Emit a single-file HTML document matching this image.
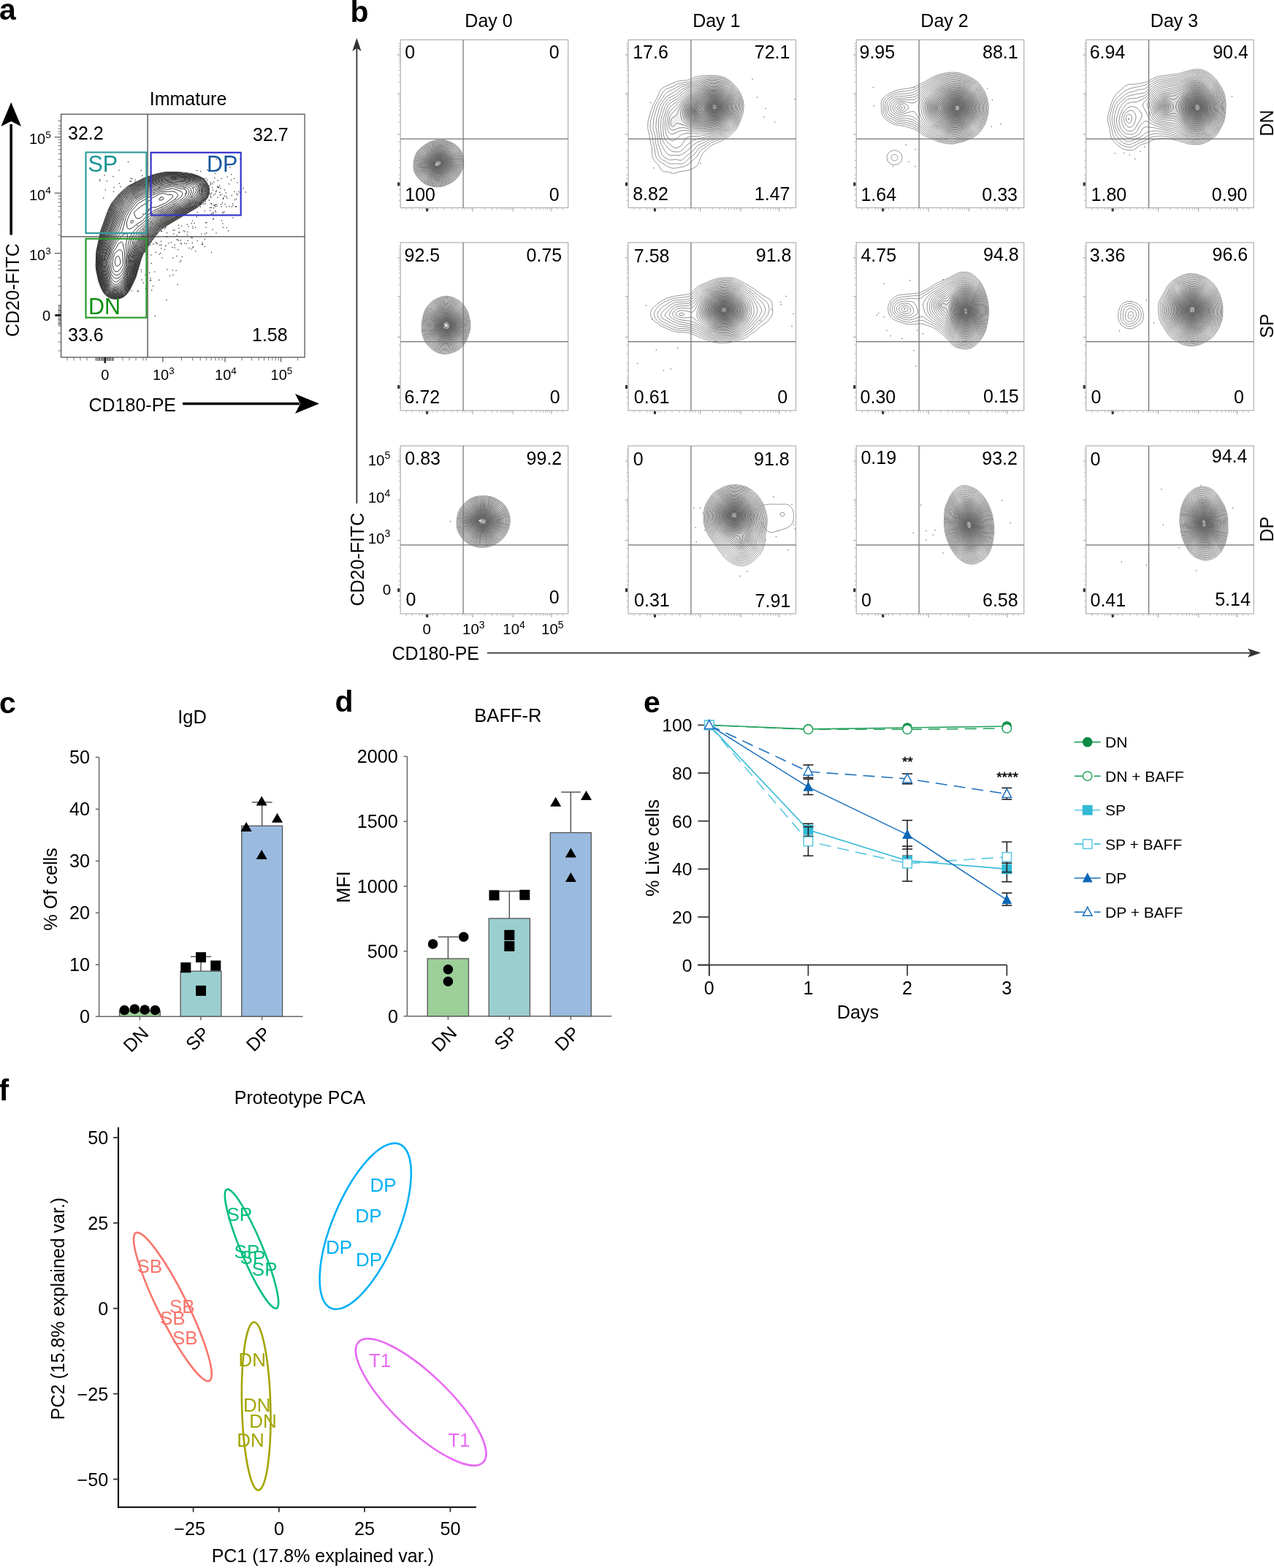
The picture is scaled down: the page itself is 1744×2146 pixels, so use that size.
<!DOCTYPE html>
<html><head><meta charset="utf-8"><title>Figure</title>
<style>html,body{margin:0;padding:0;background:#fff;}svg{display:block;}</style></head>
<body><svg width="1744" height="2146" viewBox="0 0 1744 2146" font-family="'Liberation Sans', Arial, Helvetica, sans-serif">
<rect width="1744" height="2146" fill="#fff"/>
<text x="-1" y="26.5" font-size="41" font-weight="bold">a</text>
<text x="257.5" y="143.5" font-size="25" text-anchor="middle">Immature</text>
<line x1="15.2" y1="170" x2="15.2" y2="321.5" stroke="#000" stroke-width="3.6"/>
<path d="M15.2,140 L29,173 L15.2,166 L1.4,173 Z" fill="#000"/>
<line x1="250" y1="552.5" x2="410" y2="552.5" stroke="#000" stroke-width="3.6"/>
<path d="M437,552.5 L404,539 L411,552.5 L404,566 Z" fill="#000"/>
<text x="121.5" y="562.6" font-size="25">CD180-PE</text>
<text x="25.5" y="461" font-size="25" transform="rotate(-90 25.5 461)">CD20-FITC</text>
<clipPath id="ca"><rect x="83.6" y="156.3" width="333.5" height="332.7"/></clipPath>
<g clip-path="url(#ca)" fill="none" stroke-linejoin="round">
<path d="M159.6,409.3 154.6,409.1 149.6,407.4 145.1,404.3 141.3,399.8 138.3,393.8 134.9,384.8 131.9,370.8 131.1,363.8 131.8,344.3 137.9,315.8 147.3,289.3 150.8,281.8 153.7,276.8 163.1,265.3 171.6,257.5 175.6,254.5 197.6,243.4 213.6,238.1 226.6,235.4 244.1,235.5 256.6,236.7 263.6,238.0 272.6,241.1 278.1,244.1 281.0,246.8 283.5,250.3 285.2,253.8 286.2,257.8 286.6,261.8 286.2,265.3 284.9,268.8 283.1,271.8 277.3,278.3 270.6,283.6 227.3,309.3 221.1,313.7 216.6,318.1 205.6,332.8 196.1,347.4 193.6,353.5 185.8,379.8 181.8,388.8 176.7,398.3 172.8,403.3 169.1,406.4 164.6,408.4 159.6,409.3" fill="none" stroke="#191919" stroke-width="0.85"/>
<path d="M162.1,408.3 156.6,408.7 151.6,407.6 146.1,404.4 142.3,400.3 139.8,395.8 135.9,385.8 132.8,372.3 131.7,364.8 132.4,344.8 138.8,315.8 148.3,289.3 151.4,282.3 154.4,277.3 163.9,265.8 175.6,255.5 198.1,244.1 213.1,239.0 226.1,236.2 242.1,236.1 262.6,238.5 271.1,241.2 277.1,244.2 280.1,246.8 282.4,249.8 284.3,253.3 285.3,256.8 285.8,261.3 285.5,264.8 284.4,268.3 282.6,271.3 276.7,277.8 270.6,282.7 226.6,308.8 220.3,313.3 215.8,317.8 205.1,331.9 195.1,347.8 192.6,354.3 185.3,379.3 176.9,396.8 173.8,401.3 170.1,405.0 166.6,407.0 162.1,408.3" fill="none" stroke="#191919" stroke-width="0.85"/>
<path d="M161.1,407.9 155.6,408.0 151.1,406.7 146.4,403.8 142.7,399.8 139.8,394.3 136.4,385.3 133.3,371.8 132.3,364.8 133.0,344.8 139.3,317.3 148.8,290.3 151.8,283.3 154.7,278.3 164.6,266.3 176.6,255.9 198.1,245.0 213.1,239.9 226.1,237.0 241.6,236.8 263.1,239.4 271.6,242.1 277.1,245.1 281.9,250.3 283.6,253.8 284.6,257.3 284.9,264.3 283.8,267.8 282.0,270.8 276.2,277.3 270.1,282.1 225.2,308.8 219.6,312.8 215.1,317.3 205.1,330.3 194.6,347.1 192.0,353.8 184.8,378.8 176.3,396.8 173.1,401.3 169.6,404.6 166.1,406.6 161.1,407.9" fill="none" stroke="#191919" stroke-width="0.85"/>
<path d="M160.1,407.3 155.1,407.2 150.6,405.8 146.1,402.7 142.8,398.8 140.3,393.8 136.9,384.8 133.7,370.8 132.9,364.3 133.8,344.8 140.0,317.8 149.8,290.3 152.8,283.3 155.6,278.6 165.4,266.8 177.1,256.7 198.6,245.7 213.6,240.7 226.6,237.7 241.1,237.5 263.1,240.1 271.1,242.7 276.6,245.7 281.3,250.8 283.8,257.3 284.0,264.3 283.1,267.3 281.4,270.3 275.6,276.8 269.6,281.5 224.4,308.3 219.1,312.1 214.9,316.3 204.6,329.4 194.6,345.4 191.1,354.1 184.4,378.3 175.9,396.3 172.7,400.8 169.1,404.2 165.1,406.3 160.1,407.3" fill="none" stroke="#181818" stroke-width="0.85"/>
<path d="M162.1,406.4 156.6,406.7 152.1,405.7 147.6,403.1 143.9,399.3 141.2,394.3 137.7,385.3 134.4,370.8 133.6,364.8 134.3,346.3 138.4,327.3 141.8,314.8 149.3,294.3 153.3,284.3 156.1,279.5 165.7,267.8 177.1,257.9 198.6,246.7 212.1,242.0 226.1,238.6 240.1,238.3 263.1,240.9 270.1,243.1 275.6,246.0 280.3,250.8 282.9,256.8 283.2,263.8 282.4,266.8 280.8,269.8 275.1,276.2 269.6,280.6 222.9,308.3 218.1,311.8 213.6,316.5 204.1,328.4 194.1,344.6 190.5,353.3 183.8,377.8 175.5,395.8 172.7,399.8 169.6,403.0 166.1,405.1 162.1,406.4" fill="none" stroke="#181818" stroke-width="0.85"/>
<path d="M160.6,405.9 155.6,405.9 151.1,404.5 147.1,401.9 144.1,398.3 141.3,392.8 138.3,384.8 134.9,370.3 134.2,364.3 135.1,346.3 138.9,328.3 142.5,315.8 149.4,296.8 153.9,285.3 156.7,280.3 166.6,268.3 177.6,258.8 199.1,247.4 211.6,243.1 226.1,239.4 239.6,239.0 262.6,241.6 269.6,243.7 275.1,246.7 279.7,251.3 282.1,257.3 282.2,264.3 279.7,269.8 274.6,275.6 269.1,279.9 256.1,288.0 222.0,307.8 217.4,311.3 212.6,316.3 203.1,328.1 193.6,343.6 189.6,353.6 183.0,378.3 174.8,395.8 171.9,399.8 168.6,402.9 165.1,404.8 160.6,405.9" fill="none" stroke="#181818" stroke-width="0.85"/>
<path d="M162.1,404.9 157.1,405.3 152.6,404.3 148.1,401.8 144.9,398.3 142.3,393.3 138.9,384.3 135.5,369.8 134.8,364.3 135.8,346.8 139.7,328.8 143.3,316.3 149.9,298.3 155.0,285.3 157.6,280.8 167.1,269.2 177.6,260.0 198.1,248.9 208.1,245.0 225.6,240.4 239.1,239.8 263.1,242.5 269.6,244.6 274.4,247.3 278.9,251.8 281.0,256.8 281.3,263.8 280.4,266.8 278.9,269.3 273.1,275.8 265.1,281.6 219.7,308.3 215.5,311.8 209.7,318.3 202.1,327.8 192.6,343.7 188.7,353.8 182.4,377.8 174.9,394.3 172.3,398.3 169.1,401.6 166.1,403.6 162.1,404.9" fill="none" stroke="#181818" stroke-width="0.85"/>
<path d="M160.6,404.3 156.1,404.4 151.6,403.1 147.6,400.4 144.8,396.8 139.5,383.8 136.2,369.8 135.5,363.3 136.5,347.3 140.4,329.3 144.2,316.8 150.4,299.8 156.0,285.8 158.5,281.3 168.0,269.8 178.1,260.9 193.1,252.5 202.1,248.0 207.6,246.0 226.1,241.2 238.6,240.6 262.6,243.2 268.6,245.1 273.6,247.9 278.1,252.3 280.1,257.3 280.2,263.8 277.7,269.3 272.6,275.0 263.6,281.5 219.5,307.3 214.8,311.3 208.6,318.1 201.6,326.8 192.1,342.6 188.0,353.3 181.9,377.3 174.1,394.3 171.4,398.3 168.1,401.5 164.6,403.4 160.6,404.3" fill="none" stroke="#181818" stroke-width="0.85"/>
<path d="M161.6,403.3 156.6,403.6 152.6,402.7 148.6,400.3 145.6,396.8 142.9,391.3 140.2,383.8 136.9,369.3 136.2,363.3 137.4,347.3 141.1,329.8 145.2,316.8 151.5,299.8 157.0,286.3 159.2,282.3 168.5,270.8 178.1,262.2 192.1,254.0 203.1,248.5 207.1,247.1 226.1,242.2 238.6,241.5 252.1,242.6 262.6,244.1 268.1,245.8 272.5,248.3 277.1,252.6 279.1,257.3 278.9,264.3 276.5,269.3 271.6,274.6 262.6,281.0 253.1,287.0 238.4,294.8 219.1,306.4 214.1,310.7 207.1,318.3 200.6,326.4 191.6,341.3 187.1,353.1 184.7,364.3 181.3,376.8 173.9,393.3 171.3,397.3 168.3,400.3 165.1,402.3 161.6,403.3" fill="none" stroke="#171717" stroke-width="0.85"/>
<path d="M158.6,402.8 154.6,402.5 151.1,401.1 148.1,398.7 145.3,394.8 142.3,387.8 140.5,381.8 137.4,367.8 136.9,361.8 138.2,347.8 141.9,330.3 146.1,317.3 152.9,299.3 158.2,286.3 160.6,282.3 169.1,271.8 178.6,263.2 191.6,255.4 206.6,248.1 226.1,243.2 238.1,242.4 251.6,243.4 262.6,245.0 267.6,246.6 271.6,248.9 276.1,253.1 277.9,257.3 277.8,263.8 275.2,269.3 269.7,274.8 254.1,285.4 238.3,293.8 219.1,305.1 214.1,309.3 206.6,317.3 200.1,325.3 190.9,340.3 186.1,353.3 183.9,364.3 180.5,376.8 173.1,393.3 170.1,397.5 166.6,400.5 163.1,402.1 158.6,402.8" fill="none" stroke="#171717" stroke-width="0.85"/>
<path d="M159.6,401.8 155.1,401.7 151.6,400.4 148.6,398.0 146.0,394.3 143.3,388.3 141.2,381.8 138.1,367.3 137.7,361.3 138.9,348.8 142.9,330.3 154.8,297.8 159.4,286.8 161.7,282.8 169.6,273.0 179.1,264.2 191.6,256.6 206.6,249.1 226.1,244.3 238.1,243.4 251.6,244.3 262.1,245.8 266.6,247.2 270.3,249.3 274.8,253.3 276.7,257.3 276.5,263.8 274.2,268.8 269.1,273.9 253.1,285.0 237.2,293.3 218.6,304.2 213.1,308.9 205.1,317.5 199.1,324.9 189.9,339.8 185.3,352.8 183.3,363.8 179.9,376.3 172.7,392.3 170.1,396.2 167.1,399.1 163.6,401.0 159.6,401.8" fill="none" stroke="#171717" stroke-width="0.85"/>
<path d="M160.1,400.8 155.6,400.9 152.1,399.7 149.1,397.3 146.3,393.3 143.7,387.3 141.8,380.8 138.8,366.8 138.4,360.8 139.8,348.8 144.0,330.3 157.3,294.8 160.5,287.3 162.9,283.3 170.1,274.2 179.6,265.2 192.1,257.5 206.6,250.1 225.6,245.5 237.6,244.4 251.6,245.3 261.6,246.8 265.6,247.9 269.1,249.8 273.6,253.8 275.4,257.3 275.3,263.3 273.1,268.3 267.6,273.6 252.1,284.5 236.9,292.3 218.6,302.8 212.2,308.3 203.6,317.5 198.1,324.4 189.0,339.3 184.4,352.8 182.3,364.3 179.1,376.3 172.3,391.3 170.1,394.8 167.1,397.9 164.1,399.7 160.1,400.8" fill="none" stroke="#171717" stroke-width="0.85"/>
<path d="M159.6,399.8 155.6,399.9 152.1,398.6 149.1,395.9 146.8,392.3 144.2,386.3 142.3,379.3 139.5,365.8 139.3,359.8 140.4,350.3 144.9,330.8 158.8,294.3 162.0,287.3 164.5,283.3 170.6,275.5 180.1,266.3 192.1,258.8 207.1,251.1 226.1,246.5 237.6,245.5 251.6,246.3 261.1,247.8 265.1,248.9 268.4,250.8 272.7,254.8 274.2,258.8 273.4,264.8 270.1,269.8 261.6,276.8 250.6,284.3 236.4,291.3 217.6,302.1 209.6,309.3 198.2,322.3 189.6,335.5 187.6,339.7 183.4,352.8 181.5,364.3 178.4,375.8 172.9,388.3 170.1,393.2 167.1,396.5 163.6,398.7 159.6,399.8" fill="none" stroke="#161616" stroke-width="0.85"/>
<path d="M159.1,398.8 155.1,398.7 152.1,397.3 149.1,394.4 146.8,390.3 144.5,384.3 142.7,377.3 140.3,365.3 140.2,358.8 141.4,350.3 146.1,330.8 160.4,293.8 166.1,283.3 171.6,276.3 181.1,267.0 192.6,259.9 207.1,252.2 226.6,247.6 237.6,246.6 253.1,247.6 262.6,249.4 267.5,251.8 271.5,255.8 272.7,259.3 271.8,264.8 268.5,269.3 260.6,276.1 249.6,283.7 235.8,290.3 217.3,300.8 209.1,308.0 197.6,321.1 188.7,334.8 186.6,339.1 182.3,353.3 180.7,363.8 177.8,374.8 173.4,385.3 170.1,391.5 167.1,395.1 163.6,397.5 159.1,398.8" fill="none" stroke="#161616" stroke-width="0.85"/>
<path d="M157.6,397.8 154.1,397.2 151.3,395.3 148.9,392.3 146.5,387.3 144.3,380.3 141.5,366.3 141.0,361.8 141.2,356.8 146.4,334.3 150.7,322.3 162.6,292.3 165.9,286.3 170.5,279.8 182.1,267.8 192.6,261.3 207.6,253.4 226.6,248.9 237.6,247.8 253.1,248.8 262.1,250.8 266.6,253.2 270.3,257.3 270.9,261.3 269.2,265.8 263.8,271.8 258.6,276.1 248.6,283.0 235.6,289.0 217.2,299.3 208.9,306.3 196.6,320.3 187.8,333.8 185.6,338.4 181.1,353.8 179.4,365.8 176.3,376.8 173.4,383.3 169.6,390.3 166.6,394.0 162.6,396.6 157.6,397.8" fill="none" stroke="#161616" stroke-width="0.85"/>
<path d="M159.6,396.3 156.1,396.5 153.1,395.2 150.2,392.3 148.0,388.3 145.7,381.8 142.7,367.3 142.0,362.3 142.1,357.3 143.3,350.8 148.5,331.8 163.8,293.3 167.0,287.3 171.3,281.3 179.6,271.8 182.9,268.8 204.6,256.1 207.6,254.8 226.6,250.2 236.6,249.1 252.6,250.1 260.6,252.1 264.6,254.2 267.9,257.8 268.6,259.8 268.4,261.8 266.2,266.3 261.1,272.3 247.6,282.1 235.1,287.8 217.6,297.3 208.6,304.6 194.8,320.3 186.6,333.2 184.1,339.0 180.0,353.8 178.7,364.8 173.9,380.3 170.1,387.5 167.0,391.8 163.6,394.7 159.6,396.3" fill="none" stroke="#161616" stroke-width="0.85"/>
<path d="M160.1,394.8 156.6,395.1 153.6,394.0 151.1,391.5 148.7,387.3 146.7,381.3 143.9,368.3 143.0,362.3 143.0,357.8 143.9,352.3 149.2,333.8 165.3,293.8 169.4,286.8 175.4,278.8 183.1,270.3 207.1,256.6 226.6,251.7 236.1,250.4 245.6,251.6 252.6,251.7 258.5,253.3 261.6,254.9 264.6,258.3 265.2,261.8 262.9,267.3 259.3,271.8 247.1,280.8 234.9,286.3 226.6,291.2 220.1,293.9 211.7,299.8 206.6,304.5 191.4,322.3 185.1,332.9 182.0,341.3 178.7,354.8 177.9,364.3 173.5,378.8 170.1,385.3 166.7,390.3 163.6,393.2 160.1,394.8" fill="none" stroke="#161616" stroke-width="0.85"/>
<path d="M160.1,393.3 157.1,393.6 154.1,392.5 151.6,389.9 149.6,386.3 147.8,381.3 145.3,369.8 144.2,362.3 144.1,357.3 144.9,352.8 150.0,335.3 160.0,312.3 167.1,293.8 170.0,288.8 181.1,274.3 184.0,271.3 207.1,258.3 214.1,256.9 223.1,254.2 235.6,251.8 239.1,252.0 245.6,253.4 252.6,253.6 256.6,254.7 259.1,256.1 261.5,259.3 261.9,262.8 260.3,267.3 257.2,271.3 246.1,279.4 234.6,284.8 226.6,289.5 219.1,292.6 210.1,298.9 193.9,316.3 187.3,324.3 183.3,332.8 180.4,341.8 177.6,354.5 176.9,364.3 173.0,377.3 170.1,383.1 166.1,388.8 163.1,391.8 160.1,393.3" fill="none" stroke="#151515" stroke-width="0.85"/>
<path d="M158.6,391.9 156.1,391.5 154.1,390.3 152.0,387.8 150.0,383.8 146.4,369.3 145.3,361.3 145.3,356.8 151.1,336.3 161.8,313.3 168.5,294.8 171.1,290.2 182.8,274.8 185.1,272.4 207.1,260.3 214.1,258.8 222.1,256.2 235.6,253.4 239.1,253.6 245.6,255.5 252.6,255.8 256.6,257.5 258.6,260.3 258.8,263.8 257.1,267.8 254.1,271.3 245.1,277.7 226.1,288.0 218.1,291.3 209.1,297.5 206.1,300.2 199.1,308.5 192.6,314.8 184.6,323.8 182.7,327.3 179.2,339.8 176.4,354.3 176.0,363.8 172.1,376.5 169.1,382.3 164.6,388.2 161.6,390.8 158.6,391.9" fill="none" stroke="#151515" stroke-width="0.85"/>
<path d="M159.6,389.4 157.1,389.5 155.1,388.4 152.9,385.8 151.1,382.3 147.6,369.3 146.5,360.3 146.6,356.3 152.1,337.7 160.1,321.5 164.3,314.3 170.4,295.3 172.9,290.8 186.1,273.9 207.6,262.2 221.1,258.4 235.6,255.3 238.6,255.6 244.6,257.7 251.1,258.5 253.6,259.5 255.2,261.8 255.0,264.8 253.2,268.3 250.4,271.3 243.3,276.3 225.6,286.3 216.3,290.3 207.4,296.3 198.1,306.6 191.1,312.6 182.0,322.8 180.1,326.6 177.9,335.3 175.2,354.3 175.0,363.3 171.7,373.8 169.9,378.3 167.1,382.5 162.6,387.6 159.6,389.4" fill="none" stroke="#151515" stroke-width="0.85"/>
<path d="M159.6,386.0 157.6,386.0 155.6,384.9 153.6,382.6 152.1,379.5 149.0,369.3 147.9,359.8 148.0,356.3 152.1,342.3 155.1,335.2 162.6,322.3 167.6,315.8 172.6,296.4 176.2,289.8 187.6,275.6 208.6,264.2 220.6,260.5 229.1,259.6 235.6,258.0 238.6,258.4 248.5,262.3 249.8,263.8 249.7,266.3 248.3,268.8 245.4,271.8 231.6,280.7 223.3,285.3 214.6,288.9 205.7,294.8 202.9,297.3 197.1,304.2 188.8,310.3 180.6,319.5 177.9,324.8 175.2,335.3 174.9,346.3 173.8,354.8 173.9,361.8 173.1,365.8 170.0,374.3 167.6,378.8 163.6,383.2 159.6,386.0" fill="none" stroke="#151515" stroke-width="0.85"/>
<path d="M177.6,313.3 175.6,313.2 174.0,310.8 173.3,305.8 174.1,301.4 179.5,289.3 189.6,278.1 208.1,267.3 220.1,262.6 229.6,262.4 236.1,261.7 240.1,263.0 243.0,265.3 243.5,266.8 242.9,268.8 241.1,271.3 238.8,273.3 228.1,280.2 209.6,288.9 201.5,294.8 194.8,302.3 188.1,306.1 181.6,311.7 177.6,313.3M160.6,380.9 158.1,381.0 156.1,380.1 154.1,378.0 152.1,374.3 150.4,368.3 149.6,359.3 149.8,356.3 153.5,343.3 159.3,331.8 166.1,323.2 170.1,320.5 173.1,319.4 174.2,320.3 174.6,322.8 172.2,336.3 173.0,345.8 172.3,363.3 169.6,370.8 167.1,375.8 164.1,379.1 160.6,380.9" fill="none" stroke="#151515" stroke-width="0.85"/>
<path d="M191.1,298.8 188.1,299.1 186.1,298.1 183.6,292.3 184.2,289.8 192.6,282.7 201.1,277.4 208.6,270.8 217.6,265.9 221.1,264.8 224.6,264.9 230.6,266.5 234.6,266.5 236.6,267.7 236.7,269.3 235.6,270.8 227.1,277.6 214.6,283.3 206.1,284.3 202.6,289.3 197.4,293.3 193.6,297.4 191.1,298.8M180.1,305.4 178.8,304.8 178.8,303.3 180.1,301.9 182.1,301.6 182.7,302.3 182.5,303.3 181.4,304.8 180.1,305.4M161.1,376.4 158.6,376.5 156.6,375.7 153.6,372.2 152.2,367.3 151.7,357.3 155.6,344.1 159.1,339.3 162.1,333.6 164.6,331.6 166.6,331.1 168.0,332.8 170.5,344.8 170.8,361.8 169.6,365.6 166.1,372.5 163.6,375.2 161.1,376.4" fill="none" stroke="#141414" stroke-width="0.85"/>
<path d="M221.1,273.9 218.2,273.8 217.7,272.3 219.6,270.1 222.1,269.6 223.4,270.3 223.9,271.8 223.1,273.0 221.1,273.9M160.1,371.9 157.4,371.3 155.4,368.8 154.2,362.8 154.1,357.3 156.1,349.7 157.6,346.4 161.6,342.6 164.6,341.6 166.6,343.2 167.6,345.8 168.5,360.8 167.5,363.8 164.1,368.8 162.1,371.0 160.1,371.9" fill="none" stroke="#141414" stroke-width="0.85"/>
<path d="M161.6,363.9 160.1,364.2 158.6,363.4 157.6,361.3 157.3,358.8 157.6,355.8 158.6,353.0 160.1,351.0 161.6,350.3 162.6,350.9 163.6,352.9 165.1,358.8 164.2,361.8 161.6,363.9" fill="none" stroke="#141414" stroke-width="0.85"/>
</g>
<path d="M328.7,216.9h0M299.5,256.6h0M283.9,263.7h0M255.6,263.4h0M276.4,334.5h0M296.1,260.9h0M286.9,254.6h0M273.0,260.2h0M300.7,263.2h0M309.2,264.0h0M292.4,298.9h0M301.8,257.9h0M288.7,278.8h0M326.8,262.6h0M287.6,288.0h0M276.0,262.2h0M307.9,279.6h0M293.6,281.4h0M241.1,288.4h0M274.7,234.6h0M297.0,282.0h0M284.0,246.5h0M292.5,266.9h0M317.3,282.9h0M295.5,290.2h0M288.3,249.5h0M302.5,279.7h0M288.1,252.3h0M296.1,218.1h0M304.4,277.8h0M262.5,269.2h0M274.6,283.1h0M255.4,249.7h0M304.8,291.1h0M253.2,258.0h0M297.9,255.8h0M320.6,244.2h0M298.4,247.0h0M317.3,267.6h0M285.3,233.6h0M322.3,283.1h0M305.6,290.8h0M298.3,255.2h0M277.6,252.0h0M316.7,238.8h0M281.3,261.6h0M296.0,279.5h0M269.5,233.4h0M291.9,292.3h0M305.6,272.3h0M286.3,273.9h0M287.6,284.3h0M277.7,270.7h0M290.0,278.9h0M296.0,319.0h0M319.0,297.9h0M255.3,261.2h0M281.0,278.7h0M251.0,291.5h0M311.2,242.0h0M274.4,252.0h0M292.8,280.8h0M328.9,264.1h0M305.8,271.1h0M323.7,282.8h0M316.6,246.4h0M288.5,251.7h0M319.1,281.2h0M286.5,259.0h0M300.7,254.0h0M275.2,277.6h0M336.3,263.1h0M282.0,244.6h0M268.0,278.5h0M307.3,268.2h0M298.0,270.3h0M294.5,237.5h0M283.8,270.2h0M277.9,258.5h0M277.3,261.3h0M307.4,259.9h0M289.2,284.3h0M303.6,301.9h0M254.4,285.1h0M283.3,270.7h0M307.1,289.7h0M310.7,271.1h0M321.0,262.3h0M289.5,284.0h0M282.1,311.2h0M310.3,311.5h0M291.5,260.3h0M295.0,282.7h0M281.4,275.6h0M291.7,300.3h0M280.1,288.9h0M280.4,248.8h0M279.2,244.2h0M294.6,288.6h0M295.0,280.5h0M321.4,273.4h0M295.5,262.5h0M263.1,283.2h0M260.4,281.1h0M291.7,290.5h0M290.8,251.5h0M298.4,256.8h0M288.7,268.8h0M289.6,264.2h0M277.0,264.2h0M253.5,264.9h0M270.4,290.4h0M314.9,229.0h0M294.6,265.5h0M273.2,278.6h0M283.7,232.6h0M287.2,265.0h0M293.9,243.4h0M303.1,282.7h0M271.4,254.8h0M290.6,256.7h0M323.4,272.2h0M273.8,252.2h0M291.0,313.9h0M288.8,270.5h0M301.3,267.2h0M333.1,257.4h0M305.4,271.2h0M303.2,244.5h0M323.8,265.6h0M292.6,249.3h0M278.9,279.3h0M309.8,283.1h0M313.8,282.3h0M292.5,284.7h0M302.7,266.0h0M305.1,293.7h0M296.2,260.9h0M304.9,306.0h0M288.2,266.2h0M289.5,292.5h0M258.9,275.3h0M313.5,251.7h0M318.8,278.7h0M282.1,272.1h0M264.4,256.7h0M324.9,250.1h0M325.2,266.4h0M309.9,268.9h0M251.7,256.5h0M245.3,295.0h0M202.3,325.3h0M221.8,284.1h0M220.8,335.2h0M226.7,336.7h0M282.8,318.7h0M208.4,292.0h0M239.3,335.6h0M247.5,328.9h0M227.6,324.0h0M226.8,311.5h0M203.8,286.6h0M226.5,295.8h0M213.2,331.4h0M237.0,376.3h0M265.9,305.3h0M261.8,325.1h0M220.8,340.1h0M218.3,256.8h0M262.2,305.7h0M281.6,305.0h0M206.9,349.0h0M209.9,322.1h0M280.6,320.3h0M237.7,320.0h0M263.5,301.9h0M257.1,329.5h0M305.3,311.3h0M214.4,332.7h0M228.9,323.8h0M243.7,341.4h0M221.6,316.2h0M168.5,300.2h0M283.0,304.4h0M220.4,293.6h0M256.2,321.6h0M206.8,331.3h0M247.3,333.1h0M222.0,352.8h0M251.5,315.7h0M225.5,313.1h0M264.0,312.6h0M270.2,329.6h0M277.7,334.3h0M238.2,279.8h0M248.4,333.8h0M244.6,329.1h0M226.8,310.4h0M213.6,345.2h0M244.4,308.2h0M202.7,314.9h0M280.4,327.2h0M219.7,346.6h0M280.0,337.6h0M262.1,341.1h0M255.2,333.5h0M218.2,348.0h0M246.5,358.5h0M182.8,332.1h0M267.5,311.1h0M252.7,333.0h0M256.2,307.2h0M236.0,338.4h0M275.8,320.0h0M242.2,322.0h0M269.1,296.9h0M202.8,320.5h0M209.0,306.3h0M242.4,327.7h0M210.0,334.0h0M190.3,328.9h0M195.8,292.5h0M258.0,309.9h0M217.7,309.1h0M253.0,316.9h0M239.2,339.1h0M219.9,308.6h0M225.4,341.4h0M267.8,343.7h0M239.1,314.9h0M263.9,310.1h0M263.3,332.5h0M220.4,316.3h0M236.7,352.7h0M312.5,316.0h0M240.4,272.4h0M245.9,317.9h0M210.0,333.7h0M196.2,313.7h0M243.9,293.0h0M264.0,339.1h0M201.2,289.8h0M256.9,317.4h0M206.1,312.1h0M237.0,315.1h0M263.2,325.7h0M289.5,345.5h0M259.0,339.5h0M277.1,332.1h0M205.7,335.2h0M242.0,350.4h0M242.6,328.5h0M249.2,351.6h0M245.0,312.6h0M248.7,309.2h0M244.5,317.9h0M247.6,356.5h0M228.6,318.7h0M234.4,331.5h0M206.9,304.1h0M199.0,376.4h0M198.8,345.0h0M178.3,375.4h0M236.1,369.7h0M204.7,373.3h0M176.4,350.6h0M193.3,368.9h0M199.2,323.5h0M228.1,410.8h0M193.4,372.0h0M206.7,383.5h0M163.0,408.4h0M188.3,397.9h0M202.0,348.3h0M196.5,386.9h0M178.4,348.7h0M187.9,308.5h0M232.5,377.4h0M199.5,394.9h0M176.1,357.8h0M243.1,389.4h0M144.4,260.0h0M174.1,391.8h0M188.2,353.5h0M215.2,333.4h0M205.3,383.8h0M211.7,371.9h0M184.9,375.4h0M189.3,399.1h0M264.3,337.8h0M145.6,347.2h0M209.4,391.5h0M227.0,336.5h0M180.2,398.0h0M172.7,392.7h0M194.3,383.0h0M217.7,383.3h0M220.5,330.3h0M207.4,360.4h0M207.7,397.0h0M193.2,338.6h0M181.8,350.7h0M218.8,335.6h0M229.0,368.7h0M194.3,320.1h0M206.1,380.7h0M155.9,395.8h0M241.2,370.2h0M212.3,432.4h0M230.8,333.1h0M179.5,248.1h0M175.5,221.6h0M202.7,242.4h0M184.9,248.4h0M206.1,246.5h0M156.1,256.4h0M222.1,246.2h0M221.1,253.1h0M164.0,268.3h0M155.4,262.2h0M165.1,255.4h0M143.0,239.9h0M212.0,252.3h0M181.1,244.7h0M193.4,233.2h0M146.4,248.1h0M155.0,241.6h0M177.9,248.3h0M173.3,270.0h0M210.3,264.8h0M179.2,243.9h0M136.4,245.8h0M117.4,243.0h0M202.9,269.5h0M209.0,239.7h0M194.8,240.5h0M204.7,248.7h0M205.7,280.9h0M207.7,278.0h0M185.3,246.0h0M220.0,270.7h0M163.3,250.9h0M137.0,247.6h0M206.6,249.0h0M162.9,233.1h0M191.0,259.6h0M197.9,253.1h0M141.8,271.1h0M178.3,248.3h0M202.0,224.0h0" stroke="#333" stroke-width="1.5" stroke-linecap="round" fill="none"/>
<rect x="83.6" y="156.3" width="333.5" height="332.7" fill="none" stroke="#555" stroke-width="1.3"/>
<line x1="202.1" y1="156.3" x2="202.1" y2="489" stroke="#444" stroke-width="1.3"/>
<line x1="83.6" y1="323.9" x2="417.1" y2="323.9" stroke="#444" stroke-width="1.3"/>
<rect x="117.5" y="208.5" width="83" height="110.6" fill="none" stroke="#339c9c" stroke-width="2.2"/>
<rect x="206.6" y="208.8" width="123.1" height="85.7" fill="none" stroke="#3434cc" stroke-width="2.2"/>
<rect x="117.5" y="326.7" width="83" height="108" fill="none" stroke="#2e9a2e" stroke-width="2.2"/>
<text x="120.5" y="235.4" font-size="30.5" fill="#179393">SP</text>
<text x="283" y="235.4" font-size="30.5" fill="#15569a">DP</text>
<text x="121" y="429.6" font-size="30.5" fill="#0f8f0f">DN</text>
<text x="93" y="190.5" font-size="25">32.2</text>
<text x="346" y="193.1" font-size="25">32.7</text>
<text x="93" y="466.5" font-size="25">33.6</text>
<text x="345" y="466.5" font-size="25">1.58</text>
<line x1="74.7" y1="187.7" x2="83.6" y2="187.7" stroke="#555" stroke-width="1.2"/>
<text x="40" y="197.4" font-size="20">10<tspan font-size="13.5" dy="-8.5">5</tspan></text>
<line x1="74.7" y1="264.2" x2="83.6" y2="264.2" stroke="#555" stroke-width="1.2"/>
<text x="40" y="273.9" font-size="20">10<tspan font-size="13.5" dy="-8.5">4</tspan></text>
<line x1="74.7" y1="346.7" x2="83.6" y2="346.7" stroke="#555" stroke-width="1.2"/>
<text x="40" y="356.4" font-size="20">10<tspan font-size="13.5" dy="-8.5">3</tspan></text>
<line x1="74.7" y1="431.5" x2="83.6" y2="431.5" stroke="#555" stroke-width="1.2"/>
<text x="69" y="439" font-size="20" text-anchor="end">0</text>
<line x1="79.5" y1="241.2" x2="83.6" y2="241.2" stroke="#666" stroke-width="0.9"/>
<line x1="79.5" y1="227.7" x2="83.6" y2="227.7" stroke="#666" stroke-width="0.9"/>
<line x1="79.5" y1="218.1" x2="83.6" y2="218.1" stroke="#666" stroke-width="0.9"/>
<line x1="79.5" y1="210.7" x2="83.6" y2="210.7" stroke="#666" stroke-width="0.9"/>
<line x1="79.5" y1="204.7" x2="83.6" y2="204.7" stroke="#666" stroke-width="0.9"/>
<line x1="79.5" y1="199.5" x2="83.6" y2="199.5" stroke="#666" stroke-width="0.9"/>
<line x1="79.5" y1="195.1" x2="83.6" y2="195.1" stroke="#666" stroke-width="0.9"/>
<line x1="79.5" y1="191.2" x2="83.6" y2="191.2" stroke="#666" stroke-width="0.9"/>
<line x1="79.5" y1="321.9" x2="83.6" y2="321.9" stroke="#666" stroke-width="0.9"/>
<line x1="79.5" y1="307.3" x2="83.6" y2="307.3" stroke="#666" stroke-width="0.9"/>
<line x1="79.5" y1="297" x2="83.6" y2="297" stroke="#666" stroke-width="0.9"/>
<line x1="79.5" y1="289" x2="83.6" y2="289" stroke="#666" stroke-width="0.9"/>
<line x1="79.5" y1="282.5" x2="83.6" y2="282.5" stroke="#666" stroke-width="0.9"/>
<line x1="79.5" y1="277" x2="83.6" y2="277" stroke="#666" stroke-width="0.9"/>
<line x1="79.5" y1="272.2" x2="83.6" y2="272.2" stroke="#666" stroke-width="0.9"/>
<line x1="79.5" y1="268" x2="83.6" y2="268" stroke="#666" stroke-width="0.9"/>
<line x1="79.5" y1="165.5" x2="83.6" y2="165.5" stroke="#666" stroke-width="0.9"/>
<line x1="79.5" y1="172" x2="83.6" y2="172" stroke="#666" stroke-width="0.9"/>
<line x1="79.5" y1="176" x2="83.6" y2="176" stroke="#666" stroke-width="0.9"/>
<line x1="79.5" y1="180" x2="83.6" y2="180" stroke="#666" stroke-width="0.9"/>
<line x1="79.5" y1="183" x2="83.6" y2="183" stroke="#666" stroke-width="0.9"/>
<line x1="79.5" y1="357" x2="83.6" y2="357" stroke="#666" stroke-width="0.9"/>
<line x1="79.5" y1="363" x2="83.6" y2="363" stroke="#666" stroke-width="0.9"/>
<line x1="79.5" y1="368" x2="83.6" y2="368" stroke="#666" stroke-width="0.9"/>
<line x1="79.5" y1="380" x2="83.6" y2="380" stroke="#666" stroke-width="0.9"/>
<line x1="79.5" y1="392" x2="83.6" y2="392" stroke="#666" stroke-width="0.9"/>
<line x1="79.5" y1="404" x2="83.6" y2="404" stroke="#666" stroke-width="0.9"/>
<line x1="79.5" y1="418" x2="83.6" y2="418" stroke="#666" stroke-width="0.9"/>
<line x1="79.5" y1="425" x2="83.6" y2="425" stroke="#666" stroke-width="0.9"/>
<line x1="79.5" y1="437" x2="83.6" y2="437" stroke="#666" stroke-width="0.9"/>
<line x1="79.5" y1="443" x2="83.6" y2="443" stroke="#666" stroke-width="0.9"/>
<line x1="79.5" y1="456" x2="83.6" y2="456" stroke="#666" stroke-width="0.9"/>
<line x1="79.5" y1="468" x2="83.6" y2="468" stroke="#666" stroke-width="0.9"/>
<line x1="79.5" y1="480" x2="83.6" y2="480" stroke="#666" stroke-width="0.9"/>
<line x1="222.9" y1="489" x2="222.9" y2="495.5" stroke="#555" stroke-width="1.2"/>
<text x="208.9" y="520.4" font-size="20">10<tspan font-size="13.5" dy="-8.5">3</tspan></text>
<line x1="308.1" y1="489" x2="308.1" y2="495.5" stroke="#555" stroke-width="1.2"/>
<text x="294.1" y="520.4" font-size="20">10<tspan font-size="13.5" dy="-8.5">4</tspan></text>
<line x1="384.6" y1="489" x2="384.6" y2="495.5" stroke="#555" stroke-width="1.2"/>
<text x="370.6" y="520.4" font-size="20">10<tspan font-size="13.5" dy="-8.5">5</tspan></text>
<line x1="143.8" y1="489" x2="143.8" y2="496" stroke="#555" stroke-width="1.2"/>
<text x="143.8" y="520.4" font-size="20" text-anchor="middle">0</text>
<line x1="92" y1="489" x2="92" y2="493.5" stroke="#666" stroke-width="0.9"/>
<line x1="101" y1="489" x2="101" y2="493.5" stroke="#666" stroke-width="0.9"/>
<line x1="110" y1="489" x2="110" y2="493.5" stroke="#666" stroke-width="0.9"/>
<line x1="119" y1="489" x2="119" y2="493.5" stroke="#666" stroke-width="0.9"/>
<line x1="131" y1="489" x2="131" y2="493.5" stroke="#666" stroke-width="0.9"/>
<line x1="136" y1="489" x2="136" y2="493.5" stroke="#666" stroke-width="0.9"/>
<line x1="140" y1="489" x2="140" y2="493.5" stroke="#666" stroke-width="0.9"/>
<line x1="147" y1="489" x2="147" y2="493.5" stroke="#666" stroke-width="0.9"/>
<line x1="150" y1="489" x2="150" y2="493.5" stroke="#666" stroke-width="0.9"/>
<line x1="155" y1="489" x2="155" y2="493.5" stroke="#666" stroke-width="0.9"/>
<line x1="168" y1="489" x2="168" y2="493.5" stroke="#666" stroke-width="0.9"/>
<line x1="177" y1="489" x2="177" y2="493.5" stroke="#666" stroke-width="0.9"/>
<line x1="186" y1="489" x2="186" y2="493.5" stroke="#666" stroke-width="0.9"/>
<line x1="196" y1="489" x2="196" y2="493.5" stroke="#666" stroke-width="0.9"/>
<line x1="200" y1="489" x2="200" y2="493.5" stroke="#666" stroke-width="0.9"/>
<line x1="248.5" y1="489" x2="248.5" y2="493.5" stroke="#666" stroke-width="0.9"/>
<line x1="263.6" y1="489" x2="263.6" y2="493.5" stroke="#666" stroke-width="0.9"/>
<line x1="274.2" y1="489" x2="274.2" y2="493.5" stroke="#666" stroke-width="0.9"/>
<line x1="282.5" y1="489" x2="282.5" y2="493.5" stroke="#666" stroke-width="0.9"/>
<line x1="289.2" y1="489" x2="289.2" y2="493.5" stroke="#666" stroke-width="0.9"/>
<line x1="294.9" y1="489" x2="294.9" y2="493.5" stroke="#666" stroke-width="0.9"/>
<line x1="299.8" y1="489" x2="299.8" y2="493.5" stroke="#666" stroke-width="0.9"/>
<line x1="304.2" y1="489" x2="304.2" y2="493.5" stroke="#666" stroke-width="0.9"/>
<line x1="331.1" y1="489" x2="331.1" y2="493.5" stroke="#666" stroke-width="0.9"/>
<line x1="344.6" y1="489" x2="344.6" y2="493.5" stroke="#666" stroke-width="0.9"/>
<line x1="354.2" y1="489" x2="354.2" y2="493.5" stroke="#666" stroke-width="0.9"/>
<line x1="361.6" y1="489" x2="361.6" y2="493.5" stroke="#666" stroke-width="0.9"/>
<line x1="367.6" y1="489" x2="367.6" y2="493.5" stroke="#666" stroke-width="0.9"/>
<line x1="372.8" y1="489" x2="372.8" y2="493.5" stroke="#666" stroke-width="0.9"/>
<line x1="377.2" y1="489" x2="377.2" y2="493.5" stroke="#666" stroke-width="0.9"/>
<line x1="381.1" y1="489" x2="381.1" y2="493.5" stroke="#666" stroke-width="0.9"/>
<line x1="407.6" y1="489" x2="407.6" y2="493.5" stroke="#666" stroke-width="0.9"/>
<line x1="132" y1="489" x2="132" y2="494" stroke="#333" stroke-width="0.7"/>
<line x1="133.5" y1="489" x2="133.5" y2="494" stroke="#333" stroke-width="0.7"/>
<line x1="135.1" y1="489" x2="135.1" y2="494" stroke="#333" stroke-width="0.7"/>
<line x1="136.6" y1="489" x2="136.6" y2="494" stroke="#333" stroke-width="0.7"/>
<line x1="138.1" y1="489" x2="138.1" y2="494" stroke="#333" stroke-width="0.7"/>
<line x1="139.7" y1="489" x2="139.7" y2="494" stroke="#333" stroke-width="0.7"/>
<line x1="141.2" y1="489" x2="141.2" y2="494" stroke="#333" stroke-width="0.7"/>
<line x1="142.7" y1="489" x2="142.7" y2="494" stroke="#333" stroke-width="0.7"/>
<line x1="144.3" y1="489" x2="144.3" y2="494" stroke="#333" stroke-width="0.7"/>
<line x1="145.8" y1="489" x2="145.8" y2="494" stroke="#333" stroke-width="0.7"/>
<line x1="147.3" y1="489" x2="147.3" y2="494" stroke="#333" stroke-width="0.7"/>
<line x1="148.9" y1="489" x2="148.9" y2="494" stroke="#333" stroke-width="0.7"/>
<line x1="150.4" y1="489" x2="150.4" y2="494" stroke="#333" stroke-width="0.7"/>
<line x1="151.9" y1="489" x2="151.9" y2="494" stroke="#333" stroke-width="0.7"/>
<line x1="153.5" y1="489" x2="153.5" y2="494" stroke="#333" stroke-width="0.7"/>
<line x1="155" y1="489" x2="155" y2="494" stroke="#333" stroke-width="0.7"/>
<rect x="142.5" y="489.0" width="2.5" height="8" fill="#222"/>
<line x1="79.6" y1="418" x2="83.6" y2="418" stroke="#333" stroke-width="0.7"/>
<line x1="79.6" y1="419.9" x2="83.6" y2="419.9" stroke="#333" stroke-width="0.7"/>
<line x1="79.6" y1="421.7" x2="83.6" y2="421.7" stroke="#333" stroke-width="0.7"/>
<line x1="79.6" y1="423.6" x2="83.6" y2="423.6" stroke="#333" stroke-width="0.7"/>
<line x1="79.6" y1="425.5" x2="83.6" y2="425.5" stroke="#333" stroke-width="0.7"/>
<line x1="79.6" y1="427.3" x2="83.6" y2="427.3" stroke="#333" stroke-width="0.7"/>
<line x1="79.6" y1="429.2" x2="83.6" y2="429.2" stroke="#333" stroke-width="0.7"/>
<line x1="79.6" y1="431.1" x2="83.6" y2="431.1" stroke="#333" stroke-width="0.7"/>
<line x1="79.6" y1="432.9" x2="83.6" y2="432.9" stroke="#333" stroke-width="0.7"/>
<line x1="79.6" y1="434.8" x2="83.6" y2="434.8" stroke="#333" stroke-width="0.7"/>
<line x1="79.6" y1="436.7" x2="83.6" y2="436.7" stroke="#333" stroke-width="0.7"/>
<line x1="79.6" y1="438.5" x2="83.6" y2="438.5" stroke="#333" stroke-width="0.7"/>
<line x1="79.6" y1="440.4" x2="83.6" y2="440.4" stroke="#333" stroke-width="0.7"/>
<line x1="79.6" y1="442.3" x2="83.6" y2="442.3" stroke="#333" stroke-width="0.7"/>
<line x1="79.6" y1="444.1" x2="83.6" y2="444.1" stroke="#333" stroke-width="0.7"/>
<line x1="79.6" y1="446" x2="83.6" y2="446" stroke="#333" stroke-width="0.7"/>
<rect x="75.5" y="430" width="8" height="3" fill="#222"/>
<text x="479.5" y="29.5" font-size="41" font-weight="bold">b</text>
<text x="669" y="36.8" font-size="25" text-anchor="middle">Day 0</text>
<text x="980.8" y="36.8" font-size="25" text-anchor="middle">Day 1</text>
<text x="1293" y="36.8" font-size="25" text-anchor="middle">Day 2</text>
<text x="1607.5" y="36.8" font-size="25" text-anchor="middle">Day 3</text>
<text x="1743" y="168.5" font-size="25" text-anchor="middle" transform="rotate(-90 1743 168.5)">DN</text>
<text x="1743" y="446" font-size="25" text-anchor="middle" transform="rotate(-90 1743 446)">SP</text>
<text x="1743" y="724.2" font-size="25" text-anchor="middle" transform="rotate(-90 1743 724.2)">DP</text>
<line x1="488.4" y1="62" x2="488.4" y2="689" stroke="#333" stroke-width="1.8"/>
<path d="M488.4,52 L494.5,70 L488.4,66 L482.3,70 Z" fill="#333"/>
<line x1="667" y1="893.6" x2="1712" y2="893.6" stroke="#333" stroke-width="1.8"/>
<path d="M1726,893.6 L1708,887.5 L1712,893.6 L1708,899.7 Z" fill="#333"/>
<text x="498" y="829.5" font-size="25" transform="rotate(-90 498 829.5)">CD20-FITC</text>
<text x="536.5" y="902.6" font-size="25">CD180-PE</text>
<clipPath id="cb00"><rect x="548.2" y="54.5" width="229.5" height="229.8"/></clipPath>
<g clip-path="url(#cb00)" fill="none" stroke-linejoin="round">
<path d="M604.2,255.5 597.7,255.9 589.7,254.9 583.7,252.8 578.7,249.9 573.5,245.0 568.7,238.5 566.5,233.0 565.9,227.0 566.5,220.0 568.5,212.5 570.8,208.0 574.7,203.5 582.2,197.7 588.7,194.1 595.2,192.1 603.7,191.2 609.7,191.8 616.7,194.2 622.7,197.5 627.5,201.5 630.6,205.5 632.8,210.0 634.3,216.5 634.9,223.0 634.4,227.5 632.6,232.5 628.9,239.5 625.5,244.0 621.2,247.9 616.7,250.8 609.2,254.1 604.2,255.5" fill="none" stroke="#8c8c8c" stroke-width="0.9"/>
<path d="M604.7,254.5 598.2,254.9 590.7,254.1 584.7,252.3 579.7,249.5 574.2,244.5 569.8,238.5 567.6,233.5 566.9,228.0 567.3,221.0 569.0,214.0 571.3,209.0 574.7,204.8 581.7,199.2 588.7,195.0 594.7,193.1 602.7,192.1 608.7,192.5 614.7,194.4 620.7,197.3 626.1,201.5 629.5,205.5 631.5,209.5 633.0,215.0 633.9,222.0 633.6,226.5 632.0,231.5 628.4,238.5 625.1,243.0 621.2,246.7 616.7,249.7 610.2,252.8 604.7,254.5" fill="none" stroke="#8a8a8a" stroke-width="0.9"/>
<path d="M600.7,254.0 593.7,253.7 587.2,252.3 582.2,250.1 577.7,246.7 572.6,241.0 569.3,235.5 568.0,230.0 568.0,223.5 569.1,217.0 571.3,211.0 573.9,207.0 578.2,202.9 585.7,197.6 591.2,195.0 598.7,193.3 606.2,193.1 611.7,194.2 618.2,196.9 622.9,200.0 627.1,204.0 629.8,208.0 631.4,212.0 632.6,218.5 632.8,224.5 631.7,229.5 629.0,235.5 625.9,240.5 622.3,244.5 617.2,248.4 611.7,251.2 605.7,253.3 600.7,254.0" fill="none" stroke="#898989" stroke-width="0.9"/>
<path d="M601.7,253.0 594.7,252.9 588.7,251.8 583.7,249.9 579.2,246.9 574.1,241.5 570.6,236.0 569.0,231.0 568.8,225.0 569.7,218.5 571.7,212.5 574.4,208.0 578.2,204.1 585.2,199.0 590.7,196.1 597.7,194.4 605.2,193.9 610.7,194.9 616.7,197.2 621.7,200.2 625.8,204.0 628.7,208.0 630.4,212.0 631.6,218.0 631.9,223.5 631.0,228.5 628.9,233.5 625.8,239.0 622.2,243.3 617.7,246.9 612.7,249.7 606.7,252.1 601.7,253.0" fill="none" stroke="#878787" stroke-width="0.9"/>
<path d="M602.2,252.0 596.2,252.1 589.7,251.1 584.7,249.4 580.2,246.5 574.9,241.0 571.6,236.0 570.0,231.0 569.7,225.5 570.6,219.0 572.5,213.0 574.8,209.0 578.5,205.0 585.2,200.1 590.7,197.1 597.2,195.4 604.7,194.8 610.2,195.7 615.7,197.7 620.4,200.5 624.7,204.3 627.5,208.0 629.3,212.0 630.6,217.5 630.9,223.0 630.3,227.5 628.4,232.5 625.0,238.5 621.7,242.5 617.7,245.8 612.7,248.7 606.7,251.2 602.2,252.0" fill="none" stroke="#858585" stroke-width="0.9"/>
<path d="M602.7,251.0 596.7,251.2 590.2,250.3 585.7,248.8 581.7,246.5 576.7,241.7 572.9,236.5 571.2,232.0 570.6,226.5 571.3,220.0 572.9,214.5 575.3,210.0 578.7,206.1 585.2,201.1 590.7,198.1 596.7,196.4 603.7,195.7 609.2,196.4 614.7,198.2 619.2,200.8 623.2,204.2 626.3,208.0 628.3,212.0 629.5,217.0 630.0,222.5 629.4,227.0 627.8,231.5 624.6,237.5 621.4,241.5 617.7,244.7 612.7,247.7 607.2,250.0 602.7,251.0" fill="none" stroke="#848484" stroke-width="0.9"/>
<path d="M603.2,250.0 597.7,250.3 591.2,249.6 586.7,248.3 582.6,246.0 577.8,241.5 574.0,236.5 572.1,232.0 571.5,227.0 572.0,221.5 573.6,215.5 575.8,211.0 579.1,207.0 585.2,202.2 590.7,199.1 596.7,197.3 603.2,196.6 608.2,197.1 613.7,198.8 618.2,201.3 622.1,204.5 625.2,208.2 627.2,212.0 628.5,216.5 629.0,222.0 628.5,226.5 627.0,231.0 624.1,236.5 621.1,240.5 617.7,243.6 613.2,246.4 607.7,248.9 603.2,250.0" fill="none" stroke="#828282" stroke-width="0.9"/>
<path d="M603.7,249.0 598.7,249.4 592.2,248.8 587.7,247.6 583.7,245.6 579.0,241.5 575.0,236.5 573.3,232.5 572.5,227.5 572.9,221.5 574.4,216.0 576.6,211.5 579.5,208.0 584.7,203.6 590.2,200.3 595.7,198.4 602.2,197.5 607.2,197.9 612.2,199.2 616.2,201.1 620.2,204.1 623.7,207.9 625.9,211.5 627.4,216.0 628.0,221.5 627.8,225.5 626.4,230.0 624.0,235.0 620.8,239.5 617.2,242.8 613.2,245.4 608.2,247.7 603.7,249.0" fill="none" stroke="#808080" stroke-width="0.9"/>
<path d="M603.7,248.1 598.2,248.4 592.2,247.8 587.7,246.6 584.2,244.7 579.4,240.5 575.8,236.0 574.1,232.0 573.4,227.5 573.8,222.0 575.0,217.0 577.1,212.5 580.3,208.5 585.2,204.4 590.7,201.1 596.2,199.2 602.2,198.4 607.2,198.8 612.2,200.2 616.2,202.3 619.7,205.0 622.8,208.5 625.0,212.0 626.5,216.5 627.1,221.5 626.8,225.5 625.5,230.0 623.0,235.0 620.2,238.8 617.2,241.7 613.2,244.3 608.2,246.8 603.7,248.1" fill="none" stroke="#7f7f7f" stroke-width="0.9"/>
<path d="M600.2,247.5 594.2,247.2 589.2,246.1 585.2,244.2 581.7,241.5 578.0,237.5 575.6,233.5 574.5,229.0 574.5,224.0 575.4,219.0 577.4,214.0 580.2,210.0 584.2,206.3 589.2,202.8 594.2,200.7 599.7,199.5 605.2,199.5 609.7,200.4 614.2,202.2 617.7,204.6 621.5,208.5 623.8,212.0 625.2,215.5 626.0,220.0 626.0,224.5 625.1,228.5 623.1,233.0 620.5,237.0 617.7,240.1 613.7,243.0 608.7,245.6 604.7,246.9 600.2,247.5" fill="#000" fill-opacity="0.03" stroke="#7d7d7d" stroke-width="0.9"/>
<path d="M601.2,246.5 595.7,246.4 590.7,245.6 586.7,243.9 583.2,241.5 579.2,237.5 576.9,234.0 575.6,230.0 575.3,225.0 576.1,220.0 578.0,215.0 580.2,211.5 583.7,207.9 588.2,204.5 592.7,202.2 598.2,200.6 603.7,200.3 607.7,200.8 612.2,202.3 615.7,204.3 619.3,207.5 622.1,211.0 623.8,214.5 624.9,219.0 625.1,223.5 624.4,227.5 622.9,231.5 620.5,235.5 617.7,238.8 614.2,241.6 609.2,244.3 605.2,245.8 601.2,246.5" fill="#000" fill-opacity="0.03" stroke="#7b7b7b" stroke-width="0.9"/>
<path d="M602.2,245.5 597.2,245.7 592.2,245.0 588.2,243.6 584.7,241.5 580.7,237.8 577.9,234.0 576.6,230.0 576.2,226.0 576.8,221.0 578.3,216.5 580.6,212.5 583.8,209.0 588.2,205.5 592.7,203.1 597.7,201.6 602.7,201.2 607.2,201.7 611.2,202.9 614.7,204.8 617.9,207.5 620.5,210.5 622.5,214.0 623.7,218.0 624.2,222.5 623.9,226.0 622.6,230.0 620.5,234.0 617.7,237.5 614.7,240.1 610.2,242.8 605.7,244.7 602.2,245.5" fill="#000" fill-opacity="0.03" stroke="#7a7a7a" stroke-width="0.9"/>
<path d="M602.7,244.5 598.2,244.8 593.2,244.2 589.2,243.0 585.7,241.0 581.7,237.5 579.0,234.0 577.7,230.5 577.2,226.5 577.5,222.0 578.9,217.5 581.1,213.5 584.1,210.0 588.2,206.6 592.2,204.3 596.7,202.8 601.7,202.1 605.7,202.4 609.7,203.4 613.2,205.1 616.7,207.7 619.6,211.0 621.4,214.0 622.6,217.5 623.2,222.0 622.9,226.0 621.8,229.5 620.0,233.0 617.4,236.5 614.2,239.3 610.2,241.8 602.7,244.5" fill="#000" fill-opacity="0.03" stroke="#787878" stroke-width="0.9"/>
<path d="M602.7,243.6 598.2,243.9 593.7,243.4 589.7,242.2 586.2,240.2 582.7,237.2 580.2,234.0 578.7,230.5 578.1,226.5 578.5,222.0 579.9,217.5 581.9,214.0 584.9,210.5 588.7,207.3 592.2,205.3 596.7,203.7 601.7,203.0 605.7,203.3 609.7,204.4 613.2,206.2 616.1,208.5 618.8,211.5 620.5,214.5 621.7,218.0 622.2,222.0 622.0,225.5 621.0,229.0 617.0,235.5 614.2,238.1 610.2,240.7 602.7,243.6" fill="#000" fill-opacity="0.03" stroke="#767676" stroke-width="0.9"/>
<path d="M599.2,243.0 594.7,242.6 590.7,241.5 587.2,239.7 583.7,236.9 581.3,234.0 579.8,231.0 579.1,227.0 579.2,223.0 580.3,219.0 582.3,215.0 585.1,211.5 588.7,208.3 592.2,206.2 596.2,204.7 600.7,204.0 604.7,204.1 611.7,206.5 614.7,208.5 617.6,211.5 620.6,217.5 621.3,221.5 621.1,225.0 618.8,231.5 614.2,236.9 606.2,241.6 599.2,243.0" fill="#000" fill-opacity="0.03" stroke="#757575" stroke-width="0.9"/>
<path d="M600.7,242.0 596.7,242.0 592.7,241.2 589.2,239.8 585.7,237.4 582.8,234.5 581.1,231.5 580.1,228.0 580.0,224.5 580.8,220.5 582.5,216.5 585.0,213.0 588.0,210.0 591.2,207.7 595.2,206.0 599.2,205.0 603.2,204.9 610.2,206.8 613.2,208.6 616.2,211.4 619.4,217.0 620.3,224.0 618.6,230.0 614.4,235.5 607.2,240.2 600.7,242.0" fill="#000" fill-opacity="0.03" stroke="#737373" stroke-width="0.9"/>
<path d="M601.2,241.1 597.2,241.2 593.2,240.4 589.7,239.0 586.7,237.1 584.1,234.5 582.1,231.5 581.2,228.5 580.9,225.0 581.6,221.0 583.0,217.5 587.7,211.4 590.7,209.0 594.2,207.2 598.2,206.1 602.2,205.7 605.7,206.2 609.2,207.3 614.7,211.1 618.2,216.5 619.4,223.0 618.0,229.0 614.2,234.4 607.7,238.9 601.2,241.1" fill="#000" fill-opacity="0.03" stroke="#717171" stroke-width="0.9"/>
<path d="M601.7,240.1 598.2,240.3 594.2,239.8 590.7,238.5 587.7,236.7 584.9,234.0 583.2,231.5 582.2,228.5 581.9,225.5 582.3,222.0 583.5,218.5 585.6,215.0 588.2,212.1 594.2,208.2 597.7,207.1 601.7,206.7 608.2,207.9 613.7,211.5 617.2,216.5 618.4,222.5 617.4,228.0 614.2,233.0 608.2,237.6 601.7,240.1" fill="#000" fill-opacity="0.03" stroke="#707070" stroke-width="0.9"/>
<path d="M602.2,239.1 595.7,239.2 592.2,238.2 589.2,236.6 586.6,234.5 584.6,232.0 583.3,229.0 582.8,226.0 583.0,223.0 584.1,219.5 586.0,216.0 588.5,213.0 594.2,209.1 601.2,207.6 607.2,208.5 612.7,211.8 616.2,216.5 617.4,222.0 616.6,227.5 613.7,232.2 608.7,236.2 602.2,239.1" fill="#000" fill-opacity="0.03" stroke="#6e6e6e" stroke-width="0.9"/>
<path d="M599.7,238.5 593.2,237.6 587.7,234.3 584.5,229.5 583.8,226.5 583.9,223.5 584.8,220.0 586.4,217.0 590.9,212.0 596.7,209.2 600.2,208.6 603.7,208.6 609.2,210.5 613.7,214.2 616.0,219.0 616.3,224.5 614.8,229.0 611.2,233.3 605.2,237.1 599.7,238.5" fill="#000" fill-opacity="0.03" stroke="#6c6c6c" stroke-width="0.9"/>
<path d="M600.7,237.5 594.7,237.1 589.2,234.4 585.8,230.0 584.8,224.5 586.5,218.5 590.7,213.3 596.2,210.3 602.7,209.5 607.7,210.7 612.3,214.0 614.9,218.5 615.5,223.5 614.2,228.0 611.2,232.0 605.7,235.9 600.7,237.5" fill="#000" fill-opacity="0.03" stroke="#6b6b6b" stroke-width="0.9"/>
<path d="M601.2,236.5 595.2,236.3 590.2,234.0 586.8,230.0 585.7,225.0 587.0,219.5 590.7,214.5 595.7,211.4 601.7,210.3 606.7,211.3 610.9,214.0 613.7,218.0 614.5,222.5 613.6,227.0 610.9,231.0 606.2,234.6 601.2,236.5" fill="#000" fill-opacity="0.03" stroke="#696969" stroke-width="0.9"/>
<path d="M601.2,235.6 596.2,235.6 591.1,233.5 587.9,230.0 586.7,225.0 588.0,219.5 591.4,215.0 596.2,212.2 601.7,211.3 606.2,212.1 610.2,214.7 612.6,218.0 613.5,222.5 612.7,226.5 610.2,230.4 605.7,233.8 601.2,235.6" fill="#000" fill-opacity="0.03" stroke="#676767" stroke-width="0.9"/>
<path d="M601.7,234.5 596.7,234.8 592.2,233.2 589.0,230.0 587.6,225.5 588.6,220.5 591.7,216.0 595.7,213.4 600.7,212.2 605.2,212.8 609.1,215.0 611.5,218.0 612.5,222.0 611.9,226.0 609.7,229.5 606.2,232.5 601.7,234.5" fill="#000" fill-opacity="0.03" stroke="#666666" stroke-width="0.9"/>
<path d="M599.2,234.0 594.2,233.2 590.7,230.8 588.8,227.0 588.9,222.5 591.1,218.0 594.7,214.9 599.2,213.4 604.2,213.5 607.5,215.0 610.0,217.5 611.4,221.0 611.2,224.5 610.0,227.5 607.2,230.6 603.2,233.1 599.2,234.0" fill="#000" fill-opacity="0.03" stroke="#646464" stroke-width="0.9"/>
<path d="M600.2,233.0 595.7,232.8 592.2,231.0 590.1,228.0 589.6,224.0 590.9,220.0 594.0,216.5 598.2,214.5 602.7,214.2 606.2,215.4 608.7,217.5 610.2,220.5 610.4,223.5 609.4,226.5 607.1,229.5 603.7,231.8 600.2,233.0" fill="#000" fill-opacity="0.03" stroke="#626262" stroke-width="0.9"/>
<path d="M600.2,232.1 596.2,232.0 593.0,230.5 590.9,227.5 590.6,224.0 592.0,220.0 594.7,217.2 598.7,215.4 602.7,215.2 605.7,216.3 607.7,218.0 609.1,220.5 609.3,223.5 608.3,226.5 606.2,229.0 603.2,231.0 600.2,232.1" fill="#000" fill-opacity="0.03" stroke="#616161" stroke-width="0.9"/>
<path d="M600.7,231.0 596.7,231.2 593.8,230.0 591.9,227.5 591.5,224.5 592.6,221.0 594.7,218.4 597.7,216.7 601.7,216.1 604.7,216.9 606.7,218.4 607.9,220.5 608.3,223.0 607.6,225.5 605.9,228.0 603.7,229.7 600.7,231.0" fill="#000" fill-opacity="0.03" stroke="#5f5f5f" stroke-width="0.9"/>
<path d="M600.7,230.0 597.2,230.4 594.7,229.6 592.9,227.5 592.4,225.0 593.2,222.0 595.2,219.3 597.7,217.7 601.2,217.1 603.7,217.6 605.7,218.9 606.9,221.0 607.2,223.0 606.5,225.5 605.2,227.3 600.7,230.0" fill="#000" fill-opacity="0.03" stroke="#5d5d5d" stroke-width="0.9"/>
<path d="M600.2,229.1 597.2,229.5 595.2,228.9 593.7,227.0 593.5,224.5 594.7,221.5 596.6,219.5 599.2,218.2 601.7,218.1 603.7,218.7 605.2,220.0 606.0,221.5 606.1,223.5 604.2,227.0 600.2,229.1" fill="#000" fill-opacity="0.03" stroke="#5c5c5c" stroke-width="0.9"/>
<path d="M600.2,228.1 597.7,228.5 595.7,228.1 594.7,227.0 594.6,225.0 595.4,222.5 597.0,220.5 599.2,219.3 601.7,219.1 604.3,220.5 605.1,223.5 603.7,226.1 600.2,228.1" fill="#000" fill-opacity="0.03" stroke="#5a5a5a" stroke-width="0.9"/>
<path d="M599.7,227.0 595.7,227.0 596.3,223.5 597.2,221.8 598.7,220.5 600.7,220.0 602.2,220.2 603.9,222.0 603.9,224.0 602.3,226.0 599.7,227.0" fill="#fff" stroke="#585858" stroke-width="0.9"/>
<path d="M600.7,225.6 598.2,225.1 597.8,223.5 599.1,221.5 601.2,220.9 602.4,221.5 603.1,223.0 602.5,224.5 600.7,225.6" fill="#fff" stroke="#575757" stroke-width="0.9"/>
<path d="M601.2,224.3 600.2,224.3 599.4,223.5 599.7,222.5 600.7,221.9 601.7,222.1 602.1,223.0 601.2,224.3" fill="#fff" stroke="#555555" stroke-width="0.9"/>
</g>
<rect x="548.2" y="54.5" width="229.5" height="229.8" fill="none" stroke="#b0b0b0" stroke-width="1.2"/>
<line x1="634.1" y1="54.5" x2="634.1" y2="284.3" stroke="#707070" stroke-width="1.2"/>
<line x1="548.2" y1="190.1" x2="777.7" y2="190.1" stroke="#707070" stroke-width="1.2"/>
<line x1="544.2" y1="75.2" x2="548.2" y2="75.2" stroke="#999" stroke-width="1"/>
<line x1="544.2" y1="128.3" x2="548.2" y2="128.3" stroke="#999" stroke-width="1"/>
<line x1="544.2" y1="183.9" x2="548.2" y2="183.9" stroke="#999" stroke-width="1"/>
<line x1="544.2" y1="252.1" x2="548.2" y2="252.1" stroke="#999" stroke-width="1"/>
<line x1="545.7" y1="112.3" x2="548.2" y2="112.3" stroke="#aaa" stroke-width="0.8"/>
<line x1="545.7" y1="103" x2="548.2" y2="103" stroke="#aaa" stroke-width="0.8"/>
<line x1="545.7" y1="96.3" x2="548.2" y2="96.3" stroke="#aaa" stroke-width="0.8"/>
<line x1="545.7" y1="91.2" x2="548.2" y2="91.2" stroke="#aaa" stroke-width="0.8"/>
<line x1="545.7" y1="87" x2="548.2" y2="87" stroke="#aaa" stroke-width="0.8"/>
<line x1="545.7" y1="83.4" x2="548.2" y2="83.4" stroke="#aaa" stroke-width="0.8"/>
<line x1="545.7" y1="80.3" x2="548.2" y2="80.3" stroke="#aaa" stroke-width="0.8"/>
<line x1="545.7" y1="77.6" x2="548.2" y2="77.6" stroke="#aaa" stroke-width="0.8"/>
<line x1="545.7" y1="167.2" x2="548.2" y2="167.2" stroke="#aaa" stroke-width="0.8"/>
<line x1="545.7" y1="157.4" x2="548.2" y2="157.4" stroke="#aaa" stroke-width="0.8"/>
<line x1="545.7" y1="150.4" x2="548.2" y2="150.4" stroke="#aaa" stroke-width="0.8"/>
<line x1="545.7" y1="145" x2="548.2" y2="145" stroke="#aaa" stroke-width="0.8"/>
<line x1="545.7" y1="140.6" x2="548.2" y2="140.6" stroke="#aaa" stroke-width="0.8"/>
<line x1="545.7" y1="136.9" x2="548.2" y2="136.9" stroke="#aaa" stroke-width="0.8"/>
<line x1="545.7" y1="133.7" x2="548.2" y2="133.7" stroke="#aaa" stroke-width="0.8"/>
<line x1="545.7" y1="130.8" x2="548.2" y2="130.8" stroke="#aaa" stroke-width="0.8"/>
<line x1="545.7" y1="59.5" x2="548.2" y2="59.5" stroke="#aaa" stroke-width="0.8"/>
<line x1="545.7" y1="63.5" x2="548.2" y2="63.5" stroke="#aaa" stroke-width="0.8"/>
<line x1="545.7" y1="66.5" x2="548.2" y2="66.5" stroke="#aaa" stroke-width="0.8"/>
<line x1="545.7" y1="69.5" x2="548.2" y2="69.5" stroke="#aaa" stroke-width="0.8"/>
<line x1="545.7" y1="72.5" x2="548.2" y2="72.5" stroke="#aaa" stroke-width="0.8"/>
<line x1="545.7" y1="194.5" x2="548.2" y2="194.5" stroke="#aaa" stroke-width="0.8"/>
<line x1="545.7" y1="206.5" x2="548.2" y2="206.5" stroke="#aaa" stroke-width="0.8"/>
<line x1="545.7" y1="219.5" x2="548.2" y2="219.5" stroke="#aaa" stroke-width="0.8"/>
<line x1="545.7" y1="229.5" x2="548.2" y2="229.5" stroke="#aaa" stroke-width="0.8"/>
<line x1="545.7" y1="239.5" x2="548.2" y2="239.5" stroke="#aaa" stroke-width="0.8"/>
<line x1="545.7" y1="244.5" x2="548.2" y2="244.5" stroke="#aaa" stroke-width="0.8"/>
<line x1="545.7" y1="259.5" x2="548.2" y2="259.5" stroke="#aaa" stroke-width="0.8"/>
<line x1="545.7" y1="266.5" x2="548.2" y2="266.5" stroke="#aaa" stroke-width="0.8"/>
<line x1="545.7" y1="274.5" x2="548.2" y2="274.5" stroke="#aaa" stroke-width="0.8"/>
<rect x="544.2" y="249.5" width="3" height="5" fill="#333"/>
<line x1="584.3" y1="284.3" x2="584.3" y2="289.3" stroke="#999" stroke-width="1"/>
<line x1="647" y1="284.3" x2="647" y2="289.3" stroke="#999" stroke-width="1"/>
<line x1="702.3" y1="284.3" x2="702.3" y2="289.3" stroke="#999" stroke-width="1"/>
<line x1="755" y1="284.3" x2="755" y2="289.3" stroke="#999" stroke-width="1"/>
<line x1="663.6" y1="284.3" x2="663.6" y2="287.3" stroke="#aaa" stroke-width="0.8"/>
<line x1="673.4" y1="284.3" x2="673.4" y2="287.3" stroke="#aaa" stroke-width="0.8"/>
<line x1="680.3" y1="284.3" x2="680.3" y2="287.3" stroke="#aaa" stroke-width="0.8"/>
<line x1="685.7" y1="284.3" x2="685.7" y2="287.3" stroke="#aaa" stroke-width="0.8"/>
<line x1="690" y1="284.3" x2="690" y2="287.3" stroke="#aaa" stroke-width="0.8"/>
<line x1="693.7" y1="284.3" x2="693.7" y2="287.3" stroke="#aaa" stroke-width="0.8"/>
<line x1="696.9" y1="284.3" x2="696.9" y2="287.3" stroke="#aaa" stroke-width="0.8"/>
<line x1="699.8" y1="284.3" x2="699.8" y2="287.3" stroke="#aaa" stroke-width="0.8"/>
<line x1="718.2" y1="284.3" x2="718.2" y2="287.3" stroke="#aaa" stroke-width="0.8"/>
<line x1="727.4" y1="284.3" x2="727.4" y2="287.3" stroke="#aaa" stroke-width="0.8"/>
<line x1="734" y1="284.3" x2="734" y2="287.3" stroke="#aaa" stroke-width="0.8"/>
<line x1="739.1" y1="284.3" x2="739.1" y2="287.3" stroke="#aaa" stroke-width="0.8"/>
<line x1="743.3" y1="284.3" x2="743.3" y2="287.3" stroke="#aaa" stroke-width="0.8"/>
<line x1="746.8" y1="284.3" x2="746.8" y2="287.3" stroke="#aaa" stroke-width="0.8"/>
<line x1="749.9" y1="284.3" x2="749.9" y2="287.3" stroke="#aaa" stroke-width="0.8"/>
<line x1="752.6" y1="284.3" x2="752.6" y2="287.3" stroke="#aaa" stroke-width="0.8"/>
<line x1="556.2" y1="284.3" x2="556.2" y2="287.3" stroke="#aaa" stroke-width="0.8"/>
<line x1="564.2" y1="284.3" x2="564.2" y2="287.3" stroke="#aaa" stroke-width="0.8"/>
<line x1="574.2" y1="284.3" x2="574.2" y2="287.3" stroke="#aaa" stroke-width="0.8"/>
<line x1="578.2" y1="284.3" x2="578.2" y2="287.3" stroke="#aaa" stroke-width="0.8"/>
<line x1="582.2" y1="284.3" x2="582.2" y2="287.3" stroke="#aaa" stroke-width="0.8"/>
<line x1="588.2" y1="284.3" x2="588.2" y2="287.3" stroke="#aaa" stroke-width="0.8"/>
<line x1="592.2" y1="284.3" x2="592.2" y2="287.3" stroke="#aaa" stroke-width="0.8"/>
<line x1="598.2" y1="284.3" x2="598.2" y2="287.3" stroke="#aaa" stroke-width="0.8"/>
<line x1="608.2" y1="284.3" x2="608.2" y2="287.3" stroke="#aaa" stroke-width="0.8"/>
<line x1="618.2" y1="284.3" x2="618.2" y2="287.3" stroke="#aaa" stroke-width="0.8"/>
<line x1="626.2" y1="284.3" x2="626.2" y2="287.3" stroke="#aaa" stroke-width="0.8"/>
<line x1="633.2" y1="284.3" x2="633.2" y2="287.3" stroke="#aaa" stroke-width="0.8"/>
<line x1="636.2" y1="284.3" x2="636.2" y2="287.3" stroke="#aaa" stroke-width="0.8"/>
<line x1="640.2" y1="284.3" x2="640.2" y2="287.3" stroke="#aaa" stroke-width="0.8"/>
<line x1="644.2" y1="284.3" x2="644.2" y2="287.3" stroke="#aaa" stroke-width="0.8"/>
<line x1="763.2" y1="284.3" x2="763.2" y2="287.3" stroke="#aaa" stroke-width="0.8"/>
<line x1="770.2" y1="284.3" x2="770.2" y2="287.3" stroke="#aaa" stroke-width="0.8"/>
<rect x="583.2" y="285.3" width="3" height="4" fill="#333"/>
<text x="554.3" y="80.4" font-size="25">0</text>
<text x="751.8" y="80.4" font-size="25">0</text>
<text x="554.3" y="274.5" font-size="25">100</text>
<text x="751.8" y="274.5" font-size="25">0</text>
<clipPath id="cb01"><rect x="860.0" y="54.5" width="229.5" height="229.8"/></clipPath>
<g clip-path="url(#cb01)" fill="none" stroke-linejoin="round">
<path d="M924.0,237.1 920.5,237.2 915.0,235.5 909.0,234.8 906.5,233.6 905.0,232.0 901.4,226.0 894.9,219.0 893.0,214.5 892.5,202.0 890.2,194.0 889.0,185.0 886.8,176.0 886.9,167.5 887.8,163.0 893.1,145.5 899.8,133.0 903.5,124.5 906.0,121.3 910.0,118.5 926.5,111.6 930.5,110.6 941.5,109.7 950.5,105.9 956.5,104.3 966.0,103.3 978.0,103.3 988.0,104.7 994.5,107.4 1001.5,112.3 1010.4,122.0 1014.4,129.0 1017.3,137.5 1018.2,144.5 1017.3,154.0 1014.8,162.0 1010.0,173.5 1005.6,179.5 997.5,186.8 985.5,194.0 975.3,198.0 963.5,208.1 961.6,210.5 959.5,214.5 955.5,225.0 952.7,228.0 947.7,231.0 942.5,233.0 938.5,233.9 931.0,234.5 924.0,237.1" fill="none" stroke="#8c8c8c" stroke-width="0.9"/>
<path d="M925.0,230.1 920.0,230.2 914.5,228.2 903.0,221.0 899.0,217.0 897.1,212.0 896.1,202.5 893.8,193.5 893.2,185.5 890.2,176.0 890.0,171.5 890.8,164.5 895.9,147.0 897.8,142.5 903.0,134.3 906.8,127.0 909.0,124.1 911.5,122.2 921.0,118.5 928.0,114.7 932.0,113.6 942.6,112.0 952.0,107.9 957.5,106.4 969.0,104.9 978.0,104.9 988.0,106.3 995.0,109.2 1001.0,113.7 1009.7,123.5 1013.6,130.5 1016.3,139.0 1016.8,145.5 1015.7,154.0 1011.8,166.0 1008.6,173.0 1004.0,178.7 995.5,185.7 984.5,191.5 973.8,195.0 966.5,201.1 960.9,204.5 958.5,207.0 953.0,215.4 942.0,225.0 935.5,228.2 925.0,230.1" fill="none" stroke="#8a8a8a" stroke-width="0.9"/>
<path d="M932.0,224.5 924.5,224.0 919.0,224.3 916.0,223.7 905.5,217.8 903.1,215.5 901.7,213.0 897.5,195.5 897.0,185.6 894.4,177.5 893.9,173.5 895.0,162.0 899.4,147.0 901.1,143.0 909.3,130.5 912.0,127.3 914.5,125.5 921.5,122.3 931.0,116.8 943.5,113.9 956.5,108.8 969.0,106.6 976.0,106.3 985.0,107.2 989.5,108.2 994.0,110.2 1000.0,114.5 1008.3,124.0 1012.2,130.5 1014.9,138.5 1015.5,144.5 1014.4,153.0 1011.3,163.5 1008.2,171.0 1003.5,176.9 994.5,184.0 983.5,189.4 972.5,192.7 965.0,198.2 958.5,201.7 956.0,204.0 950.0,212.0 943.9,216.0 937.3,222.5 934.5,224.0 932.0,224.5" fill="none" stroke="#898989" stroke-width="0.9"/>
<path d="M933.5,219.0 931.0,219.4 924.5,218.2 918.5,219.0 915.5,218.6 909.0,214.9 906.8,212.5 905.5,209.9 900.9,195.5 900.0,185.5 897.8,174.0 898.7,162.0 903.1,146.5 904.8,142.5 909.5,135.8 913.5,131.3 923.0,125.9 930.1,120.5 934.0,118.6 944.6,115.5 955.0,111.3 966.5,108.6 975.0,107.8 986.5,108.9 994.0,111.7 1000.0,116.3 1007.4,125.0 1011.2,131.5 1013.7,139.0 1014.2,144.5 1013.1,152.5 1010.1,163.0 1007.3,170.0 1002.5,175.8 992.5,183.1 982.5,187.5 971.7,190.5 964.0,195.0 955.9,198.5 952.6,201.5 947.4,208.0 940.1,213.0 935.5,217.7 933.5,219.0" fill="none" stroke="#878787" stroke-width="0.9"/>
<path d="M930.0,212.6 918.0,212.7 914.5,211.5 912.0,209.1 909.0,204.4 905.8,198.5 904.0,194.0 901.3,176.5 901.5,166.0 902.4,161.0 906.8,146.0 908.9,141.5 915.0,134.6 924.5,129.6 933.4,122.0 956.5,112.7 968.0,109.8 976.0,109.2 987.5,110.5 995.0,113.8 1000.0,118.1 1006.8,126.5 1010.6,133.5 1012.7,140.0 1012.9,145.5 1011.2,154.5 1008.3,164.5 1005.7,170.0 1003.3,173.0 999.5,176.3 990.5,182.3 981.5,185.8 970.7,188.5 963.0,191.9 953.5,195.0 947.7,199.5 939.5,207.5 933.5,211.4 930.0,212.6" fill="none" stroke="#858585" stroke-width="0.9"/>
<path d="M928.5,208.0 922.0,207.6 919.0,206.6 917.0,205.2 909.4,196.5 907.3,193.0 906.0,189.5 904.3,175.5 904.9,164.5 905.8,160.0 910.0,146.5 912.3,142.0 917.0,137.3 926.9,132.0 933.6,125.5 937.0,123.0 944.0,119.6 958.5,113.8 969.5,111.0 977.5,110.5 988.0,112.1 995.5,115.7 1000.1,120.0 1005.9,127.5 1009.6,134.5 1011.5,140.5 1011.5,146.0 1009.6,156.0 1007.2,164.0 1004.4,169.5 1001.5,172.7 996.5,176.8 988.5,181.4 980.5,184.2 953.5,190.6 949.0,192.3 941.5,197.5 934.5,205.1 931.5,207.0 928.5,208.0" fill="none" stroke="#848484" stroke-width="0.9"/>
<path d="M927.0,202.5 924.5,202.5 922.0,201.5 915.0,196.2 910.5,191.0 908.6,186.0 907.3,174.5 908.1,162.5 912.7,148.0 915.2,143.5 918.5,140.4 927.5,135.2 936.0,127.0 939.5,124.3 950.5,118.7 961.0,114.6 970.5,112.1 979.5,111.9 988.5,113.6 992.5,115.4 996.0,117.7 1000.3,122.0 1005.1,128.5 1008.7,135.5 1010.3,141.0 1010.2,146.5 1007.8,158.0 1005.7,164.5 1003.0,169.1 999.0,173.0 993.0,177.5 988.5,179.8 983.0,181.7 976.0,183.3 958.5,186.2 944.5,186.8 941.7,187.5 938.5,190.2 932.5,199.3 927.0,202.5" fill="none" stroke="#828282" stroke-width="0.9"/>
<path d="M921.5,192.6 919.5,192.5 917.5,191.6 913.9,188.0 911.5,182.1 910.1,174.5 910.6,165.0 911.8,158.5 915.3,149.5 918.6,145.0 927.0,139.1 937.5,128.8 942.0,125.3 954.5,118.7 966.5,114.4 975.0,113.1 985.0,114.0 992.5,116.9 998.5,121.7 1002.7,127.0 1005.9,132.5 1008.4,138.5 1009.1,143.0 1008.2,151.0 1005.7,161.0 1003.2,166.5 999.7,170.5 994.5,174.8 990.0,177.6 984.5,179.6 977.5,181.4 970.0,182.5 956.5,183.4 941.0,182.3 936.5,182.8 931.7,185.0 925.0,191.0 921.5,192.6" fill="none" stroke="#808080" stroke-width="0.9"/>
<path d="M921.0,183.6 918.5,183.5 916.5,182.2 914.5,179.4 913.2,176.0 912.8,172.0 913.1,166.5 915.0,157.0 917.0,152.8 919.5,149.5 926.0,143.9 937.0,132.0 942.5,127.4 951.5,122.0 959.5,118.3 968.5,115.2 976.0,114.3 984.0,115.1 991.0,117.6 996.5,121.4 1001.3,127.0 1004.8,133.0 1007.3,139.5 1007.9,144.0 1007.2,150.0 1005.3,158.5 1002.8,164.5 999.5,168.8 993.0,174.2 986.0,177.7 974.0,180.4 952.5,180.7 936.0,178.3 930.0,179.5 921.0,183.6" fill="none" stroke="#7f7f7f" stroke-width="0.9"/>
<path d="M972.0,179.0 950.5,178.3 945.5,177.3 938.5,175.1 935.0,174.6 930.0,175.1 922.5,177.9 919.5,178.1 917.1,176.5 915.8,173.5 915.4,169.5 915.9,164.0 917.3,159.0 919.5,155.3 926.0,148.9 935.7,136.0 943.0,129.2 955.0,121.9 966.0,117.3 974.0,115.7 982.5,116.1 988.0,117.7 993.0,120.2 997.0,123.5 1000.6,128.0 1004.2,134.5 1006.1,140.0 1006.6,144.5 1005.9,150.5 1004.4,157.5 1002.2,163.0 999.5,166.8 995.0,171.0 990.5,174.3 986.5,176.1 978.5,178.1 972.0,179.0" fill="#000" fill-opacity="0.03" stroke="#7d7d7d" stroke-width="0.9"/>
<path d="M972.0,177.5 949.5,176.1 945.5,175.0 937.5,171.6 928.0,168.7 926.0,169.1 922.0,172.9 920.0,173.2 918.2,171.0 918.0,166.5 918.6,164.0 920.0,161.7 926.0,157.9 930.2,148.0 934.7,140.0 938.9,135.0 943.0,131.3 956.0,123.1 965.5,118.8 973.5,117.1 982.0,117.3 987.0,118.7 992.5,121.4 996.3,124.5 999.6,128.5 1002.7,134.0 1004.8,140.0 1005.3,144.5 1004.7,151.0 1003.2,157.5 1001.0,162.5 998.4,166.0 993.5,170.6 990.0,173.0 986.0,174.8 978.0,176.8 972.0,177.5" fill="#000" fill-opacity="0.03" stroke="#7b7b7b" stroke-width="0.9"/>
<path d="M973.0,176.0 951.5,174.6 947.0,173.4 942.5,171.3 936.3,167.5 933.5,164.5 931.9,159.0 931.7,152.5 933.4,146.5 936.5,140.5 940.6,135.5 945.5,131.4 958.0,123.7 966.0,120.0 973.5,118.4 981.5,118.5 986.5,119.9 991.5,122.3 995.5,125.4 998.6,129.0 1001.7,134.5 1003.5,140.0 1004.1,144.5 1003.6,150.5 1002.3,156.5 1000.2,161.5 997.5,165.1 993.0,169.3 989.5,171.8 986.0,173.3 978.5,175.2 973.0,176.0" fill="#000" fill-opacity="0.03" stroke="#7a7a7a" stroke-width="0.9"/>
<path d="M974.0,174.5 952.0,172.8 948.0,171.9 944.5,170.2 939.3,166.5 936.4,163.0 934.6,157.5 934.3,151.5 935.7,146.0 938.1,141.0 941.7,136.5 946.0,132.8 959.5,124.5 966.0,121.4 973.0,119.8 981.0,119.7 985.5,120.8 991.0,123.5 995.0,126.5 997.9,130.0 1000.7,135.0 1002.3,140.0 1002.8,145.0 1002.4,150.5 1001.3,156.0 999.6,160.0 997.0,163.8 993.0,167.6 989.5,170.2 986.0,171.8 974.0,174.5" fill="#000" fill-opacity="0.03" stroke="#787878" stroke-width="0.9"/>
<path d="M974.5,173.0 970.0,173.1 961.0,171.7 952.5,171.2 949.0,170.4 945.5,168.8 941.1,165.5 938.2,161.5 936.7,156.5 936.5,151.0 937.6,146.0 939.6,141.5 942.8,137.5 946.5,134.3 961.0,125.3 966.0,122.8 972.5,121.1 980.5,121.0 985.0,122.0 990.0,124.3 994.0,127.2 996.9,130.5 999.2,134.5 1000.9,139.5 1001.6,144.5 1001.4,150.0 1000.4,155.0 998.8,159.0 996.5,162.5 993.0,166.0 989.5,168.6 986.0,170.4 974.5,173.0" fill="#000" fill-opacity="0.03" stroke="#767676" stroke-width="0.9"/>
<path d="M975.5,171.5 970.5,171.6 960.8,170.0 952.5,169.5 946.5,167.5 942.5,164.5 940.0,161.0 938.4,156.0 938.2,151.0 939.1,146.5 940.8,142.5 943.5,138.9 947.0,135.8 966.5,124.0 972.5,122.4 980.0,122.2 984.5,123.2 989.0,125.2 993.0,128.0 995.8,131.0 998.2,135.0 999.7,139.5 1000.3,144.0 1000.2,149.5 999.6,153.5 998.2,157.5 996.1,161.0 993.0,164.3 989.5,167.0 986.0,168.9 975.5,171.5" fill="#000" fill-opacity="0.03" stroke="#757575" stroke-width="0.9"/>
<path d="M976.0,170.0 970.0,170.1 960.5,168.2 951.5,167.7 947.5,166.3 944.0,163.8 941.6,160.5 940.1,156.5 939.8,151.5 940.4,147.5 942.0,143.5 944.5,140.0 947.5,137.3 966.5,125.4 972.0,123.7 979.0,123.3 983.5,124.1 987.5,125.8 991.7,128.5 994.7,131.5 996.9,135.0 998.4,139.0 999.1,144.0 999.1,149.0 998.4,153.5 997.2,157.0 995.4,160.0 992.5,163.2 986.0,167.4 976.0,170.0" fill="#000" fill-opacity="0.03" stroke="#737373" stroke-width="0.9"/>
<path d="M977.0,168.5 970.5,168.7 961.0,166.5 952.5,166.2 948.5,165.1 945.3,163.0 943.0,160.0 941.7,156.5 941.2,152.5 941.7,148.5 942.9,145.0 945.0,141.6 947.7,139.0 956.3,134.0 967.0,126.5 972.0,124.9 977.5,124.4 981.5,124.9 985.5,126.2 990.0,128.8 993.1,131.5 995.3,134.5 996.8,138.0 997.7,142.0 998.0,147.0 996.8,155.0 995.0,158.5 992.5,161.5 986.5,165.8 977.0,168.5" fill="#000" fill-opacity="0.03" stroke="#717171" stroke-width="0.9"/>
<path d="M978.0,167.0 971.5,167.3 961.0,164.6 953.0,164.6 949.5,163.9 947.0,162.5 944.7,160.0 943.2,157.0 942.6,153.5 942.8,150.0 943.8,146.5 945.5,143.3 948.0,140.7 957.5,135.1 967.0,128.0 971.0,126.3 975.5,125.6 979.5,125.7 983.5,126.7 987.5,128.7 991.0,131.2 993.5,133.9 995.2,137.0 996.8,144.5 996.2,153.0 994.9,156.5 992.8,159.5 990.0,162.2 986.5,164.4 978.0,167.0" fill="#000" fill-opacity="0.03" stroke="#707070" stroke-width="0.9"/>
<path d="M976.0,166.0 970.0,165.6 961.0,162.5 953.0,162.9 949.5,162.2 947.0,160.5 945.4,158.5 944.2,155.5 943.9,152.0 945.5,146.0 947.2,143.5 949.4,141.5 958.0,136.8 968.5,128.6 973.0,127.1 978.0,126.7 981.5,127.3 985.0,128.7 989.0,131.2 992.0,134.0 993.9,137.0 995.0,140.0 995.7,148.5 994.3,155.0 992.5,158.0 990.3,160.5 987.5,162.5 984.0,164.2 976.0,166.0" fill="#000" fill-opacity="0.03" stroke="#6e6e6e" stroke-width="0.9"/>
<path d="M978.0,164.5 974.5,164.8 971.0,164.3 961.0,160.2 953.5,161.3 950.5,160.9 948.5,159.9 946.7,158.0 945.6,155.5 945.2,153.0 946.2,147.5 949.5,143.3 959.0,138.2 969.0,129.8 972.5,128.4 976.0,127.9 982.5,128.9 986.0,130.6 989.5,133.2 993.0,138.0 994.5,145.0 993.9,152.5 991.1,158.0 988.5,160.5 985.5,162.3 978.0,164.5" fill="#000" fill-opacity="0.03" stroke="#6c6c6c" stroke-width="0.9"/>
<path d="M979.5,163.1 975.5,163.5 971.5,162.9 963.0,158.4 961.0,157.8 953.5,159.6 950.0,159.0 948.0,157.3 946.7,154.5 946.4,151.5 947.4,148.0 950.5,144.4 960.0,139.8 967.5,132.5 970.5,130.4 976.5,129.0 980.0,129.3 983.0,130.3 988.0,133.5 991.5,137.7 993.2,143.0 993.3,149.5 991.9,154.5 989.0,158.5 985.0,161.3 979.5,163.1" fill="#000" fill-opacity="0.03" stroke="#6b6b6b" stroke-width="0.9"/>
<path d="M978.5,162.1 975.0,162.2 971.5,161.4 963.0,155.9 961.0,155.2 959.0,155.4 954.0,157.8 951.0,157.7 949.0,156.3 947.8,154.0 947.6,151.5 948.3,149.0 949.5,147.2 951.5,145.6 957.5,143.8 960.0,142.4 968.0,133.9 971.2,131.5 976.5,130.1 982.0,131.2 987.0,134.2 990.3,138.0 992.0,143.0 992.2,149.0 990.9,154.0 988.0,157.9 984.0,160.5 978.5,162.1" fill="#000" fill-opacity="0.03" stroke="#696969" stroke-width="0.9"/>
<path d="M977.0,161.0 973.5,160.6 970.5,159.4 960.5,151.4 959.0,151.7 954.5,155.8 951.5,156.2 950.0,155.3 949.2,154.0 948.8,152.0 949.2,150.0 950.5,148.2 952.5,147.0 958.0,147.2 959.5,146.7 968.4,135.5 972.0,132.6 976.5,131.3 981.5,132.2 986.0,135.0 989.4,139.0 991.0,144.0 991.0,149.5 989.5,154.0 986.5,157.6 982.0,160.1 977.0,161.0" fill="#000" fill-opacity="0.03" stroke="#676767" stroke-width="0.9"/>
<path d="M979.5,159.6 975.0,159.6 970.5,157.7 965.8,153.0 963.6,148.5 964.3,144.5 968.6,137.5 972.0,134.1 976.0,132.6 980.5,133.1 985.4,136.0 988.6,140.0 989.9,144.5 989.7,150.0 987.8,154.5 984.0,157.9 979.5,159.6M953.0,154.6 951.0,154.3 950.0,152.0 951.0,149.6 953.0,148.9 954.5,149.5 955.3,151.5 954.6,153.5 953.0,154.6" fill="#000" fill-opacity="0.03" stroke="#666666" stroke-width="0.9"/>
<path d="M978.5,158.5 974.5,158.2 970.5,156.0 967.1,152.0 965.8,148.0 966.7,143.5 970.0,138.0 973.0,135.1 976.5,133.9 981.0,134.6 985.0,137.2 987.8,141.0 988.9,145.5 988.4,150.5 986.5,154.2 983.0,157.1 978.5,158.5M952.5,153.1 951.5,152.9 951.1,152.0 952.0,150.7 953.2,151.5 952.5,153.1" fill="#000" fill-opacity="0.03" stroke="#646464" stroke-width="0.9"/>
<path d="M980.0,157.1 976.0,157.3 972.5,155.9 969.2,152.5 967.6,148.5 968.0,144.5 970.2,140.0 973.0,136.8 976.5,135.3 980.0,135.6 983.5,137.5 986.2,140.5 987.6,144.5 987.6,148.5 986.2,152.5 983.5,155.4 980.0,157.1" fill="#000" fill-opacity="0.03" stroke="#626262" stroke-width="0.9"/>
<path d="M979.0,156.0 975.5,155.9 972.5,154.3 970.1,151.5 969.0,148.0 969.4,144.5 971.3,140.5 974.0,137.7 977.0,136.6 980.5,137.1 983.5,139.1 985.7,142.0 986.6,145.5 986.4,149.0 984.7,152.5 982.0,154.9 979.0,156.0" fill="#000" fill-opacity="0.03" stroke="#616161" stroke-width="0.9"/>
<path d="M980.0,154.5 977.0,154.9 974.0,153.8 971.7,151.5 970.5,148.5 970.6,145.0 972.0,141.7 974.5,139.0 977.0,138.0 980.0,138.3 982.5,139.8 984.4,142.0 985.4,145.0 985.4,148.0 984.3,151.0 982.5,153.1 980.0,154.5" fill="#000" fill-opacity="0.03" stroke="#5f5f5f" stroke-width="0.9"/>
<path d="M978.5,153.6 976.0,153.3 974.0,152.2 972.3,150.0 971.6,147.5 971.9,144.5 973.2,142.0 975.0,140.2 977.5,139.3 980.0,139.6 982.1,141.0 983.8,143.5 984.4,146.0 984.1,148.5 982.9,151.0 981.0,152.7 978.5,153.6" fill="#000" fill-opacity="0.03" stroke="#5d5d5d" stroke-width="0.9"/>
<path d="M979.5,152.0 977.5,152.3 975.5,151.7 973.7,150.0 972.9,148.0 972.9,145.5 973.6,143.5 975.0,141.7 977.0,140.7 979.0,140.6 980.9,141.5 982.3,143.0 983.1,145.0 983.2,147.0 982.5,149.4 981.2,151.0 979.5,152.0" fill="#000" fill-opacity="0.03" stroke="#5c5c5c" stroke-width="0.9"/>
<path d="M979.5,150.6 976.5,150.7 975.0,149.6 974.1,148.0 974.3,144.5 975.5,142.8 977.0,141.9 980.0,142.3 982.0,145.0 981.6,148.5 979.5,150.6" fill="#000" fill-opacity="0.03" stroke="#5a5a5a" stroke-width="0.9"/>
<path d="M978.5,149.6 976.2,149.0 975.1,147.0 975.5,144.5 977.5,143.0 979.7,143.5 981.0,145.5 980.6,148.0 978.5,149.6" fill="#fff" stroke="#585858" stroke-width="0.9"/>
<path d="M978.5,148.2 977.0,148.0 976.1,146.5 976.5,145.0 977.5,144.2 979.0,144.4 979.8,145.5 979.8,147.0 978.5,148.2" fill="#fff" stroke="#575757" stroke-width="0.9"/>
<path d="M978.5,146.7 977.5,146.7 977.5,145.5 978.6,145.5 978.5,146.7" fill="#fff" stroke="#555555" stroke-width="0.9"/>
</g>
<rect x="860" y="54.5" width="229.5" height="229.8" fill="none" stroke="#b0b0b0" stroke-width="1.2"/>
<line x1="945.9" y1="54.5" x2="945.9" y2="284.3" stroke="#707070" stroke-width="1.2"/>
<line x1="860" y1="190.1" x2="1089.5" y2="190.1" stroke="#707070" stroke-width="1.2"/>
<line x1="856" y1="75.2" x2="860" y2="75.2" stroke="#999" stroke-width="1"/>
<line x1="856" y1="128.3" x2="860" y2="128.3" stroke="#999" stroke-width="1"/>
<line x1="856" y1="183.9" x2="860" y2="183.9" stroke="#999" stroke-width="1"/>
<line x1="856" y1="252.1" x2="860" y2="252.1" stroke="#999" stroke-width="1"/>
<line x1="857.5" y1="112.3" x2="860" y2="112.3" stroke="#aaa" stroke-width="0.8"/>
<line x1="857.5" y1="103" x2="860" y2="103" stroke="#aaa" stroke-width="0.8"/>
<line x1="857.5" y1="96.3" x2="860" y2="96.3" stroke="#aaa" stroke-width="0.8"/>
<line x1="857.5" y1="91.2" x2="860" y2="91.2" stroke="#aaa" stroke-width="0.8"/>
<line x1="857.5" y1="87" x2="860" y2="87" stroke="#aaa" stroke-width="0.8"/>
<line x1="857.5" y1="83.4" x2="860" y2="83.4" stroke="#aaa" stroke-width="0.8"/>
<line x1="857.5" y1="80.3" x2="860" y2="80.3" stroke="#aaa" stroke-width="0.8"/>
<line x1="857.5" y1="77.6" x2="860" y2="77.6" stroke="#aaa" stroke-width="0.8"/>
<line x1="857.5" y1="167.2" x2="860" y2="167.2" stroke="#aaa" stroke-width="0.8"/>
<line x1="857.5" y1="157.4" x2="860" y2="157.4" stroke="#aaa" stroke-width="0.8"/>
<line x1="857.5" y1="150.4" x2="860" y2="150.4" stroke="#aaa" stroke-width="0.8"/>
<line x1="857.5" y1="145" x2="860" y2="145" stroke="#aaa" stroke-width="0.8"/>
<line x1="857.5" y1="140.6" x2="860" y2="140.6" stroke="#aaa" stroke-width="0.8"/>
<line x1="857.5" y1="136.9" x2="860" y2="136.9" stroke="#aaa" stroke-width="0.8"/>
<line x1="857.5" y1="133.7" x2="860" y2="133.7" stroke="#aaa" stroke-width="0.8"/>
<line x1="857.5" y1="130.8" x2="860" y2="130.8" stroke="#aaa" stroke-width="0.8"/>
<line x1="857.5" y1="59.5" x2="860" y2="59.5" stroke="#aaa" stroke-width="0.8"/>
<line x1="857.5" y1="63.5" x2="860" y2="63.5" stroke="#aaa" stroke-width="0.8"/>
<line x1="857.5" y1="66.5" x2="860" y2="66.5" stroke="#aaa" stroke-width="0.8"/>
<line x1="857.5" y1="69.5" x2="860" y2="69.5" stroke="#aaa" stroke-width="0.8"/>
<line x1="857.5" y1="72.5" x2="860" y2="72.5" stroke="#aaa" stroke-width="0.8"/>
<line x1="857.5" y1="194.5" x2="860" y2="194.5" stroke="#aaa" stroke-width="0.8"/>
<line x1="857.5" y1="206.5" x2="860" y2="206.5" stroke="#aaa" stroke-width="0.8"/>
<line x1="857.5" y1="219.5" x2="860" y2="219.5" stroke="#aaa" stroke-width="0.8"/>
<line x1="857.5" y1="229.5" x2="860" y2="229.5" stroke="#aaa" stroke-width="0.8"/>
<line x1="857.5" y1="239.5" x2="860" y2="239.5" stroke="#aaa" stroke-width="0.8"/>
<line x1="857.5" y1="244.5" x2="860" y2="244.5" stroke="#aaa" stroke-width="0.8"/>
<line x1="857.5" y1="259.5" x2="860" y2="259.5" stroke="#aaa" stroke-width="0.8"/>
<line x1="857.5" y1="266.5" x2="860" y2="266.5" stroke="#aaa" stroke-width="0.8"/>
<line x1="857.5" y1="274.5" x2="860" y2="274.5" stroke="#aaa" stroke-width="0.8"/>
<rect x="856.0" y="249.5" width="3" height="5" fill="#333"/>
<line x1="896.1" y1="284.3" x2="896.1" y2="289.3" stroke="#999" stroke-width="1"/>
<line x1="958.8" y1="284.3" x2="958.8" y2="289.3" stroke="#999" stroke-width="1"/>
<line x1="1014.1" y1="284.3" x2="1014.1" y2="289.3" stroke="#999" stroke-width="1"/>
<line x1="1066.8" y1="284.3" x2="1066.8" y2="289.3" stroke="#999" stroke-width="1"/>
<line x1="975.4" y1="284.3" x2="975.4" y2="287.3" stroke="#aaa" stroke-width="0.8"/>
<line x1="985.2" y1="284.3" x2="985.2" y2="287.3" stroke="#aaa" stroke-width="0.8"/>
<line x1="992.1" y1="284.3" x2="992.1" y2="287.3" stroke="#aaa" stroke-width="0.8"/>
<line x1="997.5" y1="284.3" x2="997.5" y2="287.3" stroke="#aaa" stroke-width="0.8"/>
<line x1="1001.8" y1="284.3" x2="1001.8" y2="287.3" stroke="#aaa" stroke-width="0.8"/>
<line x1="1005.5" y1="284.3" x2="1005.5" y2="287.3" stroke="#aaa" stroke-width="0.8"/>
<line x1="1008.7" y1="284.3" x2="1008.7" y2="287.3" stroke="#aaa" stroke-width="0.8"/>
<line x1="1011.6" y1="284.3" x2="1011.6" y2="287.3" stroke="#aaa" stroke-width="0.8"/>
<line x1="1030" y1="284.3" x2="1030" y2="287.3" stroke="#aaa" stroke-width="0.8"/>
<line x1="1039.2" y1="284.3" x2="1039.2" y2="287.3" stroke="#aaa" stroke-width="0.8"/>
<line x1="1045.8" y1="284.3" x2="1045.8" y2="287.3" stroke="#aaa" stroke-width="0.8"/>
<line x1="1050.9" y1="284.3" x2="1050.9" y2="287.3" stroke="#aaa" stroke-width="0.8"/>
<line x1="1055.1" y1="284.3" x2="1055.1" y2="287.3" stroke="#aaa" stroke-width="0.8"/>
<line x1="1058.6" y1="284.3" x2="1058.6" y2="287.3" stroke="#aaa" stroke-width="0.8"/>
<line x1="1061.7" y1="284.3" x2="1061.7" y2="287.3" stroke="#aaa" stroke-width="0.8"/>
<line x1="1064.4" y1="284.3" x2="1064.4" y2="287.3" stroke="#aaa" stroke-width="0.8"/>
<line x1="868" y1="284.3" x2="868" y2="287.3" stroke="#aaa" stroke-width="0.8"/>
<line x1="876" y1="284.3" x2="876" y2="287.3" stroke="#aaa" stroke-width="0.8"/>
<line x1="886" y1="284.3" x2="886" y2="287.3" stroke="#aaa" stroke-width="0.8"/>
<line x1="890" y1="284.3" x2="890" y2="287.3" stroke="#aaa" stroke-width="0.8"/>
<line x1="894" y1="284.3" x2="894" y2="287.3" stroke="#aaa" stroke-width="0.8"/>
<line x1="900" y1="284.3" x2="900" y2="287.3" stroke="#aaa" stroke-width="0.8"/>
<line x1="904" y1="284.3" x2="904" y2="287.3" stroke="#aaa" stroke-width="0.8"/>
<line x1="910" y1="284.3" x2="910" y2="287.3" stroke="#aaa" stroke-width="0.8"/>
<line x1="920" y1="284.3" x2="920" y2="287.3" stroke="#aaa" stroke-width="0.8"/>
<line x1="930" y1="284.3" x2="930" y2="287.3" stroke="#aaa" stroke-width="0.8"/>
<line x1="938" y1="284.3" x2="938" y2="287.3" stroke="#aaa" stroke-width="0.8"/>
<line x1="945" y1="284.3" x2="945" y2="287.3" stroke="#aaa" stroke-width="0.8"/>
<line x1="948" y1="284.3" x2="948" y2="287.3" stroke="#aaa" stroke-width="0.8"/>
<line x1="952" y1="284.3" x2="952" y2="287.3" stroke="#aaa" stroke-width="0.8"/>
<line x1="956" y1="284.3" x2="956" y2="287.3" stroke="#aaa" stroke-width="0.8"/>
<line x1="1075" y1="284.3" x2="1075" y2="287.3" stroke="#aaa" stroke-width="0.8"/>
<line x1="1082" y1="284.3" x2="1082" y2="287.3" stroke="#aaa" stroke-width="0.8"/>
<rect x="895.0" y="285.3" width="3" height="4" fill="#333"/>
<text x="866.2" y="79.5" font-size="25">17.6</text>
<text x="1032.8" y="79.5" font-size="25">72.1</text>
<text x="866.2" y="274" font-size="25">8.82</text>
<text x="1032.8" y="274" font-size="25">1.47</text>
<clipPath id="cb02"><rect x="1172.2" y="54.5" width="229.5" height="229.8"/></clipPath>
<g clip-path="url(#cb02)" fill="none" stroke-linejoin="round">
<path d="M1304.7,197.1 1296.2,196.7 1283.7,193.7 1265.7,186.1 1256.7,179.5 1250.2,176.3 1240.2,173.2 1224.7,170.5 1217.7,167.3 1210.5,161.5 1208.3,158.5 1207.0,155.5 1206.2,141.0 1206.8,138.0 1208.2,135.0 1212.7,130.7 1223.2,125.1 1231.2,122.6 1243.2,121.1 1250.2,119.5 1265.7,112.0 1276.7,105.3 1285.2,102.2 1292.7,100.2 1302.7,98.9 1312.2,99.5 1324.2,103.5 1333.2,108.3 1338.7,112.5 1342.7,117.0 1348.0,125.5 1350.5,131.5 1352.9,142.0 1353.3,148.0 1352.5,156.0 1350.1,165.5 1347.8,171.0 1343.5,178.0 1339.7,182.5 1335.2,186.2 1329.7,189.4 1321.2,193.0 1304.7,197.1" fill="none" stroke="#8c8c8c" stroke-width="0.9"/>
<path d="M1304.7,195.5 1295.2,194.9 1284.2,192.2 1266.7,184.4 1257.7,177.5 1249.2,173.0 1240.7,170.4 1226.2,168.3 1222.2,166.8 1217.2,164.0 1211.8,159.5 1209.3,154.5 1209.0,141.5 1210.4,136.5 1214.6,132.5 1222.7,127.9 1229.7,125.8 1240.7,124.7 1250.7,122.7 1266.2,114.1 1277.2,107.0 1285.2,103.8 1293.2,101.8 1302.2,100.5 1312.2,101.1 1323.2,104.6 1332.2,109.3 1337.3,113.0 1341.4,117.5 1346.8,126.0 1349.4,132.0 1351.5,141.5 1352.0,148.0 1351.2,156.0 1348.9,165.0 1346.6,170.5 1342.2,177.5 1338.7,181.6 1334.2,185.3 1328.7,188.4 1320.7,191.8 1304.7,195.5" fill="none" stroke="#8a8a8a" stroke-width="0.9"/>
<path d="M1304.2,194.0 1294.7,193.2 1284.7,190.8 1267.3,182.5 1258.2,175.2 1249.2,170.1 1240.7,167.7 1227.7,166.1 1217.7,161.4 1213.7,158.0 1211.6,153.5 1211.6,142.5 1212.9,138.0 1217.7,133.4 1224.7,129.8 1229.2,128.8 1239.7,128.2 1248.7,126.7 1252.2,125.7 1277.7,108.7 1285.2,105.5 1294.7,103.1 1303.2,102.0 1312.7,102.7 1322.2,105.8 1331.7,110.6 1336.7,114.3 1340.5,118.5 1346.1,127.5 1348.3,133.0 1350.2,142.0 1350.6,148.5 1349.9,156.0 1347.5,165.0 1345.1,170.5 1340.9,177.0 1337.4,181.0 1333.2,184.3 1327.7,187.4 1319.7,190.8 1310.7,193.1 1304.2,194.0" fill="none" stroke="#898989" stroke-width="0.9"/>
<path d="M1308.7,192.0 1304.2,192.5 1299.2,192.2 1291.2,191.0 1285.7,189.5 1268.2,180.7 1258.7,172.9 1249.7,167.3 1241.2,164.9 1229.2,164.0 1220.5,160.0 1216.2,156.9 1214.1,153.0 1214.0,145.0 1215.4,139.5 1219.7,135.0 1225.2,132.3 1228.7,131.7 1238.2,131.5 1249.2,129.9 1253.2,128.7 1255.7,127.2 1262.7,121.1 1275.7,111.8 1282.2,108.4 1288.2,106.4 1300.2,103.7 1309.7,103.9 1319.2,106.1 1330.2,111.3 1335.0,114.5 1338.7,118.3 1344.0,126.5 1346.7,132.0 1348.6,140.0 1349.3,146.5 1349.0,153.5 1347.5,160.5 1345.6,166.5 1342.7,172.0 1338.8,177.5 1334.7,181.5 1329.7,184.8 1321.2,188.9 1308.7,192.0" fill="none" stroke="#878787" stroke-width="0.9"/>
<path d="M1308.7,190.6 1300.2,190.7 1286.7,188.1 1269.2,178.9 1258.2,169.8 1249.7,164.0 1241.7,161.8 1230.7,161.7 1225.2,159.7 1219.5,156.0 1216.9,152.5 1216.4,147.0 1218.1,141.0 1221.5,137.0 1226.2,134.7 1240.2,134.0 1249.7,133.0 1253.7,131.8 1257.2,129.5 1264.2,122.5 1275.2,114.3 1282.2,110.3 1288.2,108.1 1300.7,105.3 1309.7,105.4 1318.7,107.4 1329.2,112.2 1333.7,115.1 1337.6,119.0 1342.8,127.0 1345.5,132.5 1347.2,139.5 1348.0,146.0 1347.8,152.5 1346.5,159.5 1344.5,165.5 1341.8,171.0 1338.2,176.1 1334.2,180.1 1329.2,183.6 1321.2,187.5 1315.7,189.3 1308.7,190.6" fill="none" stroke="#858585" stroke-width="0.9"/>
<path d="M1309.7,189.0 1304.2,189.4 1299.2,189.0 1290.2,187.3 1285.2,185.5 1269.2,176.4 1252.7,161.7 1248.7,159.3 1242.7,158.2 1231.7,159.2 1226.7,157.6 1222.1,154.5 1219.8,151.5 1219.2,147.0 1220.6,142.5 1223.7,138.7 1227.7,136.8 1247.7,136.5 1251.2,136.1 1254.2,135.0 1257.7,132.5 1265.5,124.0 1274.2,117.1 1281.2,112.7 1288.2,109.9 1300.2,107.0 1307.7,106.8 1317.2,108.4 1327.2,112.6 1332.2,115.7 1335.8,119.0 1340.0,125.0 1343.9,132.0 1345.5,137.5 1346.7,145.0 1346.7,151.0 1345.8,157.0 1343.9,163.5 1341.4,169.0 1338.2,174.0 1334.2,178.3 1328.7,182.3 1321.7,185.8 1316.2,187.8 1309.7,189.0" fill="none" stroke="#848484" stroke-width="0.9"/>
<path d="M1310.2,187.5 1301.7,187.7 1289.7,185.3 1285.7,183.7 1272.7,176.3 1267.2,172.3 1260.3,165.0 1257.1,161.0 1253.2,154.4 1251.2,152.7 1247.7,152.7 1234.2,156.5 1230.7,156.4 1227.7,155.3 1224.4,153.0 1222.5,150.0 1222.1,147.0 1223.1,143.5 1226.2,140.1 1230.7,138.7 1238.7,139.2 1248.7,141.1 1252.2,140.6 1257.2,136.8 1265.1,127.0 1271.7,121.3 1280.2,115.3 1289.2,111.4 1300.2,108.7 1307.2,108.4 1316.7,109.7 1325.7,113.3 1330.7,116.2 1334.7,119.7 1338.5,125.0 1342.4,132.0 1344.1,137.0 1345.4,144.5 1345.5,150.0 1344.8,155.5 1343.0,162.0 1340.6,167.5 1337.5,172.5 1333.7,176.8 1328.7,180.7 1321.7,184.4 1316.2,186.4 1310.2,187.5" fill="none" stroke="#828282" stroke-width="0.9"/>
<path d="M1310.7,186.0 1301.7,186.1 1290.7,183.7 1286.2,181.8 1271.2,173.0 1266.4,168.5 1260.7,160.5 1259.1,156.5 1257.1,147.0 1257.4,143.0 1259.3,139.0 1265.5,129.5 1270.6,124.5 1278.2,118.6 1285.2,114.7 1291.2,112.6 1301.7,110.1 1309.7,110.1 1316.7,111.1 1324.7,114.3 1331.2,118.3 1335.6,123.0 1340.5,131.0 1342.6,136.5 1344.1,144.0 1344.3,151.0 1342.9,158.0 1339.8,166.0 1335.7,172.5 1330.7,177.5 1325.2,181.1 1317.7,184.5 1310.7,186.0M1234.2,154.1 1231.2,154.0 1228.7,153.1 1226.6,151.5 1225.3,149.5 1224.9,147.5 1225.4,145.0 1226.7,143.0 1229.2,141.4 1233.2,140.8 1237.7,141.5 1241.2,143.0 1243.3,145.5 1243.4,148.0 1241.7,150.5 1238.2,152.8 1234.2,154.1" fill="none" stroke="#808080" stroke-width="0.9"/>
<path d="M1311.2,184.5 1302.7,184.7 1292.7,182.5 1287.2,180.2 1273.2,172.2 1268.7,168.0 1263.9,160.5 1262.2,156.0 1260.8,148.5 1260.9,143.5 1262.6,138.5 1266.5,131.5 1271.1,126.5 1278.7,120.3 1285.2,116.7 1292.2,114.0 1302.2,111.7 1309.7,111.6 1316.7,112.6 1323.7,115.2 1330.2,119.2 1334.6,124.0 1339.2,131.5 1341.4,137.0 1342.9,144.5 1343.0,151.0 1341.8,157.0 1338.8,165.0 1335.1,171.0 1330.7,175.6 1325.2,179.6 1317.7,183.0 1311.2,184.5M1234.7,151.6 1231.2,151.7 1228.5,150.0 1227.6,147.0 1229.2,144.3 1231.2,143.3 1234.2,143.3 1236.7,144.1 1238.4,145.5 1238.9,147.0 1238.4,149.0 1236.9,150.5 1234.7,151.6" fill="none" stroke="#7f7f7f" stroke-width="0.9"/>
<path d="M1311.7,183.0 1303.2,183.3 1294.7,181.5 1289.2,179.3 1275.4,171.5 1271.0,167.5 1267.2,161.5 1264.9,156.0 1263.5,149.0 1263.5,143.5 1265.0,138.5 1268.2,132.5 1272.7,127.5 1279.7,121.7 1285.7,118.3 1293.2,115.4 1302.2,113.3 1309.7,113.0 1316.7,114.0 1323.2,116.5 1329.0,120.0 1333.3,124.5 1338.0,132.0 1340.2,137.5 1341.7,144.5 1341.9,150.5 1340.7,156.5 1337.5,164.5 1334.0,170.0 1329.7,174.6 1324.7,178.2 1318.2,181.3 1311.7,183.0M1233.2,149.5 1231.5,149.5 1230.3,148.5 1230.3,147.0 1231.2,146.1 1233.2,145.9 1234.8,147.0 1234.7,148.5 1233.2,149.5" fill="#000" fill-opacity="0.03" stroke="#7d7d7d" stroke-width="0.9"/>
<path d="M1311.7,181.6 1303.7,181.9 1295.7,180.3 1290.2,178.0 1277.2,170.6 1272.8,166.5 1269.4,161.0 1267.1,155.5 1265.7,149.0 1265.8,143.0 1267.9,137.0 1271.0,132.0 1276.5,126.5 1281.7,122.3 1287.7,119.2 1294.7,116.6 1303.2,114.8 1310.2,114.6 1316.7,115.5 1322.7,117.7 1328.2,121.1 1332.4,125.5 1336.5,132.0 1339.0,138.0 1340.6,145.0 1340.7,150.5 1339.5,156.0 1336.5,163.5 1333.0,169.0 1328.7,173.6 1324.2,176.9 1317.7,180.0 1311.7,181.6" fill="#000" fill-opacity="0.03" stroke="#7b7b7b" stroke-width="0.9"/>
<path d="M1307.7,180.5 1301.2,180.1 1294.7,178.3 1281.2,171.1 1277.4,168.5 1273.5,164.0 1269.9,157.5 1268.1,151.5 1267.4,145.5 1268.5,140.0 1271.5,134.5 1276.4,129.0 1282.2,124.0 1288.2,120.7 1296.2,117.9 1303.7,116.3 1310.2,116.0 1315.7,116.7 1321.2,118.5 1326.2,121.3 1330.2,124.9 1333.9,130.0 1336.9,136.0 1339.1,143.0 1339.6,149.0 1338.6,154.5 1336.0,161.5 1332.8,167.0 1328.9,171.5 1324.7,175.0 1319.7,177.6 1313.7,179.7 1307.7,180.5" fill="#000" fill-opacity="0.03" stroke="#7a7a7a" stroke-width="0.9"/>
<path d="M1308.7,179.0 1301.7,178.8 1295.7,177.2 1282.7,170.0 1279.2,167.5 1275.3,163.0 1271.8,157.0 1269.8,151.0 1269.2,145.5 1270.0,141.0 1272.7,135.9 1278.5,129.5 1283.7,125.1 1289.7,121.8 1296.7,119.3 1303.7,117.9 1310.2,117.5 1315.7,118.2 1320.2,119.6 1325.2,122.3 1329.2,125.7 1332.8,130.5 1335.8,136.5 1337.8,143.0 1338.4,148.5 1337.5,154.0 1335.0,160.5 1332.2,165.5 1328.5,170.0 1324.7,173.3 1320.2,175.9 1314.2,178.1 1308.7,179.0" fill="#000" fill-opacity="0.03" stroke="#787878" stroke-width="0.9"/>
<path d="M1309.2,177.5 1302.7,177.5 1296.7,176.0 1281.2,166.6 1277.2,162.3 1273.5,156.5 1271.5,151.0 1270.8,146.0 1271.6,141.5 1274.1,137.0 1280.7,130.0 1285.5,126.0 1290.7,123.2 1297.2,120.8 1304.2,119.4 1310.7,119.0 1315.7,119.6 1320.2,121.1 1325.2,123.9 1328.7,127.0 1331.9,131.5 1334.6,137.0 1336.6,143.0 1337.2,148.0 1336.4,153.0 1334.3,159.0 1331.6,164.0 1328.1,168.5 1324.2,172.1 1320.2,174.5 1314.7,176.5 1309.2,177.5" fill="#000" fill-opacity="0.03" stroke="#767676" stroke-width="0.9"/>
<path d="M1309.7,176.1 1303.2,176.0 1297.7,174.7 1293.7,172.7 1283.0,165.5 1279.0,161.5 1275.2,156.0 1273.2,151.0 1272.5,146.0 1273.2,142.0 1275.5,138.0 1283.6,130.0 1287.7,126.8 1292.7,124.1 1298.2,122.1 1304.7,120.8 1310.7,120.4 1315.2,120.9 1319.7,122.4 1324.2,124.8 1327.9,128.0 1330.8,132.0 1333.5,137.5 1335.5,143.5 1335.9,148.0 1335.1,153.0 1333.1,158.5 1330.4,163.5 1327.2,167.6 1323.7,170.8 1319.7,173.3 1314.7,175.1 1309.7,176.1" fill="#000" fill-opacity="0.03" stroke="#757575" stroke-width="0.9"/>
<path d="M1310.7,174.5 1304.2,174.6 1298.7,173.4 1294.7,171.3 1285.0,164.5 1280.7,160.5 1276.9,155.5 1274.9,151.0 1274.1,146.5 1274.8,142.5 1276.7,139.3 1289.7,127.7 1293.7,125.4 1298.7,123.6 1310.2,121.8 1314.7,122.2 1318.7,123.4 1323.2,125.7 1326.7,128.5 1329.4,132.0 1332.0,137.0 1334.0,142.5 1334.7,147.0 1334.2,151.5 1332.4,157.0 1329.9,162.0 1326.9,166.0 1323.3,169.5 1319.7,171.8 1315.7,173.4 1310.7,174.5" fill="#000" fill-opacity="0.03" stroke="#737373" stroke-width="0.9"/>
<path d="M1311.2,173.0 1306.2,173.3 1301.7,172.7 1298.2,171.4 1294.7,169.3 1285.2,162.0 1280.2,157.0 1277.0,152.0 1275.8,147.0 1276.3,143.5 1278.1,140.5 1291.2,128.8 1294.7,126.8 1299.2,125.1 1310.2,123.2 1314.7,123.6 1318.7,124.9 1322.7,126.9 1326.0,129.5 1328.6,133.0 1331.1,138.0 1332.9,143.0 1333.4,147.0 1333.0,151.0 1331.5,156.0 1329.0,161.0 1326.1,165.0 1323.1,168.0 1319.7,170.4 1315.7,172.1 1311.2,173.0" fill="#000" fill-opacity="0.03" stroke="#717171" stroke-width="0.9"/>
<path d="M1311.7,171.6 1307.2,171.8 1303.2,171.4 1299.7,170.3 1296.2,168.3 1286.6,160.5 1281.2,155.3 1278.6,151.5 1277.5,147.5 1277.9,144.5 1279.7,141.5 1292.7,130.0 1300.2,126.4 1310.2,124.6 1314.2,124.9 1318.2,126.1 1322.2,128.1 1325.2,130.5 1327.5,133.5 1329.8,138.0 1331.5,142.5 1332.1,146.5 1331.8,150.5 1330.5,155.0 1328.4,159.5 1325.6,163.5 1322.7,166.6 1319.2,169.2 1315.7,170.7 1311.7,171.6" fill="#000" fill-opacity="0.03" stroke="#707070" stroke-width="0.9"/>
<path d="M1312.7,170.0 1304.7,170.1 1301.2,169.1 1297.7,167.3 1281.7,153.0 1279.9,150.5 1279.2,148.0 1279.4,145.5 1280.9,143.0 1286.7,138.3 1293.7,131.4 1300.2,128.1 1309.2,126.0 1313.2,126.1 1316.7,127.0 1320.7,128.7 1323.7,130.8 1326.0,133.5 1328.3,137.5 1330.0,142.0 1330.8,146.0 1330.6,150.0 1329.5,154.0 1325.1,162.0 1319.7,167.3 1316.7,168.9 1312.7,170.0" fill="#000" fill-opacity="0.03" stroke="#6e6e6e" stroke-width="0.9"/>
<path d="M1312.7,168.6 1305.2,168.6 1301.7,167.6 1298.7,166.1 1294.8,163.0 1286.7,154.5 1282.2,150.8 1280.9,148.0 1281.2,146.0 1282.2,144.5 1287.2,140.5 1295.2,132.4 1301.2,129.3 1309.2,127.5 1312.7,127.5 1316.2,128.2 1319.7,129.6 1322.7,131.7 1325.2,134.5 1327.1,138.0 1328.9,142.5 1329.6,146.0 1329.4,149.5 1328.4,153.5 1324.3,161.0 1318.7,166.3 1312.7,168.6" fill="#000" fill-opacity="0.03" stroke="#6c6c6c" stroke-width="0.9"/>
<path d="M1313.2,167.0 1306.2,167.3 1302.7,166.3 1299.7,164.8 1294.1,160.0 1286.7,150.7 1283.2,149.0 1282.5,148.0 1283.2,146.8 1286.7,144.4 1292.8,137.0 1296.5,133.5 1301.7,130.7 1308.7,128.9 1312.2,128.8 1315.7,129.5 1319.2,130.9 1321.7,132.6 1325.8,138.0 1327.5,142.0 1328.2,145.5 1327.5,152.0 1324.1,159.0 1319.2,164.3 1316.2,166.0 1313.2,167.0" fill="#000" fill-opacity="0.03" stroke="#6b6b6b" stroke-width="0.9"/>
<path d="M1309.2,166.0 1302.7,164.7 1297.2,160.9 1291.5,153.5 1289.9,150.0 1289.3,147.0 1290.0,144.5 1291.9,141.0 1294.7,137.4 1297.9,134.5 1304.7,131.2 1308.7,130.3 1312.2,130.3 1318.2,131.9 1322.7,135.5 1326.2,142.0 1327.0,148.0 1325.0,155.0 1320.7,161.1 1315.7,164.7 1312.7,165.6 1309.2,166.0" fill="#000" fill-opacity="0.03" stroke="#696969" stroke-width="0.9"/>
<path d="M1310.2,164.5 1306.7,164.3 1303.7,163.4 1298.2,159.8 1293.6,153.5 1292.3,150.0 1291.9,147.0 1292.4,144.5 1293.8,141.5 1298.7,135.9 1304.7,132.7 1311.7,131.6 1317.2,132.9 1321.4,136.0 1324.7,141.5 1325.8,147.5 1324.2,153.5 1320.3,159.5 1315.7,163.1 1310.2,164.5" fill="#000" fill-opacity="0.03" stroke="#676767" stroke-width="0.9"/>
<path d="M1310.2,163.0 1304.2,162.0 1299.0,158.5 1295.3,153.0 1294.3,150.0 1294.0,147.0 1295.6,142.0 1299.9,137.0 1305.7,133.9 1311.7,133.0 1316.7,134.2 1320.7,137.2 1323.5,142.0 1324.5,147.5 1323.1,153.0 1319.4,158.5 1315.2,161.7 1310.2,163.0" fill="#000" fill-opacity="0.03" stroke="#666666" stroke-width="0.9"/>
<path d="M1310.7,161.5 1305.2,160.8 1300.2,157.5 1297.1,153.0 1296.0,147.5 1297.1,143.0 1300.7,138.4 1305.7,135.4 1311.2,134.4 1315.7,135.2 1319.6,138.0 1322.3,142.5 1323.2,147.0 1322.1,152.0 1319.0,157.0 1315.2,160.1 1310.7,161.5" fill="#000" fill-opacity="0.03" stroke="#646464" stroke-width="0.9"/>
<path d="M1310.7,160.0 1305.7,159.3 1301.3,156.5 1298.6,152.5 1297.8,147.5 1299.1,143.0 1302.4,139.0 1306.7,136.5 1311.7,135.8 1315.7,136.7 1318.7,139.0 1321.1,143.0 1321.8,147.5 1320.7,152.0 1318.1,156.0 1314.7,158.8 1310.7,160.0" fill="#000" fill-opacity="0.03" stroke="#626262" stroke-width="0.9"/>
<path d="M1311.2,158.5 1307.2,158.3 1303.2,156.1 1300.4,152.5 1299.5,148.5 1300.3,144.5 1303.0,140.5 1306.7,138.1 1311.2,137.1 1314.7,137.8 1317.7,139.9 1319.7,143.0 1320.5,147.0 1319.7,151.0 1317.7,154.5 1314.7,157.2 1311.2,158.5" fill="#000" fill-opacity="0.03" stroke="#616161" stroke-width="0.9"/>
<path d="M1311.2,157.0 1307.7,156.9 1304.2,155.0 1301.9,152.0 1301.1,148.5 1301.8,145.0 1304.1,141.5 1307.2,139.4 1311.2,138.5 1314.2,139.1 1316.9,141.0 1318.7,144.0 1319.2,147.0 1318.5,150.5 1316.8,153.5 1314.2,155.9 1311.2,157.0" fill="#000" fill-opacity="0.03" stroke="#5f5f5f" stroke-width="0.9"/>
<path d="M1311.2,155.6 1308.2,155.5 1305.3,154.0 1303.4,151.5 1302.7,148.5 1303.3,145.5 1305.2,142.5 1307.7,140.7 1310.7,140.0 1313.2,140.3 1315.7,141.9 1317.2,144.2 1317.8,147.0 1317.2,150.0 1315.9,152.5 1313.7,154.6 1311.2,155.6" fill="#000" fill-opacity="0.03" stroke="#5d5d5d" stroke-width="0.9"/>
<path d="M1311.2,154.1 1308.7,154.1 1306.5,153.0 1304.8,151.0 1304.2,148.5 1304.6,146.0 1306.2,143.5 1308.2,142.0 1310.7,141.5 1312.7,141.8 1314.7,143.0 1316.0,145.0 1316.4,147.0 1316.0,149.5 1315.0,151.5 1313.2,153.3 1311.2,154.1" fill="#000" fill-opacity="0.03" stroke="#5c5c5c" stroke-width="0.9"/>
<path d="M1311.2,152.7 1309.2,152.7 1307.5,152.0 1306.2,150.5 1305.6,148.5 1306.7,145.0 1308.2,143.6 1310.2,143.0 1311.7,143.1 1313.4,144.0 1314.9,147.0 1314.1,150.5 1311.2,152.7" fill="#000" fill-opacity="0.03" stroke="#5a5a5a" stroke-width="0.9"/>
<path d="M1311.2,151.2 1308.7,151.1 1307.1,149.0 1307.6,146.0 1309.7,144.5 1312.2,145.0 1313.4,147.0 1313.1,149.5 1311.2,151.2" fill="#fff" stroke="#585858" stroke-width="0.9"/>
<path d="M1311.2,149.6 1309.7,150.0 1308.5,149.0 1308.3,147.5 1309.2,146.2 1310.7,146.0 1311.9,147.0 1312.0,148.5 1311.2,149.6" fill="#fff" stroke="#575757" stroke-width="0.9"/>
<path d="M1310.2,148.6 1309.4,148.0 1309.7,147.5 1310.6,148.0 1310.2,148.6" fill="#fff" stroke="#555555" stroke-width="0.9"/>
</g>
<ellipse cx="1224.5" cy="215.7" rx="10.5" ry="10" fill="none" stroke="#8c8c8c" stroke-width="0.9"/>
<ellipse cx="1224.5" cy="215.7" rx="4.6" ry="4.3" fill="none" stroke="#8c8c8c" stroke-width="0.9"/>
<rect x="1172.2" y="54.5" width="229.5" height="229.8" fill="none" stroke="#b0b0b0" stroke-width="1.2"/>
<line x1="1258.1" y1="54.5" x2="1258.1" y2="284.3" stroke="#707070" stroke-width="1.2"/>
<line x1="1172.2" y1="190.1" x2="1401.7" y2="190.1" stroke="#707070" stroke-width="1.2"/>
<line x1="1168.2" y1="75.2" x2="1172.2" y2="75.2" stroke="#999" stroke-width="1"/>
<line x1="1168.2" y1="128.3" x2="1172.2" y2="128.3" stroke="#999" stroke-width="1"/>
<line x1="1168.2" y1="183.9" x2="1172.2" y2="183.9" stroke="#999" stroke-width="1"/>
<line x1="1168.2" y1="252.1" x2="1172.2" y2="252.1" stroke="#999" stroke-width="1"/>
<line x1="1169.7" y1="112.3" x2="1172.2" y2="112.3" stroke="#aaa" stroke-width="0.8"/>
<line x1="1169.7" y1="103" x2="1172.2" y2="103" stroke="#aaa" stroke-width="0.8"/>
<line x1="1169.7" y1="96.3" x2="1172.2" y2="96.3" stroke="#aaa" stroke-width="0.8"/>
<line x1="1169.7" y1="91.2" x2="1172.2" y2="91.2" stroke="#aaa" stroke-width="0.8"/>
<line x1="1169.7" y1="87" x2="1172.2" y2="87" stroke="#aaa" stroke-width="0.8"/>
<line x1="1169.7" y1="83.4" x2="1172.2" y2="83.4" stroke="#aaa" stroke-width="0.8"/>
<line x1="1169.7" y1="80.3" x2="1172.2" y2="80.3" stroke="#aaa" stroke-width="0.8"/>
<line x1="1169.7" y1="77.6" x2="1172.2" y2="77.6" stroke="#aaa" stroke-width="0.8"/>
<line x1="1169.7" y1="167.2" x2="1172.2" y2="167.2" stroke="#aaa" stroke-width="0.8"/>
<line x1="1169.7" y1="157.4" x2="1172.2" y2="157.4" stroke="#aaa" stroke-width="0.8"/>
<line x1="1169.7" y1="150.4" x2="1172.2" y2="150.4" stroke="#aaa" stroke-width="0.8"/>
<line x1="1169.7" y1="145" x2="1172.2" y2="145" stroke="#aaa" stroke-width="0.8"/>
<line x1="1169.7" y1="140.6" x2="1172.2" y2="140.6" stroke="#aaa" stroke-width="0.8"/>
<line x1="1169.7" y1="136.9" x2="1172.2" y2="136.9" stroke="#aaa" stroke-width="0.8"/>
<line x1="1169.7" y1="133.7" x2="1172.2" y2="133.7" stroke="#aaa" stroke-width="0.8"/>
<line x1="1169.7" y1="130.8" x2="1172.2" y2="130.8" stroke="#aaa" stroke-width="0.8"/>
<line x1="1169.7" y1="59.5" x2="1172.2" y2="59.5" stroke="#aaa" stroke-width="0.8"/>
<line x1="1169.7" y1="63.5" x2="1172.2" y2="63.5" stroke="#aaa" stroke-width="0.8"/>
<line x1="1169.7" y1="66.5" x2="1172.2" y2="66.5" stroke="#aaa" stroke-width="0.8"/>
<line x1="1169.7" y1="69.5" x2="1172.2" y2="69.5" stroke="#aaa" stroke-width="0.8"/>
<line x1="1169.7" y1="72.5" x2="1172.2" y2="72.5" stroke="#aaa" stroke-width="0.8"/>
<line x1="1169.7" y1="194.5" x2="1172.2" y2="194.5" stroke="#aaa" stroke-width="0.8"/>
<line x1="1169.7" y1="206.5" x2="1172.2" y2="206.5" stroke="#aaa" stroke-width="0.8"/>
<line x1="1169.7" y1="219.5" x2="1172.2" y2="219.5" stroke="#aaa" stroke-width="0.8"/>
<line x1="1169.7" y1="229.5" x2="1172.2" y2="229.5" stroke="#aaa" stroke-width="0.8"/>
<line x1="1169.7" y1="239.5" x2="1172.2" y2="239.5" stroke="#aaa" stroke-width="0.8"/>
<line x1="1169.7" y1="244.5" x2="1172.2" y2="244.5" stroke="#aaa" stroke-width="0.8"/>
<line x1="1169.7" y1="259.5" x2="1172.2" y2="259.5" stroke="#aaa" stroke-width="0.8"/>
<line x1="1169.7" y1="266.5" x2="1172.2" y2="266.5" stroke="#aaa" stroke-width="0.8"/>
<line x1="1169.7" y1="274.5" x2="1172.2" y2="274.5" stroke="#aaa" stroke-width="0.8"/>
<rect x="1168.2" y="249.5" width="3" height="5" fill="#333"/>
<line x1="1208.3" y1="284.3" x2="1208.3" y2="289.3" stroke="#999" stroke-width="1"/>
<line x1="1271" y1="284.3" x2="1271" y2="289.3" stroke="#999" stroke-width="1"/>
<line x1="1326.3" y1="284.3" x2="1326.3" y2="289.3" stroke="#999" stroke-width="1"/>
<line x1="1379" y1="284.3" x2="1379" y2="289.3" stroke="#999" stroke-width="1"/>
<line x1="1287.6" y1="284.3" x2="1287.6" y2="287.3" stroke="#aaa" stroke-width="0.8"/>
<line x1="1297.4" y1="284.3" x2="1297.4" y2="287.3" stroke="#aaa" stroke-width="0.8"/>
<line x1="1304.3" y1="284.3" x2="1304.3" y2="287.3" stroke="#aaa" stroke-width="0.8"/>
<line x1="1309.7" y1="284.3" x2="1309.7" y2="287.3" stroke="#aaa" stroke-width="0.8"/>
<line x1="1314" y1="284.3" x2="1314" y2="287.3" stroke="#aaa" stroke-width="0.8"/>
<line x1="1317.7" y1="284.3" x2="1317.7" y2="287.3" stroke="#aaa" stroke-width="0.8"/>
<line x1="1320.9" y1="284.3" x2="1320.9" y2="287.3" stroke="#aaa" stroke-width="0.8"/>
<line x1="1323.8" y1="284.3" x2="1323.8" y2="287.3" stroke="#aaa" stroke-width="0.8"/>
<line x1="1342.2" y1="284.3" x2="1342.2" y2="287.3" stroke="#aaa" stroke-width="0.8"/>
<line x1="1351.4" y1="284.3" x2="1351.4" y2="287.3" stroke="#aaa" stroke-width="0.8"/>
<line x1="1358" y1="284.3" x2="1358" y2="287.3" stroke="#aaa" stroke-width="0.8"/>
<line x1="1363.1" y1="284.3" x2="1363.1" y2="287.3" stroke="#aaa" stroke-width="0.8"/>
<line x1="1367.3" y1="284.3" x2="1367.3" y2="287.3" stroke="#aaa" stroke-width="0.8"/>
<line x1="1370.8" y1="284.3" x2="1370.8" y2="287.3" stroke="#aaa" stroke-width="0.8"/>
<line x1="1373.9" y1="284.3" x2="1373.9" y2="287.3" stroke="#aaa" stroke-width="0.8"/>
<line x1="1376.6" y1="284.3" x2="1376.6" y2="287.3" stroke="#aaa" stroke-width="0.8"/>
<line x1="1180.2" y1="284.3" x2="1180.2" y2="287.3" stroke="#aaa" stroke-width="0.8"/>
<line x1="1188.2" y1="284.3" x2="1188.2" y2="287.3" stroke="#aaa" stroke-width="0.8"/>
<line x1="1198.2" y1="284.3" x2="1198.2" y2="287.3" stroke="#aaa" stroke-width="0.8"/>
<line x1="1202.2" y1="284.3" x2="1202.2" y2="287.3" stroke="#aaa" stroke-width="0.8"/>
<line x1="1206.2" y1="284.3" x2="1206.2" y2="287.3" stroke="#aaa" stroke-width="0.8"/>
<line x1="1212.2" y1="284.3" x2="1212.2" y2="287.3" stroke="#aaa" stroke-width="0.8"/>
<line x1="1216.2" y1="284.3" x2="1216.2" y2="287.3" stroke="#aaa" stroke-width="0.8"/>
<line x1="1222.2" y1="284.3" x2="1222.2" y2="287.3" stroke="#aaa" stroke-width="0.8"/>
<line x1="1232.2" y1="284.3" x2="1232.2" y2="287.3" stroke="#aaa" stroke-width="0.8"/>
<line x1="1242.2" y1="284.3" x2="1242.2" y2="287.3" stroke="#aaa" stroke-width="0.8"/>
<line x1="1250.2" y1="284.3" x2="1250.2" y2="287.3" stroke="#aaa" stroke-width="0.8"/>
<line x1="1257.2" y1="284.3" x2="1257.2" y2="287.3" stroke="#aaa" stroke-width="0.8"/>
<line x1="1260.2" y1="284.3" x2="1260.2" y2="287.3" stroke="#aaa" stroke-width="0.8"/>
<line x1="1264.2" y1="284.3" x2="1264.2" y2="287.3" stroke="#aaa" stroke-width="0.8"/>
<line x1="1268.2" y1="284.3" x2="1268.2" y2="287.3" stroke="#aaa" stroke-width="0.8"/>
<line x1="1387.2" y1="284.3" x2="1387.2" y2="287.3" stroke="#aaa" stroke-width="0.8"/>
<line x1="1394.2" y1="284.3" x2="1394.2" y2="287.3" stroke="#aaa" stroke-width="0.8"/>
<rect x="1207.2" y="285.3" width="3" height="4" fill="#333"/>
<text x="1176.5" y="80" font-size="25">9.95</text>
<text x="1345" y="80" font-size="25">88.1</text>
<text x="1178.4" y="274.5" font-size="25">1.64</text>
<text x="1344.3" y="274.5" font-size="25">0.33</text>
<clipPath id="cb03"><rect x="1486.7" y="54.5" width="229.5" height="229.8"/></clipPath>
<g clip-path="url(#cb03)" fill="none" stroke-linejoin="round">
<path d="M1549.7,205.6 1542.2,205.3 1536.2,203.4 1531.2,199.9 1523.2,192.1 1520.6,187.0 1519.5,179.0 1516.2,164.5 1516.7,157.5 1522.0,139.5 1524.0,134.5 1527.7,129.1 1539.2,118.6 1542.2,116.6 1545.7,115.6 1557.2,114.8 1566.7,113.0 1571.2,111.2 1579.7,106.6 1585.2,104.7 1602.2,102.1 1612.2,101.1 1630.7,95.8 1636.2,94.8 1643.7,95.0 1650.2,97.1 1658.2,102.3 1664.7,108.5 1670.8,117.5 1675.2,126.0 1677.6,135.5 1678.2,144.5 1677.3,158.0 1675.2,167.5 1668.0,181.0 1664.7,185.5 1661.7,188.6 1657.2,191.7 1648.7,195.8 1643.2,197.5 1638.2,198.0 1627.2,197.1 1614.0,193.0 1598.2,189.3 1588.2,189.2 1577.7,191.8 1570.2,195.6 1562.2,197.9 1553.2,204.2 1549.7,205.6" fill="none" stroke="#8c8c8c" stroke-width="0.9"/>
<path d="M1547.2,201.5 1541.7,201.0 1535.7,198.7 1531.7,195.7 1525.7,189.3 1523.7,185.0 1519.1,163.5 1519.7,157.0 1523.5,143.5 1525.5,138.5 1529.4,133.5 1540.2,124.3 1545.7,121.5 1567.7,116.4 1579.7,109.4 1585.2,107.1 1603.2,104.2 1612.7,103.2 1630.2,97.7 1635.7,96.5 1643.7,96.7 1650.2,98.8 1658.7,104.5 1665.0,111.0 1671.9,122.0 1675.2,130.0 1677.1,140.5 1676.7,152.5 1675.4,162.5 1673.2,169.0 1666.2,181.5 1660.2,188.0 1655.2,191.1 1647.2,194.8 1642.2,196.1 1637.2,196.4 1627.2,195.3 1614.7,191.1 1597.2,186.6 1588.7,186.0 1580.2,186.7 1575.2,187.9 1568.2,192.3 1559.6,195.5 1550.7,200.7 1547.2,201.5" fill="none" stroke="#8a8a8a" stroke-width="0.9"/>
<path d="M1547.7,197.6 1543.2,197.7 1537.7,195.8 1534.2,193.0 1529.7,187.5 1527.3,183.5 1524.8,176.5 1522.1,164.0 1522.6,157.5 1525.5,146.5 1527.0,142.5 1530.7,137.8 1540.7,129.2 1545.2,126.7 1552.7,125.0 1558.7,122.8 1566.7,121.9 1577.7,113.4 1585.2,109.6 1613.2,105.2 1630.7,99.4 1635.2,98.3 1643.2,98.3 1649.7,100.3 1658.7,106.4 1664.9,113.0 1671.3,123.5 1674.4,132.0 1676.0,141.0 1675.5,153.5 1674.0,163.0 1671.5,169.5 1665.0,181.0 1662.1,184.5 1658.7,187.4 1652.7,190.8 1645.7,193.7 1640.7,194.7 1635.2,194.8 1627.7,193.6 1614.7,189.0 1597.7,184.1 1587.2,182.8 1579.7,183.0 1573.2,184.5 1565.2,189.7 1547.7,197.6" fill="none" stroke="#898989" stroke-width="0.9"/>
<path d="M1547.2,193.6 1543.7,193.8 1540.2,192.5 1537.2,190.1 1532.2,184.4 1529.7,180.5 1527.3,175.0 1526.0,170.5 1525.2,165.0 1525.6,158.5 1529.7,145.0 1533.7,140.0 1542.2,132.5 1546.7,130.6 1566.7,127.0 1569.7,124.9 1576.9,117.0 1581.7,113.8 1585.7,111.9 1613.7,107.2 1630.7,101.2 1635.7,100.0 1644.2,100.2 1650.7,102.6 1660.2,109.6 1666.4,117.5 1671.4,127.0 1674.1,136.0 1674.9,143.5 1674.2,155.5 1672.4,164.0 1668.9,171.5 1663.0,181.5 1657.2,186.8 1650.7,190.1 1644.7,192.3 1639.2,193.2 1633.7,193.1 1627.7,191.8 1614.2,186.7 1599.2,181.9 1585.7,179.3 1580.2,179.0 1574.2,179.9 1569.2,181.4 1560.5,188.0 1547.2,193.6" fill="none" stroke="#878787" stroke-width="0.9"/>
<path d="M1640.2,191.5 1635.2,191.6 1630.2,190.8 1611.2,183.2 1601.2,179.9 1581.7,175.1 1569.7,173.6 1567.2,174.0 1564.7,175.5 1559.9,183.0 1556.7,185.6 1548.2,188.7 1545.2,188.9 1542.7,188.3 1538.2,185.5 1534.2,181.5 1531.3,177.0 1529.2,171.5 1528.4,166.5 1528.6,162.0 1532.5,148.5 1536.3,142.5 1542.7,136.6 1546.7,135.0 1556.2,134.2 1566.7,131.0 1570.7,128.1 1577.9,119.5 1585.7,114.7 1589.2,113.6 1613.7,109.3 1634.7,102.0 1641.7,101.7 1647.7,103.0 1653.7,106.3 1659.7,111.1 1663.9,116.0 1668.2,123.0 1671.3,130.5 1673.2,138.0 1673.7,143.5 1673.3,152.5 1672.3,159.5 1670.5,165.5 1664.4,177.0 1661.3,181.5 1657.7,184.8 1652.7,187.7 1646.2,190.3 1640.2,191.5" fill="none" stroke="#858585" stroke-width="0.9"/>
<path d="M1639.2,190.0 1633.7,189.9 1628.7,188.7 1609.7,179.9 1589.2,174.6 1577.7,170.3 1570.7,166.2 1568.7,165.6 1565.7,166.8 1561.7,170.7 1559.4,174.0 1556.7,179.6 1554.4,182.0 1551.7,183.4 1548.7,184.1 1543.2,183.5 1540.2,182.1 1537.5,180.0 1535.2,177.1 1533.4,173.5 1532.3,169.5 1531.9,165.5 1533.1,157.5 1537.2,148.5 1542.2,142.4 1546.7,140.3 1556.7,139.4 1566.7,134.5 1571.7,130.6 1578.7,122.0 1585.7,117.4 1590.2,115.9 1613.7,111.4 1634.2,104.0 1640.2,103.5 1646.2,104.3 1651.7,106.8 1658.2,111.6 1662.3,116.0 1666.5,122.5 1669.6,129.5 1671.9,137.5 1672.6,143.5 1672.3,151.5 1671.3,158.5 1669.3,165.0 1663.4,176.0 1660.2,180.7 1656.5,184.0 1651.2,186.8 1644.7,189.1 1639.2,190.0" fill="none" stroke="#848484" stroke-width="0.9"/>
<path d="M1642.7,188.0 1635.7,188.4 1629.2,187.2 1622.2,184.2 1609.7,177.2 1591.2,173.0 1579.2,167.7 1575.1,164.5 1572.0,160.0 1569.2,153.8 1564.6,145.5 1564.4,143.0 1565.3,141.0 1572.2,133.6 1579.4,124.5 1583.7,121.3 1588.7,118.8 1613.2,113.7 1628.2,107.6 1635.2,105.6 1639.7,105.2 1644.2,105.6 1647.7,106.6 1651.7,108.7 1656.7,112.2 1660.5,116.0 1664.2,121.0 1667.1,126.5 1669.5,133.0 1671.2,140.0 1671.5,145.5 1671.1,153.0 1669.8,159.5 1668.0,165.0 1659.5,179.5 1656.7,182.2 1653.2,184.4 1647.7,186.7 1642.7,188.0M1548.7,179.6 1543.7,179.0 1541.2,177.6 1539.2,175.6 1536.2,169.5 1535.3,162.5 1536.6,156.5 1539.7,151.4 1544.7,146.9 1547.2,146.0 1549.7,145.7 1554.0,146.5 1557.2,148.4 1562.1,154.0 1563.3,157.5 1561.7,162.5 1553.7,176.2 1551.7,178.3 1548.7,179.6" fill="none" stroke="#828282" stroke-width="0.9"/>
<path d="M1642.7,186.5 1635.7,186.9 1629.2,185.6 1622.7,182.6 1610.2,174.9 1605.7,173.5 1590.2,170.5 1583.3,167.5 1578.7,164.3 1575.4,159.5 1571.0,146.0 1570.5,143.0 1571.0,140.5 1572.2,138.0 1579.7,127.1 1583.7,123.9 1589.7,121.0 1612.7,115.9 1627.7,109.4 1635.2,107.3 1641.2,107.0 1646.2,107.9 1652.2,110.8 1657.7,115.0 1661.2,119.0 1664.5,124.0 1669.0,135.5 1670.4,144.5 1669.4,156.5 1666.4,165.5 1658.1,179.0 1655.7,181.2 1652.2,183.3 1642.7,186.5M1548.7,174.0 1545.2,174.1 1542.1,172.0 1539.4,167.5 1538.4,162.5 1538.9,158.5 1540.9,155.0 1544.2,152.2 1548.2,151.0 1550.7,151.6 1552.8,153.5 1554.5,157.0 1555.0,160.5 1554.4,164.5 1552.8,169.0 1550.7,172.4 1548.7,174.0" fill="none" stroke="#808080" stroke-width="0.9"/>
<path d="M1642.7,185.1 1635.7,185.4 1629.2,184.0 1623.2,181.1 1614.2,174.7 1609.7,172.3 1605.7,171.0 1590.7,168.4 1585.2,166.2 1581.2,163.5 1579.0,161.0 1577.6,158.0 1573.9,143.5 1574.3,140.5 1575.4,137.5 1580.3,129.5 1584.2,126.2 1589.7,123.5 1603.2,120.8 1611.2,118.5 1617.2,116.2 1627.2,111.2 1634.2,109.1 1640.2,108.6 1645.2,109.3 1650.7,111.7 1656.2,115.6 1659.8,119.5 1663.0,124.0 1665.5,129.0 1667.6,135.0 1669.3,144.0 1668.4,155.5 1665.3,165.0 1657.0,178.0 1654.7,180.2 1651.2,182.3 1642.7,185.1M1545.7,168.5 1544.2,168.1 1542.6,166.5 1541.6,164.0 1541.4,161.5 1541.8,159.5 1543.1,157.5 1544.7,156.5 1546.2,156.3 1547.7,156.8 1548.8,158.0 1549.7,162.5 1548.3,167.0 1547.2,168.1 1545.7,168.5" fill="none" stroke="#7f7f7f" stroke-width="0.9"/>
<path d="M1638.7,184.0 1632.2,183.3 1626.7,181.3 1622.2,178.6 1612.7,171.4 1608.2,169.0 1590.7,166.1 1586.2,164.4 1582.8,162.0 1580.8,159.5 1579.4,156.5 1576.6,144.0 1576.8,141.0 1577.9,137.5 1581.8,131.0 1585.2,128.2 1589.7,126.1 1607.7,122.0 1616.7,118.5 1627.2,112.7 1633.7,110.7 1639.7,110.2 1644.7,110.9 1650.7,113.5 1655.7,117.2 1659.2,121.0 1662.4,125.5 1664.8,130.5 1667.0,137.0 1668.0,141.5 1668.3,146.0 1666.8,157.5 1665.4,162.0 1663.4,166.0 1654.9,178.0 1651.7,180.4 1647.7,182.2 1643.2,183.5 1638.7,184.0M1545.2,163.8 1544.4,163.0 1545.2,161.8 1545.7,163.0 1545.2,163.8" fill="#000" fill-opacity="0.03" stroke="#7d7d7d" stroke-width="0.9"/>
<path d="M1639.7,182.5 1632.7,181.9 1626.7,179.7 1621.9,176.5 1612.2,168.3 1608.2,165.9 1604.7,165.0 1591.2,163.7 1587.7,162.6 1584.7,160.6 1582.9,158.5 1581.4,155.5 1578.9,144.5 1579.9,138.5 1583.2,132.7 1586.2,130.2 1591.2,128.0 1604.2,125.6 1609.7,123.8 1617.2,120.4 1627.2,114.2 1633.2,112.2 1639.2,111.7 1644.2,112.4 1649.7,114.7 1654.4,118.0 1658.2,122.0 1661.4,126.5 1665.9,137.0 1667.3,145.5 1666.0,156.0 1662.9,164.5 1654.3,176.5 1651.2,178.9 1647.7,180.6 1643.7,181.9 1639.7,182.5" fill="#000" fill-opacity="0.03" stroke="#7b7b7b" stroke-width="0.9"/>
<path d="M1640.2,181.0 1632.7,180.3 1626.2,177.7 1621.2,174.0 1612.2,165.2 1608.2,162.7 1604.7,161.8 1592.2,161.3 1588.7,160.3 1586.2,158.7 1583.1,154.0 1581.1,145.5 1581.9,139.5 1584.6,134.5 1587.5,132.0 1591.7,130.1 1596.2,129.1 1604.7,128.3 1609.2,126.8 1617.2,122.7 1626.7,116.0 1632.7,113.7 1638.2,113.2 1643.2,113.7 1648.7,115.8 1653.2,118.9 1659.9,126.5 1664.4,136.0 1666.2,144.5 1665.2,154.5 1663.9,159.5 1662.1,163.5 1654.0,174.5 1651.2,177.0 1647.7,179.0 1640.2,181.0" fill="#000" fill-opacity="0.03" stroke="#7a7a7a" stroke-width="0.9"/>
<path d="M1639.7,179.5 1632.2,178.7 1625.7,175.7 1620.7,171.5 1612.7,162.3 1608.7,159.5 1605.2,158.7 1593.7,159.0 1590.2,158.2 1587.7,156.8 1584.7,152.5 1583.2,146.0 1583.8,140.5 1586.2,136.0 1589.2,133.5 1593.2,131.8 1597.2,131.3 1604.7,131.5 1609.2,130.3 1616.7,125.6 1626.7,117.7 1632.2,115.2 1637.7,114.6 1642.7,115.1 1647.7,116.9 1652.2,119.9 1659.0,127.5 1663.3,136.5 1665.1,144.5 1664.2,154.0 1662.8,159.0 1661.0,163.0 1653.2,173.2 1650.2,175.7 1646.7,177.7 1639.7,179.5" fill="#000" fill-opacity="0.03" stroke="#787878" stroke-width="0.9"/>
<path d="M1639.7,178.0 1632.2,177.1 1625.7,174.0 1620.9,169.5 1613.2,159.2 1608.7,155.5 1605.7,155.1 1599.2,156.6 1595.7,156.9 1592.2,156.4 1589.2,154.9 1586.5,151.5 1585.2,146.5 1585.5,142.0 1587.7,137.5 1590.7,134.9 1595.2,133.5 1599.2,133.8 1605.7,136.2 1608.2,135.8 1613.2,131.9 1626.2,119.8 1632.2,116.7 1636.7,116.0 1641.7,116.4 1646.2,117.8 1650.7,120.4 1657.3,127.5 1661.9,136.0 1663.9,144.0 1663.3,152.5 1661.9,158.0 1660.3,162.0 1653.7,170.6 1650.7,173.4 1647.2,175.8 1643.7,177.2 1639.7,178.0" fill="#000" fill-opacity="0.03" stroke="#767676" stroke-width="0.9"/>
<path d="M1638.2,176.5 1633.7,176.0 1629.7,174.7 1626.2,172.6 1623.2,170.0 1612.3,153.5 1610.0,149.0 1609.5,146.5 1610.4,142.5 1612.7,137.5 1621.0,127.0 1625.9,122.0 1629.2,119.5 1632.7,118.0 1636.7,117.4 1641.2,117.8 1645.7,119.1 1649.7,121.4 1653.2,124.6 1657.1,129.5 1660.0,134.5 1662.2,140.5 1662.9,145.5 1662.4,151.0 1660.9,157.5 1659.2,161.5 1656.7,165.2 1651.7,170.7 1647.7,173.7 1643.2,175.8 1638.2,176.5M1597.2,154.6 1593.2,154.4 1590.4,153.0 1588.3,150.5 1587.1,147.0 1587.3,143.0 1588.7,139.5 1591.2,136.9 1594.2,135.8 1597.7,135.9 1601.2,137.9 1604.6,142.0 1606.5,146.0 1606.1,148.5 1603.8,151.5 1600.7,153.6 1597.2,154.6" fill="#000" fill-opacity="0.03" stroke="#757575" stroke-width="0.9"/>
<path d="M1641.7,174.5 1637.2,174.9 1632.7,174.2 1628.7,172.5 1625.2,170.0 1622.0,166.0 1616.0,155.5 1614.5,152.0 1613.5,148.0 1613.6,144.0 1614.6,140.0 1620.2,130.5 1628.7,121.6 1632.2,119.7 1635.7,118.9 1639.7,119.0 1644.2,120.1 1647.7,121.7 1651.2,124.5 1655.2,129.1 1658.3,134.0 1660.5,139.0 1661.6,144.0 1661.6,148.5 1660.6,154.0 1659.3,158.5 1657.5,162.0 1654.2,166.2 1649.7,170.6 1645.7,173.1 1641.7,174.5M1597.7,152.1 1594.7,152.4 1592.2,151.6 1590.4,150.0 1589.2,147.5 1588.9,144.5 1589.8,141.5 1591.2,139.5 1593.7,138.0 1596.2,137.9 1598.7,139.0 1600.6,141.0 1602.1,144.0 1602.4,146.5 1601.6,149.0 1599.9,151.0 1597.7,152.1" fill="#000" fill-opacity="0.03" stroke="#737373" stroke-width="0.9"/>
<path d="M1641.2,173.1 1637.2,173.3 1633.2,172.7 1629.2,171.1 1626.2,168.9 1623.1,165.0 1618.4,156.5 1616.7,152.5 1615.8,148.5 1615.8,144.5 1616.6,140.5 1621.4,131.5 1629.2,123.1 1632.2,121.3 1635.7,120.4 1639.7,120.4 1643.7,121.4 1647.2,123.1 1650.3,125.5 1654.2,130.0 1657.1,134.5 1659.3,139.5 1660.3,144.0 1660.4,148.0 1659.5,153.5 1658.2,158.0 1656.4,161.5 1652.8,166.0 1648.7,169.7 1645.2,171.8 1641.2,173.1M1596.7,150.1 1594.7,150.3 1593.2,149.7 1591.7,148.4 1590.9,146.5 1590.8,144.5 1591.4,142.5 1592.7,140.8 1594.2,140.1 1597.2,140.6 1598.7,142.0 1599.6,144.0 1599.5,147.5 1598.5,149.0 1596.7,150.1" fill="#000" fill-opacity="0.03" stroke="#717171" stroke-width="0.9"/>
<path d="M1641.2,171.5 1637.2,171.8 1633.2,171.1 1629.7,169.7 1626.8,167.5 1624.1,164.0 1620.0,156.5 1618.4,152.5 1617.6,148.5 1617.6,144.5 1618.5,140.5 1622.8,132.0 1629.8,124.5 1632.7,122.8 1636.2,121.9 1639.7,122.0 1643.7,123.0 1646.8,124.5 1649.9,127.0 1653.3,131.0 1656.2,135.5 1658.2,140.0 1659.1,144.5 1658.3,153.5 1657.2,157.5 1655.3,161.0 1652.2,164.8 1648.2,168.4 1644.7,170.4 1641.2,171.5M1595.7,148.0 1593.7,147.6 1592.6,145.5 1592.9,143.5 1594.7,142.2 1596.7,142.8 1597.6,144.5 1597.4,146.5 1595.7,148.0" fill="#000" fill-opacity="0.03" stroke="#707070" stroke-width="0.9"/>
<path d="M1640.7,170.0 1637.2,170.2 1633.2,169.4 1630.2,168.2 1627.7,166.3 1625.1,163.0 1621.5,156.5 1619.9,152.5 1619.1,148.5 1619.2,145.0 1620.0,141.0 1621.8,136.5 1624.1,132.5 1627.2,128.7 1630.7,125.7 1633.7,124.0 1636.7,123.4 1640.2,123.6 1643.7,124.6 1646.7,126.2 1649.7,128.8 1653.2,133.0 1655.6,137.0 1657.1,141.0 1657.8,145.0 1657.0,154.0 1654.2,160.5 1651.3,164.0 1647.7,167.1 1644.2,169.1 1640.7,170.0M1595.2,145.9 1594.4,145.5 1594.7,144.3 1595.7,144.8 1595.2,145.9" fill="#000" fill-opacity="0.03" stroke="#6e6e6e" stroke-width="0.9"/>
<path d="M1640.7,168.5 1637.2,168.6 1633.7,167.9 1630.7,166.6 1628.2,164.6 1623.0,156.5 1621.3,152.5 1620.6,149.0 1621.4,141.5 1625.0,133.5 1630.7,127.4 1633.7,125.7 1636.7,124.9 1639.7,125.0 1643.2,125.9 1646.2,127.6 1649.1,130.0 1654.4,137.5 1655.9,141.5 1656.5,145.0 1655.9,153.5 1653.2,159.9 1647.2,165.9 1644.2,167.6 1640.7,168.5" fill="#000" fill-opacity="0.03" stroke="#6c6c6c" stroke-width="0.9"/>
<path d="M1640.7,167.0 1634.2,166.4 1629.2,163.5 1626.7,160.5 1624.1,156.0 1622.0,149.0 1622.8,141.5 1625.8,134.5 1628.2,131.4 1631.2,128.7 1633.7,127.3 1636.7,126.4 1639.7,126.5 1642.7,127.3 1648.2,131.0 1653.0,137.5 1654.5,141.0 1655.3,145.0 1654.8,153.0 1652.3,159.0 1649.8,162.0 1646.7,164.6 1643.7,166.2 1640.7,167.0" fill="#000" fill-opacity="0.03" stroke="#6b6b6b" stroke-width="0.9"/>
<path d="M1640.2,165.5 1634.2,164.7 1629.7,162.0 1625.3,155.5 1623.3,149.0 1624.0,142.0 1627.0,135.0 1631.7,130.0 1634.2,128.6 1637.2,127.9 1640.2,128.1 1643.2,129.1 1648.2,132.8 1652.4,139.0 1654.1,145.5 1653.5,153.0 1651.2,158.5 1648.7,161.3 1645.7,163.7 1643.2,164.9 1640.2,165.5" fill="#000" fill-opacity="0.03" stroke="#696969" stroke-width="0.9"/>
<path d="M1640.2,164.0 1634.7,163.2 1630.2,160.5 1626.4,155.0 1624.6,149.0 1625.2,142.5 1627.9,136.0 1632.2,131.3 1634.7,130.0 1637.2,129.4 1640.2,129.6 1642.7,130.4 1647.6,134.0 1651.3,139.5 1652.8,145.5 1652.4,152.5 1650.4,157.5 1645.7,162.1 1643.2,163.4 1640.2,164.0" fill="#000" fill-opacity="0.03" stroke="#676767" stroke-width="0.9"/>
<path d="M1640.2,162.5 1635.2,161.9 1630.7,159.0 1627.5,154.5 1625.9,149.0 1626.4,143.0 1628.8,137.0 1632.7,132.7 1637.2,130.9 1642.2,131.7 1646.7,134.8 1650.1,139.5 1651.7,145.5 1651.3,152.0 1649.2,157.0 1645.2,160.8 1640.2,162.5" fill="#000" fill-opacity="0.03" stroke="#666666" stroke-width="0.9"/>
<path d="M1640.7,161.0 1636.2,160.7 1632.1,158.5 1628.9,154.5 1627.3,149.5 1627.5,144.0 1629.7,138.0 1633.2,134.1 1637.2,132.4 1641.7,133.0 1645.7,135.6 1649.0,140.0 1650.4,145.0 1650.3,151.0 1648.6,155.5 1645.2,159.2 1640.7,161.0" fill="#000" fill-opacity="0.03" stroke="#646464" stroke-width="0.9"/>
<path d="M1640.7,159.6 1636.7,159.3 1632.7,157.2 1630.1,154.0 1628.5,149.5 1628.8,144.0 1630.7,139.0 1633.7,135.5 1637.7,133.9 1641.7,134.5 1645.4,137.0 1648.2,141.0 1649.3,145.5 1649.1,151.0 1647.5,155.0 1644.5,158.0 1640.7,159.6" fill="#000" fill-opacity="0.03" stroke="#626262" stroke-width="0.9"/>
<path d="M1641.2,158.0 1637.2,158.0 1633.7,156.3 1631.2,153.5 1629.8,149.5 1630.0,144.5 1631.7,140.0 1634.2,137.0 1637.7,135.4 1641.2,135.8 1644.7,138.0 1646.9,141.0 1648.1,145.0 1648.1,149.5 1646.9,153.5 1644.3,156.5 1641.2,158.0" fill="#000" fill-opacity="0.03" stroke="#616161" stroke-width="0.9"/>
<path d="M1641.2,156.6 1637.7,156.7 1634.7,155.4 1632.4,153.0 1631.1,149.5 1631.1,145.5 1632.4,141.5 1634.7,138.5 1637.7,137.0 1640.7,137.2 1643.7,138.9 1645.8,141.5 1646.9,145.0 1647.0,149.0 1645.9,152.5 1644.0,155.0 1641.2,156.6" fill="#000" fill-opacity="0.03" stroke="#5f5f5f" stroke-width="0.9"/>
<path d="M1641.2,155.1 1638.2,155.4 1635.7,154.5 1633.3,152.0 1632.3,149.0 1632.3,145.5 1633.6,142.0 1635.7,139.5 1638.2,138.5 1640.7,138.7 1643.0,140.0 1644.7,142.1 1645.8,145.0 1645.9,148.5 1645.0,151.5 1643.2,153.9 1641.2,155.1" fill="#000" fill-opacity="0.03" stroke="#5d5d5d" stroke-width="0.9"/>
<path d="M1639.7,154.0 1637.2,153.7 1635.4,152.5 1634.0,150.5 1633.4,148.0 1633.7,145.0 1634.8,142.5 1636.7,140.6 1638.7,139.9 1640.7,140.2 1642.7,141.5 1644.0,143.5 1644.8,146.5 1644.6,149.0 1643.6,151.5 1641.7,153.3 1639.7,154.0" fill="#000" fill-opacity="0.03" stroke="#5c5c5c" stroke-width="0.9"/>
<path d="M1639.7,152.6 1637.7,152.4 1636.3,151.5 1634.6,148.0 1634.8,145.5 1635.6,143.5 1637.1,142.0 1638.7,141.4 1640.2,141.5 1641.8,142.5 1643.1,144.5 1643.6,146.5 1642.7,150.5 1641.2,152.0 1639.7,152.6" fill="#000" fill-opacity="0.03" stroke="#5a5a5a" stroke-width="0.9"/>
<path d="M1639.7,151.1 1637.2,150.5 1635.8,148.0 1636.5,144.5 1638.7,142.9 1641.2,143.8 1642.4,146.5 1641.8,149.5 1639.7,151.1" fill="#fff" stroke="#585858" stroke-width="0.9"/>
<path d="M1639.7,149.6 1637.7,149.2 1636.9,147.5 1637.3,145.5 1638.7,144.4 1640.2,144.7 1641.2,146.5 1640.9,148.5 1639.7,149.6" fill="#fff" stroke="#575757" stroke-width="0.9"/>
<path d="M1639.2,148.2 1638.5,148.0 1638.0,147.0 1638.5,146.0 1639.2,145.8 1640.0,147.0 1639.2,148.2" fill="#fff" stroke="#555555" stroke-width="0.9"/>
</g>
<rect x="1486.7" y="54.5" width="229.5" height="229.8" fill="none" stroke="#b0b0b0" stroke-width="1.2"/>
<line x1="1572.6" y1="54.5" x2="1572.6" y2="284.3" stroke="#707070" stroke-width="1.2"/>
<line x1="1486.7" y1="190.1" x2="1716.2" y2="190.1" stroke="#707070" stroke-width="1.2"/>
<line x1="1482.7" y1="75.2" x2="1486.7" y2="75.2" stroke="#999" stroke-width="1"/>
<line x1="1482.7" y1="128.3" x2="1486.7" y2="128.3" stroke="#999" stroke-width="1"/>
<line x1="1482.7" y1="183.9" x2="1486.7" y2="183.9" stroke="#999" stroke-width="1"/>
<line x1="1482.7" y1="252.1" x2="1486.7" y2="252.1" stroke="#999" stroke-width="1"/>
<line x1="1484.2" y1="112.3" x2="1486.7" y2="112.3" stroke="#aaa" stroke-width="0.8"/>
<line x1="1484.2" y1="103" x2="1486.7" y2="103" stroke="#aaa" stroke-width="0.8"/>
<line x1="1484.2" y1="96.3" x2="1486.7" y2="96.3" stroke="#aaa" stroke-width="0.8"/>
<line x1="1484.2" y1="91.2" x2="1486.7" y2="91.2" stroke="#aaa" stroke-width="0.8"/>
<line x1="1484.2" y1="87" x2="1486.7" y2="87" stroke="#aaa" stroke-width="0.8"/>
<line x1="1484.2" y1="83.4" x2="1486.7" y2="83.4" stroke="#aaa" stroke-width="0.8"/>
<line x1="1484.2" y1="80.3" x2="1486.7" y2="80.3" stroke="#aaa" stroke-width="0.8"/>
<line x1="1484.2" y1="77.6" x2="1486.7" y2="77.6" stroke="#aaa" stroke-width="0.8"/>
<line x1="1484.2" y1="167.2" x2="1486.7" y2="167.2" stroke="#aaa" stroke-width="0.8"/>
<line x1="1484.2" y1="157.4" x2="1486.7" y2="157.4" stroke="#aaa" stroke-width="0.8"/>
<line x1="1484.2" y1="150.4" x2="1486.7" y2="150.4" stroke="#aaa" stroke-width="0.8"/>
<line x1="1484.2" y1="145" x2="1486.7" y2="145" stroke="#aaa" stroke-width="0.8"/>
<line x1="1484.2" y1="140.6" x2="1486.7" y2="140.6" stroke="#aaa" stroke-width="0.8"/>
<line x1="1484.2" y1="136.9" x2="1486.7" y2="136.9" stroke="#aaa" stroke-width="0.8"/>
<line x1="1484.2" y1="133.7" x2="1486.7" y2="133.7" stroke="#aaa" stroke-width="0.8"/>
<line x1="1484.2" y1="130.8" x2="1486.7" y2="130.8" stroke="#aaa" stroke-width="0.8"/>
<line x1="1484.2" y1="59.5" x2="1486.7" y2="59.5" stroke="#aaa" stroke-width="0.8"/>
<line x1="1484.2" y1="63.5" x2="1486.7" y2="63.5" stroke="#aaa" stroke-width="0.8"/>
<line x1="1484.2" y1="66.5" x2="1486.7" y2="66.5" stroke="#aaa" stroke-width="0.8"/>
<line x1="1484.2" y1="69.5" x2="1486.7" y2="69.5" stroke="#aaa" stroke-width="0.8"/>
<line x1="1484.2" y1="72.5" x2="1486.7" y2="72.5" stroke="#aaa" stroke-width="0.8"/>
<line x1="1484.2" y1="194.5" x2="1486.7" y2="194.5" stroke="#aaa" stroke-width="0.8"/>
<line x1="1484.2" y1="206.5" x2="1486.7" y2="206.5" stroke="#aaa" stroke-width="0.8"/>
<line x1="1484.2" y1="219.5" x2="1486.7" y2="219.5" stroke="#aaa" stroke-width="0.8"/>
<line x1="1484.2" y1="229.5" x2="1486.7" y2="229.5" stroke="#aaa" stroke-width="0.8"/>
<line x1="1484.2" y1="239.5" x2="1486.7" y2="239.5" stroke="#aaa" stroke-width="0.8"/>
<line x1="1484.2" y1="244.5" x2="1486.7" y2="244.5" stroke="#aaa" stroke-width="0.8"/>
<line x1="1484.2" y1="259.5" x2="1486.7" y2="259.5" stroke="#aaa" stroke-width="0.8"/>
<line x1="1484.2" y1="266.5" x2="1486.7" y2="266.5" stroke="#aaa" stroke-width="0.8"/>
<line x1="1484.2" y1="274.5" x2="1486.7" y2="274.5" stroke="#aaa" stroke-width="0.8"/>
<rect x="1482.7" y="249.5" width="3" height="5" fill="#333"/>
<line x1="1522.8" y1="284.3" x2="1522.8" y2="289.3" stroke="#999" stroke-width="1"/>
<line x1="1585.5" y1="284.3" x2="1585.5" y2="289.3" stroke="#999" stroke-width="1"/>
<line x1="1640.8" y1="284.3" x2="1640.8" y2="289.3" stroke="#999" stroke-width="1"/>
<line x1="1693.5" y1="284.3" x2="1693.5" y2="289.3" stroke="#999" stroke-width="1"/>
<line x1="1602.1" y1="284.3" x2="1602.1" y2="287.3" stroke="#aaa" stroke-width="0.8"/>
<line x1="1611.9" y1="284.3" x2="1611.9" y2="287.3" stroke="#aaa" stroke-width="0.8"/>
<line x1="1618.8" y1="284.3" x2="1618.8" y2="287.3" stroke="#aaa" stroke-width="0.8"/>
<line x1="1624.2" y1="284.3" x2="1624.2" y2="287.3" stroke="#aaa" stroke-width="0.8"/>
<line x1="1628.5" y1="284.3" x2="1628.5" y2="287.3" stroke="#aaa" stroke-width="0.8"/>
<line x1="1632.2" y1="284.3" x2="1632.2" y2="287.3" stroke="#aaa" stroke-width="0.8"/>
<line x1="1635.4" y1="284.3" x2="1635.4" y2="287.3" stroke="#aaa" stroke-width="0.8"/>
<line x1="1638.3" y1="284.3" x2="1638.3" y2="287.3" stroke="#aaa" stroke-width="0.8"/>
<line x1="1656.7" y1="284.3" x2="1656.7" y2="287.3" stroke="#aaa" stroke-width="0.8"/>
<line x1="1665.9" y1="284.3" x2="1665.9" y2="287.3" stroke="#aaa" stroke-width="0.8"/>
<line x1="1672.5" y1="284.3" x2="1672.5" y2="287.3" stroke="#aaa" stroke-width="0.8"/>
<line x1="1677.6" y1="284.3" x2="1677.6" y2="287.3" stroke="#aaa" stroke-width="0.8"/>
<line x1="1681.8" y1="284.3" x2="1681.8" y2="287.3" stroke="#aaa" stroke-width="0.8"/>
<line x1="1685.3" y1="284.3" x2="1685.3" y2="287.3" stroke="#aaa" stroke-width="0.8"/>
<line x1="1688.4" y1="284.3" x2="1688.4" y2="287.3" stroke="#aaa" stroke-width="0.8"/>
<line x1="1691.1" y1="284.3" x2="1691.1" y2="287.3" stroke="#aaa" stroke-width="0.8"/>
<line x1="1494.7" y1="284.3" x2="1494.7" y2="287.3" stroke="#aaa" stroke-width="0.8"/>
<line x1="1502.7" y1="284.3" x2="1502.7" y2="287.3" stroke="#aaa" stroke-width="0.8"/>
<line x1="1512.7" y1="284.3" x2="1512.7" y2="287.3" stroke="#aaa" stroke-width="0.8"/>
<line x1="1516.7" y1="284.3" x2="1516.7" y2="287.3" stroke="#aaa" stroke-width="0.8"/>
<line x1="1520.7" y1="284.3" x2="1520.7" y2="287.3" stroke="#aaa" stroke-width="0.8"/>
<line x1="1526.7" y1="284.3" x2="1526.7" y2="287.3" stroke="#aaa" stroke-width="0.8"/>
<line x1="1530.7" y1="284.3" x2="1530.7" y2="287.3" stroke="#aaa" stroke-width="0.8"/>
<line x1="1536.7" y1="284.3" x2="1536.7" y2="287.3" stroke="#aaa" stroke-width="0.8"/>
<line x1="1546.7" y1="284.3" x2="1546.7" y2="287.3" stroke="#aaa" stroke-width="0.8"/>
<line x1="1556.7" y1="284.3" x2="1556.7" y2="287.3" stroke="#aaa" stroke-width="0.8"/>
<line x1="1564.7" y1="284.3" x2="1564.7" y2="287.3" stroke="#aaa" stroke-width="0.8"/>
<line x1="1571.7" y1="284.3" x2="1571.7" y2="287.3" stroke="#aaa" stroke-width="0.8"/>
<line x1="1574.7" y1="284.3" x2="1574.7" y2="287.3" stroke="#aaa" stroke-width="0.8"/>
<line x1="1578.7" y1="284.3" x2="1578.7" y2="287.3" stroke="#aaa" stroke-width="0.8"/>
<line x1="1582.7" y1="284.3" x2="1582.7" y2="287.3" stroke="#aaa" stroke-width="0.8"/>
<line x1="1701.7" y1="284.3" x2="1701.7" y2="287.3" stroke="#aaa" stroke-width="0.8"/>
<line x1="1708.7" y1="284.3" x2="1708.7" y2="287.3" stroke="#aaa" stroke-width="0.8"/>
<rect x="1521.7" y="285.3" width="3" height="4" fill="#333"/>
<text x="1491.7" y="80" font-size="25">6.94</text>
<text x="1660.2" y="80" font-size="25">90.4</text>
<text x="1493.6" y="274.5" font-size="25">1.80</text>
<text x="1658.8" y="274.5" font-size="25">0.90</text>
<clipPath id="cb10"><rect x="548.2" y="332.0" width="229.5" height="229.8"/></clipPath>
<g clip-path="url(#cb10)" fill="none" stroke-linejoin="round">
<path d="M610.7,484.5 604.2,484.3 597.7,482.1 591.7,478.4 585.1,472.0 581.6,467.0 578.9,460.5 577.6,454.5 577.1,446.0 577.9,438.5 580.3,428.5 582.6,423.0 586.2,417.7 591.6,412.5 597.7,408.7 604.7,406.1 611.2,405.2 617.2,406.1 623.2,408.4 630.2,412.8 634.9,417.5 638.8,423.5 641.4,430.0 643.4,439.0 644.0,446.5 643.1,453.5 640.0,462.5 636.9,469.0 633.3,474.0 629.2,477.8 624.2,480.8 617.2,483.3 610.7,484.5" fill="none" stroke="#8c8c8c" stroke-width="0.9"/>
<path d="M612.7,483.1 605.7,483.3 599.7,481.8 593.2,478.1 587.4,473.0 583.3,468.0 580.4,462.0 578.8,456.0 578.1,447.5 578.4,440.5 580.5,431.0 582.9,424.5 586.2,419.3 591.2,414.1 596.7,410.4 603.7,407.5 610.2,406.3 616.2,407.0 622.2,409.2 628.7,413.1 633.7,417.7 637.4,423.0 640.1,429.0 642.0,436.5 643.1,445.0 642.7,451.0 640.8,457.5 637.4,466.0 633.7,471.8 629.7,476.0 625.7,478.8 619.7,481.3 612.7,483.1" fill="none" stroke="#8a8a8a" stroke-width="0.9"/>
<path d="M611.7,482.0 605.2,482.1 599.2,480.4 593.2,476.8 587.0,471.0 583.3,466.0 581.0,460.5 579.6,454.5 579.0,446.0 579.6,439.0 581.8,430.0 584.1,424.5 587.4,419.5 592.2,414.6 597.2,411.3 604.2,408.5 610.7,407.4 616.2,408.1 622.2,410.4 628.7,414.5 633.3,419.0 636.8,424.0 639.4,430.0 641.3,438.0 642.2,445.5 641.6,451.5 639.5,458.5 636.3,466.0 632.7,471.4 628.7,475.4 624.2,478.3 618.7,480.4 611.7,482.0" fill="none" stroke="#898989" stroke-width="0.9"/>
<path d="M610.2,481.0 604.2,480.8 598.2,478.7 592.7,475.1 586.6,469.0 583.7,464.5 581.6,459.0 580.5,453.0 579.9,444.5 580.6,438.5 583.0,429.5 585.5,424.0 588.7,419.5 593.7,414.8 598.7,411.7 605.2,409.4 611.2,408.5 616.7,409.4 622.7,411.9 628.7,416.0 633.2,420.5 636.4,425.5 638.8,431.5 640.6,439.0 641.2,446.0 640.4,452.5 637.6,461.0 634.9,466.5 631.2,471.4 627.2,475.2 622.7,477.8 616.7,479.8 610.2,481.0" fill="none" stroke="#878787" stroke-width="0.9"/>
<path d="M612.7,479.5 606.2,479.9 600.2,478.4 594.7,475.3 588.8,470.0 585.4,465.5 582.9,460.0 581.6,454.0 580.9,445.5 581.4,439.0 583.5,431.0 585.8,425.5 589.2,420.5 593.7,416.1 598.7,412.8 604.7,410.6 610.7,409.6 616.2,410.3 621.7,412.6 627.6,416.5 632.2,421.0 635.3,425.5 637.5,430.5 639.5,438.0 640.3,445.0 639.9,450.5 637.9,457.5 635.2,464.0 631.9,469.0 627.7,473.3 623.7,476.1 618.7,478.1 612.7,479.5" fill="none" stroke="#858585" stroke-width="0.9"/>
<path d="M611.7,478.5 605.7,478.6 599.7,477.0 594.2,473.6 588.8,468.5 585.9,464.5 583.8,459.5 582.5,453.5 581.8,445.0 582.3,439.0 584.3,431.5 587.0,425.5 590.2,421.0 594.7,416.6 599.2,413.8 605.2,411.6 610.7,410.8 615.7,411.4 621.2,413.6 626.7,417.2 631.6,422.0 634.7,426.5 636.8,431.5 638.6,438.5 639.4,445.0 638.9,450.5 636.9,457.5 634.3,463.5 630.9,468.5 626.7,472.7 622.7,475.4 617.7,477.3 611.7,478.5" fill="none" stroke="#848484" stroke-width="0.9"/>
<path d="M610.2,477.5 604.7,477.3 599.2,475.6 594.2,472.3 588.9,467.0 586.3,463.0 584.5,458.0 583.3,451.5 582.7,443.5 583.4,438.0 585.5,431.0 588.2,425.5 591.5,421.0 595.7,417.2 600.2,414.4 605.7,412.6 611.2,411.9 616.2,412.6 621.2,414.8 626.6,418.5 631.1,423.0 634.1,427.5 636.2,432.5 637.9,439.5 638.5,445.5 637.8,451.0 635.5,458.5 632.9,464.0 629.7,468.3 625.7,472.1 621.7,474.7 616.7,476.4 610.2,477.5" fill="none" stroke="#828282" stroke-width="0.9"/>
<path d="M613.2,476.0 607.2,476.4 601.7,475.4 596.7,472.9 591.6,468.5 588.3,464.5 586.0,459.5 584.5,453.5 583.7,446.0 583.9,440.0 585.4,434.0 588.0,428.0 591.2,423.0 595.1,419.0 599.2,416.1 604.2,414.1 609.7,413.0 614.7,413.4 619.7,415.2 624.7,418.3 629.3,422.5 632.4,426.5 634.6,431.0 636.5,437.0 637.5,443.5 637.3,448.5 636.1,454.0 633.9,460.0 631.0,465.0 627.2,469.4 623.2,472.6 618.7,474.7 613.2,476.0" fill="none" stroke="#808080" stroke-width="0.9"/>
<path d="M612.7,475.0 606.7,475.2 601.7,474.2 596.7,471.6 592.0,467.5 588.9,463.5 586.9,459.0 585.4,453.0 584.6,445.5 584.9,440.0 586.2,434.5 588.8,428.5 592.1,423.5 596.1,419.5 600.2,416.8 605.2,414.9 609.7,414.2 614.7,414.6 619.2,416.2 624.2,419.2 628.7,423.4 631.8,427.5 634.0,432.0 635.8,438.0 636.5,443.5 636.3,448.5 635.0,454.5 632.8,460.0 630.1,464.5 626.2,468.9 622.2,472.0 618.2,473.8 612.7,475.0" fill="none" stroke="#7f7f7f" stroke-width="0.9"/>
<path d="M611.7,474.0 606.2,474.0 601.2,472.8 596.7,470.3 592.5,466.5 589.5,462.5 587.6,458.0 586.3,452.5 585.6,445.0 585.8,440.0 587.3,434.5 590.0,428.5 593.0,424.0 596.7,420.3 600.7,417.7 605.2,416.0 609.7,415.3 614.7,415.8 619.2,417.4 623.7,420.2 627.9,424.0 630.9,428.0 633.3,433.0 634.9,438.5 635.6,444.0 635.3,449.0 633.8,455.0 631.5,460.5 628.9,464.5 625.2,468.4 621.2,471.3 616.7,473.1 611.7,474.0" fill="#000" fill-opacity="0.03" stroke="#7d7d7d" stroke-width="0.9"/>
<path d="M609.7,473.0 604.7,472.6 600.2,471.1 595.7,468.2 592.1,464.5 589.7,460.5 588.0,455.5 587.0,450.0 586.6,443.5 587.0,439.0 588.5,434.0 591.1,428.5 594.4,424.0 597.7,420.8 601.7,418.3 605.7,416.9 610.2,416.4 615.2,417.1 619.7,418.8 624.2,421.9 627.8,425.5 630.6,429.5 632.8,434.5 634.3,440.0 634.7,445.0 634.0,450.5 632.4,456.0 630.1,461.0 627.2,465.0 623.2,468.7 619.2,471.1 615.2,472.4 609.7,473.0" fill="#000" fill-opacity="0.03" stroke="#7b7b7b" stroke-width="0.9"/>
<path d="M613.7,471.6 608.7,471.9 603.7,471.2 599.7,469.6 596.2,467.2 593.1,464.0 590.6,460.0 588.9,455.0 587.9,449.5 587.6,443.5 588.0,439.0 589.5,434.0 592.3,428.5 595.3,424.5 599.2,420.9 603.2,418.8 607.7,417.7 612.2,417.7 616.7,418.7 620.7,420.6 624.7,423.7 628.1,427.5 630.5,431.5 632.5,436.5 633.6,441.5 633.6,446.5 632.8,451.5 631.0,457.0 628.6,461.5 625.3,465.5 621.7,468.5 618.2,470.4 613.7,471.6" fill="#000" fill-opacity="0.03" stroke="#7a7a7a" stroke-width="0.9"/>
<path d="M613.2,470.5 608.7,470.7 604.2,470.1 600.2,468.6 596.7,466.3 593.7,463.1 591.6,459.5 589.9,455.0 588.9,449.5 588.6,443.5 589.1,439.0 590.6,434.0 593.2,429.0 596.1,425.0 599.7,421.8 603.7,419.7 607.7,418.8 611.7,418.8 616.2,419.7 620.2,421.6 623.7,424.2 626.8,427.5 629.4,431.5 631.5,436.5 632.6,441.5 632.7,446.5 631.8,451.5 630.0,457.0 627.8,461.0 624.7,464.7 621.2,467.6 617.2,469.6 613.2,470.5" fill="#000" fill-opacity="0.03" stroke="#787878" stroke-width="0.9"/>
<path d="M612.2,469.5 607.2,469.5 603.2,468.6 599.7,467.1 596.7,464.8 593.9,461.5 592.0,458.0 590.6,453.5 589.8,448.5 589.7,443.0 590.2,438.5 591.9,433.5 594.4,429.0 597.2,425.3 600.7,422.4 604.2,420.7 608.2,419.8 612.7,420.1 616.7,421.1 620.2,422.8 623.7,425.6 626.7,429.0 629.3,433.5 631.0,438.0 631.7,442.5 631.6,447.5 630.6,452.5 628.9,457.0 626.6,461.0 623.7,464.4 620.2,467.0 616.2,468.8 612.2,469.5" fill="#000" fill-opacity="0.03" stroke="#767676" stroke-width="0.9"/>
<path d="M610.7,468.5 606.7,468.2 602.7,467.2 599.2,465.4 596.4,463.0 594.2,460.0 592.4,456.0 591.3,452.0 590.7,447.0 590.8,441.5 591.6,437.5 593.3,433.0 595.9,428.5 598.7,425.2 601.7,423.0 605.2,421.5 608.7,420.9 612.7,421.2 616.7,422.3 620.2,424.1 623.2,426.5 626.1,430.0 628.4,434.0 630.1,438.5 630.8,443.0 630.6,448.0 629.4,453.0 627.7,457.5 625.4,461.0 622.2,464.4 618.7,466.7 614.7,468.1 610.7,468.5" fill="#000" fill-opacity="0.03" stroke="#757575" stroke-width="0.9"/>
<path d="M614.2,467.1 610.2,467.4 605.7,466.9 602.2,465.8 599.2,464.0 594.9,459.0 593.1,455.0 592.1,451.0 591.9,441.0 592.8,437.0 594.4,433.0 596.8,429.0 599.7,425.7 603.2,423.4 606.7,422.3 610.7,422.1 614.7,422.8 618.2,424.1 621.2,426.1 624.1,429.0 626.5,432.5 628.4,436.5 629.6,440.5 629.9,444.5 629.5,449.0 628.2,454.0 626.3,458.0 623.8,461.5 621.1,464.0 617.7,466.0 614.2,467.1" fill="#000" fill-opacity="0.03" stroke="#737373" stroke-width="0.9"/>
<path d="M614.2,466.0 610.7,466.3 606.7,466.0 603.2,465.0 600.2,463.4 597.7,461.1 595.8,458.5 593.2,451.0 592.9,441.5 593.7,437.5 595.3,433.5 597.7,429.5 600.2,426.7 603.2,424.6 606.7,423.5 610.2,423.3 614.2,423.9 620.2,426.7 622.7,429.0 625.3,432.5 627.4,436.5 628.6,440.5 628.9,444.5 628.5,449.0 625.8,457.0 623.4,460.5 620.7,463.0 617.7,464.9 614.2,466.0" fill="#000" fill-opacity="0.03" stroke="#717171" stroke-width="0.9"/>
<path d="M613.7,465.0 606.7,464.9 600.7,462.3 596.5,457.5 594.1,450.5 593.9,441.5 596.2,434.0 598.3,430.5 600.7,427.7 603.7,425.6 606.7,424.6 613.7,424.9 616.7,425.9 619.7,427.6 622.2,430.0 624.8,433.5 626.5,437.0 627.7,441.0 628.0,445.0 627.5,449.5 624.8,457.0 620.2,462.2 617.2,464.0 613.7,465.0" fill="#000" fill-opacity="0.03" stroke="#707070" stroke-width="0.9"/>
<path d="M613.2,464.1 606.7,463.8 601.2,461.3 597.2,456.5 595.0,450.0 594.9,441.5 597.1,434.5 599.2,431.0 601.7,428.3 604.2,426.7 607.2,425.8 614.2,426.2 619.7,429.0 622.2,431.6 624.5,435.0 626.8,441.5 627.1,445.5 626.6,449.5 624.0,456.5 621.8,459.5 619.2,461.7 616.2,463.3 613.2,464.1" fill="#000" fill-opacity="0.03" stroke="#6e6e6e" stroke-width="0.9"/>
<path d="M613.2,463.0 607.2,462.8 601.7,460.3 597.8,455.5 595.9,449.5 595.9,441.5 598.0,435.0 602.2,429.4 604.7,427.8 607.2,427.0 613.7,427.3 616.7,428.4 619.2,430.0 623.7,435.5 626.0,442.0 625.8,449.5 623.3,456.0 621.2,458.7 618.7,460.8 613.2,463.0" fill="#000" fill-opacity="0.03" stroke="#6c6c6c" stroke-width="0.9"/>
<path d="M612.7,462.0 607.2,461.7 601.9,459.0 598.5,454.5 596.7,448.5 596.9,441.5 599.2,435.0 603.2,430.1 605.7,428.7 608.2,428.1 614.2,428.7 619.2,431.4 623.1,436.5 625.1,442.5 624.9,449.5 622.6,455.5 618.2,460.0 612.7,462.0" fill="#000" fill-opacity="0.03" stroke="#6b6b6b" stroke-width="0.9"/>
<path d="M612.7,461.0 607.2,460.6 602.7,458.2 599.4,454.0 597.6,448.5 597.7,442.0 599.9,436.0 603.7,431.3 608.2,429.4 613.7,429.7 618.7,432.4 622.6,437.5 624.3,443.0 624.0,449.5 621.8,455.0 617.7,459.1 612.7,461.0" fill="#000" fill-opacity="0.03" stroke="#696969" stroke-width="0.9"/>
<path d="M612.2,460.0 607.2,459.5 602.9,457.0 600.0,453.0 598.4,447.5 598.8,441.5 601.1,436.0 604.7,432.1 609.2,430.6 614.2,431.1 618.7,433.8 622.0,438.5 623.5,444.0 623.0,450.0 620.7,455.0 617.2,458.3 612.2,460.0" fill="#000" fill-opacity="0.03" stroke="#676767" stroke-width="0.9"/>
<path d="M612.2,459.0 607.7,458.6 603.7,456.3 600.6,452.0 599.3,447.0 599.7,441.5 602.0,436.5 605.2,433.3 609.7,431.7 614.2,432.3 618.2,434.8 621.2,439.0 622.6,444.0 622.2,449.5 620.3,454.0 616.7,457.4 612.2,459.0" fill="#000" fill-opacity="0.03" stroke="#666666" stroke-width="0.9"/>
<path d="M611.7,458.0 607.7,457.5 603.9,455.0 601.2,451.0 600.2,446.5 600.7,441.5 603.0,437.0 606.2,434.1 610.2,432.9 614.7,433.7 618.2,436.2 620.8,440.5 621.8,445.0 621.2,450.0 619.2,454.0 615.7,456.9 611.7,458.0" fill="#000" fill-opacity="0.03" stroke="#646464" stroke-width="0.9"/>
<path d="M613.7,456.6 609.7,456.9 605.7,455.2 602.8,452.0 601.3,448.0 601.2,443.5 602.7,439.2 605.7,435.8 609.2,434.2 612.7,434.2 616.2,435.8 619.1,439.0 620.6,443.0 620.8,447.5 619.7,451.5 617.2,454.7 613.7,456.6" fill="#000" fill-opacity="0.03" stroke="#626262" stroke-width="0.9"/>
<path d="M613.7,455.5 610.2,455.9 606.7,454.6 604.0,452.0 602.2,448.0 602.0,444.0 603.4,440.0 605.9,437.0 609.2,435.4 612.7,435.4 615.7,436.7 618.3,439.5 619.7,443.0 620.0,447.0 618.9,451.0 616.7,453.8 613.7,455.5" fill="#000" fill-opacity="0.03" stroke="#616161" stroke-width="0.9"/>
<path d="M613.2,454.5 609.7,454.7 606.7,453.4 604.5,451.0 603.0,447.5 602.9,444.0 604.2,440.5 606.7,437.7 609.7,436.4 612.7,436.5 615.7,438.0 617.7,440.5 619.0,444.0 619.1,447.5 618.1,450.5 616.2,453.0 613.2,454.5" fill="#000" fill-opacity="0.03" stroke="#5f5f5f" stroke-width="0.9"/>
<path d="M612.7,453.6 609.7,453.6 607.2,452.4 605.0,450.0 603.8,447.0 603.8,444.0 604.9,441.0 607.2,438.6 609.7,437.5 612.7,437.6 615.2,439.0 616.9,441.0 618.1,444.0 618.2,447.5 617.2,450.3 615.2,452.5 612.7,453.6" fill="#000" fill-opacity="0.03" stroke="#5d5d5d" stroke-width="0.9"/>
<path d="M612.2,452.5 609.7,452.4 607.2,451.1 605.5,449.0 604.7,446.5 604.9,443.5 606.1,441.0 607.7,439.4 610.2,438.5 612.7,438.7 614.8,440.0 616.4,442.0 617.3,445.0 617.3,447.5 616.3,450.0 614.7,451.6 612.2,452.5" fill="#000" fill-opacity="0.03" stroke="#5c5c5c" stroke-width="0.9"/>
<path d="M613.2,451.1 610.7,451.4 608.7,450.9 607.0,449.5 605.9,447.5 605.5,445.0 606.0,443.0 607.3,441.0 609.2,439.8 611.2,439.5 613.2,440.1 614.8,441.5 616.0,443.5 616.5,446.0 616.2,448.0 615.2,449.8 613.2,451.1" fill="#000" fill-opacity="0.03" stroke="#5a5a5a" stroke-width="0.9"/>
<path d="M612.7,450.1 609.2,449.9 607.7,448.8 606.7,447.1 606.7,443.5 607.7,441.9 609.2,440.9 611.2,440.6 612.7,441.1 615.2,444.2 615.6,446.0 615.3,448.0 614.2,449.3 612.7,450.1" fill="#fff" stroke="#585858" stroke-width="0.9"/>
<path d="M611.7,449.0 609.2,448.6 607.5,446.5 607.7,443.5 609.7,441.8 611.2,441.7 612.7,442.5 614.5,445.5 614.2,447.9 611.7,449.0" fill="#fff" stroke="#575757" stroke-width="0.9"/>
<path d="M611.7,447.5 609.7,447.5 608.4,446.0 608.5,444.0 609.7,442.9 611.3,443.0 612.7,444.5 613.2,446.5 611.7,447.5" fill="#fff" stroke="#555555" stroke-width="0.9"/>
</g>
<rect x="548.2" y="332" width="229.5" height="229.8" fill="none" stroke="#b0b0b0" stroke-width="1.2"/>
<line x1="634.1" y1="332" x2="634.1" y2="561.8" stroke="#707070" stroke-width="1.2"/>
<line x1="548.2" y1="467.6" x2="777.7" y2="467.6" stroke="#707070" stroke-width="1.2"/>
<line x1="544.2" y1="352.7" x2="548.2" y2="352.7" stroke="#999" stroke-width="1"/>
<line x1="544.2" y1="405.8" x2="548.2" y2="405.8" stroke="#999" stroke-width="1"/>
<line x1="544.2" y1="461.4" x2="548.2" y2="461.4" stroke="#999" stroke-width="1"/>
<line x1="544.2" y1="529.6" x2="548.2" y2="529.6" stroke="#999" stroke-width="1"/>
<line x1="545.7" y1="389.8" x2="548.2" y2="389.8" stroke="#aaa" stroke-width="0.8"/>
<line x1="545.7" y1="380.5" x2="548.2" y2="380.5" stroke="#aaa" stroke-width="0.8"/>
<line x1="545.7" y1="373.8" x2="548.2" y2="373.8" stroke="#aaa" stroke-width="0.8"/>
<line x1="545.7" y1="368.7" x2="548.2" y2="368.7" stroke="#aaa" stroke-width="0.8"/>
<line x1="545.7" y1="364.5" x2="548.2" y2="364.5" stroke="#aaa" stroke-width="0.8"/>
<line x1="545.7" y1="360.9" x2="548.2" y2="360.9" stroke="#aaa" stroke-width="0.8"/>
<line x1="545.7" y1="357.8" x2="548.2" y2="357.8" stroke="#aaa" stroke-width="0.8"/>
<line x1="545.7" y1="355.1" x2="548.2" y2="355.1" stroke="#aaa" stroke-width="0.8"/>
<line x1="545.7" y1="444.7" x2="548.2" y2="444.7" stroke="#aaa" stroke-width="0.8"/>
<line x1="545.7" y1="434.9" x2="548.2" y2="434.9" stroke="#aaa" stroke-width="0.8"/>
<line x1="545.7" y1="427.9" x2="548.2" y2="427.9" stroke="#aaa" stroke-width="0.8"/>
<line x1="545.7" y1="422.5" x2="548.2" y2="422.5" stroke="#aaa" stroke-width="0.8"/>
<line x1="545.7" y1="418.1" x2="548.2" y2="418.1" stroke="#aaa" stroke-width="0.8"/>
<line x1="545.7" y1="414.4" x2="548.2" y2="414.4" stroke="#aaa" stroke-width="0.8"/>
<line x1="545.7" y1="411.2" x2="548.2" y2="411.2" stroke="#aaa" stroke-width="0.8"/>
<line x1="545.7" y1="408.3" x2="548.2" y2="408.3" stroke="#aaa" stroke-width="0.8"/>
<line x1="545.7" y1="337" x2="548.2" y2="337" stroke="#aaa" stroke-width="0.8"/>
<line x1="545.7" y1="341" x2="548.2" y2="341" stroke="#aaa" stroke-width="0.8"/>
<line x1="545.7" y1="344" x2="548.2" y2="344" stroke="#aaa" stroke-width="0.8"/>
<line x1="545.7" y1="347" x2="548.2" y2="347" stroke="#aaa" stroke-width="0.8"/>
<line x1="545.7" y1="350" x2="548.2" y2="350" stroke="#aaa" stroke-width="0.8"/>
<line x1="545.7" y1="472" x2="548.2" y2="472" stroke="#aaa" stroke-width="0.8"/>
<line x1="545.7" y1="484" x2="548.2" y2="484" stroke="#aaa" stroke-width="0.8"/>
<line x1="545.7" y1="497" x2="548.2" y2="497" stroke="#aaa" stroke-width="0.8"/>
<line x1="545.7" y1="507" x2="548.2" y2="507" stroke="#aaa" stroke-width="0.8"/>
<line x1="545.7" y1="517" x2="548.2" y2="517" stroke="#aaa" stroke-width="0.8"/>
<line x1="545.7" y1="522" x2="548.2" y2="522" stroke="#aaa" stroke-width="0.8"/>
<line x1="545.7" y1="537" x2="548.2" y2="537" stroke="#aaa" stroke-width="0.8"/>
<line x1="545.7" y1="544" x2="548.2" y2="544" stroke="#aaa" stroke-width="0.8"/>
<line x1="545.7" y1="552" x2="548.2" y2="552" stroke="#aaa" stroke-width="0.8"/>
<rect x="544.2" y="527.0" width="3" height="5" fill="#333"/>
<line x1="584.3" y1="561.8" x2="584.3" y2="566.8" stroke="#999" stroke-width="1"/>
<line x1="647" y1="561.8" x2="647" y2="566.8" stroke="#999" stroke-width="1"/>
<line x1="702.3" y1="561.8" x2="702.3" y2="566.8" stroke="#999" stroke-width="1"/>
<line x1="755" y1="561.8" x2="755" y2="566.8" stroke="#999" stroke-width="1"/>
<line x1="663.6" y1="561.8" x2="663.6" y2="564.8" stroke="#aaa" stroke-width="0.8"/>
<line x1="673.4" y1="561.8" x2="673.4" y2="564.8" stroke="#aaa" stroke-width="0.8"/>
<line x1="680.3" y1="561.8" x2="680.3" y2="564.8" stroke="#aaa" stroke-width="0.8"/>
<line x1="685.7" y1="561.8" x2="685.7" y2="564.8" stroke="#aaa" stroke-width="0.8"/>
<line x1="690" y1="561.8" x2="690" y2="564.8" stroke="#aaa" stroke-width="0.8"/>
<line x1="693.7" y1="561.8" x2="693.7" y2="564.8" stroke="#aaa" stroke-width="0.8"/>
<line x1="696.9" y1="561.8" x2="696.9" y2="564.8" stroke="#aaa" stroke-width="0.8"/>
<line x1="699.8" y1="561.8" x2="699.8" y2="564.8" stroke="#aaa" stroke-width="0.8"/>
<line x1="718.2" y1="561.8" x2="718.2" y2="564.8" stroke="#aaa" stroke-width="0.8"/>
<line x1="727.4" y1="561.8" x2="727.4" y2="564.8" stroke="#aaa" stroke-width="0.8"/>
<line x1="734" y1="561.8" x2="734" y2="564.8" stroke="#aaa" stroke-width="0.8"/>
<line x1="739.1" y1="561.8" x2="739.1" y2="564.8" stroke="#aaa" stroke-width="0.8"/>
<line x1="743.3" y1="561.8" x2="743.3" y2="564.8" stroke="#aaa" stroke-width="0.8"/>
<line x1="746.8" y1="561.8" x2="746.8" y2="564.8" stroke="#aaa" stroke-width="0.8"/>
<line x1="749.9" y1="561.8" x2="749.9" y2="564.8" stroke="#aaa" stroke-width="0.8"/>
<line x1="752.6" y1="561.8" x2="752.6" y2="564.8" stroke="#aaa" stroke-width="0.8"/>
<line x1="556.2" y1="561.8" x2="556.2" y2="564.8" stroke="#aaa" stroke-width="0.8"/>
<line x1="564.2" y1="561.8" x2="564.2" y2="564.8" stroke="#aaa" stroke-width="0.8"/>
<line x1="574.2" y1="561.8" x2="574.2" y2="564.8" stroke="#aaa" stroke-width="0.8"/>
<line x1="578.2" y1="561.8" x2="578.2" y2="564.8" stroke="#aaa" stroke-width="0.8"/>
<line x1="582.2" y1="561.8" x2="582.2" y2="564.8" stroke="#aaa" stroke-width="0.8"/>
<line x1="588.2" y1="561.8" x2="588.2" y2="564.8" stroke="#aaa" stroke-width="0.8"/>
<line x1="592.2" y1="561.8" x2="592.2" y2="564.8" stroke="#aaa" stroke-width="0.8"/>
<line x1="598.2" y1="561.8" x2="598.2" y2="564.8" stroke="#aaa" stroke-width="0.8"/>
<line x1="608.2" y1="561.8" x2="608.2" y2="564.8" stroke="#aaa" stroke-width="0.8"/>
<line x1="618.2" y1="561.8" x2="618.2" y2="564.8" stroke="#aaa" stroke-width="0.8"/>
<line x1="626.2" y1="561.8" x2="626.2" y2="564.8" stroke="#aaa" stroke-width="0.8"/>
<line x1="633.2" y1="561.8" x2="633.2" y2="564.8" stroke="#aaa" stroke-width="0.8"/>
<line x1="636.2" y1="561.8" x2="636.2" y2="564.8" stroke="#aaa" stroke-width="0.8"/>
<line x1="640.2" y1="561.8" x2="640.2" y2="564.8" stroke="#aaa" stroke-width="0.8"/>
<line x1="644.2" y1="561.8" x2="644.2" y2="564.8" stroke="#aaa" stroke-width="0.8"/>
<line x1="763.2" y1="561.8" x2="763.2" y2="564.8" stroke="#aaa" stroke-width="0.8"/>
<line x1="770.2" y1="561.8" x2="770.2" y2="564.8" stroke="#aaa" stroke-width="0.8"/>
<rect x="583.2" y="562.8" width="3" height="4" fill="#333"/>
<text x="553.6" y="357.6" font-size="25">92.5</text>
<text x="720.6" y="357.6" font-size="25">0.75</text>
<text x="553.6" y="551.9" font-size="25">6.72</text>
<text x="752.8" y="551.9" font-size="25">0</text>
<clipPath id="cb11"><rect x="860.0" y="332.0" width="229.5" height="229.8"/></clipPath>
<g clip-path="url(#cb11)" fill="none" stroke-linejoin="round">
<path d="M998.0,469.0 985.0,469.4 977.5,468.5 963.0,463.9 952.2,459.0 943.5,455.8 938.5,455.0 925.0,454.2 919.0,452.6 904.0,445.7 894.0,438.0 891.8,435.0 890.8,432.0 890.6,428.5 891.5,425.0 894.0,421.2 899.3,416.5 904.0,413.0 910.5,409.2 915.0,407.4 923.5,405.3 940.0,403.1 943.5,402.1 947.5,399.8 953.5,393.5 956.5,391.3 977.0,382.4 983.0,380.8 995.0,379.9 1002.0,380.1 1007.0,381.4 1019.2,387.5 1032.5,395.4 1042.4,403.0 1054.2,410.0 1055.8,412.0 1056.7,414.5 1058.0,427.5 1056.3,432.5 1051.5,439.2 1041.5,446.4 1034.5,453.2 1027.5,457.5 1022.0,461.9 1017.0,464.2 998.0,469.0" fill="none" stroke="#8c8c8c" stroke-width="0.9"/>
<path d="M995.5,467.0 984.0,467.2 977.5,466.4 964.5,461.9 953.0,456.5 944.0,453.3 939.0,452.4 926.5,451.8 920.0,450.1 905.5,443.3 900.6,439.5 897.5,436.0 895.8,433.0 895.2,429.5 896.0,426.5 898.2,423.0 902.7,418.0 910.5,412.8 916.5,410.2 922.5,408.4 938.0,406.7 943.5,405.3 948.5,402.0 954.5,395.4 957.5,393.0 977.0,384.3 983.0,382.6 994.5,381.6 1000.5,381.8 1005.5,383.1 1017.3,389.0 1025.0,394.6 1031.5,398.4 1039.0,405.0 1048.3,412.0 1050.6,414.5 1051.9,417.0 1052.8,421.0 1052.8,425.5 1051.4,430.0 1046.9,436.5 1038.0,444.3 1031.1,451.5 1016.5,461.6 1002.0,465.9 995.5,467.0" fill="none" stroke="#8a8a8a" stroke-width="0.9"/>
<path d="M995.0,465.0 984.0,465.3 978.0,464.6 966.0,460.2 953.7,454.0 945.0,451.1 939.5,449.9 928.0,449.3 922.0,447.8 907.5,440.7 904.3,438.5 902.1,436.0 900.5,433.0 900.0,430.5 900.5,428.0 902.5,424.6 906.5,420.4 916.1,414.0 920.2,412.0 924.0,410.9 937.5,410.3 943.5,408.7 949.0,404.8 955.3,397.5 958.0,395.1 976.5,386.3 983.0,384.4 993.0,383.3 999.0,383.3 1003.5,384.4 1016.0,390.6 1023.3,396.5 1031.9,402.5 1042.0,412.5 1044.8,416.0 1047.3,421.0 1047.8,425.5 1046.3,430.0 1042.1,436.0 1035.9,441.5 1029.5,448.8 1018.5,457.4 1014.5,459.9 1009.5,461.7 1001.0,464.2 995.0,465.0" fill="none" stroke="#898989" stroke-width="0.9"/>
<path d="M988.5,463.5 981.5,463.3 975.0,461.8 965.5,457.9 954.5,451.6 946.7,449.0 940.0,447.4 929.5,446.5 923.5,444.8 907.0,436.0 904.8,432.5 905.0,429.0 907.0,426.3 916.1,418.5 922.0,414.6 926.5,413.5 939.5,413.0 945.5,411.0 950.0,407.3 956.2,399.5 958.9,397.0 976.0,388.2 982.5,386.1 992.0,384.9 998.0,384.8 1003.0,386.1 1015.0,392.2 1030.0,404.4 1039.7,417.5 1042.5,423.0 1042.8,426.0 1039.3,433.0 1028.3,446.0 1015.5,456.8 1010.5,459.5 1003.5,461.8 997.5,462.9 988.5,463.5" fill="none" stroke="#878787" stroke-width="0.9"/>
<path d="M994.0,461.5 984.5,461.8 978.0,460.8 967.0,456.6 956.5,449.9 952.5,448.0 942.5,445.3 931.0,443.7 926.5,442.4 919.5,439.1 912.3,434.5 910.5,432.5 910.4,430.0 918.0,421.4 923.5,417.4 928.0,416.2 941.5,415.5 947.0,413.5 951.0,409.9 957.1,401.5 959.6,399.0 975.5,390.2 981.5,387.9 988.0,386.8 996.5,386.3 1001.5,387.2 1014.0,393.7 1028.0,405.9 1030.6,409.5 1034.8,417.5 1036.8,423.0 1037.1,425.5 1034.8,432.0 1027.3,443.0 1023.9,447.0 1018.0,452.3 1012.5,456.5 1007.5,458.9 1001.5,460.6 994.0,461.5" fill="none" stroke="#858585" stroke-width="0.9"/>
<path d="M992.5,460.0 984.0,460.1 977.0,458.7 967.0,454.6 957.0,447.5 952.5,445.2 944.0,442.9 931.0,440.7 926.5,439.2 921.2,436.5 918.0,434.0 916.4,431.5 916.7,428.5 920.5,423.2 925.5,419.9 930.0,418.9 942.5,418.5 947.5,416.8 951.5,413.1 960.7,400.5 964.5,397.9 976.5,391.4 982.5,389.2 989.0,388.1 996.5,387.8 1001.5,388.8 1013.5,395.4 1026.3,407.5 1028.7,411.5 1030.8,417.5 1032.1,423.5 1032.1,428.0 1030.4,433.0 1024.4,443.0 1020.6,447.5 1014.5,452.8 1010.0,456.0 1005.5,458.1 1000.0,459.3 992.5,460.0" fill="none" stroke="#848484" stroke-width="0.9"/>
<path d="M992.0,458.5 983.5,458.4 975.5,456.3 967.0,452.6 957.0,444.9 950.0,440.9 944.0,439.4 932.0,437.8 927.5,436.4 923.9,434.5 921.7,432.5 920.7,430.5 921.0,428.0 923.9,424.5 928.0,422.4 933.5,421.7 944.0,422.0 948.5,420.5 951.5,417.4 961.8,402.0 967.0,398.2 977.0,392.8 983.0,390.5 989.5,389.4 996.5,389.2 1001.5,390.4 1013.0,397.0 1024.2,408.5 1026.2,412.0 1027.7,417.0 1028.8,424.0 1028.8,428.5 1027.3,433.0 1022.3,442.5 1019.0,446.6 1012.9,452.0 1008.5,455.1 1004.5,456.8 999.5,457.9 992.0,458.5" fill="none" stroke="#828282" stroke-width="0.9"/>
<path d="M993.0,457.0 983.0,456.7 972.0,453.2 965.7,449.5 948.5,434.8 946.0,434.2 935.5,435.1 931.0,434.5 926.1,432.0 925.1,430.5 925.3,428.5 928.0,426.1 933.0,424.9 937.5,425.2 946.0,427.3 948.5,427.0 951.5,423.7 955.9,414.5 961.2,405.5 963.7,402.5 967.0,399.9 976.0,394.8 984.5,391.6 994.5,390.5 1001.0,391.8 1012.0,398.2 1021.7,408.5 1023.8,412.0 1025.2,416.5 1026.3,423.0 1026.3,427.5 1025.3,431.5 1021.4,440.5 1018.6,444.5 1014.5,448.6 1009.5,452.7 1005.0,455.1 1000.0,456.4 993.0,457.0" fill="none" stroke="#808080" stroke-width="0.9"/>
<path d="M994.5,455.5 987.5,455.7 983.0,455.2 975.5,452.9 970.0,450.4 965.5,447.0 957.0,439.0 954.8,435.5 953.9,431.5 954.4,426.0 956.8,417.5 961.3,408.5 964.9,403.5 970.5,399.3 979.0,394.9 985.0,392.8 991.5,392.0 997.0,392.1 1001.0,393.3 1008.5,397.5 1013.0,401.1 1018.4,407.0 1021.3,411.5 1023.3,417.0 1024.3,423.5 1023.9,428.5 1021.7,435.5 1019.5,440.5 1016.5,444.5 1010.5,450.0 1006.0,453.1 1001.0,454.8 994.5,455.5M935.0,431.6 931.0,431.5 929.5,430.5 929.5,429.5 932.0,428.2 935.2,428.5 936.7,430.0 936.2,431.0 935.0,431.6" fill="none" stroke="#7f7f7f" stroke-width="0.9"/>
<path d="M996.0,454.0 988.5,454.4 983.5,453.9 978.0,452.2 972.0,449.6 967.6,446.5 960.3,439.5 957.9,436.0 956.8,432.0 956.9,426.0 958.3,419.0 961.2,412.0 965.2,405.5 968.9,402.0 974.0,398.8 982.0,395.2 988.0,393.6 994.5,393.3 999.0,394.1 1004.0,396.4 1010.0,400.4 1015.2,405.5 1018.8,410.5 1021.0,415.5 1022.3,421.5 1022.4,426.0 1021.7,430.0 1018.9,438.0 1016.2,442.5 1011.0,447.7 1006.0,451.4 1001.5,453.2 996.0,454.0" fill="#000" fill-opacity="0.03" stroke="#7d7d7d" stroke-width="0.9"/>
<path d="M991.0,453.0 985.5,452.8 981.0,451.8 974.5,449.2 970.0,446.3 963.3,440.0 960.7,436.5 959.2,432.0 958.9,426.5 959.8,420.5 962.1,414.0 965.2,408.0 968.6,404.0 974.0,400.2 982.5,396.4 988.0,394.9 994.0,394.6 998.5,395.4 1003.0,397.4 1008.5,401.0 1013.3,405.5 1016.6,410.0 1018.9,414.5 1020.5,420.0 1020.9,425.0 1019.8,430.5 1017.5,437.5 1015.1,441.5 1011.9,445.0 1007.0,449.0 1003.0,451.2 998.0,452.4 991.0,453.0" fill="#000" fill-opacity="0.03" stroke="#7b7b7b" stroke-width="0.9"/>
<path d="M994.0,451.5 988.0,451.7 983.5,451.1 978.0,449.3 973.0,446.6 968.3,442.5 963.6,437.5 961.8,434.0 960.8,429.0 960.9,424.0 962.4,418.0 965.4,410.5 968.5,406.0 972.5,402.6 977.5,399.9 984.5,397.1 990.0,396.0 995.0,396.1 999.5,397.2 1004.5,399.9 1009.5,403.7 1013.1,407.5 1016.0,412.0 1018.3,417.5 1019.3,422.5 1019.1,427.0 1017.2,434.0 1015.3,438.5 1012.8,442.0 1008.5,446.1 1004.0,449.1 999.5,450.7 994.0,451.5" fill="#000" fill-opacity="0.03" stroke="#7a7a7a" stroke-width="0.9"/>
<path d="M995.5,450.1 989.5,450.4 985.0,450.1 980.0,448.7 975.5,446.5 971.1,443.0 965.9,437.5 963.9,434.0 962.7,429.5 962.6,424.5 963.7,419.5 966.3,412.0 969.0,407.5 972.0,404.5 976.5,401.7 983.5,398.7 988.5,397.5 993.5,397.3 998.0,398.2 1002.5,400.3 1007.5,403.8 1011.0,407.1 1013.8,411.0 1016.4,416.5 1017.7,421.5 1017.8,426.0 1016.7,431.0 1014.8,436.5 1012.7,440.0 1008.9,444.0 1004.5,447.2 1000.5,449.0 995.5,450.1" fill="#000" fill-opacity="0.03" stroke="#787878" stroke-width="0.9"/>
<path d="M992.5,449.0 987.5,449.1 983.0,448.4 979.0,446.8 975.0,444.4 970.3,440.0 966.7,435.5 964.9,431.5 964.2,427.0 964.8,422.0 967.1,414.0 968.9,410.0 971.2,407.0 975.0,404.0 980.0,401.4 986.0,399.3 991.0,398.6 995.5,399.0 999.5,400.2 1004.0,402.8 1008.5,406.5 1011.5,410.0 1013.8,414.0 1015.7,419.0 1016.5,423.5 1015.9,428.5 1014.4,434.0 1012.7,437.5 1010.0,441.0 1006.5,444.2 1002.5,446.7 998.0,448.2 992.5,449.0" fill="#000" fill-opacity="0.03" stroke="#767676" stroke-width="0.9"/>
<path d="M994.5,447.5 989.5,447.9 985.0,447.5 981.0,446.3 977.5,444.4 973.4,441.0 969.0,436.0 967.1,432.5 966.0,428.5 966.1,424.0 967.3,418.5 969.2,412.5 971.5,408.7 974.5,405.8 978.5,403.4 984.0,401.2 989.0,400.1 993.5,400.0 997.5,400.9 1001.5,402.7 1006.0,405.9 1009.1,409.0 1011.8,413.0 1013.8,417.5 1015.0,422.0 1014.9,426.5 1013.8,431.5 1012.3,435.5 1010.0,439.0 1006.5,442.5 1003.0,444.9 999.0,446.5 994.5,447.5" fill="#000" fill-opacity="0.03" stroke="#757575" stroke-width="0.9"/>
<path d="M991.5,446.5 987.0,446.4 983.5,445.8 980.0,444.3 976.5,441.8 972.1,437.5 969.6,434.0 968.0,430.0 967.5,426.0 968.1,421.5 970.0,414.5 971.6,411.0 973.5,408.5 977.0,405.7 981.5,403.4 986.5,401.8 991.5,401.2 995.5,401.7 999.0,402.8 1003.0,405.2 1006.9,408.5 1009.7,412.0 1011.8,416.0 1013.2,420.0 1013.7,424.0 1013.3,428.5 1012.0,433.0 1010.2,436.5 1007.5,439.9 1004.0,442.8 1000.5,444.6 996.5,445.8 991.5,446.5" fill="#000" fill-opacity="0.03" stroke="#737373" stroke-width="0.9"/>
<path d="M993.5,445.1 985.5,444.9 982.0,443.7 979.0,442.0 975.0,438.5 971.6,434.5 969.8,431.0 969.1,427.5 969.3,423.0 970.7,417.0 972.1,413.0 973.9,410.0 976.6,407.5 980.5,405.2 985.0,403.5 989.5,402.6 993.5,402.6 997.5,403.6 1001.0,405.3 1004.6,408.0 1007.4,411.0 1009.6,414.5 1011.5,419.0 1012.3,423.0 1012.2,427.0 1011.2,431.5 1009.6,435.0 1007.5,438.0 1004.5,440.9 1001.5,442.8 997.5,444.3 993.5,445.1" fill="#000" fill-opacity="0.03" stroke="#717171" stroke-width="0.9"/>
<path d="M995.0,443.6 987.0,443.7 981.0,441.6 977.5,438.9 974.0,435.4 971.8,432.0 970.8,429.0 970.4,425.5 970.8,422.0 972.4,416.0 974.2,412.0 976.2,409.5 979.0,407.4 982.5,405.7 987.0,404.3 991.0,403.8 995.0,404.2 998.5,405.3 1002.0,407.4 1005.0,410.0 1007.6,413.5 1009.6,417.5 1010.8,421.5 1011.1,425.0 1010.6,429.0 1009.3,433.0 1007.5,436.0 1005.0,438.8 1002.0,441.1 995.0,443.6" fill="#000" fill-opacity="0.03" stroke="#707070" stroke-width="0.9"/>
<path d="M994.0,442.5 987.0,442.4 981.0,439.9 977.5,437.1 974.5,433.8 972.8,431.0 971.9,427.5 971.9,424.0 972.7,419.5 974.2,415.0 975.9,412.0 978.0,409.7 981.0,407.7 988.5,405.3 992.5,405.1 996.0,405.7 1002.0,408.9 1006.8,414.5 1008.7,418.5 1009.7,422.5 1009.2,429.5 1007.9,433.0 1006.0,435.9 1001.0,440.2 997.5,441.8 994.0,442.5" fill="#000" fill-opacity="0.03" stroke="#6e6e6e" stroke-width="0.9"/>
<path d="M991.5,441.5 985.0,440.4 978.8,436.5 974.6,431.5 973.4,428.5 973.1,425.5 974.8,417.0 978.1,411.5 980.5,409.5 984.0,407.8 988.0,406.7 992.0,406.3 998.0,407.7 1001.0,409.5 1003.5,411.9 1007.1,418.0 1008.6,425.0 1007.2,431.5 1003.5,436.9 998.0,440.4 991.5,441.5" fill="#000" fill-opacity="0.03" stroke="#6c6c6c" stroke-width="0.9"/>
<path d="M994.5,440.1 988.0,439.9 982.5,437.6 977.1,433.0 974.6,428.0 974.3,425.0 974.8,421.5 977.5,414.4 981.5,410.4 987.5,408.1 994.0,407.7 999.5,409.9 1002.0,412.0 1004.3,415.0 1006.9,421.5 1007.0,428.0 1004.8,433.5 1000.5,437.8 994.5,440.1" fill="#000" fill-opacity="0.03" stroke="#6b6b6b" stroke-width="0.9"/>
<path d="M993.5,439.0 987.5,438.5 982.0,435.8 977.5,431.5 975.6,426.5 976.4,420.0 979.4,414.0 983.5,410.8 990.0,408.9 995.5,409.3 1000.4,412.0 1004.1,417.0 1005.9,423.0 1005.5,429.0 1003.0,433.9 999.0,437.3 993.5,439.0" fill="#000" fill-opacity="0.03" stroke="#696969" stroke-width="0.9"/>
<path d="M995.0,437.6 990.0,437.8 984.5,435.9 980.0,432.5 977.2,428.0 976.9,423.0 979.0,416.9 982.3,413.0 987.0,410.7 992.5,410.0 997.5,411.4 1001.5,415.0 1004.2,420.5 1004.7,426.5 1003.1,431.5 999.6,435.5 995.0,437.6" fill="#000" fill-opacity="0.03" stroke="#676767" stroke-width="0.9"/>
<path d="M994.5,436.5 989.5,436.5 984.5,434.5 980.2,431.0 978.2,427.0 978.3,422.0 980.3,417.0 983.5,413.7 988.0,411.6 993.0,411.2 997.5,412.7 1000.8,416.0 1003.1,421.0 1003.5,426.5 1002.0,431.0 998.9,434.5 994.5,436.5" fill="#000" fill-opacity="0.03" stroke="#666666" stroke-width="0.9"/>
<path d="M993.0,435.5 988.5,435.1 984.0,432.9 980.6,429.5 979.2,425.5 979.7,421.0 982.1,416.5 985.5,413.8 990.5,412.3 994.5,412.6 998.0,414.6 1000.7,418.0 1002.3,423.0 1002.1,427.5 1000.2,431.5 997.0,434.3 993.0,435.5" fill="#000" fill-opacity="0.03" stroke="#646464" stroke-width="0.9"/>
<path d="M994.5,434.0 990.5,434.3 986.5,433.1 982.9,430.5 980.7,427.0 980.4,423.0 981.8,419.0 984.5,415.8 988.0,414.0 992.0,413.4 995.5,414.3 998.5,416.7 1000.6,420.5 1001.2,425.0 1000.3,429.0 998.0,432.1 994.5,434.0" fill="#000" fill-opacity="0.03" stroke="#626262" stroke-width="0.9"/>
<path d="M993.5,433.1 990.0,433.1 986.0,431.5 983.1,429.0 981.7,426.0 981.6,422.5 983.1,419.0 985.5,416.5 989.0,414.8 992.5,414.6 995.5,415.6 998.0,418.0 999.7,421.5 1000.0,425.5 998.9,429.0 996.5,431.7 993.5,433.1" fill="#000" fill-opacity="0.03" stroke="#616161" stroke-width="0.9"/>
<path d="M992.5,432.0 989.0,431.7 986.0,430.2 983.8,428.0 982.7,425.0 982.9,422.0 984.4,419.0 987.0,416.8 990.0,415.8 993.0,415.9 996.0,417.4 997.9,420.0 998.9,423.0 998.8,426.0 997.5,429.0 995.4,431.0 992.5,432.0" fill="#000" fill-opacity="0.03" stroke="#5f5f5f" stroke-width="0.9"/>
<path d="M993.5,430.6 991.0,430.9 988.0,430.2 985.6,428.5 984.1,426.0 983.8,423.5 984.4,421.0 986.0,418.9 988.5,417.3 991.5,416.8 994.0,417.4 996.0,419.0 997.4,421.5 997.8,424.5 997.3,427.0 996.0,429.0 993.5,430.6" fill="#000" fill-opacity="0.03" stroke="#5d5d5d" stroke-width="0.9"/>
<path d="M993.0,429.5 991.0,429.8 988.5,429.3 986.5,427.9 985.3,426.0 984.9,424.0 985.4,421.5 986.9,419.5 989.0,418.2 991.5,417.9 993.5,418.5 995.4,420.0 996.4,422.0 996.7,424.5 996.2,426.5 995.0,428.3 993.0,429.5" fill="#000" fill-opacity="0.03" stroke="#5c5c5c" stroke-width="0.9"/>
<path d="M992.5,428.5 989.0,428.3 987.2,427.0 986.3,425.5 986.0,423.5 986.5,421.8 987.5,420.4 989.5,419.2 993.0,419.5 994.5,420.7 995.4,422.5 995.2,426.0 994.2,427.5 992.5,428.5" fill="#000" fill-opacity="0.03" stroke="#5a5a5a" stroke-width="0.9"/>
<path d="M991.5,427.6 988.8,427.0 987.2,424.5 988.0,421.5 990.5,420.2 993.2,421.0 994.6,423.5 994.0,426.0 991.5,427.6" fill="#fff" stroke="#585858" stroke-width="0.9"/>
<path d="M991.0,426.5 989.0,425.7 988.3,424.0 989.0,422.1 991.0,421.3 992.7,422.0 993.5,424.0 992.5,426.0 991.0,426.5" fill="#fff" stroke="#575757" stroke-width="0.9"/>
<path d="M992.0,425.0 991.0,425.4 990.0,425.1 989.5,424.0 989.8,423.0 991.0,422.5 992.0,422.9 992.4,424.0 992.0,425.0" fill="#fff" stroke="#555555" stroke-width="0.9"/>
</g>
<rect x="860" y="332" width="229.5" height="229.8" fill="none" stroke="#b0b0b0" stroke-width="1.2"/>
<line x1="945.9" y1="332" x2="945.9" y2="561.8" stroke="#707070" stroke-width="1.2"/>
<line x1="860" y1="467.6" x2="1089.5" y2="467.6" stroke="#707070" stroke-width="1.2"/>
<line x1="856" y1="352.7" x2="860" y2="352.7" stroke="#999" stroke-width="1"/>
<line x1="856" y1="405.8" x2="860" y2="405.8" stroke="#999" stroke-width="1"/>
<line x1="856" y1="461.4" x2="860" y2="461.4" stroke="#999" stroke-width="1"/>
<line x1="856" y1="529.6" x2="860" y2="529.6" stroke="#999" stroke-width="1"/>
<line x1="857.5" y1="389.8" x2="860" y2="389.8" stroke="#aaa" stroke-width="0.8"/>
<line x1="857.5" y1="380.5" x2="860" y2="380.5" stroke="#aaa" stroke-width="0.8"/>
<line x1="857.5" y1="373.8" x2="860" y2="373.8" stroke="#aaa" stroke-width="0.8"/>
<line x1="857.5" y1="368.7" x2="860" y2="368.7" stroke="#aaa" stroke-width="0.8"/>
<line x1="857.5" y1="364.5" x2="860" y2="364.5" stroke="#aaa" stroke-width="0.8"/>
<line x1="857.5" y1="360.9" x2="860" y2="360.9" stroke="#aaa" stroke-width="0.8"/>
<line x1="857.5" y1="357.8" x2="860" y2="357.8" stroke="#aaa" stroke-width="0.8"/>
<line x1="857.5" y1="355.1" x2="860" y2="355.1" stroke="#aaa" stroke-width="0.8"/>
<line x1="857.5" y1="444.7" x2="860" y2="444.7" stroke="#aaa" stroke-width="0.8"/>
<line x1="857.5" y1="434.9" x2="860" y2="434.9" stroke="#aaa" stroke-width="0.8"/>
<line x1="857.5" y1="427.9" x2="860" y2="427.9" stroke="#aaa" stroke-width="0.8"/>
<line x1="857.5" y1="422.5" x2="860" y2="422.5" stroke="#aaa" stroke-width="0.8"/>
<line x1="857.5" y1="418.1" x2="860" y2="418.1" stroke="#aaa" stroke-width="0.8"/>
<line x1="857.5" y1="414.4" x2="860" y2="414.4" stroke="#aaa" stroke-width="0.8"/>
<line x1="857.5" y1="411.2" x2="860" y2="411.2" stroke="#aaa" stroke-width="0.8"/>
<line x1="857.5" y1="408.3" x2="860" y2="408.3" stroke="#aaa" stroke-width="0.8"/>
<line x1="857.5" y1="337" x2="860" y2="337" stroke="#aaa" stroke-width="0.8"/>
<line x1="857.5" y1="341" x2="860" y2="341" stroke="#aaa" stroke-width="0.8"/>
<line x1="857.5" y1="344" x2="860" y2="344" stroke="#aaa" stroke-width="0.8"/>
<line x1="857.5" y1="347" x2="860" y2="347" stroke="#aaa" stroke-width="0.8"/>
<line x1="857.5" y1="350" x2="860" y2="350" stroke="#aaa" stroke-width="0.8"/>
<line x1="857.5" y1="472" x2="860" y2="472" stroke="#aaa" stroke-width="0.8"/>
<line x1="857.5" y1="484" x2="860" y2="484" stroke="#aaa" stroke-width="0.8"/>
<line x1="857.5" y1="497" x2="860" y2="497" stroke="#aaa" stroke-width="0.8"/>
<line x1="857.5" y1="507" x2="860" y2="507" stroke="#aaa" stroke-width="0.8"/>
<line x1="857.5" y1="517" x2="860" y2="517" stroke="#aaa" stroke-width="0.8"/>
<line x1="857.5" y1="522" x2="860" y2="522" stroke="#aaa" stroke-width="0.8"/>
<line x1="857.5" y1="537" x2="860" y2="537" stroke="#aaa" stroke-width="0.8"/>
<line x1="857.5" y1="544" x2="860" y2="544" stroke="#aaa" stroke-width="0.8"/>
<line x1="857.5" y1="552" x2="860" y2="552" stroke="#aaa" stroke-width="0.8"/>
<rect x="856.0" y="527.0" width="3" height="5" fill="#333"/>
<line x1="896.1" y1="561.8" x2="896.1" y2="566.8" stroke="#999" stroke-width="1"/>
<line x1="958.8" y1="561.8" x2="958.8" y2="566.8" stroke="#999" stroke-width="1"/>
<line x1="1014.1" y1="561.8" x2="1014.1" y2="566.8" stroke="#999" stroke-width="1"/>
<line x1="1066.8" y1="561.8" x2="1066.8" y2="566.8" stroke="#999" stroke-width="1"/>
<line x1="975.4" y1="561.8" x2="975.4" y2="564.8" stroke="#aaa" stroke-width="0.8"/>
<line x1="985.2" y1="561.8" x2="985.2" y2="564.8" stroke="#aaa" stroke-width="0.8"/>
<line x1="992.1" y1="561.8" x2="992.1" y2="564.8" stroke="#aaa" stroke-width="0.8"/>
<line x1="997.5" y1="561.8" x2="997.5" y2="564.8" stroke="#aaa" stroke-width="0.8"/>
<line x1="1001.8" y1="561.8" x2="1001.8" y2="564.8" stroke="#aaa" stroke-width="0.8"/>
<line x1="1005.5" y1="561.8" x2="1005.5" y2="564.8" stroke="#aaa" stroke-width="0.8"/>
<line x1="1008.7" y1="561.8" x2="1008.7" y2="564.8" stroke="#aaa" stroke-width="0.8"/>
<line x1="1011.6" y1="561.8" x2="1011.6" y2="564.8" stroke="#aaa" stroke-width="0.8"/>
<line x1="1030" y1="561.8" x2="1030" y2="564.8" stroke="#aaa" stroke-width="0.8"/>
<line x1="1039.2" y1="561.8" x2="1039.2" y2="564.8" stroke="#aaa" stroke-width="0.8"/>
<line x1="1045.8" y1="561.8" x2="1045.8" y2="564.8" stroke="#aaa" stroke-width="0.8"/>
<line x1="1050.9" y1="561.8" x2="1050.9" y2="564.8" stroke="#aaa" stroke-width="0.8"/>
<line x1="1055.1" y1="561.8" x2="1055.1" y2="564.8" stroke="#aaa" stroke-width="0.8"/>
<line x1="1058.6" y1="561.8" x2="1058.6" y2="564.8" stroke="#aaa" stroke-width="0.8"/>
<line x1="1061.7" y1="561.8" x2="1061.7" y2="564.8" stroke="#aaa" stroke-width="0.8"/>
<line x1="1064.4" y1="561.8" x2="1064.4" y2="564.8" stroke="#aaa" stroke-width="0.8"/>
<line x1="868" y1="561.8" x2="868" y2="564.8" stroke="#aaa" stroke-width="0.8"/>
<line x1="876" y1="561.8" x2="876" y2="564.8" stroke="#aaa" stroke-width="0.8"/>
<line x1="886" y1="561.8" x2="886" y2="564.8" stroke="#aaa" stroke-width="0.8"/>
<line x1="890" y1="561.8" x2="890" y2="564.8" stroke="#aaa" stroke-width="0.8"/>
<line x1="894" y1="561.8" x2="894" y2="564.8" stroke="#aaa" stroke-width="0.8"/>
<line x1="900" y1="561.8" x2="900" y2="564.8" stroke="#aaa" stroke-width="0.8"/>
<line x1="904" y1="561.8" x2="904" y2="564.8" stroke="#aaa" stroke-width="0.8"/>
<line x1="910" y1="561.8" x2="910" y2="564.8" stroke="#aaa" stroke-width="0.8"/>
<line x1="920" y1="561.8" x2="920" y2="564.8" stroke="#aaa" stroke-width="0.8"/>
<line x1="930" y1="561.8" x2="930" y2="564.8" stroke="#aaa" stroke-width="0.8"/>
<line x1="938" y1="561.8" x2="938" y2="564.8" stroke="#aaa" stroke-width="0.8"/>
<line x1="945" y1="561.8" x2="945" y2="564.8" stroke="#aaa" stroke-width="0.8"/>
<line x1="948" y1="561.8" x2="948" y2="564.8" stroke="#aaa" stroke-width="0.8"/>
<line x1="952" y1="561.8" x2="952" y2="564.8" stroke="#aaa" stroke-width="0.8"/>
<line x1="956" y1="561.8" x2="956" y2="564.8" stroke="#aaa" stroke-width="0.8"/>
<line x1="1075" y1="561.8" x2="1075" y2="564.8" stroke="#aaa" stroke-width="0.8"/>
<line x1="1082" y1="561.8" x2="1082" y2="564.8" stroke="#aaa" stroke-width="0.8"/>
<rect x="895.0" y="562.8" width="3" height="4" fill="#333"/>
<text x="867.8" y="358.5" font-size="25">7.58</text>
<text x="1034.8" y="357.5" font-size="25">91.8</text>
<text x="867.8" y="552" font-size="25">0.61</text>
<text x="1064.2" y="552" font-size="25">0</text>
<clipPath id="cb12"><rect x="1172.2" y="332.0" width="229.5" height="229.8"/></clipPath>
<g clip-path="url(#cb12)" fill="none" stroke-linejoin="round">
<path d="M1325.2,477.6 1321.2,477.8 1315.2,477.0 1310.2,475.7 1306.7,474.1 1303.2,471.3 1290.7,457.9 1281.2,450.6 1275.7,447.4 1261.7,443.0 1245.7,444.0 1241.2,443.6 1229.2,439.9 1223.2,437.3 1218.4,433.0 1216.0,427.0 1215.6,419.5 1218.2,413.0 1222.7,407.9 1226.7,405.3 1230.2,403.8 1256.2,401.2 1260.7,400.0 1269.6,395.5 1280.2,388.6 1298.2,380.4 1311.7,373.5 1316.7,372.4 1322.2,372.3 1326.7,373.2 1330.7,375.1 1336.2,379.4 1341.2,384.7 1344.5,390.0 1348.0,397.5 1350.6,405.0 1352.5,413.5 1353.4,422.0 1353.4,431.0 1352.5,438.0 1350.0,450.0 1348.0,455.5 1344.9,461.5 1340.7,467.2 1335.2,472.7 1330.2,475.9 1325.2,477.6" fill="none" stroke="#8c8c8c" stroke-width="0.9"/>
<path d="M1324.2,476.0 1319.7,476.1 1314.2,475.3 1310.2,474.2 1307.2,472.6 1303.2,469.2 1292.7,457.1 1287.7,452.7 1278.2,445.7 1270.2,442.2 1264.2,438.7 1259.7,438.3 1247.7,440.9 1243.2,441.1 1236.2,439.5 1225.2,435.2 1221.2,431.6 1219.0,426.5 1218.4,420.5 1220.2,415.0 1224.2,410.4 1230.7,407.0 1248.7,404.8 1256.7,404.6 1260.2,403.6 1283.4,390.0 1312.2,375.2 1316.7,374.1 1321.7,373.9 1326.2,374.7 1330.2,376.5 1335.2,380.3 1340.2,385.5 1343.5,390.5 1347.0,398.0 1349.8,406.0 1351.6,414.0 1352.5,422.0 1352.4,430.5 1351.5,438.0 1349.1,449.5 1347.1,455.0 1344.2,460.5 1339.7,466.4 1334.2,471.8 1329.2,474.7 1324.2,476.0" fill="none" stroke="#8a8a8a" stroke-width="0.9"/>
<path d="M1321.7,474.5 1313.2,473.5 1307.2,470.8 1303.7,467.5 1293.7,455.6 1289.7,451.6 1279.7,443.6 1271.7,439.3 1264.2,433.6 1260.7,433.4 1248.2,437.4 1243.7,438.1 1237.2,436.9 1227.2,433.1 1223.8,430.0 1221.7,425.5 1221.3,420.5 1222.7,416.5 1226.7,412.3 1232.7,409.7 1247.7,408.3 1256.7,409.0 1260.2,408.2 1269.7,401.5 1283.7,392.8 1308.2,379.1 1312.7,377.0 1317.2,375.9 1321.7,375.7 1325.7,376.4 1329.7,378.1 1335.2,382.3 1339.8,387.0 1343.0,392.0 1346.5,399.5 1349.1,407.0 1350.9,415.5 1351.6,423.0 1351.4,431.5 1350.1,440.5 1348.0,449.5 1345.7,455.5 1342.5,461.0 1337.2,467.3 1332.2,471.6 1327.2,473.8 1321.7,474.5" fill="none" stroke="#898989" stroke-width="0.9"/>
<path d="M1325.2,472.6 1319.7,472.9 1314.2,472.2 1310.2,470.8 1306.7,468.5 1290.7,449.8 1280.7,441.4 1273.2,436.4 1269.7,433.0 1265.8,427.0 1263.5,418.0 1264.1,414.5 1267.2,409.0 1270.5,405.0 1275.4,401.0 1308.7,380.9 1314.2,378.5 1319.2,377.6 1324.7,378.0 1329.2,379.7 1335.2,384.2 1339.7,389.0 1343.5,395.5 1347.1,404.0 1349.5,412.5 1350.5,420.0 1350.6,429.0 1349.6,437.5 1347.5,447.5 1344.9,454.5 1340.7,461.5 1334.7,467.9 1330.2,471.0 1325.2,472.6M1243.2,435.0 1238.7,434.4 1231.7,432.3 1228.7,430.7 1226.3,428.5 1224.6,425.0 1224.2,421.5 1225.2,418.3 1227.7,415.4 1233.2,412.7 1240.2,411.9 1248.2,412.8 1250.7,413.9 1252.4,415.5 1253.9,418.0 1256.0,424.0 1256.3,427.0 1255.8,429.0 1254.0,431.0 1250.7,433.0 1246.7,434.5 1243.2,435.0" fill="none" stroke="#878787" stroke-width="0.9"/>
<path d="M1324.7,471.1 1319.7,471.4 1314.7,470.8 1310.7,469.3 1307.2,466.9 1290.7,447.0 1273.1,432.0 1270.3,427.5 1269.1,421.5 1269.3,416.0 1270.9,411.0 1273.7,406.5 1277.5,402.5 1308.7,382.9 1314.2,380.4 1319.2,379.4 1324.7,379.9 1329.2,381.7 1335.2,386.1 1339.2,390.5 1343.1,397.0 1346.4,405.0 1348.5,412.5 1349.6,420.0 1349.6,429.0 1348.6,438.0 1346.6,447.0 1343.9,454.0 1339.9,460.5 1334.2,466.6 1329.7,469.6 1324.7,471.1M1243.2,432.1 1239.7,432.0 1235.7,431.1 1232.2,429.7 1229.7,427.9 1228.0,425.5 1227.3,423.0 1227.7,420.5 1229.5,418.0 1233.2,415.8 1238.7,414.8 1243.7,415.6 1247.5,418.0 1250.3,423.0 1250.8,425.5 1250.5,427.5 1247.8,430.5 1243.2,432.1" fill="none" stroke="#858585" stroke-width="0.9"/>
<path d="M1324.2,469.6 1319.2,469.8 1314.7,469.2 1311.2,467.8 1307.7,465.2 1301.3,458.0 1291.7,445.1 1276.1,431.0 1273.4,426.5 1272.4,421.5 1272.6,416.5 1273.9,412.0 1276.3,407.5 1279.9,403.5 1283.7,400.8 1293.2,395.6 1302.7,388.5 1308.2,385.2 1314.2,382.3 1319.2,381.2 1324.2,381.6 1328.7,383.3 1334.2,387.2 1338.4,391.5 1342.1,397.5 1345.3,405.0 1347.6,412.5 1348.6,420.0 1348.6,429.5 1347.6,438.5 1345.6,447.0 1342.9,453.5 1339.2,459.5 1333.7,465.3 1329.2,468.2 1324.2,469.6M1243.2,429.1 1238.2,429.3 1233.2,427.4 1231.7,426.0 1230.7,424.0 1230.7,422.0 1231.4,420.5 1233.7,418.6 1237.2,417.5 1240.7,417.8 1243.7,419.1 1246.1,422.0 1246.8,425.0 1245.7,427.5 1243.2,429.1" fill="none" stroke="#848484" stroke-width="0.9"/>
<path d="M1324.2,468.0 1319.2,468.3 1314.7,467.5 1311.2,465.9 1307.7,463.1 1301.5,456.0 1292.7,443.3 1282.9,434.5 1278.8,430.0 1276.0,425.0 1275.1,420.0 1275.4,415.5 1276.8,411.5 1279.1,407.5 1282.0,404.5 1293.7,397.9 1303.2,390.3 1308.2,387.1 1314.2,384.0 1319.2,382.9 1323.7,383.3 1328.7,385.2 1333.7,388.6 1338.0,393.0 1341.7,399.0 1344.8,406.5 1346.9,413.5 1347.7,420.0 1347.7,429.0 1346.8,437.5 1345.0,445.5 1342.4,452.0 1338.5,458.5 1333.7,463.5 1329.2,466.6 1324.2,468.0M1240.7,426.6 1237.7,426.7 1235.2,425.6 1233.9,423.5 1234.4,421.5 1235.7,420.5 1237.7,419.9 1239.7,420.1 1241.4,421.0 1242.7,422.5 1243.0,424.0 1242.4,425.5 1240.7,426.6" fill="none" stroke="#828282" stroke-width="0.9"/>
<path d="M1323.7,466.6 1318.7,466.7 1314.7,465.8 1310.7,463.7 1307.2,460.5 1301.8,454.0 1293.7,441.5 1284.7,433.1 1281.2,429.0 1278.6,424.0 1277.6,419.0 1277.8,415.5 1279.0,412.0 1281.1,408.5 1283.5,406.0 1294.7,399.9 1303.8,392.0 1308.7,388.7 1314.7,385.6 1319.2,384.5 1323.7,385.0 1328.2,386.7 1333.2,389.9 1337.3,394.0 1341.0,400.0 1344.0,407.0 1345.9,413.5 1346.8,420.0 1346.7,429.0 1345.8,438.0 1344.0,445.5 1341.5,451.5 1337.7,457.5 1333.2,462.2 1328.7,465.2 1323.7,466.6M1238.7,423.8 1237.2,423.5 1237.4,422.5 1238.8,422.5 1239.1,423.0 1238.7,423.8" fill="none" stroke="#808080" stroke-width="0.9"/>
<path d="M1323.7,465.1 1319.2,465.2 1314.7,464.1 1311.2,462.1 1307.2,458.5 1302.4,452.5 1294.9,440.0 1283.1,427.5 1280.8,423.0 1279.9,418.5 1280.1,415.5 1281.1,412.5 1282.7,409.8 1284.9,407.5 1295.6,402.0 1304.7,393.5 1309.2,390.3 1315.2,387.1 1319.7,386.1 1324.2,386.7 1329.2,388.8 1333.7,392.0 1337.0,395.5 1340.4,401.0 1343.3,408.0 1345.1,414.0 1345.8,420.0 1345.8,429.0 1344.9,437.5 1343.4,444.0 1341.0,450.0 1337.4,456.0 1333.2,460.5 1328.7,463.6 1323.7,465.1" fill="none" stroke="#7f7f7f" stroke-width="0.9"/>
<path d="M1324.2,463.5 1319.7,463.7 1315.7,462.8 1311.7,460.6 1308.2,457.5 1303.5,451.5 1295.2,437.3 1284.7,425.6 1282.9,422.0 1282.1,418.5 1283.0,413.5 1286.2,409.2 1288.7,407.7 1296.2,404.6 1305.1,395.5 1310.2,391.6 1315.7,388.7 1319.7,387.7 1323.7,388.1 1328.7,390.1 1332.7,392.7 1336.2,396.3 1339.5,401.5 1342.3,408.0 1344.1,414.0 1344.9,419.5 1344.9,428.0 1344.2,436.0 1342.9,442.5 1340.8,448.0 1337.4,454.0 1333.5,458.5 1329.2,461.7 1324.2,463.5" fill="#000" fill-opacity="0.03" stroke="#7d7d7d" stroke-width="0.9"/>
<path d="M1324.2,462.0 1319.7,462.2 1315.7,461.2 1312.2,459.2 1308.7,456.0 1304.2,450.0 1295.2,433.6 1286.2,423.8 1284.8,421.0 1284.3,418.0 1285.1,414.0 1287.5,411.0 1290.2,409.6 1296.7,407.6 1304.6,398.5 1308.7,394.7 1315.2,390.6 1320.2,389.3 1324.2,389.8 1328.7,391.6 1332.7,394.3 1335.7,397.5 1338.8,402.5 1341.6,409.0 1343.2,414.5 1343.9,420.0 1343.3,436.0 1342.1,442.0 1340.0,447.5 1336.7,453.0 1332.7,457.6 1328.7,460.4 1324.2,462.0" fill="#000" fill-opacity="0.03" stroke="#7b7b7b" stroke-width="0.9"/>
<path d="M1324.2,460.5 1320.2,460.8 1316.2,459.8 1312.7,457.8 1309.2,454.6 1304.4,447.5 1295.7,429.6 1293.5,427.0 1288.1,422.5 1286.9,420.5 1286.3,418.0 1287.0,415.0 1288.8,413.0 1291.2,412.0 1296.2,411.7 1298.2,410.5 1304.3,401.5 1309.7,395.9 1315.7,392.1 1320.2,390.9 1324.2,391.3 1328.7,393.1 1332.2,395.4 1335.1,398.5 1337.9,403.0 1340.7,409.5 1342.3,415.0 1343.0,420.0 1342.5,435.5 1341.4,441.0 1339.6,446.0 1336.4,451.5 1332.7,455.8 1328.7,458.9 1324.2,460.5" fill="#000" fill-opacity="0.03" stroke="#7a7a7a" stroke-width="0.9"/>
<path d="M1324.2,459.0 1320.2,459.3 1316.7,458.4 1313.2,456.5 1310.1,453.5 1306.8,449.0 1303.6,443.0 1298.2,428.8 1295.7,423.6 1294.2,421.9 1289.7,420.7 1288.6,419.5 1288.2,418.0 1288.7,416.3 1290.2,415.2 1292.2,415.3 1295.2,416.8 1297.2,415.9 1300.2,412.3 1304.5,404.0 1308.7,399.0 1315.2,394.1 1320.7,392.4 1324.2,392.8 1328.2,394.3 1331.7,396.5 1334.5,399.5 1337.3,404.0 1339.9,410.0 1341.5,415.5 1342.0,420.5 1341.6,435.0 1340.5,440.5 1338.9,445.0 1336.1,450.0 1332.2,454.6 1328.2,457.5 1324.2,459.0" fill="#000" fill-opacity="0.03" stroke="#787878" stroke-width="0.9"/>
<path d="M1324.2,457.5 1320.2,457.7 1316.2,456.6 1312.7,454.3 1309.4,450.5 1306.0,445.0 1303.0,438.5 1298.8,422.5 1299.6,418.0 1304.6,407.0 1306.7,403.5 1310.2,399.6 1313.7,396.7 1317.2,394.8 1320.7,394.0 1324.2,394.3 1328.2,395.7 1331.2,397.7 1333.9,400.5 1336.4,404.5 1339.0,410.5 1340.4,415.5 1341.1,421.0 1340.8,434.5 1339.8,439.5 1338.1,444.5 1335.4,449.0 1331.7,453.3 1328.2,455.9 1324.2,457.5" fill="#000" fill-opacity="0.03" stroke="#767676" stroke-width="0.9"/>
<path d="M1323.7,456.0 1319.7,456.1 1316.2,455.0 1312.8,452.5 1309.9,449.0 1306.4,443.0 1304.2,438.0 1300.9,423.0 1302.0,417.0 1305.4,408.5 1307.7,404.5 1311.2,400.6 1314.7,397.8 1318.2,396.0 1321.2,395.5 1324.7,395.9 1328.2,397.2 1331.2,399.3 1334.0,402.5 1336.5,407.0 1338.8,413.0 1340.2,423.0 1339.8,435.0 1338.7,440.0 1336.9,444.5 1334.4,448.5 1331.2,452.0 1327.2,454.8 1323.7,456.0" fill="#000" fill-opacity="0.03" stroke="#757575" stroke-width="0.9"/>
<path d="M1323.2,454.5 1319.7,454.5 1316.2,453.3 1313.2,450.9 1310.2,447.0 1305.4,437.5 1302.4,423.0 1302.8,419.5 1303.9,416.0 1306.6,409.0 1308.6,405.5 1311.7,402.0 1315.2,399.1 1318.7,397.4 1321.7,396.9 1325.2,397.4 1328.7,399.0 1331.7,401.5 1334.0,404.5 1336.5,409.5 1338.2,414.5 1339.4,425.5 1338.6,436.5 1335.8,444.5 1333.2,448.2 1330.2,451.1 1326.7,453.3 1323.2,454.5" fill="#000" fill-opacity="0.03" stroke="#737373" stroke-width="0.9"/>
<path d="M1322.2,453.0 1318.7,452.7 1315.7,451.2 1312.9,448.5 1310.0,444.5 1306.3,436.5 1303.8,423.0 1304.1,420.0 1305.3,415.5 1307.4,410.0 1309.5,406.5 1315.7,400.4 1318.7,398.9 1321.7,398.4 1325.2,398.9 1328.7,400.6 1331.2,402.7 1333.6,406.0 1335.8,410.5 1337.4,415.5 1338.5,427.0 1337.5,437.0 1334.5,444.5 1332.2,447.5 1328.7,450.5 1325.2,452.3 1322.2,453.0" fill="#000" fill-opacity="0.03" stroke="#717171" stroke-width="0.9"/>
<path d="M1323.7,451.1 1320.2,451.3 1317.2,450.3 1314.2,448.0 1311.5,444.5 1308.9,440.0 1307.4,436.0 1305.1,423.5 1305.3,420.0 1306.4,416.0 1310.2,407.6 1316.2,401.8 1319.2,400.3 1321.7,399.9 1325.2,400.4 1328.2,401.9 1330.7,404.0 1332.9,407.0 1336.3,415.5 1337.6,426.0 1336.9,435.0 1334.4,442.5 1332.3,445.5 1329.7,448.0 1323.7,451.1" fill="#000" fill-opacity="0.03" stroke="#707070" stroke-width="0.9"/>
<path d="M1323.2,449.5 1320.2,449.6 1317.2,448.5 1314.7,446.5 1312.0,443.0 1308.4,435.5 1306.3,423.5 1307.6,416.0 1311.1,408.5 1316.7,403.1 1319.2,401.9 1321.7,401.4 1324.7,401.8 1327.7,403.2 1330.2,405.3 1332.2,408.0 1335.4,416.0 1336.7,426.5 1335.9,435.0 1333.3,442.0 1329.2,446.7 1326.2,448.5 1323.2,449.5" fill="#000" fill-opacity="0.03" stroke="#6e6e6e" stroke-width="0.9"/>
<path d="M1322.2,448.0 1319.2,447.7 1316.7,446.4 1314.2,444.0 1311.8,440.5 1309.0,433.5 1307.4,423.0 1308.7,416.0 1311.9,409.5 1317.2,404.5 1319.7,403.3 1322.2,403.0 1325.2,403.6 1327.7,404.9 1330.0,407.0 1332.0,410.0 1334.7,417.5 1335.8,428.0 1334.8,435.5 1331.9,442.0 1327.7,446.0 1322.2,448.0" fill="#000" fill-opacity="0.03" stroke="#6c6c6c" stroke-width="0.9"/>
<path d="M1323.7,446.1 1320.7,446.3 1318.2,445.5 1315.7,443.7 1313.5,441.0 1310.4,434.5 1308.6,424.5 1309.3,418.0 1312.2,411.3 1316.7,406.6 1319.2,405.2 1321.7,404.6 1324.2,404.9 1326.7,406.0 1330.7,410.0 1333.4,416.5 1334.8,426.0 1334.3,433.0 1332.0,439.5 1328.7,443.5 1323.7,446.1" fill="#000" fill-opacity="0.03" stroke="#6b6b6b" stroke-width="0.9"/>
<path d="M1323.7,444.5 1321.2,444.7 1318.7,444.1 1316.2,442.3 1314.2,440.0 1311.4,434.0 1309.6,424.5 1310.3,418.5 1312.9,412.5 1317.2,408.0 1321.7,406.3 1324.2,406.6 1326.4,407.5 1330.2,411.5 1332.6,417.5 1333.9,426.0 1333.4,432.5 1331.5,438.0 1328.2,442.1 1323.7,444.5" fill="#000" fill-opacity="0.03" stroke="#696969" stroke-width="0.9"/>
<path d="M1323.2,443.0 1320.7,443.1 1318.7,442.4 1316.7,441.0 1314.6,438.5 1312.0,432.5 1310.7,424.5 1311.4,418.5 1313.7,413.5 1317.7,409.5 1320.2,408.3 1322.2,408.0 1326.2,409.2 1329.7,413.0 1331.9,419.0 1333.0,426.5 1332.4,432.5 1330.4,437.5 1327.2,441.2 1323.2,443.0" fill="#000" fill-opacity="0.03" stroke="#676767" stroke-width="0.9"/>
<path d="M1322.7,441.6 1318.7,440.8 1315.2,437.3 1312.9,432.0 1311.7,424.5 1312.4,419.0 1314.7,414.3 1318.2,410.9 1322.2,409.6 1325.7,410.6 1328.8,414.0 1331.0,419.5 1332.1,426.5 1331.5,432.0 1329.6,436.5 1326.7,439.8 1322.7,441.6" fill="#000" fill-opacity="0.03" stroke="#666666" stroke-width="0.9"/>
<path d="M1322.7,440.1 1319.2,439.5 1316.0,436.5 1313.8,431.5 1312.7,425.0 1313.3,420.0 1315.4,415.5 1318.7,412.4 1322.2,411.3 1325.7,412.5 1328.2,415.4 1330.3,420.5 1331.1,426.5 1330.5,431.5 1328.8,435.5 1326.2,438.5 1322.7,440.1" fill="#000" fill-opacity="0.03" stroke="#646464" stroke-width="0.9"/>
<path d="M1323.2,438.5 1319.7,438.2 1317.1,436.0 1315.0,432.0 1313.8,426.0 1314.1,421.5 1315.7,417.3 1318.2,414.4 1321.7,413.0 1324.7,413.6 1327.2,416.1 1329.2,420.5 1330.2,425.5 1329.9,430.0 1328.4,434.0 1326.2,436.9 1323.2,438.5" fill="#000" fill-opacity="0.03" stroke="#626262" stroke-width="0.9"/>
<path d="M1323.2,437.0 1320.2,436.9 1317.7,434.9 1315.8,431.5 1314.8,426.5 1315.0,422.0 1316.3,418.5 1318.7,415.7 1321.7,414.5 1324.2,415.1 1326.7,417.5 1328.4,421.0 1329.2,425.5 1329.0,429.5 1327.7,433.0 1325.7,435.6 1323.2,437.0" fill="#000" fill-opacity="0.03" stroke="#616161" stroke-width="0.9"/>
<path d="M1323.2,435.6 1320.7,435.6 1318.2,433.7 1316.5,430.5 1315.7,426.5 1316.0,422.5 1317.1,419.5 1319.2,417.0 1321.7,416.1 1324.2,416.8 1326.0,418.5 1327.5,421.5 1328.3,425.0 1328.1,428.5 1327.2,431.6 1325.6,434.0 1323.2,435.6" fill="#000" fill-opacity="0.03" stroke="#5f5f5f" stroke-width="0.9"/>
<path d="M1323.2,434.1 1320.7,434.1 1318.7,432.5 1317.4,430.0 1316.7,426.5 1316.8,423.5 1317.8,420.5 1319.7,418.3 1321.7,417.6 1323.7,418.1 1325.3,419.5 1326.6,422.0 1327.3,425.0 1326.5,430.5 1325.2,432.7 1323.2,434.1" fill="#000" fill-opacity="0.03" stroke="#5d5d5d" stroke-width="0.9"/>
<path d="M1323.2,432.7 1321.2,432.8 1319.7,431.9 1318.5,430.0 1317.7,427.0 1317.7,424.0 1318.5,421.5 1319.7,420.0 1321.7,419.0 1323.2,419.3 1324.7,420.6 1326.4,425.0 1325.8,429.5 1324.7,431.5 1323.2,432.7" fill="#000" fill-opacity="0.03" stroke="#5c5c5c" stroke-width="0.9"/>
<path d="M1323.2,431.2 1321.7,431.5 1320.2,430.7 1318.6,427.0 1319.2,422.6 1320.2,421.2 1321.7,420.5 1323.2,420.8 1324.2,421.8 1325.4,425.0 1325.1,428.5 1323.2,431.2" fill="#000" fill-opacity="0.03" stroke="#5a5a5a" stroke-width="0.9"/>
<path d="M1322.2,430.0 1320.3,429.0 1319.5,426.5 1319.9,423.5 1321.7,421.9 1323.7,423.0 1324.6,425.5 1324.0,428.5 1322.2,430.0" fill="#fff" stroke="#585858" stroke-width="0.9"/>
<path d="M1322.2,428.6 1321.2,428.3 1320.4,426.5 1320.6,424.5 1321.7,423.4 1323.1,424.0 1323.6,425.5 1323.3,427.5 1322.2,428.6" fill="#fff" stroke="#575757" stroke-width="0.9"/>
<path d="M1322.2,427.1 1321.3,426.0 1321.6,425.0 1322.2,424.9 1322.7,426.0 1322.2,427.1" fill="#fff" stroke="#555555" stroke-width="0.9"/>
</g>
<rect x="1172.2" y="332" width="229.5" height="229.8" fill="none" stroke="#b0b0b0" stroke-width="1.2"/>
<line x1="1258.1" y1="332" x2="1258.1" y2="561.8" stroke="#707070" stroke-width="1.2"/>
<line x1="1172.2" y1="467.6" x2="1401.7" y2="467.6" stroke="#707070" stroke-width="1.2"/>
<line x1="1168.2" y1="352.7" x2="1172.2" y2="352.7" stroke="#999" stroke-width="1"/>
<line x1="1168.2" y1="405.8" x2="1172.2" y2="405.8" stroke="#999" stroke-width="1"/>
<line x1="1168.2" y1="461.4" x2="1172.2" y2="461.4" stroke="#999" stroke-width="1"/>
<line x1="1168.2" y1="529.6" x2="1172.2" y2="529.6" stroke="#999" stroke-width="1"/>
<line x1="1169.7" y1="389.8" x2="1172.2" y2="389.8" stroke="#aaa" stroke-width="0.8"/>
<line x1="1169.7" y1="380.5" x2="1172.2" y2="380.5" stroke="#aaa" stroke-width="0.8"/>
<line x1="1169.7" y1="373.8" x2="1172.2" y2="373.8" stroke="#aaa" stroke-width="0.8"/>
<line x1="1169.7" y1="368.7" x2="1172.2" y2="368.7" stroke="#aaa" stroke-width="0.8"/>
<line x1="1169.7" y1="364.5" x2="1172.2" y2="364.5" stroke="#aaa" stroke-width="0.8"/>
<line x1="1169.7" y1="360.9" x2="1172.2" y2="360.9" stroke="#aaa" stroke-width="0.8"/>
<line x1="1169.7" y1="357.8" x2="1172.2" y2="357.8" stroke="#aaa" stroke-width="0.8"/>
<line x1="1169.7" y1="355.1" x2="1172.2" y2="355.1" stroke="#aaa" stroke-width="0.8"/>
<line x1="1169.7" y1="444.7" x2="1172.2" y2="444.7" stroke="#aaa" stroke-width="0.8"/>
<line x1="1169.7" y1="434.9" x2="1172.2" y2="434.9" stroke="#aaa" stroke-width="0.8"/>
<line x1="1169.7" y1="427.9" x2="1172.2" y2="427.9" stroke="#aaa" stroke-width="0.8"/>
<line x1="1169.7" y1="422.5" x2="1172.2" y2="422.5" stroke="#aaa" stroke-width="0.8"/>
<line x1="1169.7" y1="418.1" x2="1172.2" y2="418.1" stroke="#aaa" stroke-width="0.8"/>
<line x1="1169.7" y1="414.4" x2="1172.2" y2="414.4" stroke="#aaa" stroke-width="0.8"/>
<line x1="1169.7" y1="411.2" x2="1172.2" y2="411.2" stroke="#aaa" stroke-width="0.8"/>
<line x1="1169.7" y1="408.3" x2="1172.2" y2="408.3" stroke="#aaa" stroke-width="0.8"/>
<line x1="1169.7" y1="337" x2="1172.2" y2="337" stroke="#aaa" stroke-width="0.8"/>
<line x1="1169.7" y1="341" x2="1172.2" y2="341" stroke="#aaa" stroke-width="0.8"/>
<line x1="1169.7" y1="344" x2="1172.2" y2="344" stroke="#aaa" stroke-width="0.8"/>
<line x1="1169.7" y1="347" x2="1172.2" y2="347" stroke="#aaa" stroke-width="0.8"/>
<line x1="1169.7" y1="350" x2="1172.2" y2="350" stroke="#aaa" stroke-width="0.8"/>
<line x1="1169.7" y1="472" x2="1172.2" y2="472" stroke="#aaa" stroke-width="0.8"/>
<line x1="1169.7" y1="484" x2="1172.2" y2="484" stroke="#aaa" stroke-width="0.8"/>
<line x1="1169.7" y1="497" x2="1172.2" y2="497" stroke="#aaa" stroke-width="0.8"/>
<line x1="1169.7" y1="507" x2="1172.2" y2="507" stroke="#aaa" stroke-width="0.8"/>
<line x1="1169.7" y1="517" x2="1172.2" y2="517" stroke="#aaa" stroke-width="0.8"/>
<line x1="1169.7" y1="522" x2="1172.2" y2="522" stroke="#aaa" stroke-width="0.8"/>
<line x1="1169.7" y1="537" x2="1172.2" y2="537" stroke="#aaa" stroke-width="0.8"/>
<line x1="1169.7" y1="544" x2="1172.2" y2="544" stroke="#aaa" stroke-width="0.8"/>
<line x1="1169.7" y1="552" x2="1172.2" y2="552" stroke="#aaa" stroke-width="0.8"/>
<rect x="1168.2" y="527.0" width="3" height="5" fill="#333"/>
<line x1="1208.3" y1="561.8" x2="1208.3" y2="566.8" stroke="#999" stroke-width="1"/>
<line x1="1271" y1="561.8" x2="1271" y2="566.8" stroke="#999" stroke-width="1"/>
<line x1="1326.3" y1="561.8" x2="1326.3" y2="566.8" stroke="#999" stroke-width="1"/>
<line x1="1379" y1="561.8" x2="1379" y2="566.8" stroke="#999" stroke-width="1"/>
<line x1="1287.6" y1="561.8" x2="1287.6" y2="564.8" stroke="#aaa" stroke-width="0.8"/>
<line x1="1297.4" y1="561.8" x2="1297.4" y2="564.8" stroke="#aaa" stroke-width="0.8"/>
<line x1="1304.3" y1="561.8" x2="1304.3" y2="564.8" stroke="#aaa" stroke-width="0.8"/>
<line x1="1309.7" y1="561.8" x2="1309.7" y2="564.8" stroke="#aaa" stroke-width="0.8"/>
<line x1="1314" y1="561.8" x2="1314" y2="564.8" stroke="#aaa" stroke-width="0.8"/>
<line x1="1317.7" y1="561.8" x2="1317.7" y2="564.8" stroke="#aaa" stroke-width="0.8"/>
<line x1="1320.9" y1="561.8" x2="1320.9" y2="564.8" stroke="#aaa" stroke-width="0.8"/>
<line x1="1323.8" y1="561.8" x2="1323.8" y2="564.8" stroke="#aaa" stroke-width="0.8"/>
<line x1="1342.2" y1="561.8" x2="1342.2" y2="564.8" stroke="#aaa" stroke-width="0.8"/>
<line x1="1351.4" y1="561.8" x2="1351.4" y2="564.8" stroke="#aaa" stroke-width="0.8"/>
<line x1="1358" y1="561.8" x2="1358" y2="564.8" stroke="#aaa" stroke-width="0.8"/>
<line x1="1363.1" y1="561.8" x2="1363.1" y2="564.8" stroke="#aaa" stroke-width="0.8"/>
<line x1="1367.3" y1="561.8" x2="1367.3" y2="564.8" stroke="#aaa" stroke-width="0.8"/>
<line x1="1370.8" y1="561.8" x2="1370.8" y2="564.8" stroke="#aaa" stroke-width="0.8"/>
<line x1="1373.9" y1="561.8" x2="1373.9" y2="564.8" stroke="#aaa" stroke-width="0.8"/>
<line x1="1376.6" y1="561.8" x2="1376.6" y2="564.8" stroke="#aaa" stroke-width="0.8"/>
<line x1="1180.2" y1="561.8" x2="1180.2" y2="564.8" stroke="#aaa" stroke-width="0.8"/>
<line x1="1188.2" y1="561.8" x2="1188.2" y2="564.8" stroke="#aaa" stroke-width="0.8"/>
<line x1="1198.2" y1="561.8" x2="1198.2" y2="564.8" stroke="#aaa" stroke-width="0.8"/>
<line x1="1202.2" y1="561.8" x2="1202.2" y2="564.8" stroke="#aaa" stroke-width="0.8"/>
<line x1="1206.2" y1="561.8" x2="1206.2" y2="564.8" stroke="#aaa" stroke-width="0.8"/>
<line x1="1212.2" y1="561.8" x2="1212.2" y2="564.8" stroke="#aaa" stroke-width="0.8"/>
<line x1="1216.2" y1="561.8" x2="1216.2" y2="564.8" stroke="#aaa" stroke-width="0.8"/>
<line x1="1222.2" y1="561.8" x2="1222.2" y2="564.8" stroke="#aaa" stroke-width="0.8"/>
<line x1="1232.2" y1="561.8" x2="1232.2" y2="564.8" stroke="#aaa" stroke-width="0.8"/>
<line x1="1242.2" y1="561.8" x2="1242.2" y2="564.8" stroke="#aaa" stroke-width="0.8"/>
<line x1="1250.2" y1="561.8" x2="1250.2" y2="564.8" stroke="#aaa" stroke-width="0.8"/>
<line x1="1257.2" y1="561.8" x2="1257.2" y2="564.8" stroke="#aaa" stroke-width="0.8"/>
<line x1="1260.2" y1="561.8" x2="1260.2" y2="564.8" stroke="#aaa" stroke-width="0.8"/>
<line x1="1264.2" y1="561.8" x2="1264.2" y2="564.8" stroke="#aaa" stroke-width="0.8"/>
<line x1="1268.2" y1="561.8" x2="1268.2" y2="564.8" stroke="#aaa" stroke-width="0.8"/>
<line x1="1387.2" y1="561.8" x2="1387.2" y2="564.8" stroke="#aaa" stroke-width="0.8"/>
<line x1="1394.2" y1="561.8" x2="1394.2" y2="564.8" stroke="#aaa" stroke-width="0.8"/>
<rect x="1207.2" y="562.8" width="3" height="4" fill="#333"/>
<text x="1178.4" y="357.5" font-size="25">4.75</text>
<text x="1346.1" y="357" font-size="25">94.8</text>
<text x="1177.6" y="551.5" font-size="25">0.30</text>
<text x="1346.1" y="551" font-size="25">0.15</text>
<clipPath id="cb13"><rect x="1486.7" y="332.0" width="229.5" height="229.8"/></clipPath>
<g clip-path="url(#cb13)" fill="none" stroke-linejoin="round">
<path d="M1634.2,473.5 1627.2,473.6 1619.7,471.7 1610.2,467.1 1602.7,461.9 1598.2,456.5 1589.1,442.0 1586.9,436.0 1585.8,428.0 1585.6,418.0 1586.7,412.5 1597.3,393.0 1599.7,389.5 1605.7,383.8 1614.2,378.6 1621.7,375.6 1629.2,374.3 1637.2,375.0 1647.7,378.5 1653.7,381.9 1660.7,388.0 1665.0,393.5 1669.9,403.0 1672.8,412.5 1673.9,419.5 1673.7,432.0 1672.5,439.0 1669.0,448.5 1663.3,457.5 1658.2,462.9 1647.7,469.4 1641.7,471.9 1634.2,473.5M1547.7,450.0 1541.7,449.1 1535.7,445.6 1532.2,440.5 1530.4,434.5 1531.3,425.5 1533.5,419.5 1535.7,416.7 1538.4,414.5 1541.2,413.1 1544.7,412.4 1548.2,412.5 1552.2,413.4 1556.2,415.2 1559.2,417.3 1561.7,420.1 1563.7,423.5 1565.6,431.0 1564.7,437.5 1561.8,442.5 1553.2,448.4 1547.7,450.0" fill="none" stroke="#8c8c8c" stroke-width="0.9"/>
<path d="M1635.2,472.0 1627.7,472.2 1620.2,470.3 1610.7,465.7 1603.7,460.5 1598.8,454.5 1590.9,441.0 1589.1,435.5 1588.1,428.5 1587.9,418.0 1588.9,412.5 1598.7,394.0 1601.3,390.0 1606.7,384.9 1614.2,380.4 1622.2,377.2 1629.2,375.9 1637.2,376.5 1647.2,379.8 1652.8,383.0 1659.7,389.0 1664.0,394.5 1668.6,403.5 1671.5,413.0 1672.6,420.0 1672.6,431.5 1671.5,438.0 1667.9,447.5 1662.3,456.5 1657.2,461.9 1647.7,467.8 1642.2,470.4 1635.2,472.0M1548.7,446.6 1543.7,446.4 1538.8,444.0 1535.7,440.5 1533.9,435.5 1534.3,427.0 1535.7,421.5 1539.2,417.4 1544.2,415.4 1550.2,415.9 1556.2,418.7 1560.2,423.1 1562.3,429.0 1562.0,434.5 1559.7,439.0 1554.2,443.9 1548.7,446.6" fill="none" stroke="#8a8a8a" stroke-width="0.9"/>
<path d="M1636.2,470.6 1628.7,470.8 1621.7,469.2 1613.2,465.4 1605.5,460.0 1600.4,454.0 1593.0,441.0 1591.0,435.5 1590.1,429.0 1589.9,418.5 1590.8,413.0 1602.5,391.0 1606.9,386.5 1613.2,382.7 1621.7,379.1 1629.2,377.5 1637.2,378.0 1646.2,380.9 1652.2,384.3 1659.2,390.5 1663.0,395.5 1667.5,404.5 1670.3,413.5 1671.4,420.5 1671.5,430.5 1670.3,437.5 1666.8,446.5 1661.5,455.0 1657.8,459.5 1653.2,462.9 1643.7,468.3 1636.2,470.6M1547.7,443.6 1544.2,443.3 1540.7,441.5 1538.2,438.5 1537.2,435.0 1537.6,427.5 1538.7,423.0 1541.2,420.0 1545.2,418.5 1550.2,419.0 1554.7,421.3 1557.8,425.0 1559.1,429.5 1558.6,434.0 1556.4,438.0 1552.2,441.8 1547.7,443.6" fill="none" stroke="#898989" stroke-width="0.9"/>
<path d="M1633.2,469.5 1626.2,469.0 1618.2,466.2 1610.2,461.7 1604.3,456.5 1600.4,451.0 1593.8,438.5 1592.3,432.5 1591.7,423.5 1591.9,417.0 1593.2,412.0 1601.5,395.5 1605.2,390.0 1609.7,386.3 1617.7,382.3 1625.2,379.8 1631.7,379.0 1638.7,379.8 1647.2,383.0 1653.2,387.0 1660.0,393.5 1664.0,400.0 1667.5,408.5 1669.7,417.5 1670.4,426.5 1669.9,434.0 1667.6,441.5 1664.1,448.5 1658.2,456.9 1653.7,460.8 1643.7,466.8 1638.7,468.7 1633.2,469.5M1548.7,440.1 1545.7,440.2 1543.2,439.1 1541.4,437.0 1540.7,434.5 1540.7,430.0 1541.8,425.5 1543.7,423.0 1546.2,422.0 1549.2,422.2 1552.2,423.7 1554.3,426.0 1555.5,429.5 1555.3,433.0 1554.0,436.0 1551.7,438.5 1548.7,440.1" fill="none" stroke="#878787" stroke-width="0.9"/>
<path d="M1634.7,468.1 1627.7,467.8 1620.7,465.7 1612.2,461.3 1606.4,456.5 1602.1,451.0 1595.5,438.5 1594.0,433.0 1593.3,425.5 1593.5,418.0 1594.9,412.5 1602.1,397.5 1606.2,391.1 1610.5,387.5 1617.2,384.2 1624.7,381.6 1631.7,380.6 1638.7,381.4 1646.2,384.2 1652.7,388.5 1659.0,394.5 1662.8,400.5 1666.0,408.0 1668.3,417.5 1669.2,426.0 1668.8,433.0 1666.7,440.0 1663.3,447.0 1657.7,455.1 1653.2,459.4 1644.2,465.0 1639.7,467.0 1634.7,468.1M1547.7,436.5 1545.2,435.5 1544.0,432.0 1545.1,428.0 1546.2,426.9 1547.7,426.4 1549.2,426.7 1550.7,427.9 1551.9,431.5 1550.6,435.0 1549.2,436.1 1547.7,436.5" fill="none" stroke="#858585" stroke-width="0.9"/>
<path d="M1635.7,466.6 1629.2,466.5 1622.2,464.7 1614.2,460.8 1608.2,456.3 1603.6,450.5 1597.2,438.5 1595.7,433.5 1594.9,426.5 1595.1,419.0 1596.4,413.0 1602.1,400.5 1606.9,392.5 1610.8,389.0 1617.2,385.8 1624.7,383.3 1631.7,382.3 1638.2,382.8 1645.2,385.3 1651.7,389.5 1658.1,395.5 1661.6,401.0 1664.6,408.0 1666.9,417.0 1668.0,425.5 1667.7,432.0 1666.0,438.5 1662.6,445.5 1657.5,453.0 1653.2,457.5 1645.2,462.8 1640.2,465.4 1635.7,466.6M1548.2,432.6 1547.4,432.0 1547.7,431.3 1548.4,431.5 1548.2,432.6" fill="none" stroke="#848484" stroke-width="0.9"/>
<path d="M1636.2,465.1 1630.2,465.2 1623.7,463.7 1615.2,459.8 1609.5,455.5 1605.0,450.0 1598.9,438.5 1597.2,433.5 1596.4,427.0 1596.6,419.5 1598.1,413.0 1602.8,402.0 1608.1,393.5 1611.7,390.2 1617.2,387.3 1624.7,384.9 1631.2,383.9 1637.7,384.3 1644.2,386.5 1650.7,390.4 1656.7,396.0 1660.5,401.5 1663.1,407.5 1665.4,416.0 1666.7,425.0 1666.5,431.5 1665.0,437.5 1661.9,444.0 1657.6,450.5 1653.7,455.0 1649.2,458.6 1641.7,463.2 1636.2,465.1" fill="none" stroke="#828282" stroke-width="0.9"/>
<path d="M1636.2,463.6 1630.2,463.7 1624.2,462.4 1616.2,458.7 1610.7,454.7 1606.1,449.0 1600.6,438.5 1598.8,433.5 1597.8,427.0 1598.1,419.5 1600.0,412.0 1603.8,403.0 1608.8,395.0 1612.5,391.5 1617.7,388.7 1624.2,386.5 1631.2,385.4 1637.2,385.7 1643.7,387.9 1650.2,391.7 1655.7,396.8 1659.3,402.0 1662.0,408.0 1664.1,416.0 1665.4,425.0 1665.3,431.0 1663.8,437.0 1661.3,442.5 1657.0,449.0 1653.1,453.5 1648.7,457.2 1641.2,461.9 1636.2,463.6" fill="none" stroke="#808080" stroke-width="0.9"/>
<path d="M1636.2,462.1 1630.2,462.2 1624.2,460.9 1616.7,457.4 1611.7,453.7 1607.2,448.0 1601.9,438.0 1600.2,433.0 1599.2,427.0 1599.5,419.5 1601.8,411.0 1605.0,403.5 1609.6,396.5 1613.2,393.0 1618.2,390.1 1624.7,387.9 1631.2,386.9 1637.2,387.2 1643.2,389.2 1649.2,392.6 1654.5,397.5 1658.1,402.5 1660.7,408.0 1662.8,416.0 1664.1,424.5 1664.0,430.5 1662.9,436.0 1660.4,441.5 1656.5,447.5 1652.2,452.4 1647.7,456.2 1641.2,460.3 1636.2,462.1" fill="none" stroke="#7f7f7f" stroke-width="0.9"/>
<path d="M1635.7,460.6 1630.2,460.8 1624.7,459.6 1617.7,456.3 1612.6,452.5 1608.3,447.0 1603.4,438.0 1601.5,432.5 1600.6,426.5 1601.0,419.5 1603.3,410.5 1605.9,404.5 1609.9,398.5 1613.8,394.5 1618.7,391.5 1624.7,389.4 1631.2,388.4 1637.2,388.7 1643.2,390.8 1648.7,393.9 1653.2,398.0 1656.9,403.0 1659.6,408.5 1661.6,416.0 1662.9,424.5 1662.8,430.5 1661.6,436.0 1659.5,440.5 1655.6,446.5 1651.2,451.5 1646.7,455.2 1640.7,458.9 1635.7,460.6" fill="#000" fill-opacity="0.03" stroke="#7d7d7d" stroke-width="0.9"/>
<path d="M1635.7,459.0 1630.7,459.3 1625.2,458.2 1618.7,455.3 1613.7,451.5 1609.7,446.5 1604.9,438.0 1603.0,432.5 1602.1,426.5 1602.3,420.0 1604.4,411.5 1606.8,405.5 1610.2,400.4 1614.5,396.0 1619.2,392.9 1624.7,390.9 1631.2,389.8 1636.7,390.1 1642.7,392.1 1647.9,395.0 1652.2,399.0 1656.0,404.0 1658.4,409.0 1660.5,416.5 1661.6,424.0 1661.5,430.0 1660.6,435.0 1658.7,439.5 1655.1,445.0 1651.2,449.7 1646.7,453.6 1640.7,457.2 1635.7,459.0" fill="#000" fill-opacity="0.03" stroke="#7b7b7b" stroke-width="0.9"/>
<path d="M1635.2,457.6 1630.2,457.8 1625.2,456.7 1619.2,453.9 1614.8,450.5 1610.4,445.0 1606.1,437.5 1604.4,432.5 1603.5,426.5 1603.8,420.0 1605.4,412.5 1607.5,407.0 1610.3,402.5 1614.7,397.8 1619.2,394.6 1624.7,392.4 1631.2,391.2 1636.7,391.6 1642.2,393.4 1647.2,396.2 1651.2,399.9 1655.0,405.0 1657.2,409.5 1659.4,417.0 1660.4,424.0 1660.3,430.0 1659.3,435.0 1657.5,439.0 1653.9,444.5 1650.1,449.0 1645.7,452.7 1640.2,455.9 1635.2,457.6" fill="#000" fill-opacity="0.03" stroke="#7a7a7a" stroke-width="0.9"/>
<path d="M1634.7,456.1 1629.7,456.2 1624.7,455.0 1619.7,452.5 1615.7,449.3 1611.2,443.6 1607.3,437.0 1605.7,432.0 1604.9,426.0 1605.2,419.5 1606.8,412.0 1608.9,407.0 1611.6,403.0 1615.7,398.9 1620.7,395.5 1625.7,393.6 1631.7,392.6 1636.7,393.0 1642.2,394.9 1646.7,397.6 1650.7,401.5 1654.1,406.0 1656.2,410.5 1658.4,418.0 1659.2,424.5 1659.0,430.5 1658.0,435.0 1656.1,439.0 1652.3,444.5 1648.7,448.6 1644.2,452.1 1639.2,454.8 1634.7,456.1" fill="#000" fill-opacity="0.03" stroke="#787878" stroke-width="0.9"/>
<path d="M1634.7,454.5 1630.2,454.7 1625.2,453.6 1620.7,451.4 1617.0,448.5 1612.5,443.0 1608.7,437.0 1607.0,432.0 1606.3,426.0 1606.5,420.0 1607.8,413.0 1609.5,408.5 1612.1,404.5 1616.2,400.3 1620.7,397.2 1626.2,394.9 1631.7,394.0 1636.7,394.5 1641.7,396.3 1645.7,398.7 1649.7,402.5 1652.8,406.5 1655.1,411.0 1657.2,418.0 1658.1,424.0 1657.9,429.5 1656.8,434.5 1654.9,438.5 1651.5,443.5 1648.0,447.5 1644.2,450.6 1639.2,453.3 1634.7,454.5" fill="#000" fill-opacity="0.03" stroke="#767676" stroke-width="0.9"/>
<path d="M1634.2,453.1 1629.7,453.1 1625.2,452.0 1621.2,450.0 1617.6,447.0 1612.7,441.0 1609.7,436.0 1608.2,431.5 1607.6,425.5 1607.8,419.5 1608.9,413.5 1610.4,409.5 1612.9,405.5 1616.9,401.5 1621.7,398.3 1626.7,396.3 1631.7,395.4 1636.2,395.8 1641.2,397.6 1645.2,400.2 1649.1,404.0 1652.1,408.0 1654.1,412.0 1656.1,418.5 1656.9,424.0 1656.7,429.5 1655.7,434.0 1653.7,438.0 1649.9,443.5 1646.7,447.0 1642.7,450.0 1638.2,452.1 1634.2,453.1" fill="#000" fill-opacity="0.03" stroke="#757575" stroke-width="0.9"/>
<path d="M1634.2,451.5 1629.7,451.5 1625.7,450.5 1622.2,448.9 1618.7,446.0 1614.0,440.5 1611.1,436.0 1609.5,431.5 1608.9,426.0 1609.0,420.0 1609.9,414.5 1611.5,410.0 1613.8,406.5 1617.7,402.6 1622.2,399.6 1626.7,397.8 1631.7,396.9 1635.7,397.2 1640.2,398.8 1644.2,401.3 1648.2,405.0 1650.9,408.5 1653.1,413.0 1655.1,419.0 1655.8,424.0 1655.6,429.0 1654.5,433.5 1652.5,437.5 1649.0,442.5 1645.7,446.2 1642.2,448.8 1638.2,450.6 1634.2,451.5" fill="#000" fill-opacity="0.03" stroke="#737373" stroke-width="0.9"/>
<path d="M1633.7,450.0 1629.2,449.8 1625.2,448.7 1621.7,446.7 1618.7,444.0 1614.5,439.0 1612.1,435.0 1610.6,430.5 1610.1,425.0 1611.0,415.0 1612.4,411.0 1614.7,407.4 1618.2,403.9 1622.2,401.2 1626.7,399.3 1631.7,398.3 1635.7,398.7 1639.7,400.2 1643.7,402.7 1647.3,406.0 1649.9,409.5 1652.2,414.0 1654.0,419.5 1654.7,424.0 1654.5,428.5 1653.3,433.0 1651.3,437.0 1647.7,442.0 1644.7,445.3 1641.2,447.8 1637.7,449.3 1633.7,450.0" fill="#000" fill-opacity="0.03" stroke="#717171" stroke-width="0.9"/>
<path d="M1633.2,448.5 1629.2,448.3 1625.2,447.1 1622.2,445.3 1618.7,442.0 1615.1,437.5 1613.0,434.0 1611.8,430.0 1611.3,424.5 1611.5,419.5 1612.3,415.0 1613.7,411.3 1615.9,408.0 1619.2,404.8 1623.2,402.3 1627.7,400.5 1632.2,399.8 1635.7,400.2 1639.7,401.8 1643.7,404.5 1646.8,407.5 1649.4,411.0 1651.5,415.5 1653.0,420.0 1653.5,424.5 1653.1,429.0 1651.9,433.0 1646.2,441.7 1643.2,444.7 1640.2,446.7 1636.7,448.0 1633.2,448.5" fill="#000" fill-opacity="0.03" stroke="#707070" stroke-width="0.9"/>
<path d="M1632.7,447.0 1628.7,446.7 1625.2,445.5 1622.2,443.5 1618.7,440.0 1614.0,433.0 1612.9,429.0 1612.4,424.0 1613.6,415.0 1615.0,411.5 1617.2,408.5 1620.2,405.7 1624.2,403.3 1628.2,401.8 1632.2,401.3 1635.7,401.7 1639.2,403.1 1642.7,405.3 1646.0,408.5 1648.5,412.0 1650.5,416.0 1651.9,420.5 1652.4,424.5 1652.0,428.5 1650.7,432.5 1645.0,441.0 1639.7,445.2 1636.2,446.5 1632.7,447.0" fill="#000" fill-opacity="0.03" stroke="#6e6e6e" stroke-width="0.9"/>
<path d="M1632.7,445.5 1629.2,445.3 1625.7,444.1 1622.7,442.1 1619.5,439.0 1616.8,435.5 1614.9,432.0 1614.0,428.5 1613.6,424.0 1614.7,415.5 1615.9,412.5 1618.0,409.5 1621.2,406.7 1624.7,404.7 1628.7,403.2 1632.2,402.7 1635.7,403.2 1638.7,404.4 1642.2,406.6 1645.2,409.4 1647.7,413.0 1649.6,417.0 1650.8,421.0 1651.2,424.5 1650.7,428.5 1649.5,432.0 1644.2,439.7 1639.2,443.8 1636.2,445.0 1632.7,445.5" fill="#000" fill-opacity="0.03" stroke="#6c6c6c" stroke-width="0.9"/>
<path d="M1632.7,444.0 1629.2,443.8 1626.2,442.8 1623.2,440.8 1620.3,438.0 1616.1,431.5 1614.7,424.0 1615.9,416.0 1618.9,410.5 1621.7,408.0 1624.7,406.2 1628.7,404.7 1632.2,404.2 1635.2,404.5 1638.2,405.6 1641.2,407.4 1644.1,410.0 1648.4,417.0 1649.9,424.0 1649.6,427.5 1648.5,431.0 1643.7,438.2 1638.7,442.3 1632.7,444.0" fill="#000" fill-opacity="0.03" stroke="#6b6b6b" stroke-width="0.9"/>
<path d="M1632.7,442.5 1629.7,442.4 1626.7,441.5 1621.2,437.2 1617.2,431.0 1615.9,424.0 1616.9,417.0 1619.8,411.5 1622.2,409.3 1625.7,407.2 1632.2,405.6 1635.2,406.0 1638.2,407.0 1643.3,411.0 1647.3,417.5 1648.7,424.0 1647.5,430.0 1643.2,436.7 1638.2,440.9 1632.7,442.5" fill="#000" fill-opacity="0.03" stroke="#696969" stroke-width="0.9"/>
<path d="M1632.7,441.0 1629.7,440.9 1627.2,440.2 1624.5,438.5 1621.8,436.0 1618.3,430.5 1617.1,424.0 1618.0,417.5 1620.8,412.5 1625.7,408.8 1629.2,407.5 1632.2,407.1 1637.7,408.2 1642.2,411.6 1646.0,417.5 1647.4,423.5 1646.4,429.0 1642.7,435.2 1638.2,439.2 1632.7,441.0" fill="#000" fill-opacity="0.03" stroke="#676767" stroke-width="0.9"/>
<path d="M1632.7,439.6 1627.7,438.8 1622.7,435.2 1619.4,430.0 1618.3,424.0 1619.2,418.0 1622.2,413.0 1626.7,409.8 1632.2,408.5 1637.2,409.5 1641.4,412.5 1644.9,418.0 1646.1,423.5 1645.0,429.0 1642.0,434.0 1637.7,437.8 1632.7,439.6" fill="#000" fill-opacity="0.03" stroke="#666666" stroke-width="0.9"/>
<path d="M1633.2,438.0 1628.7,437.7 1624.2,434.9 1620.7,430.0 1619.5,424.5 1620.3,419.0 1622.7,414.5 1626.7,411.3 1632.2,409.8 1636.7,410.7 1640.6,413.5 1643.5,418.0 1644.7,423.0 1644.0,428.0 1641.5,432.5 1637.7,436.1 1633.2,438.0" fill="#000" fill-opacity="0.03" stroke="#646464" stroke-width="0.9"/>
<path d="M1633.2,436.5 1628.7,436.2 1624.7,433.5 1621.9,429.5 1620.7,424.5 1621.5,419.5 1623.7,415.5 1627.7,412.4 1632.2,411.2 1636.2,412.0 1639.7,414.4 1642.3,418.5 1643.4,423.0 1642.7,427.5 1640.6,431.5 1637.2,434.8 1633.2,436.5" fill="#000" fill-opacity="0.03" stroke="#626262" stroke-width="0.9"/>
<path d="M1633.2,435.0 1629.2,434.8 1625.7,432.7 1623.0,429.0 1622.0,424.5 1622.7,420.0 1624.7,416.4 1628.2,413.7 1632.2,412.6 1635.7,413.2 1638.9,415.5 1641.1,419.0 1642.0,423.0 1641.5,427.0 1639.7,430.5 1636.7,433.5 1633.2,435.0" fill="#000" fill-opacity="0.03" stroke="#616161" stroke-width="0.9"/>
<path d="M1633.2,433.5 1629.7,433.4 1626.5,431.5 1624.2,428.5 1623.2,424.5 1623.9,420.5 1625.7,417.3 1628.7,415.0 1632.2,414.1 1635.2,414.6 1638.0,416.5 1639.9,419.5 1640.7,423.0 1640.3,426.5 1638.8,429.5 1636.2,432.2 1633.2,433.5" fill="#000" fill-opacity="0.03" stroke="#5f5f5f" stroke-width="0.9"/>
<path d="M1633.2,432.0 1630.2,432.0 1627.7,430.7 1625.5,428.0 1624.6,425.0 1624.9,421.5 1626.5,418.5 1628.7,416.5 1631.7,415.5 1634.2,415.7 1636.7,417.2 1638.4,419.5 1639.3,422.5 1639.2,425.5 1637.9,428.5 1635.7,430.9 1633.2,432.0" fill="#000" fill-opacity="0.03" stroke="#5d5d5d" stroke-width="0.9"/>
<path d="M1633.2,430.5 1630.7,430.6 1628.7,429.7 1626.7,427.5 1625.9,425.0 1626.0,422.5 1627.2,419.7 1629.2,417.8 1631.7,417.0 1633.7,417.1 1635.7,418.2 1637.2,420.0 1638.0,422.5 1637.9,425.0 1637.0,427.5 1635.3,429.5 1633.2,430.5" fill="#000" fill-opacity="0.03" stroke="#5c5c5c" stroke-width="0.9"/>
<path d="M1633.2,429.1 1631.2,429.2 1629.4,428.5 1628.0,427.0 1627.2,425.0 1627.3,422.5 1628.2,420.6 1629.7,419.1 1631.7,418.4 1633.7,418.7 1635.0,419.5 1636.2,421.0 1636.7,423.0 1636.1,426.5 1634.7,428.2 1633.2,429.1" fill="#000" fill-opacity="0.03" stroke="#5a5a5a" stroke-width="0.9"/>
<path d="M1633.2,427.6 1631.7,427.9 1630.2,427.4 1628.6,425.0 1628.9,422.0 1631.2,420.0 1633.7,420.3 1635.3,422.5 1635.2,425.5 1633.2,427.6" fill="#fff" stroke="#585858" stroke-width="0.9"/>
<path d="M1633.2,426.1 1631.2,426.3 1629.9,425.0 1629.9,423.0 1631.2,421.5 1632.7,421.4 1633.9,422.5 1634.2,424.5 1633.2,426.1" fill="#fff" stroke="#575757" stroke-width="0.9"/>
<path d="M1632.2,425.1 1631.0,424.0 1631.7,422.9 1632.9,423.5 1632.9,424.5 1632.2,425.1" fill="#fff" stroke="#555555" stroke-width="0.9"/>
</g>
<rect x="1486.7" y="332" width="229.5" height="229.8" fill="none" stroke="#b0b0b0" stroke-width="1.2"/>
<line x1="1572.6" y1="332" x2="1572.6" y2="561.8" stroke="#707070" stroke-width="1.2"/>
<line x1="1486.7" y1="467.6" x2="1716.2" y2="467.6" stroke="#707070" stroke-width="1.2"/>
<line x1="1482.7" y1="352.7" x2="1486.7" y2="352.7" stroke="#999" stroke-width="1"/>
<line x1="1482.7" y1="405.8" x2="1486.7" y2="405.8" stroke="#999" stroke-width="1"/>
<line x1="1482.7" y1="461.4" x2="1486.7" y2="461.4" stroke="#999" stroke-width="1"/>
<line x1="1482.7" y1="529.6" x2="1486.7" y2="529.6" stroke="#999" stroke-width="1"/>
<line x1="1484.2" y1="389.8" x2="1486.7" y2="389.8" stroke="#aaa" stroke-width="0.8"/>
<line x1="1484.2" y1="380.5" x2="1486.7" y2="380.5" stroke="#aaa" stroke-width="0.8"/>
<line x1="1484.2" y1="373.8" x2="1486.7" y2="373.8" stroke="#aaa" stroke-width="0.8"/>
<line x1="1484.2" y1="368.7" x2="1486.7" y2="368.7" stroke="#aaa" stroke-width="0.8"/>
<line x1="1484.2" y1="364.5" x2="1486.7" y2="364.5" stroke="#aaa" stroke-width="0.8"/>
<line x1="1484.2" y1="360.9" x2="1486.7" y2="360.9" stroke="#aaa" stroke-width="0.8"/>
<line x1="1484.2" y1="357.8" x2="1486.7" y2="357.8" stroke="#aaa" stroke-width="0.8"/>
<line x1="1484.2" y1="355.1" x2="1486.7" y2="355.1" stroke="#aaa" stroke-width="0.8"/>
<line x1="1484.2" y1="444.7" x2="1486.7" y2="444.7" stroke="#aaa" stroke-width="0.8"/>
<line x1="1484.2" y1="434.9" x2="1486.7" y2="434.9" stroke="#aaa" stroke-width="0.8"/>
<line x1="1484.2" y1="427.9" x2="1486.7" y2="427.9" stroke="#aaa" stroke-width="0.8"/>
<line x1="1484.2" y1="422.5" x2="1486.7" y2="422.5" stroke="#aaa" stroke-width="0.8"/>
<line x1="1484.2" y1="418.1" x2="1486.7" y2="418.1" stroke="#aaa" stroke-width="0.8"/>
<line x1="1484.2" y1="414.4" x2="1486.7" y2="414.4" stroke="#aaa" stroke-width="0.8"/>
<line x1="1484.2" y1="411.2" x2="1486.7" y2="411.2" stroke="#aaa" stroke-width="0.8"/>
<line x1="1484.2" y1="408.3" x2="1486.7" y2="408.3" stroke="#aaa" stroke-width="0.8"/>
<line x1="1484.2" y1="337" x2="1486.7" y2="337" stroke="#aaa" stroke-width="0.8"/>
<line x1="1484.2" y1="341" x2="1486.7" y2="341" stroke="#aaa" stroke-width="0.8"/>
<line x1="1484.2" y1="344" x2="1486.7" y2="344" stroke="#aaa" stroke-width="0.8"/>
<line x1="1484.2" y1="347" x2="1486.7" y2="347" stroke="#aaa" stroke-width="0.8"/>
<line x1="1484.2" y1="350" x2="1486.7" y2="350" stroke="#aaa" stroke-width="0.8"/>
<line x1="1484.2" y1="472" x2="1486.7" y2="472" stroke="#aaa" stroke-width="0.8"/>
<line x1="1484.2" y1="484" x2="1486.7" y2="484" stroke="#aaa" stroke-width="0.8"/>
<line x1="1484.2" y1="497" x2="1486.7" y2="497" stroke="#aaa" stroke-width="0.8"/>
<line x1="1484.2" y1="507" x2="1486.7" y2="507" stroke="#aaa" stroke-width="0.8"/>
<line x1="1484.2" y1="517" x2="1486.7" y2="517" stroke="#aaa" stroke-width="0.8"/>
<line x1="1484.2" y1="522" x2="1486.7" y2="522" stroke="#aaa" stroke-width="0.8"/>
<line x1="1484.2" y1="537" x2="1486.7" y2="537" stroke="#aaa" stroke-width="0.8"/>
<line x1="1484.2" y1="544" x2="1486.7" y2="544" stroke="#aaa" stroke-width="0.8"/>
<line x1="1484.2" y1="552" x2="1486.7" y2="552" stroke="#aaa" stroke-width="0.8"/>
<rect x="1482.7" y="527.0" width="3" height="5" fill="#333"/>
<line x1="1522.8" y1="561.8" x2="1522.8" y2="566.8" stroke="#999" stroke-width="1"/>
<line x1="1585.5" y1="561.8" x2="1585.5" y2="566.8" stroke="#999" stroke-width="1"/>
<line x1="1640.8" y1="561.8" x2="1640.8" y2="566.8" stroke="#999" stroke-width="1"/>
<line x1="1693.5" y1="561.8" x2="1693.5" y2="566.8" stroke="#999" stroke-width="1"/>
<line x1="1602.1" y1="561.8" x2="1602.1" y2="564.8" stroke="#aaa" stroke-width="0.8"/>
<line x1="1611.9" y1="561.8" x2="1611.9" y2="564.8" stroke="#aaa" stroke-width="0.8"/>
<line x1="1618.8" y1="561.8" x2="1618.8" y2="564.8" stroke="#aaa" stroke-width="0.8"/>
<line x1="1624.2" y1="561.8" x2="1624.2" y2="564.8" stroke="#aaa" stroke-width="0.8"/>
<line x1="1628.5" y1="561.8" x2="1628.5" y2="564.8" stroke="#aaa" stroke-width="0.8"/>
<line x1="1632.2" y1="561.8" x2="1632.2" y2="564.8" stroke="#aaa" stroke-width="0.8"/>
<line x1="1635.4" y1="561.8" x2="1635.4" y2="564.8" stroke="#aaa" stroke-width="0.8"/>
<line x1="1638.3" y1="561.8" x2="1638.3" y2="564.8" stroke="#aaa" stroke-width="0.8"/>
<line x1="1656.7" y1="561.8" x2="1656.7" y2="564.8" stroke="#aaa" stroke-width="0.8"/>
<line x1="1665.9" y1="561.8" x2="1665.9" y2="564.8" stroke="#aaa" stroke-width="0.8"/>
<line x1="1672.5" y1="561.8" x2="1672.5" y2="564.8" stroke="#aaa" stroke-width="0.8"/>
<line x1="1677.6" y1="561.8" x2="1677.6" y2="564.8" stroke="#aaa" stroke-width="0.8"/>
<line x1="1681.8" y1="561.8" x2="1681.8" y2="564.8" stroke="#aaa" stroke-width="0.8"/>
<line x1="1685.3" y1="561.8" x2="1685.3" y2="564.8" stroke="#aaa" stroke-width="0.8"/>
<line x1="1688.4" y1="561.8" x2="1688.4" y2="564.8" stroke="#aaa" stroke-width="0.8"/>
<line x1="1691.1" y1="561.8" x2="1691.1" y2="564.8" stroke="#aaa" stroke-width="0.8"/>
<line x1="1494.7" y1="561.8" x2="1494.7" y2="564.8" stroke="#aaa" stroke-width="0.8"/>
<line x1="1502.7" y1="561.8" x2="1502.7" y2="564.8" stroke="#aaa" stroke-width="0.8"/>
<line x1="1512.7" y1="561.8" x2="1512.7" y2="564.8" stroke="#aaa" stroke-width="0.8"/>
<line x1="1516.7" y1="561.8" x2="1516.7" y2="564.8" stroke="#aaa" stroke-width="0.8"/>
<line x1="1520.7" y1="561.8" x2="1520.7" y2="564.8" stroke="#aaa" stroke-width="0.8"/>
<line x1="1526.7" y1="561.8" x2="1526.7" y2="564.8" stroke="#aaa" stroke-width="0.8"/>
<line x1="1530.7" y1="561.8" x2="1530.7" y2="564.8" stroke="#aaa" stroke-width="0.8"/>
<line x1="1536.7" y1="561.8" x2="1536.7" y2="564.8" stroke="#aaa" stroke-width="0.8"/>
<line x1="1546.7" y1="561.8" x2="1546.7" y2="564.8" stroke="#aaa" stroke-width="0.8"/>
<line x1="1556.7" y1="561.8" x2="1556.7" y2="564.8" stroke="#aaa" stroke-width="0.8"/>
<line x1="1564.7" y1="561.8" x2="1564.7" y2="564.8" stroke="#aaa" stroke-width="0.8"/>
<line x1="1571.7" y1="561.8" x2="1571.7" y2="564.8" stroke="#aaa" stroke-width="0.8"/>
<line x1="1574.7" y1="561.8" x2="1574.7" y2="564.8" stroke="#aaa" stroke-width="0.8"/>
<line x1="1578.7" y1="561.8" x2="1578.7" y2="564.8" stroke="#aaa" stroke-width="0.8"/>
<line x1="1582.7" y1="561.8" x2="1582.7" y2="564.8" stroke="#aaa" stroke-width="0.8"/>
<line x1="1701.7" y1="561.8" x2="1701.7" y2="564.8" stroke="#aaa" stroke-width="0.8"/>
<line x1="1708.7" y1="561.8" x2="1708.7" y2="564.8" stroke="#aaa" stroke-width="0.8"/>
<rect x="1521.7" y="562.8" width="3" height="4" fill="#333"/>
<text x="1491.7" y="358" font-size="25">3.36</text>
<text x="1659.5" y="357" font-size="25">96.6</text>
<text x="1493.6" y="552" font-size="25">0</text>
<text x="1689" y="552" font-size="25">0</text>
<clipPath id="cb20"><rect x="548.2" y="610.2" width="229.5" height="229.8"/></clipPath>
<g clip-path="url(#cb20)" fill="none" stroke-linejoin="round">
<path d="M663.2,749.2 657.2,749.3 651.7,748.3 643.7,745.5 638.2,742.2 633.4,737.7 629.1,731.7 626.3,725.7 625.1,719.7 625.1,712.7 626.3,704.7 628.4,698.7 631.5,693.7 637.7,687.1 643.2,682.9 649.2,680.2 655.7,678.9 664.7,678.7 672.2,679.8 679.2,682.5 686.2,687.0 690.4,690.7 693.7,695.7 696.7,702.7 698.2,709.7 698.1,716.7 696.0,724.7 693.1,730.7 688.4,737.2 683.7,741.4 676.2,745.8 670.2,748.0 663.2,749.2" fill="none" stroke="#8c8c8c" stroke-width="0.9"/>
<path d="M662.2,748.2 656.2,748.1 650.7,746.9 643.2,744.1 638.2,740.9 633.4,736.2 629.6,730.7 627.2,725.2 626.1,719.2 626.1,712.2 627.3,704.7 629.3,699.2 632.4,694.2 638.2,688.0 643.7,683.8 649.7,681.1 656.7,679.8 665.7,679.8 672.2,680.8 678.7,683.4 685.7,687.9 689.9,691.7 693.3,697.2 696.0,703.7 697.3,710.7 697.0,717.2 694.9,724.7 691.6,731.2 687.2,737.0 682.2,741.1 674.7,745.2 669.2,747.2 662.2,748.2" fill="none" stroke="#8a8a8a" stroke-width="0.9"/>
<path d="M661.2,747.2 654.7,746.8 646.7,744.5 641.2,741.8 636.2,737.7 631.7,732.2 628.6,726.2 627.1,719.7 627.0,713.2 628.3,705.2 630.7,698.7 634.0,693.7 640.2,687.5 645.2,684.1 650.7,681.8 657.2,680.8 665.7,680.8 671.7,681.7 677.2,683.7 683.7,687.7 688.7,691.9 692.0,696.7 694.6,702.7 696.1,708.7 696.3,714.2 695.2,720.2 692.9,726.7 689.3,732.7 685.5,737.2 680.2,741.1 672.7,744.9 667.2,746.5 661.2,747.2" fill="none" stroke="#898989" stroke-width="0.9"/>
<path d="M665.7,745.7 659.7,746.2 654.2,745.5 647.2,743.5 641.7,740.9 637.1,737.2 632.9,732.2 630.1,727.2 628.5,722.2 627.9,716.2 628.5,709.2 629.9,703.2 632.4,697.7 636.2,692.7 642.2,687.2 647.2,684.2 652.7,682.3 660.2,681.7 668.2,682.1 673.7,683.4 679.2,685.9 685.3,690.2 689.2,694.2 692.8,700.7 694.8,707.2 695.3,713.7 694.3,719.7 691.7,726.7 687.7,733.2 683.7,737.4 678.2,741.0 671.7,744.2 665.7,745.7" fill="none" stroke="#878787" stroke-width="0.9"/>
<path d="M665.2,744.8 659.7,745.1 654.2,744.4 647.2,742.4 642.2,739.9 637.7,736.3 633.7,731.6 630.9,726.7 629.4,721.7 628.9,715.7 629.4,709.2 631.0,703.2 633.5,697.7 637.2,693.1 642.7,688.1 647.7,685.0 652.7,683.3 659.7,682.7 667.7,683.0 673.2,684.3 678.2,686.5 684.2,690.7 688.2,694.7 691.7,700.7 693.8,707.2 694.3,713.2 693.4,719.2 690.8,726.2 686.7,732.7 682.9,736.7 677.7,740.1 671.2,743.2 665.2,744.8" fill="none" stroke="#858585" stroke-width="0.9"/>
<path d="M665.2,743.7 659.7,744.0 654.2,743.3 647.7,741.5 642.7,739.0 638.2,735.3 634.3,730.7 631.8,726.2 630.4,721.2 629.8,715.2 630.4,709.2 632.0,703.2 634.4,698.2 638.2,693.4 643.7,688.6 648.2,685.9 653.2,684.3 659.7,683.7 667.7,684.0 673.2,685.3 677.7,687.4 683.7,691.6 687.7,695.7 690.8,701.2 692.7,707.2 693.3,713.2 692.4,719.2 689.9,725.7 686.2,731.7 682.5,735.7 677.7,739.0 670.7,742.4 665.2,743.7" fill="none" stroke="#848484" stroke-width="0.9"/>
<path d="M665.2,742.7 660.2,743.0 654.7,742.3 648.2,740.5 643.7,738.3 639.2,734.8 635.6,730.7 633.0,726.2 631.4,721.2 630.8,715.7 631.3,709.7 632.9,703.7 635.2,698.7 638.7,694.3 643.7,689.8 648.2,687.0 653.2,685.3 659.2,684.6 667.2,685.0 672.2,686.1 677.2,688.3 682.7,692.2 686.7,696.2 689.9,701.7 691.7,707.2 692.3,713.2 691.5,718.7 689.0,725.2 685.3,731.2 681.7,735.0 677.2,738.1 670.7,741.3 665.2,742.7" fill="none" stroke="#828282" stroke-width="0.9"/>
<path d="M665.2,741.7 660.2,742.0 654.7,741.3 648.7,739.6 644.2,737.4 639.7,733.8 636.2,729.7 633.9,725.7 632.3,720.7 631.7,715.7 632.2,710.2 633.9,703.7 636.0,699.2 639.6,694.7 644.2,690.6 648.7,687.9 653.7,686.2 659.2,685.6 666.7,685.9 671.7,687.0 676.2,688.9 681.7,692.7 686.1,697.2 688.8,701.7 690.6,707.2 691.2,713.2 690.4,718.7 688.4,724.2 684.7,730.2 681.2,734.1 677.2,737.0 670.7,740.2 665.2,741.7" fill="none" stroke="#808080" stroke-width="0.9"/>
<path d="M665.2,740.7 660.2,741.0 655.2,740.3 649.2,738.6 644.7,736.4 640.6,733.2 637.1,729.2 634.8,725.2 633.3,720.2 632.7,715.2 633.1,710.2 634.9,703.7 637.1,699.2 640.7,694.9 645.2,691.1 649.7,688.5 654.2,687.1 659.7,686.6 666.7,687.0 671.7,688.0 676.2,690.0 681.2,693.7 685.2,697.8 687.9,702.2 689.5,707.2 690.1,712.7 689.5,718.2 687.5,723.7 684.2,729.2 680.7,733.2 676.7,736.2 670.2,739.4 665.2,740.7" fill="none" stroke="#7f7f7f" stroke-width="0.9"/>
<path d="M664.7,739.8 659.7,739.9 654.2,739.1 649.2,737.5 644.7,735.2 640.7,731.8 637.7,728.2 635.5,724.2 634.1,719.2 633.6,714.7 634.1,709.7 635.7,704.2 637.9,699.7 641.2,695.7 645.7,691.9 650.2,689.4 654.7,688.0 660.2,687.5 666.7,688.0 671.7,689.1 675.7,690.9 680.7,694.7 684.5,698.7 686.9,702.7 688.5,707.7 689.1,713.2 688.3,718.7 686.4,723.7 683.0,729.2 679.7,732.8 675.2,736.0 669.7,738.5 664.7,739.8" fill="#000" fill-opacity="0.03" stroke="#7d7d7d" stroke-width="0.9"/>
<path d="M664.7,738.8 659.7,738.9 654.2,738.0 649.2,736.4 645.2,734.2 641.5,731.2 638.3,727.2 636.3,723.2 635.0,718.7 634.6,714.2 635.1,709.7 636.7,704.2 639.1,699.7 642.2,696.0 646.2,692.7 650.2,690.4 654.7,689.0 659.7,688.5 666.2,688.9 671.2,690.0 675.2,691.8 679.7,695.2 683.7,699.5 686.2,703.7 687.5,708.2 688.0,713.2 687.4,718.2 685.5,723.2 682.5,728.2 679.2,731.9 675.2,734.9 669.7,737.5 664.7,738.8" fill="#000" fill-opacity="0.03" stroke="#7b7b7b" stroke-width="0.9"/>
<path d="M664.7,737.8 660.2,738.0 654.7,737.1 649.7,735.5 645.7,733.3 642.2,730.4 639.5,727.2 637.4,723.2 636.0,718.7 635.5,714.7 635.9,710.2 637.3,705.2 639.5,700.7 642.3,697.2 646.2,693.9 650.2,691.5 654.7,690.0 659.7,689.5 665.7,689.8 670.2,690.7 674.2,692.4 678.7,695.7 682.5,699.7 685.0,703.7 686.4,708.2 686.9,713.2 686.3,718.2 684.4,723.2 681.7,727.6 678.5,731.2 674.7,734.0 669.7,736.5 664.7,737.8" fill="#000" fill-opacity="0.03" stroke="#7a7a7a" stroke-width="0.9"/>
<path d="M664.7,736.8 660.2,737.0 655.2,736.2 650.2,734.6 646.2,732.4 643.0,729.7 640.1,726.2 638.1,722.2 636.9,718.2 636.4,714.2 636.9,709.7 638.5,704.7 640.7,700.7 643.7,697.2 647.2,694.3 651.2,692.2 655.2,690.9 660.2,690.4 665.7,690.8 670.2,691.8 674.2,693.6 678.2,696.7 681.9,700.7 684.0,704.2 685.4,708.7 685.8,713.7 685.2,718.2 683.6,722.7 681.2,726.7 677.7,730.6 674.2,733.2 669.7,735.4 664.7,736.8" fill="#000" fill-opacity="0.03" stroke="#787878" stroke-width="0.9"/>
<path d="M664.7,735.8 660.2,736.0 655.7,735.3 651.2,733.9 647.2,731.8 644.0,729.2 641.4,726.2 639.4,722.7 637.9,718.2 637.4,714.2 637.8,710.2 639.1,705.7 641.2,701.6 643.7,698.5 647.2,695.5 651.2,693.2 655.2,691.9 659.7,691.4 664.7,691.6 669.2,692.5 673.2,694.2 677.2,697.2 680.5,700.7 683.0,704.7 684.3,708.7 684.8,713.2 684.3,717.7 683.0,721.7 680.3,726.2 677.2,729.7 673.7,732.4 669.2,734.6 664.7,735.8" fill="#000" fill-opacity="0.03" stroke="#767676" stroke-width="0.9"/>
<path d="M664.7,734.8 660.7,735.0 656.2,734.4 651.7,732.9 647.7,730.8 644.5,728.2 642.0,725.2 640.1,721.7 638.8,717.7 638.3,714.2 638.7,710.2 639.9,706.2 642.0,702.2 644.3,699.2 647.7,696.3 651.2,694.3 655.2,692.9 659.7,692.3 664.7,692.6 669.2,693.6 672.7,695.1 676.2,697.7 679.5,701.2 681.8,704.7 683.2,708.7 683.7,712.7 683.3,717.2 682.1,721.2 679.8,725.2 676.7,728.8 673.2,731.5 669.2,733.5 664.7,734.8" fill="#000" fill-opacity="0.03" stroke="#757575" stroke-width="0.9"/>
<path d="M664.7,733.7 660.7,734.0 656.7,733.5 652.2,732.0 648.2,729.9 645.2,727.4 642.9,724.7 641.0,721.2 639.7,717.2 639.3,713.7 639.8,709.7 641.1,705.7 643.1,702.2 645.7,699.2 648.7,696.8 652.2,694.9 655.7,693.8 659.7,693.3 664.7,693.6 668.7,694.5 672.2,696.0 675.8,698.7 679.0,702.2 681.0,705.7 682.2,709.2 682.6,713.2 682.3,717.2 681.0,721.2 679.0,724.7 676.2,727.9 672.7,730.7 668.7,732.6 664.7,733.7" fill="#000" fill-opacity="0.03" stroke="#737373" stroke-width="0.9"/>
<path d="M664.7,732.7 661.2,733.0 657.2,732.6 653.2,731.3 649.2,729.3 646.2,726.9 643.9,724.2 641.9,720.7 640.7,717.2 640.3,713.7 640.6,710.2 641.9,706.2 643.6,703.2 648.7,698.0 652.2,696.0 655.7,694.8 659.7,694.2 664.2,694.5 668.2,695.3 671.7,696.9 674.8,699.2 677.7,702.3 679.8,705.7 681.1,709.2 681.6,713.2 681.2,717.2 680.1,720.7 678.1,724.2 675.2,727.5 672.2,729.8 668.7,731.5 664.7,732.7" fill="#000" fill-opacity="0.03" stroke="#717171" stroke-width="0.9"/>
<path d="M664.2,731.8 660.7,732.0 656.7,731.4 652.7,730.0 649.2,728.0 644.5,723.2 642.6,719.7 641.5,716.2 641.2,713.2 641.7,709.7 644.8,703.2 650.2,698.2 656.7,695.5 660.7,695.2 664.7,695.5 671.2,697.8 674.4,700.2 677.1,703.2 679.1,706.7 680.2,710.2 680.6,713.7 680.0,717.7 678.7,721.2 676.8,724.2 674.2,727.0 671.2,729.2 664.2,731.8" fill="#000" fill-opacity="0.03" stroke="#707070" stroke-width="0.9"/>
<path d="M664.2,730.7 660.7,731.0 657.2,730.4 650.2,727.4 645.4,722.7 642.5,716.2 642.6,710.2 645.2,704.2 650.2,699.3 656.7,696.5 664.2,696.4 670.7,698.7 676.2,703.7 678.0,706.7 679.2,710.2 679.5,713.7 679.1,717.2 676.3,723.2 671.2,728.0 667.7,729.7 664.2,730.7" fill="#000" fill-opacity="0.03" stroke="#6e6e6e" stroke-width="0.9"/>
<path d="M663.7,729.8 657.2,729.4 650.7,726.4 646.0,721.7 643.5,715.7 643.7,709.7 646.4,704.2 651.2,699.8 657.2,697.4 664.2,697.3 670.2,699.5 673.2,701.9 675.6,704.7 677.3,707.7 678.2,710.7 678.5,713.7 678.0,717.2 675.2,722.9 670.2,727.4 663.7,729.8" fill="#000" fill-opacity="0.03" stroke="#6c6c6c" stroke-width="0.9"/>
<path d="M663.7,728.7 657.7,728.4 651.2,725.5 646.9,721.2 644.5,715.7 644.5,710.2 646.9,705.2 651.7,700.7 657.2,698.4 663.7,698.2 669.7,700.4 674.7,705.1 677.2,710.7 677.0,716.7 674.5,722.2 669.7,726.5 663.7,728.7" fill="#000" fill-opacity="0.03" stroke="#6b6b6b" stroke-width="0.9"/>
<path d="M663.2,727.7 657.7,727.3 651.7,724.5 647.5,720.2 645.4,715.2 645.5,710.2 648.1,705.2 652.7,701.2 657.7,699.3 663.7,699.2 669.2,701.3 673.7,705.4 676.1,710.7 676.1,716.2 673.5,721.7 668.7,725.9 663.2,727.7" fill="#000" fill-opacity="0.03" stroke="#696969" stroke-width="0.9"/>
<path d="M663.2,726.7 658.2,726.4 652.7,724.0 648.7,720.2 646.4,715.2 646.4,710.7 648.5,706.2 652.7,702.4 657.7,700.3 663.2,700.1 668.7,702.1 672.7,705.8 675.0,710.7 675.0,716.2 672.7,721.1 668.2,725.0 663.2,726.7" fill="#000" fill-opacity="0.03" stroke="#676767" stroke-width="0.9"/>
<path d="M662.7,725.7 657.7,725.2 652.7,722.7 649.3,719.2 647.3,714.7 647.5,710.2 649.7,706.2 653.7,702.9 658.7,701.1 664.2,701.3 668.7,703.3 672.5,707.2 674.1,711.7 673.9,716.2 671.7,720.7 667.7,724.1 662.7,725.7" fill="#000" fill-opacity="0.03" stroke="#666666" stroke-width="0.9"/>
<path d="M662.2,724.7 657.7,724.1 653.2,721.8 649.8,718.2 648.2,714.2 648.5,710.2 650.7,706.5 654.7,703.5 659.2,702.1 664.2,702.4 668.2,704.2 671.6,707.7 673.1,711.7 672.8,716.2 670.7,720.2 666.7,723.5 662.2,724.7" fill="#000" fill-opacity="0.03" stroke="#646464" stroke-width="0.9"/>
<path d="M661.7,723.7 657.7,723.0 653.4,720.7 650.4,717.2 649.2,713.7 649.5,710.2 651.7,706.8 655.2,704.3 659.7,703.1 664.2,703.5 667.8,705.2 670.6,708.2 672.0,712.2 671.5,716.7 669.4,720.2 665.7,722.8 661.7,723.7" fill="#000" fill-opacity="0.03" stroke="#626262" stroke-width="0.9"/>
<path d="M664.2,722.3 660.7,722.6 657.2,721.8 653.7,719.6 651.2,716.7 650.1,713.7 650.3,710.7 652.1,707.7 654.7,705.7 658.7,704.3 663.2,704.3 667.2,706.0 670.0,709.2 671.0,713.2 670.1,717.2 667.7,720.4 664.2,722.3" fill="#000" fill-opacity="0.03" stroke="#616161" stroke-width="0.9"/>
<path d="M663.7,721.4 660.7,721.6 657.2,720.7 654.2,718.7 652.1,716.2 651.1,713.7 651.2,711.2 652.5,708.7 654.7,706.9 658.7,705.3 662.7,705.3 666.2,706.7 668.7,709.2 669.9,712.7 669.4,716.2 667.2,719.4 663.7,721.4" fill="#000" fill-opacity="0.03" stroke="#5f5f5f" stroke-width="0.9"/>
<path d="M663.7,720.3 661.2,720.6 658.7,720.2 656.2,718.9 653.7,716.7 652.5,714.7 652.0,712.2 652.6,710.2 653.8,708.7 657.2,706.9 661.2,706.3 664.7,707.1 667.2,709.0 668.7,712.2 668.4,715.7 666.7,718.4 663.7,720.3" fill="#000" fill-opacity="0.03" stroke="#5d5d5d" stroke-width="0.9"/>
<path d="M663.2,719.4 661.2,719.6 658.7,719.1 654.7,716.2 652.9,712.7 653.1,711.2 654.2,709.7 657.2,708.0 660.7,707.4 663.7,707.9 666.2,709.5 667.6,712.2 667.5,715.2 666.0,717.7 663.2,719.4" fill="#000" fill-opacity="0.03" stroke="#5c5c5c" stroke-width="0.9"/>
<path d="M663.2,718.3 660.2,718.4 657.2,716.9 654.2,713.5 654.2,711.1 656.2,709.7 659.7,708.6 662.2,708.7 664.7,709.7 666.3,711.7 666.6,714.2 665.5,716.7 663.2,718.3" fill="#000" fill-opacity="0.03" stroke="#5a5a5a" stroke-width="0.9"/>
<path d="M662.7,717.4 660.7,717.4 658.7,716.6 655.2,712.7 655.1,711.7 660.7,709.8 664.1,710.7 665.3,712.2 665.5,714.2 664.6,716.2 662.7,717.4" fill="#fff" stroke="#585858" stroke-width="0.9"/>
<path d="M662.7,716.3 660.7,716.3 659.0,715.2 658.3,713.2 659.3,711.7 661.7,711.0 664.0,712.2 664.3,714.7 662.7,716.3" fill="#fff" stroke="#575757" stroke-width="0.9"/>
<path d="M662.2,715.4 660.9,715.2 660.1,714.2 660.2,713.2 661.2,712.4 662.2,712.3 663.3,713.2 663.2,714.7 662.2,715.4" fill="#fff" stroke="#555555" stroke-width="0.9"/>
</g>
<rect x="548.2" y="610.2" width="229.5" height="229.8" fill="none" stroke="#b0b0b0" stroke-width="1.2"/>
<line x1="634.1" y1="610.2" x2="634.1" y2="840" stroke="#707070" stroke-width="1.2"/>
<line x1="548.2" y1="745.8" x2="777.7" y2="745.8" stroke="#707070" stroke-width="1.2"/>
<line x1="544.2" y1="630.9" x2="548.2" y2="630.9" stroke="#999" stroke-width="1"/>
<line x1="544.2" y1="684" x2="548.2" y2="684" stroke="#999" stroke-width="1"/>
<line x1="544.2" y1="739.6" x2="548.2" y2="739.6" stroke="#999" stroke-width="1"/>
<line x1="544.2" y1="807.8" x2="548.2" y2="807.8" stroke="#999" stroke-width="1"/>
<line x1="545.7" y1="668" x2="548.2" y2="668" stroke="#aaa" stroke-width="0.8"/>
<line x1="545.7" y1="658.7" x2="548.2" y2="658.7" stroke="#aaa" stroke-width="0.8"/>
<line x1="545.7" y1="652" x2="548.2" y2="652" stroke="#aaa" stroke-width="0.8"/>
<line x1="545.7" y1="646.9" x2="548.2" y2="646.9" stroke="#aaa" stroke-width="0.8"/>
<line x1="545.7" y1="642.7" x2="548.2" y2="642.7" stroke="#aaa" stroke-width="0.8"/>
<line x1="545.7" y1="639.1" x2="548.2" y2="639.1" stroke="#aaa" stroke-width="0.8"/>
<line x1="545.7" y1="636" x2="548.2" y2="636" stroke="#aaa" stroke-width="0.8"/>
<line x1="545.7" y1="633.3" x2="548.2" y2="633.3" stroke="#aaa" stroke-width="0.8"/>
<line x1="545.7" y1="722.9" x2="548.2" y2="722.9" stroke="#aaa" stroke-width="0.8"/>
<line x1="545.7" y1="713.1" x2="548.2" y2="713.1" stroke="#aaa" stroke-width="0.8"/>
<line x1="545.7" y1="706.1" x2="548.2" y2="706.1" stroke="#aaa" stroke-width="0.8"/>
<line x1="545.7" y1="700.7" x2="548.2" y2="700.7" stroke="#aaa" stroke-width="0.8"/>
<line x1="545.7" y1="696.3" x2="548.2" y2="696.3" stroke="#aaa" stroke-width="0.8"/>
<line x1="545.7" y1="692.6" x2="548.2" y2="692.6" stroke="#aaa" stroke-width="0.8"/>
<line x1="545.7" y1="689.4" x2="548.2" y2="689.4" stroke="#aaa" stroke-width="0.8"/>
<line x1="545.7" y1="686.5" x2="548.2" y2="686.5" stroke="#aaa" stroke-width="0.8"/>
<line x1="545.7" y1="615.2" x2="548.2" y2="615.2" stroke="#aaa" stroke-width="0.8"/>
<line x1="545.7" y1="619.2" x2="548.2" y2="619.2" stroke="#aaa" stroke-width="0.8"/>
<line x1="545.7" y1="622.2" x2="548.2" y2="622.2" stroke="#aaa" stroke-width="0.8"/>
<line x1="545.7" y1="625.2" x2="548.2" y2="625.2" stroke="#aaa" stroke-width="0.8"/>
<line x1="545.7" y1="628.2" x2="548.2" y2="628.2" stroke="#aaa" stroke-width="0.8"/>
<line x1="545.7" y1="750.2" x2="548.2" y2="750.2" stroke="#aaa" stroke-width="0.8"/>
<line x1="545.7" y1="762.2" x2="548.2" y2="762.2" stroke="#aaa" stroke-width="0.8"/>
<line x1="545.7" y1="775.2" x2="548.2" y2="775.2" stroke="#aaa" stroke-width="0.8"/>
<line x1="545.7" y1="785.2" x2="548.2" y2="785.2" stroke="#aaa" stroke-width="0.8"/>
<line x1="545.7" y1="795.2" x2="548.2" y2="795.2" stroke="#aaa" stroke-width="0.8"/>
<line x1="545.7" y1="800.2" x2="548.2" y2="800.2" stroke="#aaa" stroke-width="0.8"/>
<line x1="545.7" y1="815.2" x2="548.2" y2="815.2" stroke="#aaa" stroke-width="0.8"/>
<line x1="545.7" y1="822.2" x2="548.2" y2="822.2" stroke="#aaa" stroke-width="0.8"/>
<line x1="545.7" y1="830.2" x2="548.2" y2="830.2" stroke="#aaa" stroke-width="0.8"/>
<rect x="544.2" y="805.2" width="3" height="5" fill="#333"/>
<line x1="584.3" y1="840" x2="584.3" y2="845" stroke="#999" stroke-width="1"/>
<line x1="647" y1="840" x2="647" y2="845" stroke="#999" stroke-width="1"/>
<line x1="702.3" y1="840" x2="702.3" y2="845" stroke="#999" stroke-width="1"/>
<line x1="755" y1="840" x2="755" y2="845" stroke="#999" stroke-width="1"/>
<line x1="663.6" y1="840" x2="663.6" y2="843" stroke="#aaa" stroke-width="0.8"/>
<line x1="673.4" y1="840" x2="673.4" y2="843" stroke="#aaa" stroke-width="0.8"/>
<line x1="680.3" y1="840" x2="680.3" y2="843" stroke="#aaa" stroke-width="0.8"/>
<line x1="685.7" y1="840" x2="685.7" y2="843" stroke="#aaa" stroke-width="0.8"/>
<line x1="690" y1="840" x2="690" y2="843" stroke="#aaa" stroke-width="0.8"/>
<line x1="693.7" y1="840" x2="693.7" y2="843" stroke="#aaa" stroke-width="0.8"/>
<line x1="696.9" y1="840" x2="696.9" y2="843" stroke="#aaa" stroke-width="0.8"/>
<line x1="699.8" y1="840" x2="699.8" y2="843" stroke="#aaa" stroke-width="0.8"/>
<line x1="718.2" y1="840" x2="718.2" y2="843" stroke="#aaa" stroke-width="0.8"/>
<line x1="727.4" y1="840" x2="727.4" y2="843" stroke="#aaa" stroke-width="0.8"/>
<line x1="734" y1="840" x2="734" y2="843" stroke="#aaa" stroke-width="0.8"/>
<line x1="739.1" y1="840" x2="739.1" y2="843" stroke="#aaa" stroke-width="0.8"/>
<line x1="743.3" y1="840" x2="743.3" y2="843" stroke="#aaa" stroke-width="0.8"/>
<line x1="746.8" y1="840" x2="746.8" y2="843" stroke="#aaa" stroke-width="0.8"/>
<line x1="749.9" y1="840" x2="749.9" y2="843" stroke="#aaa" stroke-width="0.8"/>
<line x1="752.6" y1="840" x2="752.6" y2="843" stroke="#aaa" stroke-width="0.8"/>
<line x1="556.2" y1="840" x2="556.2" y2="843" stroke="#aaa" stroke-width="0.8"/>
<line x1="564.2" y1="840" x2="564.2" y2="843" stroke="#aaa" stroke-width="0.8"/>
<line x1="574.2" y1="840" x2="574.2" y2="843" stroke="#aaa" stroke-width="0.8"/>
<line x1="578.2" y1="840" x2="578.2" y2="843" stroke="#aaa" stroke-width="0.8"/>
<line x1="582.2" y1="840" x2="582.2" y2="843" stroke="#aaa" stroke-width="0.8"/>
<line x1="588.2" y1="840" x2="588.2" y2="843" stroke="#aaa" stroke-width="0.8"/>
<line x1="592.2" y1="840" x2="592.2" y2="843" stroke="#aaa" stroke-width="0.8"/>
<line x1="598.2" y1="840" x2="598.2" y2="843" stroke="#aaa" stroke-width="0.8"/>
<line x1="608.2" y1="840" x2="608.2" y2="843" stroke="#aaa" stroke-width="0.8"/>
<line x1="618.2" y1="840" x2="618.2" y2="843" stroke="#aaa" stroke-width="0.8"/>
<line x1="626.2" y1="840" x2="626.2" y2="843" stroke="#aaa" stroke-width="0.8"/>
<line x1="633.2" y1="840" x2="633.2" y2="843" stroke="#aaa" stroke-width="0.8"/>
<line x1="636.2" y1="840" x2="636.2" y2="843" stroke="#aaa" stroke-width="0.8"/>
<line x1="640.2" y1="840" x2="640.2" y2="843" stroke="#aaa" stroke-width="0.8"/>
<line x1="644.2" y1="840" x2="644.2" y2="843" stroke="#aaa" stroke-width="0.8"/>
<line x1="763.2" y1="840" x2="763.2" y2="843" stroke="#aaa" stroke-width="0.8"/>
<line x1="770.2" y1="840" x2="770.2" y2="843" stroke="#aaa" stroke-width="0.8"/>
<rect x="583.2" y="841.0" width="3" height="4" fill="#333"/>
<text x="554.3" y="636" font-size="25">0.83</text>
<text x="720.6" y="636" font-size="25">99.2</text>
<text x="555.4" y="829" font-size="25">0</text>
<text x="751.8" y="825.5" font-size="25">0</text>
<clipPath id="cb21"><rect x="860.0" y="610.2" width="229.5" height="229.8"/></clipPath>
<g clip-path="url(#cb21)" fill="none" stroke-linejoin="round">
<path d="M1018.5,774.2 1012.0,774.2 1005.5,772.6 999.0,768.9 991.5,763.0 971.6,735.7 966.3,725.7 963.8,717.7 963.2,710.2 963.9,697.7 965.6,691.7 969.6,684.2 974.9,676.7 979.0,672.8 991.5,666.0 997.0,664.3 1005.5,663.4 1013.0,664.0 1022.0,666.5 1028.5,670.2 1037.0,677.7 1043.2,686.7 1045.9,692.2 1049.6,704.7 1050.3,711.2 1050.1,717.2 1048.1,730.7 1047.0,743.2 1044.5,751.2 1040.0,759.2 1032.5,767.0 1026.0,771.4 1018.5,774.2" fill="none" stroke="#8c8c8c" stroke-width="0.9"/>
<path d="M1018.5,771.7 1012.0,771.8 1005.5,770.3 1000.0,767.2 993.0,761.5 973.4,735.7 967.7,725.7 965.1,717.7 964.4,710.2 965.2,697.7 967.0,691.7 970.7,684.7 975.6,677.7 979.5,673.9 991.5,667.5 997.5,665.5 1006.0,664.7 1013.5,665.4 1021.5,667.6 1027.5,671.1 1035.6,678.2 1041.6,686.7 1044.4,692.2 1047.9,704.2 1048.7,711.2 1048.6,717.2 1046.0,732.1 1045.1,743.2 1043.4,748.7 1038.7,757.2 1032.0,764.6 1026.0,769.0 1018.5,771.7" fill="none" stroke="#8a8a8a" stroke-width="0.9"/>
<path d="M1018.5,769.3 1012.0,769.5 1006.0,768.3 1001.0,765.5 995.0,760.5 974.8,735.2 968.8,724.7 966.3,717.2 965.6,709.7 966.5,698.2 968.2,692.2 971.6,685.7 976.5,678.6 980.5,674.8 992.5,668.5 998.0,666.7 1006.0,665.9 1013.5,666.6 1021.0,668.7 1026.5,672.0 1034.5,679.0 1040.1,686.7 1043.3,693.2 1046.3,704.2 1047.2,711.7 1047.2,717.2 1044.1,732.2 1043.1,742.7 1041.7,747.2 1036.7,756.2 1031.5,762.2 1025.5,766.8 1018.5,769.3" fill="none" stroke="#898989" stroke-width="0.9"/>
<path d="M1016.5,767.2 1011.0,767.2 1006.0,766.1 1001.5,763.5 996.6,759.2 976.0,734.2 969.8,723.7 967.4,716.2 966.9,708.2 967.8,697.7 969.7,691.7 973.4,685.2 978.0,678.7 981.5,675.6 992.5,669.9 999.0,667.8 1007.0,667.2 1015.0,668.2 1021.0,670.0 1026.5,673.6 1033.8,680.2 1039.1,687.7 1042.2,694.2 1044.8,704.2 1045.8,712.7 1045.6,718.2 1042.5,731.7 1041.1,741.7 1039.4,746.7 1034.5,755.7 1029.5,761.3 1023.5,765.4 1016.5,767.2" fill="none" stroke="#878787" stroke-width="0.9"/>
<path d="M1018.0,764.8 1012.5,765.2 1007.5,764.5 1003.5,762.6 999.5,759.3 977.1,733.2 971.3,723.7 968.7,716.2 968.1,708.7 968.9,698.7 970.7,692.7 973.9,686.7 978.5,680.0 982.0,676.7 993.0,671.0 999.0,669.1 1006.5,668.5 1014.0,669.2 1020.0,671.0 1024.6,673.7 1032.0,680.2 1036.7,686.2 1040.4,693.2 1043.1,702.7 1044.3,712.7 1044.2,718.2 1040.6,732.2 1039.0,741.2 1037.7,745.2 1033.5,753.7 1029.5,758.7 1024.0,762.8 1018.0,764.8" fill="none" stroke="#858585" stroke-width="0.9"/>
<path d="M1017.0,762.7 1012.0,763.0 1008.0,762.4 1004.5,760.9 1001.0,758.0 977.8,731.7 972.4,722.7 969.9,715.2 969.3,707.7 970.1,698.7 972.0,692.7 975.4,686.7 979.6,680.7 983.0,677.5 992.5,672.5 999.0,670.4 1006.0,669.8 1013.5,670.4 1019.0,671.9 1023.5,674.4 1030.7,680.7 1035.2,686.2 1039.0,693.2 1041.4,701.7 1042.8,712.7 1042.7,718.7 1035.2,745.7 1031.8,752.7 1028.0,757.4 1023.0,761.0 1017.0,762.7" fill="none" stroke="#848484" stroke-width="0.9"/>
<path d="M1016.0,760.7 1011.5,760.8 1008.0,760.1 1005.0,758.6 1002.0,756.1 978.5,730.1 973.4,721.7 971.0,714.2 970.5,706.7 971.6,697.7 973.8,691.7 978.2,684.7 981.5,680.4 985.0,677.6 993.5,673.4 999.5,671.5 1006.0,671.0 1013.5,671.7 1018.5,673.1 1023.0,675.6 1030.0,681.7 1034.3,687.2 1037.8,693.7 1040.0,701.7 1041.4,713.7 1041.2,719.2 1032.8,746.7 1029.9,752.2 1026.0,756.6 1021.5,759.4 1016.0,760.7" fill="none" stroke="#828282" stroke-width="0.9"/>
<path d="M1018.0,758.2 1013.5,758.6 1009.5,758.1 1006.5,756.9 1003.5,754.6 979.5,729.1 975.1,722.2 972.4,714.7 971.6,708.2 972.2,700.7 973.8,694.7 976.7,689.2 981.1,682.7 984.5,679.4 992.0,675.3 998.5,673.0 1004.5,672.3 1011.5,672.8 1017.0,673.9 1021.5,676.1 1027.7,681.2 1032.1,686.2 1035.9,692.7 1038.2,699.7 1039.9,712.7 1039.7,718.7 1034.8,733.2 1031.6,744.7 1029.3,749.7 1026.0,753.9 1022.5,756.6 1018.0,758.2" fill="none" stroke="#808080" stroke-width="0.9"/>
<path d="M1016.0,756.2 1012.0,756.1 1008.5,755.2 1005.5,753.4 1002.0,750.2 980.0,727.5 975.9,720.7 973.4,713.2 972.8,706.7 973.7,699.2 975.6,693.7 978.8,688.2 982.7,682.7 986.0,679.8 993.0,676.1 999.0,674.1 1005.0,673.5 1012.5,674.2 1017.5,675.6 1022.0,678.0 1028.0,683.2 1032.0,688.2 1035.2,694.2 1037.1,700.7 1038.4,713.2 1038.2,718.7 1032.8,733.2 1029.5,745.2 1027.1,749.7 1024.0,753.1 1020.0,755.4 1016.0,756.2" fill="none" stroke="#7f7f7f" stroke-width="0.9"/>
<path d="M1017.5,753.8 1013.5,753.9 1010.0,753.2 1007.0,751.8 1003.5,748.9 981.1,726.7 977.3,720.7 974.8,713.7 974.1,708.2 974.5,701.7 975.9,696.2 978.3,691.2 982.6,684.7 986.0,681.2 991.5,678.0 998.0,675.6 1003.5,674.8 1009.5,675.1 1016.0,676.4 1020.5,678.6 1025.7,682.7 1029.7,687.2 1033.3,693.2 1035.4,699.2 1036.4,704.7 1036.9,713.2 1036.8,717.2 1036.0,720.7 1031.1,732.2 1028.3,743.2 1026.9,746.7 1023.0,751.3 1020.5,752.8 1017.5,753.8" fill="#000" fill-opacity="0.03" stroke="#7d7d7d" stroke-width="0.9"/>
<path d="M1016.0,751.7 1011.0,751.2 1006.5,748.8 983.8,727.7 979.0,721.2 975.9,712.7 975.3,707.2 975.9,700.7 977.3,695.7 980.3,690.2 984.1,684.7 987.3,681.7 993.0,678.6 999.0,676.5 1004.5,675.9 1010.5,676.5 1016.5,678.1 1021.0,680.5 1026.0,684.7 1029.6,689.2 1032.6,694.7 1034.5,700.7 1035.4,708.2 1035.2,717.2 1034.0,721.2 1029.3,731.7 1026.3,743.7 1024.8,746.7 1022.4,749.2 1019.5,750.9 1016.0,751.7" fill="#000" fill-opacity="0.03" stroke="#7b7b7b" stroke-width="0.9"/>
<path d="M1018.0,749.2 1015.0,749.6 1012.0,749.3 1009.0,748.0 1006.0,745.8 983.5,725.4 980.2,720.7 977.6,714.2 976.6,709.2 976.7,703.7 977.8,698.2 979.9,693.2 983.7,687.2 987.0,683.5 991.5,680.5 997.0,678.3 1002.0,677.3 1007.5,677.3 1014.0,678.6 1019.0,680.7 1023.5,684.0 1027.3,688.2 1030.6,693.7 1032.8,699.2 1034.1,708.2 1034.0,714.2 1033.3,718.2 1027.7,730.7 1024.1,744.2 1021.5,747.4 1018.0,749.2" fill="#000" fill-opacity="0.03" stroke="#7a7a7a" stroke-width="0.9"/>
<path d="M1017.5,747.2 1013.5,747.5 1009.5,745.9 1002.0,738.9 987.4,727.2 982.4,721.7 978.7,713.7 977.8,708.7 977.9,703.7 979.1,698.2 981.2,693.2 984.8,687.7 988.0,684.3 992.5,681.4 997.5,679.4 1002.5,678.4 1007.5,678.5 1013.5,679.8 1018.5,681.9 1022.5,684.8 1026.0,688.7 1029.4,694.2 1031.7,699.7 1032.9,708.2 1032.6,713.7 1031.8,717.7 1026.0,730.2 1022.6,742.7 1020.5,745.5 1017.5,747.2" fill="#000" fill-opacity="0.03" stroke="#787878" stroke-width="0.9"/>
<path d="M1017.0,745.2 1014.0,745.5 1011.0,744.3 1004.5,737.6 996.0,732.2 988.5,726.3 983.4,720.7 979.9,713.2 979.1,708.7 979.3,703.2 980.4,698.2 982.3,693.7 985.6,688.7 988.8,685.2 993.0,682.5 997.5,680.7 1003.0,679.6 1008.0,679.8 1013.5,681.1 1018.5,683.4 1022.2,686.2 1025.1,689.7 1028.7,695.7 1030.7,700.7 1031.7,708.2 1030.5,716.7 1024.0,730.2 1020.8,741.7 1019.4,743.7 1017.0,745.2" fill="#000" fill-opacity="0.03" stroke="#767676" stroke-width="0.9"/>
<path d="M1016.0,743.4 1014.0,743.4 1012.0,742.2 1007.0,735.5 997.0,730.9 989.4,725.2 984.5,719.7 981.2,712.7 980.3,708.2 980.5,703.7 981.5,698.7 983.4,694.2 986.3,689.7 989.6,686.2 993.5,683.6 998.0,681.8 1003.0,680.8 1008.0,681.0 1013.5,682.4 1018.0,684.5 1021.4,687.2 1024.3,690.7 1027.8,696.7 1029.6,701.2 1030.4,708.2 1029.1,716.2 1021.6,730.7 1018.9,740.7 1017.5,742.5 1016.0,743.4" fill="#000" fill-opacity="0.03" stroke="#757575" stroke-width="0.9"/>
<path d="M1015.5,741.3 1014.2,741.2 1013.3,740.2 1012.7,735.7 1011.0,733.7 998.5,729.8 990.4,724.2 985.5,718.7 982.3,711.7 981.6,707.7 981.8,703.2 982.8,698.7 984.8,694.2 987.5,690.2 990.5,687.0 994.0,684.7 998.5,683.0 1003.5,682.1 1008.0,682.2 1013.0,683.5 1017.5,685.7 1020.5,688.1 1023.1,691.2 1026.6,697.2 1028.4,701.7 1029.1,708.2 1027.8,715.7 1025.0,721.4 1017.3,732.7 1016.6,734.7 1016.8,739.7 1015.5,741.3" fill="#000" fill-opacity="0.03" stroke="#737373" stroke-width="0.9"/>
<path d="M1013.0,729.8 1009.0,729.9 1002.5,729.1 996.0,726.6 991.5,723.2 988.1,719.7 985.6,716.2 983.8,712.2 983.0,708.2 983.0,704.2 983.9,699.7 985.4,695.7 987.9,691.7 990.5,688.7 993.5,686.5 997.5,684.6 1002.5,683.5 1007.0,683.4 1011.5,684.3 1016.0,686.2 1019.0,688.3 1021.6,691.2 1025.0,696.7 1027.0,701.2 1027.8,705.2 1027.7,709.2 1026.9,713.7 1025.4,717.7 1022.9,721.7 1019.5,725.7 1016.0,728.6 1013.0,729.8" fill="#000" fill-opacity="0.03" stroke="#717171" stroke-width="0.9"/>
<path d="M1009.5,727.7 1001.0,727.0 998.0,725.9 994.5,723.7 990.5,720.3 987.6,716.7 985.7,713.2 984.5,709.2 984.2,705.2 984.9,700.7 986.3,696.7 988.5,692.9 991.0,690.0 994.0,687.6 997.5,686.0 1001.5,684.9 1005.5,684.6 1009.5,685.0 1013.5,686.3 1017.0,688.3 1019.6,690.7 1022.4,694.7 1025.1,699.7 1026.3,703.7 1026.5,707.7 1025.8,712.2 1024.4,716.2 1022.4,719.7 1019.5,723.1 1016.5,725.5 1013.0,727.1 1009.5,727.7" fill="#000" fill-opacity="0.03" stroke="#707070" stroke-width="0.9"/>
<path d="M1010.0,725.8 1002.0,725.5 996.0,723.0 992.5,720.2 989.3,716.7 987.2,713.2 985.9,709.7 985.5,706.2 985.9,702.2 987.1,698.2 988.8,694.7 993.5,689.5 996.5,687.8 1000.5,686.4 1004.5,685.8 1008.5,686.1 1012.5,687.2 1016.0,689.0 1020.8,694.2 1023.3,698.7 1024.7,702.7 1025.2,706.2 1024.8,710.2 1023.6,714.2 1021.9,717.7 1019.5,720.7 1016.5,723.2 1013.5,724.8 1010.0,725.8" fill="#000" fill-opacity="0.03" stroke="#6e6e6e" stroke-width="0.9"/>
<path d="M1008.5,724.2 1001.5,723.8 995.5,720.9 989.8,715.2 988.1,712.2 987.1,708.7 986.8,705.2 987.4,701.2 990.7,694.2 992.8,691.7 995.5,689.7 1002.0,687.4 1009.0,687.4 1012.5,688.5 1015.5,690.1 1018.0,692.4 1020.3,695.7 1022.4,699.7 1023.5,703.2 1023.7,706.7 1023.3,710.2 1022.2,713.7 1020.4,717.2 1018.0,719.9 1015.0,722.1 1012.0,723.5 1008.5,724.2" fill="#000" fill-opacity="0.03" stroke="#6c6c6c" stroke-width="0.9"/>
<path d="M1008.0,722.7 1001.5,722.2 995.5,719.1 990.4,713.7 988.9,710.7 988.2,707.7 988.7,701.2 992.0,694.5 996.5,690.6 1003.0,688.5 1006.5,688.3 1010.0,688.9 1015.5,691.7 1019.9,697.2 1022.2,703.7 1021.7,710.7 1018.8,716.7 1014.0,720.9 1008.0,722.7" fill="#000" fill-opacity="0.03" stroke="#6b6b6b" stroke-width="0.9"/>
<path d="M1008.5,721.2 1002.5,721.1 997.0,718.6 992.3,714.2 989.6,708.7 989.6,702.7 992.3,696.2 996.5,692.0 1002.0,689.9 1008.5,689.8 1014.0,692.1 1018.3,696.7 1020.7,702.7 1020.6,709.2 1018.1,715.2 1014.0,719.1 1008.5,721.2" fill="#000" fill-opacity="0.03" stroke="#696969" stroke-width="0.9"/>
<path d="M1009.0,719.7 1003.5,719.9 998.5,718.1 993.8,714.2 991.0,709.2 990.7,703.7 992.6,698.2 996.0,694.0 1001.0,691.4 1007.0,690.8 1012.5,692.6 1016.5,696.2 1019.2,701.7 1019.6,707.2 1017.6,713.2 1014.0,717.4 1009.0,719.7" fill="#000" fill-opacity="0.03" stroke="#676767" stroke-width="0.9"/>
<path d="M1007.0,718.7 1002.0,718.3 997.5,716.0 993.5,711.8 991.8,707.2 992.4,701.7 995.0,696.8 998.5,693.8 1003.5,692.1 1008.5,692.3 1013.0,694.4 1016.4,698.2 1018.3,703.2 1018.0,708.7 1015.7,713.7 1012.0,717.1 1007.0,718.7" fill="#000" fill-opacity="0.03" stroke="#666666" stroke-width="0.9"/>
<path d="M1008.0,717.3 1003.5,717.4 999.0,715.6 995.3,712.2 993.2,708.2 993.1,703.7 995.1,698.7 998.5,695.2 1002.5,693.5 1007.5,693.4 1011.5,694.9 1015.0,698.2 1016.8,702.2 1017.1,706.7 1015.4,711.7 1012.4,715.2 1008.0,717.3" fill="#000" fill-opacity="0.03" stroke="#646464" stroke-width="0.9"/>
<path d="M1006.5,716.3 1002.5,715.9 998.5,713.8 995.6,710.7 994.2,706.7 994.7,702.2 997.0,698.2 1000.0,695.8 1004.0,694.5 1008.5,694.9 1011.9,696.7 1014.5,699.7 1015.9,703.7 1015.5,708.2 1013.6,712.2 1010.5,715.0 1006.5,716.3" fill="#000" fill-opacity="0.03" stroke="#626262" stroke-width="0.9"/>
<path d="M1007.5,714.8 1004.0,715.0 1000.5,713.7 997.5,711.2 995.6,707.7 995.4,704.2 997.0,700.2 999.5,697.5 1003.0,695.9 1006.5,695.8 1010.0,696.9 1012.7,699.2 1014.5,702.7 1014.7,706.2 1013.4,710.2 1011.0,713.1 1007.5,714.8" fill="#000" fill-opacity="0.03" stroke="#616161" stroke-width="0.9"/>
<path d="M1006.5,713.7 1003.5,713.6 1000.3,712.2 997.8,709.7 996.7,706.7 996.9,703.2 998.4,700.2 1001.0,698.0 1004.0,697.0 1007.0,697.1 1010.0,698.4 1012.2,700.7 1013.4,703.7 1013.3,707.2 1011.9,710.2 1009.5,712.6 1006.5,713.7" fill="#000" fill-opacity="0.03" stroke="#5f5f5f" stroke-width="0.9"/>
<path d="M1007.0,712.3 1004.0,712.5 1001.5,711.5 999.4,709.7 998.0,707.2 997.9,704.2 998.8,701.7 1000.6,699.7 1003.0,698.4 1006.0,698.2 1008.5,698.9 1010.7,700.7 1012.0,703.2 1012.2,706.2 1011.4,708.7 1009.5,711.0 1007.0,712.3" fill="#000" fill-opacity="0.03" stroke="#5d5d5d" stroke-width="0.9"/>
<path d="M1006.0,711.2 1003.5,711.1 1001.5,710.1 999.8,708.2 999.1,706.2 999.3,703.7 1000.3,701.7 1002.0,700.2 1004.0,699.4 1006.5,699.5 1008.5,700.4 1010.2,702.2 1011.0,704.2 1010.9,706.7 1009.9,708.7 1008.0,710.5 1006.0,711.2" fill="#000" fill-opacity="0.03" stroke="#5c5c5c" stroke-width="0.9"/>
<path d="M1006.5,709.8 1003.0,709.5 1001.5,708.4 1000.5,706.7 1000.7,703.2 1001.9,701.7 1003.5,700.8 1007.0,700.9 1008.5,702.0 1009.6,703.7 1009.4,707.2 1008.3,708.7 1006.5,709.8" fill="#000" fill-opacity="0.03" stroke="#5a5a5a" stroke-width="0.9"/>
<path d="M1006.5,708.4 1004.0,708.5 1001.9,706.7 1001.6,704.2 1003.5,702.0 1006.0,701.8 1008.2,703.7 1008.4,706.2 1006.5,708.4" fill="#fff" stroke="#585858" stroke-width="0.9"/>
<path d="M1005.5,707.3 1004.0,707.2 1002.8,705.7 1003.0,704.1 1004.5,702.9 1006.2,703.2 1007.3,704.7 1007.0,706.2 1005.5,707.3" fill="#fff" stroke="#575757" stroke-width="0.9"/>
<path d="M1005.5,706.0 1004.2,705.7 1004.0,704.7 1004.5,704.1 1005.5,704.1 1006.0,704.7 1005.5,706.0" fill="#fff" stroke="#555555" stroke-width="0.9"/>
</g>
<path d="M1040,693 C1052,688 1062,691 1072,690 C1084,689 1088,700 1086,712 C1084,724 1070,724 1060,728 C1050,732 1046,720 1042,714" fill="none" stroke="#8c8c8c" stroke-width="0.9"/>
<ellipse cx="1071" cy="704" rx="3" ry="2.6" fill="none" stroke="#8c8c8c" stroke-width="0.9"/>
<rect x="860" y="610.2" width="229.5" height="229.8" fill="none" stroke="#b0b0b0" stroke-width="1.2"/>
<line x1="945.9" y1="610.2" x2="945.9" y2="840" stroke="#707070" stroke-width="1.2"/>
<line x1="860" y1="745.8" x2="1089.5" y2="745.8" stroke="#707070" stroke-width="1.2"/>
<line x1="856" y1="630.9" x2="860" y2="630.9" stroke="#999" stroke-width="1"/>
<line x1="856" y1="684" x2="860" y2="684" stroke="#999" stroke-width="1"/>
<line x1="856" y1="739.6" x2="860" y2="739.6" stroke="#999" stroke-width="1"/>
<line x1="856" y1="807.8" x2="860" y2="807.8" stroke="#999" stroke-width="1"/>
<line x1="857.5" y1="668" x2="860" y2="668" stroke="#aaa" stroke-width="0.8"/>
<line x1="857.5" y1="658.7" x2="860" y2="658.7" stroke="#aaa" stroke-width="0.8"/>
<line x1="857.5" y1="652" x2="860" y2="652" stroke="#aaa" stroke-width="0.8"/>
<line x1="857.5" y1="646.9" x2="860" y2="646.9" stroke="#aaa" stroke-width="0.8"/>
<line x1="857.5" y1="642.7" x2="860" y2="642.7" stroke="#aaa" stroke-width="0.8"/>
<line x1="857.5" y1="639.1" x2="860" y2="639.1" stroke="#aaa" stroke-width="0.8"/>
<line x1="857.5" y1="636" x2="860" y2="636" stroke="#aaa" stroke-width="0.8"/>
<line x1="857.5" y1="633.3" x2="860" y2="633.3" stroke="#aaa" stroke-width="0.8"/>
<line x1="857.5" y1="722.9" x2="860" y2="722.9" stroke="#aaa" stroke-width="0.8"/>
<line x1="857.5" y1="713.1" x2="860" y2="713.1" stroke="#aaa" stroke-width="0.8"/>
<line x1="857.5" y1="706.1" x2="860" y2="706.1" stroke="#aaa" stroke-width="0.8"/>
<line x1="857.5" y1="700.7" x2="860" y2="700.7" stroke="#aaa" stroke-width="0.8"/>
<line x1="857.5" y1="696.3" x2="860" y2="696.3" stroke="#aaa" stroke-width="0.8"/>
<line x1="857.5" y1="692.6" x2="860" y2="692.6" stroke="#aaa" stroke-width="0.8"/>
<line x1="857.5" y1="689.4" x2="860" y2="689.4" stroke="#aaa" stroke-width="0.8"/>
<line x1="857.5" y1="686.5" x2="860" y2="686.5" stroke="#aaa" stroke-width="0.8"/>
<line x1="857.5" y1="615.2" x2="860" y2="615.2" stroke="#aaa" stroke-width="0.8"/>
<line x1="857.5" y1="619.2" x2="860" y2="619.2" stroke="#aaa" stroke-width="0.8"/>
<line x1="857.5" y1="622.2" x2="860" y2="622.2" stroke="#aaa" stroke-width="0.8"/>
<line x1="857.5" y1="625.2" x2="860" y2="625.2" stroke="#aaa" stroke-width="0.8"/>
<line x1="857.5" y1="628.2" x2="860" y2="628.2" stroke="#aaa" stroke-width="0.8"/>
<line x1="857.5" y1="750.2" x2="860" y2="750.2" stroke="#aaa" stroke-width="0.8"/>
<line x1="857.5" y1="762.2" x2="860" y2="762.2" stroke="#aaa" stroke-width="0.8"/>
<line x1="857.5" y1="775.2" x2="860" y2="775.2" stroke="#aaa" stroke-width="0.8"/>
<line x1="857.5" y1="785.2" x2="860" y2="785.2" stroke="#aaa" stroke-width="0.8"/>
<line x1="857.5" y1="795.2" x2="860" y2="795.2" stroke="#aaa" stroke-width="0.8"/>
<line x1="857.5" y1="800.2" x2="860" y2="800.2" stroke="#aaa" stroke-width="0.8"/>
<line x1="857.5" y1="815.2" x2="860" y2="815.2" stroke="#aaa" stroke-width="0.8"/>
<line x1="857.5" y1="822.2" x2="860" y2="822.2" stroke="#aaa" stroke-width="0.8"/>
<line x1="857.5" y1="830.2" x2="860" y2="830.2" stroke="#aaa" stroke-width="0.8"/>
<rect x="856.0" y="805.2" width="3" height="5" fill="#333"/>
<line x1="896.1" y1="840" x2="896.1" y2="845" stroke="#999" stroke-width="1"/>
<line x1="958.8" y1="840" x2="958.8" y2="845" stroke="#999" stroke-width="1"/>
<line x1="1014.1" y1="840" x2="1014.1" y2="845" stroke="#999" stroke-width="1"/>
<line x1="1066.8" y1="840" x2="1066.8" y2="845" stroke="#999" stroke-width="1"/>
<line x1="975.4" y1="840" x2="975.4" y2="843" stroke="#aaa" stroke-width="0.8"/>
<line x1="985.2" y1="840" x2="985.2" y2="843" stroke="#aaa" stroke-width="0.8"/>
<line x1="992.1" y1="840" x2="992.1" y2="843" stroke="#aaa" stroke-width="0.8"/>
<line x1="997.5" y1="840" x2="997.5" y2="843" stroke="#aaa" stroke-width="0.8"/>
<line x1="1001.8" y1="840" x2="1001.8" y2="843" stroke="#aaa" stroke-width="0.8"/>
<line x1="1005.5" y1="840" x2="1005.5" y2="843" stroke="#aaa" stroke-width="0.8"/>
<line x1="1008.7" y1="840" x2="1008.7" y2="843" stroke="#aaa" stroke-width="0.8"/>
<line x1="1011.6" y1="840" x2="1011.6" y2="843" stroke="#aaa" stroke-width="0.8"/>
<line x1="1030" y1="840" x2="1030" y2="843" stroke="#aaa" stroke-width="0.8"/>
<line x1="1039.2" y1="840" x2="1039.2" y2="843" stroke="#aaa" stroke-width="0.8"/>
<line x1="1045.8" y1="840" x2="1045.8" y2="843" stroke="#aaa" stroke-width="0.8"/>
<line x1="1050.9" y1="840" x2="1050.9" y2="843" stroke="#aaa" stroke-width="0.8"/>
<line x1="1055.1" y1="840" x2="1055.1" y2="843" stroke="#aaa" stroke-width="0.8"/>
<line x1="1058.6" y1="840" x2="1058.6" y2="843" stroke="#aaa" stroke-width="0.8"/>
<line x1="1061.7" y1="840" x2="1061.7" y2="843" stroke="#aaa" stroke-width="0.8"/>
<line x1="1064.4" y1="840" x2="1064.4" y2="843" stroke="#aaa" stroke-width="0.8"/>
<line x1="868" y1="840" x2="868" y2="843" stroke="#aaa" stroke-width="0.8"/>
<line x1="876" y1="840" x2="876" y2="843" stroke="#aaa" stroke-width="0.8"/>
<line x1="886" y1="840" x2="886" y2="843" stroke="#aaa" stroke-width="0.8"/>
<line x1="890" y1="840" x2="890" y2="843" stroke="#aaa" stroke-width="0.8"/>
<line x1="894" y1="840" x2="894" y2="843" stroke="#aaa" stroke-width="0.8"/>
<line x1="900" y1="840" x2="900" y2="843" stroke="#aaa" stroke-width="0.8"/>
<line x1="904" y1="840" x2="904" y2="843" stroke="#aaa" stroke-width="0.8"/>
<line x1="910" y1="840" x2="910" y2="843" stroke="#aaa" stroke-width="0.8"/>
<line x1="920" y1="840" x2="920" y2="843" stroke="#aaa" stroke-width="0.8"/>
<line x1="930" y1="840" x2="930" y2="843" stroke="#aaa" stroke-width="0.8"/>
<line x1="938" y1="840" x2="938" y2="843" stroke="#aaa" stroke-width="0.8"/>
<line x1="945" y1="840" x2="945" y2="843" stroke="#aaa" stroke-width="0.8"/>
<line x1="948" y1="840" x2="948" y2="843" stroke="#aaa" stroke-width="0.8"/>
<line x1="952" y1="840" x2="952" y2="843" stroke="#aaa" stroke-width="0.8"/>
<line x1="956" y1="840" x2="956" y2="843" stroke="#aaa" stroke-width="0.8"/>
<line x1="1075" y1="840" x2="1075" y2="843" stroke="#aaa" stroke-width="0.8"/>
<line x1="1082" y1="840" x2="1082" y2="843" stroke="#aaa" stroke-width="0.8"/>
<rect x="895.0" y="841.0" width="3" height="4" fill="#333"/>
<text x="866.8" y="637" font-size="25">0</text>
<text x="1032.1" y="636.5" font-size="25">91.8</text>
<text x="868.1" y="829.5" font-size="25">0.31</text>
<text x="1033.6" y="830.7" font-size="25">7.91</text>
<clipPath id="cb22"><rect x="1172.2" y="610.2" width="229.5" height="229.8"/></clipPath>
<g clip-path="url(#cb22)" fill="none" stroke-linejoin="round">
<path d="M1331.7,772.2 1325.7,771.7 1319.2,769.2 1313.7,765.7 1308.2,760.2 1302.9,752.7 1299.8,746.7 1295.0,734.7 1293.1,726.2 1292.3,714.2 1292.9,700.7 1293.6,695.7 1295.0,691.2 1300.6,678.7 1304.6,672.7 1311.2,667.0 1314.7,665.3 1318.2,664.5 1324.2,664.8 1333.7,668.3 1339.2,671.8 1345.0,677.7 1350.1,684.7 1354.5,693.7 1358.1,703.2 1359.9,712.7 1360.9,723.7 1360.5,732.2 1358.2,746.2 1355.4,753.7 1351.3,761.2 1347.6,765.2 1338.2,770.5 1331.7,772.2" fill="none" stroke="#8c8c8c" stroke-width="0.9"/>
<path d="M1334.2,770.2 1328.2,770.5 1321.7,768.9 1315.7,765.6 1310.2,760.6 1305.5,754.7 1301.5,747.7 1296.5,735.7 1294.3,727.2 1293.4,712.2 1294.2,698.7 1295.8,692.2 1301.4,679.7 1305.1,674.2 1311.2,668.8 1314.2,667.2 1317.7,666.2 1323.7,666.4 1332.2,669.1 1337.7,672.3 1342.7,676.9 1347.8,683.2 1352.0,690.7 1356.4,701.2 1358.4,709.2 1359.7,721.2 1359.7,728.7 1357.6,743.2 1355.8,749.7 1351.6,758.2 1347.7,763.2 1341.7,767.2 1334.2,770.2" fill="none" stroke="#8a8a8a" stroke-width="0.9"/>
<path d="M1333.7,768.7 1327.7,768.9 1321.2,767.2 1315.7,764.0 1310.2,758.8 1305.5,752.7 1301.9,746.2 1297.6,735.7 1295.3,726.7 1294.4,712.7 1295.2,698.7 1296.5,693.2 1302.0,681.2 1305.5,675.7 1311.7,670.3 1317.7,667.9 1323.7,668.1 1331.7,670.4 1336.7,673.2 1341.8,677.7 1346.8,683.7 1351.6,692.2 1355.5,701.7 1357.4,709.2 1358.6,721.2 1358.7,728.2 1356.8,741.7 1354.9,748.7 1350.5,757.2 1346.7,762.1 1341.2,765.8 1333.7,768.7" fill="none" stroke="#898989" stroke-width="0.9"/>
<path d="M1333.2,767.3 1327.2,767.4 1321.2,765.6 1315.7,762.3 1310.2,757.1 1305.5,750.7 1302.0,743.7 1298.4,734.7 1296.3,725.7 1295.4,712.7 1296.3,698.7 1297.7,693.2 1303.0,681.7 1306.3,676.7 1311.7,672.1 1317.7,669.7 1323.7,669.8 1330.7,671.5 1336.2,674.4 1341.2,678.8 1346.0,684.7 1351.0,693.2 1354.5,701.7 1356.4,709.2 1357.6,721.2 1357.7,728.2 1355.8,740.7 1354.0,747.7 1349.8,755.7 1345.7,761.0 1340.2,764.7 1333.2,767.3" fill="none" stroke="#878787" stroke-width="0.9"/>
<path d="M1333.2,765.7 1327.7,765.9 1321.7,764.3 1316.2,761.0 1310.7,755.9 1306.4,750.2 1302.4,742.2 1299.5,734.7 1297.3,725.7 1296.5,712.7 1297.3,699.2 1298.6,693.7 1303.8,682.7 1307.1,677.7 1312.2,673.5 1317.7,671.5 1323.7,671.5 1330.2,672.9 1335.2,675.3 1340.2,679.5 1345.0,685.2 1350.1,693.7 1353.5,701.7 1355.4,709.2 1356.6,721.2 1356.7,727.7 1355.0,739.2 1353.0,746.7 1349.1,754.2 1344.7,759.9 1339.7,763.4 1333.2,765.7" fill="none" stroke="#858585" stroke-width="0.9"/>
<path d="M1332.7,764.2 1327.2,764.3 1321.2,762.4 1315.7,758.9 1310.7,754.2 1306.8,748.7 1302.9,740.7 1300.3,733.7 1298.3,725.2 1297.5,712.7 1298.4,699.7 1299.6,694.2 1304.6,683.7 1307.7,679.0 1312.2,675.1 1317.2,673.3 1323.2,673.1 1329.2,674.1 1334.2,676.3 1339.2,680.2 1343.6,685.2 1348.9,693.7 1352.4,701.7 1354.3,708.7 1355.6,720.7 1355.8,727.2 1354.3,737.2 1352.1,745.7 1348.4,752.7 1343.7,758.8 1339.2,761.9 1332.7,764.2" fill="none" stroke="#848484" stroke-width="0.9"/>
<path d="M1332.2,762.7 1327.2,762.7 1321.7,761.0 1316.2,757.7 1311.2,753.1 1307.4,747.7 1303.4,739.2 1301.1,732.7 1299.2,724.7 1298.5,712.2 1299.5,699.7 1300.8,694.2 1305.4,684.7 1308.3,680.2 1312.2,676.8 1317.2,674.9 1323.7,674.8 1329.2,675.7 1334.2,678.0 1338.7,681.4 1342.8,686.2 1348.6,695.2 1351.5,702.2 1353.4,709.2 1354.7,720.7 1354.8,727.2 1353.3,736.7 1351.1,744.7 1347.4,751.7 1342.6,757.7 1338.2,760.8 1332.2,762.7" fill="none" stroke="#828282" stroke-width="0.9"/>
<path d="M1331.2,761.2 1326.2,760.9 1320.7,758.9 1315.7,755.7 1311.5,751.7 1308.1,746.7 1304.3,738.7 1302.1,732.2 1300.2,724.2 1299.5,712.2 1300.6,700.2 1301.9,694.7 1305.9,686.2 1309.2,681.1 1312.7,678.1 1317.2,676.5 1323.2,676.4 1329.2,677.4 1333.7,679.3 1338.2,682.7 1342.5,687.7 1347.7,695.7 1350.8,703.2 1352.4,709.7 1353.7,721.2 1353.8,727.2 1352.4,736.2 1350.0,744.2 1346.2,751.0 1341.5,756.7 1336.7,759.8 1331.2,761.2" fill="none" stroke="#808080" stroke-width="0.9"/>
<path d="M1333.2,759.2 1328.2,759.6 1323.2,758.3 1317.7,755.6 1313.1,751.7 1309.7,747.2 1305.9,739.7 1303.4,733.2 1301.5,725.7 1300.6,719.2 1300.5,712.7 1301.7,700.7 1302.8,695.7 1305.6,689.2 1309.6,682.7 1312.7,679.8 1316.7,678.1 1322.2,677.9 1328.7,678.9 1333.2,680.7 1337.2,683.5 1341.4,688.2 1346.5,695.7 1349.4,702.2 1351.1,708.2 1352.6,719.7 1352.9,726.2 1352.0,733.2 1349.9,741.2 1347.1,747.2 1342.2,753.8 1338.2,757.2 1333.2,759.2" fill="none" stroke="#7f7f7f" stroke-width="0.9"/>
<path d="M1332.2,757.8 1327.7,757.8 1322.2,756.4 1317.2,753.7 1313.3,750.2 1310.1,745.7 1306.4,738.2 1304.4,732.7 1302.5,725.2 1301.6,718.7 1301.6,712.2 1302.9,700.7 1304.0,695.7 1306.7,689.7 1310.6,683.7 1313.7,680.9 1317.2,679.7 1322.7,679.5 1328.7,680.5 1333.2,682.3 1336.7,684.8 1341.1,689.7 1345.6,696.2 1348.4,702.7 1350.1,708.7 1351.7,720.2 1352.0,726.2 1351.0,733.2 1348.9,740.7 1345.9,746.7 1341.2,752.8 1337.2,756.0 1332.2,757.8" fill="#000" fill-opacity="0.03" stroke="#7d7d7d" stroke-width="0.9"/>
<path d="M1331.7,756.2 1327.2,756.2 1322.2,754.8 1317.7,752.4 1314.2,749.3 1311.2,745.2 1307.4,737.7 1305.1,731.7 1303.5,725.2 1302.7,718.7 1302.6,712.2 1305.2,696.2 1307.6,690.7 1311.2,685.2 1313.9,682.7 1317.2,681.3 1322.2,681.1 1328.2,682.0 1332.7,683.6 1336.2,686.0 1340.7,691.0 1344.6,696.7 1347.3,702.7 1349.1,709.2 1350.7,720.2 1351.0,725.7 1350.1,732.7 1348.1,739.7 1345.1,745.7 1340.3,751.7 1336.2,754.8 1331.7,756.2" fill="#000" fill-opacity="0.03" stroke="#7b7b7b" stroke-width="0.9"/>
<path d="M1330.7,754.7 1326.2,754.4 1321.7,753.1 1317.7,750.8 1314.7,748.0 1311.7,743.7 1307.9,736.2 1305.9,730.7 1304.3,724.2 1303.6,717.2 1303.7,711.2 1306.5,696.2 1308.8,691.2 1312.2,686.4 1315.2,683.9 1318.2,682.9 1323.2,682.7 1328.7,683.6 1332.7,685.2 1336.2,687.8 1340.7,692.8 1344.0,697.7 1346.6,704.2 1348.3,711.2 1349.8,720.7 1350.0,726.2 1349.1,732.7 1346.9,739.7 1343.7,745.6 1339.2,750.8 1335.2,753.6 1330.7,754.7" fill="#000" fill-opacity="0.03" stroke="#7a7a7a" stroke-width="0.9"/>
<path d="M1332.7,752.8 1328.7,753.2 1323.7,752.3 1319.7,750.5 1316.2,747.7 1313.2,743.7 1309.4,736.7 1307.1,731.2 1305.6,725.7 1304.8,719.2 1304.7,711.7 1307.5,697.2 1309.4,692.7 1312.7,688.2 1315.6,685.7 1318.7,684.5 1323.2,684.2 1328.2,685.0 1332.2,686.5 1335.7,689.0 1340.0,693.7 1343.0,698.2 1345.3,703.7 1347.0,709.7 1349.0,724.7 1348.6,730.2 1347.0,736.2 1344.4,742.2 1341.2,746.8 1336.7,751.0 1332.7,752.8" fill="#000" fill-opacity="0.03" stroke="#787878" stroke-width="0.9"/>
<path d="M1332.7,751.2 1328.7,751.7 1324.2,750.9 1320.7,749.5 1317.2,746.7 1314.1,742.7 1310.1,735.7 1308.0,730.7 1306.6,725.2 1305.8,718.7 1305.7,711.7 1308.7,697.7 1310.4,693.7 1313.2,689.9 1316.2,687.4 1319.7,686.1 1323.7,685.8 1328.2,686.5 1332.2,688.1 1335.7,690.7 1339.3,694.7 1342.0,698.7 1344.3,704.2 1346.0,710.2 1348.0,724.2 1347.7,729.2 1346.4,734.7 1343.9,740.7 1340.9,745.2 1336.7,749.2 1332.7,751.2" fill="#000" fill-opacity="0.03" stroke="#767676" stroke-width="0.9"/>
<path d="M1332.2,749.8 1328.7,750.2 1324.7,749.6 1321.2,748.1 1318.1,745.7 1314.9,741.7 1310.9,734.7 1308.8,729.7 1307.5,724.7 1306.7,717.7 1306.7,711.2 1309.8,698.2 1311.7,694.2 1314.2,691.1 1317.2,688.8 1320.7,687.5 1324.7,687.3 1329.2,688.3 1333.2,690.4 1336.7,693.5 1339.8,697.2 1342.0,701.2 1344.0,706.7 1345.5,713.2 1347.0,725.2 1346.5,730.2 1345.1,735.2 1342.9,740.2 1339.7,744.7 1336.2,747.8 1332.2,749.8" fill="#000" fill-opacity="0.03" stroke="#757575" stroke-width="0.9"/>
<path d="M1332.2,748.2 1328.7,748.7 1324.7,748.1 1321.7,746.7 1318.7,744.3 1315.4,740.2 1311.6,733.7 1309.5,728.7 1308.4,724.2 1307.7,717.2 1307.8,711.2 1308.8,705.7 1311.0,698.7 1312.7,695.2 1315.2,692.2 1318.2,690.1 1321.7,688.9 1325.7,688.8 1329.7,690.0 1333.7,692.4 1337.2,695.8 1340.0,699.7 1342.0,704.2 1345.0,716.2 1346.0,726.2 1345.4,730.7 1344.0,735.2 1341.7,739.8 1338.8,743.7 1335.7,746.5 1332.2,748.2" fill="#000" fill-opacity="0.03" stroke="#737373" stroke-width="0.9"/>
<path d="M1331.7,746.8 1328.7,747.2 1325.2,746.7 1322.2,745.3 1319.2,742.9 1315.9,738.7 1312.4,732.7 1310.5,728.2 1309.3,723.7 1308.8,711.2 1311.7,700.2 1313.4,696.7 1315.8,693.7 1318.7,691.6 1322.2,690.4 1325.7,690.4 1329.7,691.5 1333.2,693.7 1336.7,697.1 1339.2,700.7 1341.2,705.2 1344.1,716.7 1344.9,726.7 1343.0,734.7 1340.7,739.2 1338.0,742.7 1334.7,745.4 1331.7,746.8" fill="#000" fill-opacity="0.03" stroke="#717171" stroke-width="0.9"/>
<path d="M1331.2,745.3 1328.2,745.6 1325.2,745.1 1322.2,743.6 1319.7,741.5 1313.1,731.7 1311.4,727.7 1310.3,723.2 1309.8,711.2 1312.4,701.7 1314.2,697.9 1316.4,695.2 1319.2,693.1 1322.7,691.9 1326.2,692.0 1329.7,693.2 1333.2,695.4 1336.2,698.4 1338.7,702.2 1340.7,706.7 1343.3,717.7 1343.8,726.7 1341.9,734.2 1339.8,738.2 1337.2,741.6 1334.2,744.0 1331.2,745.3" fill="#000" fill-opacity="0.03" stroke="#707070" stroke-width="0.9"/>
<path d="M1330.7,743.8 1327.7,744.0 1325.2,743.4 1322.7,742.2 1320.2,740.0 1313.8,730.7 1312.1,726.7 1311.2,722.7 1310.8,711.7 1313.0,703.2 1315.0,699.2 1316.9,696.7 1319.7,694.6 1322.7,693.5 1325.7,693.5 1329.2,694.6 1332.2,696.4 1335.2,699.2 1339.5,706.7 1342.1,716.7 1342.8,725.7 1341.1,733.2 1339.0,737.2 1336.2,740.6 1333.7,742.6 1330.7,743.8" fill="#000" fill-opacity="0.03" stroke="#6e6e6e" stroke-width="0.9"/>
<path d="M1330.2,742.2 1327.2,742.3 1324.7,741.5 1320.2,738.0 1314.6,729.7 1312.2,722.2 1311.8,712.2 1313.9,704.2 1315.7,700.5 1317.7,698.0 1320.2,696.1 1323.2,695.1 1326.2,695.2 1329.2,696.3 1332.2,698.1 1334.8,700.7 1339.0,708.2 1341.2,717.2 1341.6,726.2 1340.0,732.7 1338.1,736.2 1335.6,739.2 1333.2,741.1 1330.2,742.2" fill="#000" fill-opacity="0.03" stroke="#6c6c6c" stroke-width="0.9"/>
<path d="M1331.2,740.2 1328.7,740.7 1326.2,740.3 1321.7,737.6 1316.1,730.2 1313.4,723.2 1312.7,713.7 1314.1,706.7 1317.7,700.1 1320.2,697.9 1322.7,696.9 1325.2,696.8 1328.2,697.5 1333.2,700.9 1337.4,707.2 1339.9,714.7 1340.7,723.2 1339.7,730.2 1338.1,733.7 1336.0,736.7 1333.7,738.9 1331.2,740.2" fill="#000" fill-opacity="0.03" stroke="#6b6b6b" stroke-width="0.9"/>
<path d="M1330.2,738.8 1325.7,738.4 1321.2,735.1 1316.5,728.7 1314.2,722.2 1313.7,713.7 1315.1,707.2 1318.7,701.1 1320.7,699.5 1323.2,698.5 1325.7,698.5 1328.2,699.2 1333.1,702.7 1337.0,708.7 1339.1,715.7 1339.6,723.7 1338.4,730.2 1336.9,733.2 1334.7,736.0 1332.7,737.7 1330.2,738.8" fill="#000" fill-opacity="0.03" stroke="#696969" stroke-width="0.9"/>
<path d="M1330.7,736.8 1326.7,736.9 1322.2,734.2 1317.5,728.2 1315.2,722.2 1314.7,714.2 1315.9,708.2 1319.2,702.6 1321.2,701.0 1323.2,700.2 1327.7,700.6 1332.2,703.6 1335.8,708.7 1338.0,715.2 1338.6,722.7 1337.5,729.2 1334.7,734.0 1330.7,736.8" fill="#000" fill-opacity="0.03" stroke="#676767" stroke-width="0.9"/>
<path d="M1329.7,735.3 1325.7,734.9 1321.7,732.0 1317.9,726.7 1316.1,721.2 1315.7,714.2 1317.0,708.7 1319.7,704.2 1321.7,702.5 1323.7,701.8 1328.2,702.4 1332.1,705.2 1335.4,710.2 1337.2,715.7 1337.6,722.7 1336.3,728.7 1333.7,733.0 1331.7,734.6 1329.7,735.3" fill="#000" fill-opacity="0.03" stroke="#666666" stroke-width="0.9"/>
<path d="M1329.2,733.7 1325.2,733.0 1321.7,730.2 1318.5,725.7 1317.0,720.7 1316.8,714.2 1318.0,709.2 1320.7,705.1 1324.2,703.3 1328.2,703.9 1331.7,706.6 1334.5,710.7 1336.3,716.2 1336.5,722.7 1335.2,728.2 1332.7,731.9 1329.2,733.7" fill="#000" fill-opacity="0.03" stroke="#646464" stroke-width="0.9"/>
<path d="M1330.2,731.8 1326.7,732.0 1323.2,730.0 1320.0,726.2 1318.1,721.2 1317.6,715.7 1318.6,710.7 1321.1,706.7 1324.2,704.9 1327.7,705.3 1330.7,707.3 1333.3,710.7 1335.1,715.2 1335.6,720.2 1334.8,725.7 1332.9,729.7 1330.2,731.8" fill="#000" fill-opacity="0.03" stroke="#626262" stroke-width="0.9"/>
<path d="M1329.7,730.3 1326.7,730.4 1323.5,728.7 1320.7,725.3 1319.1,721.2 1318.6,716.2 1319.4,711.7 1321.5,708.2 1324.2,706.5 1327.2,706.6 1330.2,708.5 1332.7,711.7 1334.2,715.7 1334.6,720.7 1333.8,725.2 1332.2,728.3 1329.7,730.3" fill="#000" fill-opacity="0.03" stroke="#616161" stroke-width="0.9"/>
<path d="M1329.2,728.8 1326.7,728.9 1323.7,727.3 1321.3,724.2 1320.0,720.7 1319.6,716.2 1320.4,712.2 1322.2,709.4 1324.7,707.9 1327.2,708.1 1329.7,709.7 1332.0,712.7 1333.2,716.2 1333.6,720.2 1332.9,724.2 1331.3,727.2 1329.2,728.8" fill="#000" fill-opacity="0.03" stroke="#5f5f5f" stroke-width="0.9"/>
<path d="M1328.7,727.3 1326.2,727.3 1323.7,725.7 1321.9,723.2 1320.8,719.7 1320.6,716.2 1321.4,712.7 1323.2,710.3 1325.2,709.4 1327.2,709.6 1329.6,711.2 1331.3,713.7 1332.3,716.7 1332.6,720.2 1331.8,723.7 1330.7,725.8 1328.7,727.3" fill="#000" fill-opacity="0.03" stroke="#5d5d5d" stroke-width="0.9"/>
<path d="M1328.2,725.8 1326.2,725.8 1324.2,724.5 1322.7,722.4 1321.8,719.7 1321.6,716.7 1322.2,713.8 1323.6,711.7 1325.2,710.9 1327.2,711.1 1329.2,712.6 1330.6,714.7 1331.4,717.2 1331.5,720.2 1331.0,722.7 1329.7,724.9 1328.2,725.8" fill="#000" fill-opacity="0.03" stroke="#5c5c5c" stroke-width="0.9"/>
<path d="M1327.7,724.4 1326.2,724.3 1324.7,723.3 1322.7,719.2 1323.1,714.7 1324.2,713.0 1325.7,712.4 1327.2,712.6 1328.7,713.8 1330.4,717.7 1329.9,722.2 1327.7,724.4" fill="#000" fill-opacity="0.03" stroke="#5a5a5a" stroke-width="0.9"/>
<path d="M1327.7,722.7 1326.7,722.9 1325.2,722.1 1323.7,719.2 1323.9,715.7 1325.7,713.9 1327.7,714.5 1329.3,717.2 1329.2,720.7 1327.7,722.7" fill="#fff" stroke="#585858" stroke-width="0.9"/>
<path d="M1327.2,721.3 1325.7,720.9 1324.6,718.7 1324.8,716.7 1326.2,715.4 1327.7,716.3 1328.4,718.2 1328.2,720.2 1327.2,721.3" fill="#fff" stroke="#575757" stroke-width="0.9"/>
<path d="M1326.7,719.9 1325.6,718.7 1326.2,717.0 1327.4,718.2 1326.7,719.9" fill="#fff" stroke="#555555" stroke-width="0.9"/>
</g>
<rect x="1172.2" y="610.2" width="229.5" height="229.8" fill="none" stroke="#b0b0b0" stroke-width="1.2"/>
<line x1="1258.1" y1="610.2" x2="1258.1" y2="840" stroke="#707070" stroke-width="1.2"/>
<line x1="1172.2" y1="745.8" x2="1401.7" y2="745.8" stroke="#707070" stroke-width="1.2"/>
<line x1="1168.2" y1="630.9" x2="1172.2" y2="630.9" stroke="#999" stroke-width="1"/>
<line x1="1168.2" y1="684" x2="1172.2" y2="684" stroke="#999" stroke-width="1"/>
<line x1="1168.2" y1="739.6" x2="1172.2" y2="739.6" stroke="#999" stroke-width="1"/>
<line x1="1168.2" y1="807.8" x2="1172.2" y2="807.8" stroke="#999" stroke-width="1"/>
<line x1="1169.7" y1="668" x2="1172.2" y2="668" stroke="#aaa" stroke-width="0.8"/>
<line x1="1169.7" y1="658.7" x2="1172.2" y2="658.7" stroke="#aaa" stroke-width="0.8"/>
<line x1="1169.7" y1="652" x2="1172.2" y2="652" stroke="#aaa" stroke-width="0.8"/>
<line x1="1169.7" y1="646.9" x2="1172.2" y2="646.9" stroke="#aaa" stroke-width="0.8"/>
<line x1="1169.7" y1="642.7" x2="1172.2" y2="642.7" stroke="#aaa" stroke-width="0.8"/>
<line x1="1169.7" y1="639.1" x2="1172.2" y2="639.1" stroke="#aaa" stroke-width="0.8"/>
<line x1="1169.7" y1="636" x2="1172.2" y2="636" stroke="#aaa" stroke-width="0.8"/>
<line x1="1169.7" y1="633.3" x2="1172.2" y2="633.3" stroke="#aaa" stroke-width="0.8"/>
<line x1="1169.7" y1="722.9" x2="1172.2" y2="722.9" stroke="#aaa" stroke-width="0.8"/>
<line x1="1169.7" y1="713.1" x2="1172.2" y2="713.1" stroke="#aaa" stroke-width="0.8"/>
<line x1="1169.7" y1="706.1" x2="1172.2" y2="706.1" stroke="#aaa" stroke-width="0.8"/>
<line x1="1169.7" y1="700.7" x2="1172.2" y2="700.7" stroke="#aaa" stroke-width="0.8"/>
<line x1="1169.7" y1="696.3" x2="1172.2" y2="696.3" stroke="#aaa" stroke-width="0.8"/>
<line x1="1169.7" y1="692.6" x2="1172.2" y2="692.6" stroke="#aaa" stroke-width="0.8"/>
<line x1="1169.7" y1="689.4" x2="1172.2" y2="689.4" stroke="#aaa" stroke-width="0.8"/>
<line x1="1169.7" y1="686.5" x2="1172.2" y2="686.5" stroke="#aaa" stroke-width="0.8"/>
<line x1="1169.7" y1="615.2" x2="1172.2" y2="615.2" stroke="#aaa" stroke-width="0.8"/>
<line x1="1169.7" y1="619.2" x2="1172.2" y2="619.2" stroke="#aaa" stroke-width="0.8"/>
<line x1="1169.7" y1="622.2" x2="1172.2" y2="622.2" stroke="#aaa" stroke-width="0.8"/>
<line x1="1169.7" y1="625.2" x2="1172.2" y2="625.2" stroke="#aaa" stroke-width="0.8"/>
<line x1="1169.7" y1="628.2" x2="1172.2" y2="628.2" stroke="#aaa" stroke-width="0.8"/>
<line x1="1169.7" y1="750.2" x2="1172.2" y2="750.2" stroke="#aaa" stroke-width="0.8"/>
<line x1="1169.7" y1="762.2" x2="1172.2" y2="762.2" stroke="#aaa" stroke-width="0.8"/>
<line x1="1169.7" y1="775.2" x2="1172.2" y2="775.2" stroke="#aaa" stroke-width="0.8"/>
<line x1="1169.7" y1="785.2" x2="1172.2" y2="785.2" stroke="#aaa" stroke-width="0.8"/>
<line x1="1169.7" y1="795.2" x2="1172.2" y2="795.2" stroke="#aaa" stroke-width="0.8"/>
<line x1="1169.7" y1="800.2" x2="1172.2" y2="800.2" stroke="#aaa" stroke-width="0.8"/>
<line x1="1169.7" y1="815.2" x2="1172.2" y2="815.2" stroke="#aaa" stroke-width="0.8"/>
<line x1="1169.7" y1="822.2" x2="1172.2" y2="822.2" stroke="#aaa" stroke-width="0.8"/>
<line x1="1169.7" y1="830.2" x2="1172.2" y2="830.2" stroke="#aaa" stroke-width="0.8"/>
<rect x="1168.2" y="805.2" width="3" height="5" fill="#333"/>
<line x1="1208.3" y1="840" x2="1208.3" y2="845" stroke="#999" stroke-width="1"/>
<line x1="1271" y1="840" x2="1271" y2="845" stroke="#999" stroke-width="1"/>
<line x1="1326.3" y1="840" x2="1326.3" y2="845" stroke="#999" stroke-width="1"/>
<line x1="1379" y1="840" x2="1379" y2="845" stroke="#999" stroke-width="1"/>
<line x1="1287.6" y1="840" x2="1287.6" y2="843" stroke="#aaa" stroke-width="0.8"/>
<line x1="1297.4" y1="840" x2="1297.4" y2="843" stroke="#aaa" stroke-width="0.8"/>
<line x1="1304.3" y1="840" x2="1304.3" y2="843" stroke="#aaa" stroke-width="0.8"/>
<line x1="1309.7" y1="840" x2="1309.7" y2="843" stroke="#aaa" stroke-width="0.8"/>
<line x1="1314" y1="840" x2="1314" y2="843" stroke="#aaa" stroke-width="0.8"/>
<line x1="1317.7" y1="840" x2="1317.7" y2="843" stroke="#aaa" stroke-width="0.8"/>
<line x1="1320.9" y1="840" x2="1320.9" y2="843" stroke="#aaa" stroke-width="0.8"/>
<line x1="1323.8" y1="840" x2="1323.8" y2="843" stroke="#aaa" stroke-width="0.8"/>
<line x1="1342.2" y1="840" x2="1342.2" y2="843" stroke="#aaa" stroke-width="0.8"/>
<line x1="1351.4" y1="840" x2="1351.4" y2="843" stroke="#aaa" stroke-width="0.8"/>
<line x1="1358" y1="840" x2="1358" y2="843" stroke="#aaa" stroke-width="0.8"/>
<line x1="1363.1" y1="840" x2="1363.1" y2="843" stroke="#aaa" stroke-width="0.8"/>
<line x1="1367.3" y1="840" x2="1367.3" y2="843" stroke="#aaa" stroke-width="0.8"/>
<line x1="1370.8" y1="840" x2="1370.8" y2="843" stroke="#aaa" stroke-width="0.8"/>
<line x1="1373.9" y1="840" x2="1373.9" y2="843" stroke="#aaa" stroke-width="0.8"/>
<line x1="1376.6" y1="840" x2="1376.6" y2="843" stroke="#aaa" stroke-width="0.8"/>
<line x1="1180.2" y1="840" x2="1180.2" y2="843" stroke="#aaa" stroke-width="0.8"/>
<line x1="1188.2" y1="840" x2="1188.2" y2="843" stroke="#aaa" stroke-width="0.8"/>
<line x1="1198.2" y1="840" x2="1198.2" y2="843" stroke="#aaa" stroke-width="0.8"/>
<line x1="1202.2" y1="840" x2="1202.2" y2="843" stroke="#aaa" stroke-width="0.8"/>
<line x1="1206.2" y1="840" x2="1206.2" y2="843" stroke="#aaa" stroke-width="0.8"/>
<line x1="1212.2" y1="840" x2="1212.2" y2="843" stroke="#aaa" stroke-width="0.8"/>
<line x1="1216.2" y1="840" x2="1216.2" y2="843" stroke="#aaa" stroke-width="0.8"/>
<line x1="1222.2" y1="840" x2="1222.2" y2="843" stroke="#aaa" stroke-width="0.8"/>
<line x1="1232.2" y1="840" x2="1232.2" y2="843" stroke="#aaa" stroke-width="0.8"/>
<line x1="1242.2" y1="840" x2="1242.2" y2="843" stroke="#aaa" stroke-width="0.8"/>
<line x1="1250.2" y1="840" x2="1250.2" y2="843" stroke="#aaa" stroke-width="0.8"/>
<line x1="1257.2" y1="840" x2="1257.2" y2="843" stroke="#aaa" stroke-width="0.8"/>
<line x1="1260.2" y1="840" x2="1260.2" y2="843" stroke="#aaa" stroke-width="0.8"/>
<line x1="1264.2" y1="840" x2="1264.2" y2="843" stroke="#aaa" stroke-width="0.8"/>
<line x1="1268.2" y1="840" x2="1268.2" y2="843" stroke="#aaa" stroke-width="0.8"/>
<line x1="1387.2" y1="840" x2="1387.2" y2="843" stroke="#aaa" stroke-width="0.8"/>
<line x1="1394.2" y1="840" x2="1394.2" y2="843" stroke="#aaa" stroke-width="0.8"/>
<rect x="1207.2" y="841.0" width="3" height="4" fill="#333"/>
<text x="1178.4" y="635.3" font-size="25">0.19</text>
<text x="1344.3" y="636" font-size="25">93.2</text>
<text x="1179.1" y="829.5" font-size="25">0</text>
<text x="1345" y="830" font-size="25">6.58</text>
<clipPath id="cb23"><rect x="1486.7" y="610.2" width="229.5" height="229.8"/></clipPath>
<g clip-path="url(#cb23)" fill="none" stroke-linejoin="round">
<path d="M1652.7,766.8 1645.7,766.3 1637.7,763.4 1632.6,760.2 1627.9,754.7 1622.5,746.2 1618.1,735.2 1616.7,729.2 1614.9,714.2 1615.0,707.7 1616.5,696.7 1619.4,687.7 1623.0,680.7 1627.2,675.2 1633.2,670.0 1638.2,667.5 1644.2,666.1 1650.2,666.4 1656.2,668.0 1660.7,670.8 1665.7,675.7 1669.4,680.7 1676.2,692.2 1679.4,702.2 1680.6,709.2 1681.0,727.7 1678.0,741.7 1675.5,748.2 1671.0,756.2 1666.7,760.7 1659.7,764.9 1652.7,766.8" fill="none" stroke="#8c8c8c" stroke-width="0.9"/>
<path d="M1652.7,765.2 1645.7,764.9 1637.2,761.7 1632.3,758.2 1627.5,752.2 1623.1,745.2 1618.8,734.2 1617.6,728.2 1615.9,714.2 1616.0,708.2 1617.4,697.7 1620.4,688.2 1623.5,682.2 1627.7,676.5 1633.2,671.5 1638.2,668.9 1644.2,667.7 1650.2,667.9 1656.2,669.6 1660.7,672.5 1665.2,677.0 1675.3,692.7 1678.1,701.2 1679.5,709.2 1680.1,727.2 1677.0,741.2 1674.8,747.2 1670.5,754.7 1666.2,759.4 1659.7,763.3 1652.7,765.2" fill="none" stroke="#8a8a8a" stroke-width="0.9"/>
<path d="M1652.7,763.7 1645.7,763.4 1637.7,760.5 1633.2,757.4 1628.1,751.2 1624.0,744.7 1619.9,734.2 1618.5,728.2 1617.0,714.7 1616.9,708.7 1618.3,698.2 1621.0,689.7 1623.9,683.7 1628.2,677.7 1633.2,673.1 1638.2,670.4 1643.7,669.2 1649.7,669.4 1655.2,670.8 1659.7,673.4 1664.2,677.7 1667.9,682.7 1674.3,693.2 1677.0,701.2 1678.4,708.7 1679.1,727.2 1676.0,740.7 1674.1,746.2 1669.7,753.7 1665.7,758.0 1659.2,762.0 1652.7,763.7" fill="none" stroke="#898989" stroke-width="0.9"/>
<path d="M1652.7,762.2 1645.7,762.0 1638.2,759.3 1633.7,756.1 1628.3,749.7 1624.5,743.2 1620.6,733.2 1619.4,727.7 1618.0,715.2 1617.9,709.2 1619.2,699.2 1621.6,691.2 1624.4,685.2 1628.5,679.2 1633.2,674.7 1637.7,672.1 1643.2,670.8 1648.7,670.8 1654.2,672.0 1658.7,674.4 1663.2,678.5 1667.5,684.2 1673.4,693.7 1676.0,701.2 1677.4,708.7 1678.1,726.7 1675.1,740.2 1673.4,745.2 1669.3,752.2 1665.2,756.7 1659.2,760.4 1652.7,762.2" fill="none" stroke="#878787" stroke-width="0.9"/>
<path d="M1652.7,760.7 1647.2,760.8 1641.7,759.3 1636.7,756.8 1632.7,753.2 1627.9,747.2 1625.0,741.7 1621.6,733.2 1620.1,725.7 1618.9,713.7 1619.0,707.7 1620.3,698.7 1623.4,689.7 1627.4,682.7 1632.2,677.1 1637.2,673.8 1642.7,672.3 1648.2,672.3 1653.7,673.5 1658.2,675.8 1662.6,679.7 1668.9,688.2 1672.5,694.2 1675.0,701.2 1676.3,708.2 1677.1,726.7 1674.1,739.7 1672.4,744.7 1668.5,751.2 1664.2,755.8 1658.7,759.1 1652.7,760.7" fill="none" stroke="#858585" stroke-width="0.9"/>
<path d="M1652.7,759.2 1647.7,759.4 1642.2,758.0 1637.2,755.5 1633.2,751.9 1629.0,746.7 1625.9,741.2 1622.5,732.7 1621.1,725.7 1619.9,713.7 1620.0,708.7 1621.1,699.7 1623.6,692.2 1627.5,684.7 1632.2,678.8 1636.7,675.5 1642.2,673.9 1647.7,673.9 1653.2,675.0 1657.7,677.2 1661.7,680.6 1666.6,686.7 1671.4,694.2 1673.5,699.7 1675.1,707.2 1676.2,726.2 1673.5,738.2 1671.7,743.7 1668.1,749.7 1663.7,754.5 1658.7,757.5 1652.7,759.2" fill="none" stroke="#848484" stroke-width="0.9"/>
<path d="M1652.2,757.7 1647.2,757.8 1641.7,756.3 1637.2,753.8 1633.2,750.1 1629.2,745.0 1625.9,738.7 1623.3,732.2 1622.1,725.7 1620.9,709.2 1622.0,700.7 1624.0,694.2 1627.7,686.7 1632.2,680.6 1636.7,677.1 1642.2,675.4 1647.7,675.5 1653.2,676.7 1657.7,679.0 1661.5,682.2 1666.4,688.2 1670.5,694.7 1672.7,700.7 1674.1,707.7 1675.1,726.2 1670.9,742.7 1667.7,748.3 1663.2,753.2 1658.2,756.2 1652.2,757.7" fill="none" stroke="#828282" stroke-width="0.9"/>
<path d="M1651.2,756.2 1646.2,756.0 1641.2,754.5 1637.2,752.1 1633.2,748.3 1629.4,743.2 1625.9,736.2 1623.9,730.7 1622.9,724.7 1622.0,708.7 1622.9,701.2 1624.8,695.2 1628.5,687.7 1632.7,682.0 1637.2,678.5 1642.2,677.0 1647.2,677.0 1652.7,678.3 1657.2,680.4 1661.2,683.6 1666.2,689.7 1669.8,695.7 1672.0,701.7 1673.1,708.2 1674.2,721.2 1674.1,726.2 1671.9,736.2 1669.7,742.7 1666.2,748.2 1661.7,752.6 1657.2,754.9 1651.2,756.2" fill="none" stroke="#808080" stroke-width="0.9"/>
<path d="M1653.7,754.3 1648.7,754.7 1644.2,754.0 1639.7,752.1 1635.7,749.1 1631.8,744.7 1628.5,739.2 1625.6,732.7 1624.1,726.7 1622.9,710.2 1623.6,703.2 1625.0,697.7 1628.4,690.2 1632.7,683.9 1636.7,680.4 1641.7,678.6 1646.7,678.5 1651.7,679.6 1656.2,681.5 1660.2,684.4 1664.5,689.2 1668.4,695.2 1670.5,700.2 1671.8,706.2 1673.2,725.2 1672.4,730.2 1669.6,740.2 1667.0,745.2 1662.7,750.1 1658.7,752.7 1653.7,754.3" fill="none" stroke="#7f7f7f" stroke-width="0.9"/>
<path d="M1653.2,752.7 1648.2,753.0 1643.7,752.3 1639.7,750.5 1635.7,747.3 1632.1,743.2 1628.6,737.2 1626.3,731.7 1624.9,725.7 1623.9,709.7 1624.6,703.2 1626.1,697.7 1629.8,690.2 1633.7,684.7 1637.7,681.5 1642.2,680.1 1646.7,680.1 1651.7,681.1 1656.2,683.1 1660.2,686.0 1664.3,690.7 1667.5,695.7 1669.5,700.7 1670.8,706.7 1672.2,724.7 1671.3,730.2 1668.6,739.7 1665.9,744.7 1662.2,748.7 1658.2,751.3 1653.2,752.7" fill="#000" fill-opacity="0.03" stroke="#7d7d7d" stroke-width="0.9"/>
<path d="M1652.2,751.2 1647.2,751.4 1643.2,750.5 1639.2,748.5 1635.7,745.6 1632.2,741.2 1628.9,735.2 1626.9,730.2 1625.8,724.7 1624.9,709.2 1625.6,703.2 1627.1,698.2 1630.9,690.7 1634.6,685.7 1638.2,683.0 1642.7,681.6 1647.7,681.7 1652.7,683.0 1656.7,684.9 1660.7,688.1 1664.5,692.7 1667.0,697.2 1668.8,702.2 1670.0,708.2 1671.0,718.2 1671.1,724.7 1670.0,731.2 1667.6,739.2 1665.1,743.7 1661.2,747.8 1657.2,750.1 1652.2,751.2" fill="#000" fill-opacity="0.03" stroke="#7b7b7b" stroke-width="0.9"/>
<path d="M1651.7,749.8 1647.2,749.9 1643.2,749.0 1639.7,747.2 1636.1,744.2 1632.9,740.2 1629.6,734.2 1627.7,729.2 1626.6,723.7 1625.9,708.7 1626.7,703.2 1628.1,698.7 1631.4,692.2 1635.0,687.2 1638.7,684.3 1642.7,683.1 1647.7,683.1 1652.7,684.4 1656.7,686.4 1660.7,689.7 1663.9,693.7 1666.5,698.7 1668.1,703.7 1669.3,710.7 1670.1,719.2 1670.1,725.2 1668.8,731.7 1666.4,739.2 1663.7,743.6 1660.2,746.9 1656.2,748.8 1651.7,749.8" fill="#000" fill-opacity="0.03" stroke="#7a7a7a" stroke-width="0.9"/>
<path d="M1652.2,748.2 1647.7,748.4 1643.7,747.7 1640.2,745.9 1636.9,743.2 1633.6,739.2 1630.5,733.7 1628.6,728.7 1627.6,723.7 1626.9,709.2 1627.5,704.2 1629.0,699.2 1632.4,692.7 1635.7,688.4 1639.2,685.7 1643.2,684.5 1647.7,684.5 1652.7,685.8 1656.7,687.9 1660.6,691.2 1663.3,694.7 1665.6,699.2 1667.1,704.2 1668.4,711.2 1669.2,719.2 1669.0,725.2 1667.8,731.7 1665.6,738.2 1663.3,742.2 1660.2,745.2 1656.7,747.1 1652.2,748.2" fill="#000" fill-opacity="0.03" stroke="#787878" stroke-width="0.9"/>
<path d="M1652.2,746.8 1647.7,747.0 1644.2,746.3 1640.7,744.6 1637.7,742.2 1634.4,738.2 1631.5,733.2 1629.5,728.2 1628.5,723.2 1627.9,709.2 1628.5,704.7 1629.8,700.2 1632.9,694.2 1636.2,689.7 1639.2,687.3 1643.2,685.9 1647.7,685.9 1652.2,687.0 1656.2,689.0 1660.1,692.2 1662.7,695.7 1664.6,699.7 1667.5,711.7 1668.2,718.7 1668.1,724.7 1667.0,730.7 1664.8,737.2 1662.7,740.9 1659.7,743.9 1656.2,745.8 1652.2,746.8" fill="#000" fill-opacity="0.03" stroke="#767676" stroke-width="0.9"/>
<path d="M1652.7,745.3 1648.2,745.6 1644.7,745.0 1641.2,743.3 1638.2,740.9 1635.2,737.3 1632.5,732.7 1630.6,728.2 1629.5,723.2 1628.9,709.7 1629.4,705.2 1630.8,700.7 1633.6,695.2 1636.7,691.0 1639.7,688.6 1643.7,687.2 1647.7,687.2 1652.2,688.3 1656.2,690.4 1659.7,693.4 1662.1,696.7 1663.9,700.7 1666.6,712.2 1667.2,718.7 1667.1,724.2 1666.0,730.2 1664.3,735.7 1662.2,739.5 1659.7,742.2 1656.7,744.1 1652.7,745.3" fill="#000" fill-opacity="0.03" stroke="#757575" stroke-width="0.9"/>
<path d="M1653.2,743.8 1649.2,744.2 1645.7,743.7 1642.2,742.3 1639.2,740.1 1636.2,736.7 1633.4,732.2 1631.5,727.7 1630.4,723.2 1629.8,710.2 1630.4,705.7 1631.6,701.7 1634.3,696.2 1637.2,692.3 1640.2,689.8 1643.7,688.6 1647.7,688.5 1651.7,689.5 1655.7,691.5 1658.9,694.2 1661.2,697.2 1662.8,700.7 1665.5,711.7 1666.3,717.7 1666.2,723.2 1665.5,728.2 1663.9,733.7 1661.9,737.7 1659.7,740.4 1656.7,742.6 1653.2,743.8" fill="#000" fill-opacity="0.03" stroke="#737373" stroke-width="0.9"/>
<path d="M1650.7,742.7 1647.2,742.6 1644.2,741.7 1641.2,740.0 1638.2,737.3 1635.6,733.7 1633.2,729.2 1631.1,720.7 1630.9,709.2 1633.0,701.2 1635.4,696.7 1638.2,693.0 1641.2,690.8 1644.7,689.8 1648.7,690.0 1652.7,691.2 1656.2,693.3 1659.2,696.2 1662.6,703.2 1665.1,715.2 1665.4,720.7 1664.9,725.7 1663.8,730.7 1661.9,735.2 1659.7,738.5 1657.2,740.7 1654.2,742.1 1650.7,742.7" fill="#000" fill-opacity="0.03" stroke="#717171" stroke-width="0.9"/>
<path d="M1651.7,741.2 1648.2,741.3 1645.2,740.6 1642.2,739.1 1639.7,737.0 1637.0,733.7 1634.6,729.7 1633.1,725.7 1632.1,721.2 1631.8,710.2 1633.8,702.2 1636.1,697.7 1638.7,694.3 1641.7,692.1 1644.7,691.2 1648.2,691.2 1652.2,692.4 1655.7,694.4 1658.1,696.7 1661.5,703.2 1664.1,714.7 1664.2,724.2 1661.6,733.2 1659.7,736.5 1657.5,738.7 1654.7,740.4 1651.7,741.2" fill="#000" fill-opacity="0.03" stroke="#707070" stroke-width="0.9"/>
<path d="M1651.7,739.8 1648.7,739.9 1645.7,739.3 1642.7,737.8 1640.2,735.7 1635.4,728.7 1633.1,721.2 1632.7,710.7 1634.5,703.2 1636.9,698.7 1639.2,695.6 1641.7,693.6 1644.7,692.6 1648.2,692.5 1651.7,693.5 1654.7,695.2 1657.5,697.7 1660.6,703.7 1663.1,714.7 1663.3,723.2 1661.1,731.7 1659.4,734.7 1657.2,737.2 1654.7,738.8 1651.7,739.8" fill="#000" fill-opacity="0.03" stroke="#6e6e6e" stroke-width="0.9"/>
<path d="M1652.2,738.2 1649.2,738.6 1646.2,738.0 1641.2,735.0 1636.3,728.2 1634.0,720.7 1633.7,711.2 1635.5,703.7 1639.9,696.7 1642.2,694.9 1645.2,693.9 1648.2,693.9 1651.2,694.7 1654.2,696.3 1656.7,698.6 1659.7,704.2 1662.1,714.2 1662.5,722.2 1660.5,730.2 1657.2,735.4 1654.7,737.3 1652.2,738.2" fill="#000" fill-opacity="0.03" stroke="#6c6c6c" stroke-width="0.9"/>
<path d="M1652.2,736.8 1649.7,737.2 1646.7,736.7 1644.2,735.6 1641.7,733.7 1637.3,727.7 1635.0,720.7 1634.6,712.2 1636.1,705.2 1640.2,698.3 1642.7,696.2 1645.2,695.3 1648.2,695.3 1651.2,696.1 1653.7,697.5 1656.1,699.7 1658.9,705.2 1661.2,714.2 1661.6,721.7 1660.0,728.7 1656.7,734.0 1652.2,736.8" fill="#000" fill-opacity="0.03" stroke="#6b6b6b" stroke-width="0.9"/>
<path d="M1650.2,735.7 1647.7,735.6 1645.2,734.7 1641.0,731.2 1637.3,725.2 1635.6,718.2 1635.7,710.7 1637.8,704.2 1641.7,698.7 1643.7,697.4 1646.2,696.7 1648.7,696.8 1651.7,697.8 1655.7,701.2 1658.5,707.2 1660.6,716.7 1660.3,723.7 1658.3,729.7 1654.7,734.0 1650.2,735.7" fill="#000" fill-opacity="0.03" stroke="#696969" stroke-width="0.9"/>
<path d="M1650.7,734.2 1646.2,733.7 1642.2,730.7 1638.5,725.2 1636.7,718.7 1636.6,711.7 1638.3,705.7 1642.1,700.2 1646.2,698.2 1648.7,698.2 1651.2,699.0 1655.0,702.2 1657.5,707.2 1659.6,716.2 1659.5,722.7 1657.9,728.2 1654.7,732.3 1650.7,734.2" fill="#000" fill-opacity="0.03" stroke="#676767" stroke-width="0.9"/>
<path d="M1650.7,732.8 1648.2,732.8 1646.2,732.2 1642.4,729.2 1639.2,724.2 1637.6,718.2 1637.6,711.7 1639.3,706.2 1642.7,701.6 1646.7,699.7 1651.2,700.6 1654.7,703.7 1657.0,708.7 1658.6,716.2 1658.6,722.2 1657.1,727.2 1654.2,731.1 1650.7,732.8" fill="#000" fill-opacity="0.03" stroke="#666666" stroke-width="0.9"/>
<path d="M1650.7,731.3 1646.7,730.9 1643.2,728.3 1640.2,723.7 1638.6,718.2 1638.6,712.2 1640.1,707.2 1643.2,703.0 1646.7,701.2 1650.7,701.9 1653.7,704.4 1655.9,708.7 1657.6,715.7 1657.7,721.2 1656.4,726.2 1653.8,729.7 1650.7,731.3" fill="#000" fill-opacity="0.03" stroke="#646464" stroke-width="0.9"/>
<path d="M1650.7,729.8 1647.2,729.6 1643.7,727.1 1640.9,722.7 1639.6,717.7 1639.6,712.2 1641.1,707.7 1643.7,704.4 1647.2,702.7 1650.7,703.4 1653.2,705.7 1655.2,709.7 1656.7,715.7 1656.8,720.7 1655.8,724.7 1653.7,728.0 1650.7,729.8" fill="#000" fill-opacity="0.03" stroke="#626262" stroke-width="0.9"/>
<path d="M1650.7,728.3 1647.2,728.1 1644.2,726.0 1641.8,722.2 1640.6,717.7 1640.6,712.7 1641.9,708.7 1644.2,705.7 1647.2,704.3 1650.2,704.8 1652.5,706.7 1654.4,710.2 1655.6,715.2 1655.9,719.7 1655.0,723.7 1653.2,726.7 1650.7,728.3" fill="#000" fill-opacity="0.03" stroke="#616161" stroke-width="0.9"/>
<path d="M1650.7,726.7 1647.7,726.8 1645.2,725.3 1642.9,722.2 1641.6,718.2 1641.4,714.2 1642.4,710.2 1644.5,707.2 1647.2,705.8 1649.7,706.1 1651.8,707.7 1653.5,710.7 1654.6,714.7 1654.9,718.7 1654.3,722.2 1652.7,725.2 1650.7,726.7" fill="#000" fill-opacity="0.03" stroke="#5f5f5f" stroke-width="0.9"/>
<path d="M1650.2,725.3 1647.7,725.3 1645.3,723.7 1643.6,721.2 1642.5,717.7 1642.4,714.2 1643.4,710.7 1645.2,708.3 1647.2,707.3 1649.2,707.5 1651.2,708.9 1652.8,711.7 1653.8,715.2 1653.9,718.7 1653.3,721.7 1652.2,723.8 1650.2,725.3" fill="#000" fill-opacity="0.03" stroke="#5d5d5d" stroke-width="0.9"/>
<path d="M1649.7,723.9 1647.7,723.8 1645.9,722.7 1644.5,720.7 1643.5,717.7 1643.4,714.7 1644.1,711.7 1645.5,709.7 1647.2,708.8 1649.2,709.0 1650.7,710.2 1651.9,712.2 1652.8,715.2 1652.5,720.7 1651.4,722.7 1649.7,723.9" fill="#000" fill-opacity="0.03" stroke="#5c5c5c" stroke-width="0.9"/>
<path d="M1649.7,722.2 1648.2,722.5 1646.7,721.8 1645.4,720.2 1644.5,717.7 1644.7,713.1 1645.7,711.3 1647.2,710.3 1648.7,710.4 1650.2,711.5 1651.8,715.2 1651.6,719.7 1649.7,722.2" fill="#000" fill-opacity="0.03" stroke="#5a5a5a" stroke-width="0.9"/>
<path d="M1649.2,720.8 1647.7,720.8 1646.7,720.1 1645.3,717.2 1645.7,713.5 1647.7,711.8 1649.7,712.8 1650.9,715.7 1650.7,718.9 1649.2,720.8" fill="#fff" stroke="#585858" stroke-width="0.9"/>
<path d="M1648.7,719.4 1647.2,719.0 1646.2,716.7 1646.4,714.7 1647.7,713.4 1649.2,714.1 1649.9,715.7 1649.8,718.2 1648.7,719.4" fill="#fff" stroke="#575757" stroke-width="0.9"/>
<path d="M1648.2,718.0 1647.1,716.7 1647.7,715.0 1648.5,715.2 1649.0,716.2 1648.2,718.0" fill="#fff" stroke="#555555" stroke-width="0.9"/>
</g>
<rect x="1486.7" y="610.2" width="229.5" height="229.8" fill="none" stroke="#b0b0b0" stroke-width="1.2"/>
<line x1="1572.6" y1="610.2" x2="1572.6" y2="840" stroke="#707070" stroke-width="1.2"/>
<line x1="1486.7" y1="745.8" x2="1716.2" y2="745.8" stroke="#707070" stroke-width="1.2"/>
<line x1="1482.7" y1="630.9" x2="1486.7" y2="630.9" stroke="#999" stroke-width="1"/>
<line x1="1482.7" y1="684" x2="1486.7" y2="684" stroke="#999" stroke-width="1"/>
<line x1="1482.7" y1="739.6" x2="1486.7" y2="739.6" stroke="#999" stroke-width="1"/>
<line x1="1482.7" y1="807.8" x2="1486.7" y2="807.8" stroke="#999" stroke-width="1"/>
<line x1="1484.2" y1="668" x2="1486.7" y2="668" stroke="#aaa" stroke-width="0.8"/>
<line x1="1484.2" y1="658.7" x2="1486.7" y2="658.7" stroke="#aaa" stroke-width="0.8"/>
<line x1="1484.2" y1="652" x2="1486.7" y2="652" stroke="#aaa" stroke-width="0.8"/>
<line x1="1484.2" y1="646.9" x2="1486.7" y2="646.9" stroke="#aaa" stroke-width="0.8"/>
<line x1="1484.2" y1="642.7" x2="1486.7" y2="642.7" stroke="#aaa" stroke-width="0.8"/>
<line x1="1484.2" y1="639.1" x2="1486.7" y2="639.1" stroke="#aaa" stroke-width="0.8"/>
<line x1="1484.2" y1="636" x2="1486.7" y2="636" stroke="#aaa" stroke-width="0.8"/>
<line x1="1484.2" y1="633.3" x2="1486.7" y2="633.3" stroke="#aaa" stroke-width="0.8"/>
<line x1="1484.2" y1="722.9" x2="1486.7" y2="722.9" stroke="#aaa" stroke-width="0.8"/>
<line x1="1484.2" y1="713.1" x2="1486.7" y2="713.1" stroke="#aaa" stroke-width="0.8"/>
<line x1="1484.2" y1="706.1" x2="1486.7" y2="706.1" stroke="#aaa" stroke-width="0.8"/>
<line x1="1484.2" y1="700.7" x2="1486.7" y2="700.7" stroke="#aaa" stroke-width="0.8"/>
<line x1="1484.2" y1="696.3" x2="1486.7" y2="696.3" stroke="#aaa" stroke-width="0.8"/>
<line x1="1484.2" y1="692.6" x2="1486.7" y2="692.6" stroke="#aaa" stroke-width="0.8"/>
<line x1="1484.2" y1="689.4" x2="1486.7" y2="689.4" stroke="#aaa" stroke-width="0.8"/>
<line x1="1484.2" y1="686.5" x2="1486.7" y2="686.5" stroke="#aaa" stroke-width="0.8"/>
<line x1="1484.2" y1="615.2" x2="1486.7" y2="615.2" stroke="#aaa" stroke-width="0.8"/>
<line x1="1484.2" y1="619.2" x2="1486.7" y2="619.2" stroke="#aaa" stroke-width="0.8"/>
<line x1="1484.2" y1="622.2" x2="1486.7" y2="622.2" stroke="#aaa" stroke-width="0.8"/>
<line x1="1484.2" y1="625.2" x2="1486.7" y2="625.2" stroke="#aaa" stroke-width="0.8"/>
<line x1="1484.2" y1="628.2" x2="1486.7" y2="628.2" stroke="#aaa" stroke-width="0.8"/>
<line x1="1484.2" y1="750.2" x2="1486.7" y2="750.2" stroke="#aaa" stroke-width="0.8"/>
<line x1="1484.2" y1="762.2" x2="1486.7" y2="762.2" stroke="#aaa" stroke-width="0.8"/>
<line x1="1484.2" y1="775.2" x2="1486.7" y2="775.2" stroke="#aaa" stroke-width="0.8"/>
<line x1="1484.2" y1="785.2" x2="1486.7" y2="785.2" stroke="#aaa" stroke-width="0.8"/>
<line x1="1484.2" y1="795.2" x2="1486.7" y2="795.2" stroke="#aaa" stroke-width="0.8"/>
<line x1="1484.2" y1="800.2" x2="1486.7" y2="800.2" stroke="#aaa" stroke-width="0.8"/>
<line x1="1484.2" y1="815.2" x2="1486.7" y2="815.2" stroke="#aaa" stroke-width="0.8"/>
<line x1="1484.2" y1="822.2" x2="1486.7" y2="822.2" stroke="#aaa" stroke-width="0.8"/>
<line x1="1484.2" y1="830.2" x2="1486.7" y2="830.2" stroke="#aaa" stroke-width="0.8"/>
<rect x="1482.7" y="805.2" width="3" height="5" fill="#333"/>
<line x1="1522.8" y1="840" x2="1522.8" y2="845" stroke="#999" stroke-width="1"/>
<line x1="1585.5" y1="840" x2="1585.5" y2="845" stroke="#999" stroke-width="1"/>
<line x1="1640.8" y1="840" x2="1640.8" y2="845" stroke="#999" stroke-width="1"/>
<line x1="1693.5" y1="840" x2="1693.5" y2="845" stroke="#999" stroke-width="1"/>
<line x1="1602.1" y1="840" x2="1602.1" y2="843" stroke="#aaa" stroke-width="0.8"/>
<line x1="1611.9" y1="840" x2="1611.9" y2="843" stroke="#aaa" stroke-width="0.8"/>
<line x1="1618.8" y1="840" x2="1618.8" y2="843" stroke="#aaa" stroke-width="0.8"/>
<line x1="1624.2" y1="840" x2="1624.2" y2="843" stroke="#aaa" stroke-width="0.8"/>
<line x1="1628.5" y1="840" x2="1628.5" y2="843" stroke="#aaa" stroke-width="0.8"/>
<line x1="1632.2" y1="840" x2="1632.2" y2="843" stroke="#aaa" stroke-width="0.8"/>
<line x1="1635.4" y1="840" x2="1635.4" y2="843" stroke="#aaa" stroke-width="0.8"/>
<line x1="1638.3" y1="840" x2="1638.3" y2="843" stroke="#aaa" stroke-width="0.8"/>
<line x1="1656.7" y1="840" x2="1656.7" y2="843" stroke="#aaa" stroke-width="0.8"/>
<line x1="1665.9" y1="840" x2="1665.9" y2="843" stroke="#aaa" stroke-width="0.8"/>
<line x1="1672.5" y1="840" x2="1672.5" y2="843" stroke="#aaa" stroke-width="0.8"/>
<line x1="1677.6" y1="840" x2="1677.6" y2="843" stroke="#aaa" stroke-width="0.8"/>
<line x1="1681.8" y1="840" x2="1681.8" y2="843" stroke="#aaa" stroke-width="0.8"/>
<line x1="1685.3" y1="840" x2="1685.3" y2="843" stroke="#aaa" stroke-width="0.8"/>
<line x1="1688.4" y1="840" x2="1688.4" y2="843" stroke="#aaa" stroke-width="0.8"/>
<line x1="1691.1" y1="840" x2="1691.1" y2="843" stroke="#aaa" stroke-width="0.8"/>
<line x1="1494.7" y1="840" x2="1494.7" y2="843" stroke="#aaa" stroke-width="0.8"/>
<line x1="1502.7" y1="840" x2="1502.7" y2="843" stroke="#aaa" stroke-width="0.8"/>
<line x1="1512.7" y1="840" x2="1512.7" y2="843" stroke="#aaa" stroke-width="0.8"/>
<line x1="1516.7" y1="840" x2="1516.7" y2="843" stroke="#aaa" stroke-width="0.8"/>
<line x1="1520.7" y1="840" x2="1520.7" y2="843" stroke="#aaa" stroke-width="0.8"/>
<line x1="1526.7" y1="840" x2="1526.7" y2="843" stroke="#aaa" stroke-width="0.8"/>
<line x1="1530.7" y1="840" x2="1530.7" y2="843" stroke="#aaa" stroke-width="0.8"/>
<line x1="1536.7" y1="840" x2="1536.7" y2="843" stroke="#aaa" stroke-width="0.8"/>
<line x1="1546.7" y1="840" x2="1546.7" y2="843" stroke="#aaa" stroke-width="0.8"/>
<line x1="1556.7" y1="840" x2="1556.7" y2="843" stroke="#aaa" stroke-width="0.8"/>
<line x1="1564.7" y1="840" x2="1564.7" y2="843" stroke="#aaa" stroke-width="0.8"/>
<line x1="1571.7" y1="840" x2="1571.7" y2="843" stroke="#aaa" stroke-width="0.8"/>
<line x1="1574.7" y1="840" x2="1574.7" y2="843" stroke="#aaa" stroke-width="0.8"/>
<line x1="1578.7" y1="840" x2="1578.7" y2="843" stroke="#aaa" stroke-width="0.8"/>
<line x1="1582.7" y1="840" x2="1582.7" y2="843" stroke="#aaa" stroke-width="0.8"/>
<line x1="1701.7" y1="840" x2="1701.7" y2="843" stroke="#aaa" stroke-width="0.8"/>
<line x1="1708.7" y1="840" x2="1708.7" y2="843" stroke="#aaa" stroke-width="0.8"/>
<rect x="1521.7" y="841.0" width="3" height="4" fill="#333"/>
<text x="1492.5" y="637" font-size="25">0</text>
<text x="1658.8" y="632.7" font-size="25">94.4</text>
<text x="1492.5" y="829.5" font-size="25">0.41</text>
<text x="1663.2" y="829.2" font-size="25">5.14</text>
<path d="M1030.0,108.3h0M1036.5,133.2h0M1048.0,148.6h0M1046.0,160.2h0M1060.5,167.0h0M1088.0,136.0h0M895.0,230.0h0M959.4,223.5h0M890.8,140.4h0M1076.0,405.5h0M1068.7,413.5h0M1069.3,416.8h0M1056.0,423.4h0M1085.9,429.4h0M1084.0,446.6h0M1040.8,439.3h0M884.5,418.1h0M893.0,436.7h0M898.4,479.0h0M927.6,476.4h0M872.6,497.6h0M908.4,506.9h0M918.3,504.9h0M1209.8,388.3h0M1245.8,383.7h0M1291.2,382.7h0M1202.7,428.7h0M1200.2,431.4h0M1210.4,434.0h0M1213.7,452.6h0M1219.0,459.8h0M1234.9,463.4h0M1255.5,451.9h0M1263.4,456.8h0M1251.1,479.7h0M1253.7,501.3h0M949.7,695.1h0M958.4,695.1h0M962.1,702.2h0M952.3,722.0h0M964.9,725.7h0M953.2,741.7h0M1058.9,680.0h0M1084.0,690.5h0M1086.5,717.9h0M1088.4,724.0h0M1065.0,726.5h0M1062.4,734.5h0M1048.0,739.0h0M1078.5,752.4h0M1023.0,782.0h0M1013.0,788.4h0M1195.4,119.8h0M1196.2,144.9h0M1251.5,119.8h0M1351.7,120.9h0M1358.4,136.4h0M1357.3,173.3h0M1370.2,169.6h0M1240.4,198.3h0M1253.3,204.6h0M1244.0,221.2h0M1252.6,227.8h0M1222.0,227.8h0M1686.5,132.0h0M1526.1,210.1h0M1539.0,209.4h0M1546.4,212.0h0M1553.8,217.5h0M1561.1,207.2h0M1567.0,200.9h0M1260.7,691.3h0M1268.0,726.4h0M1277.3,731.9h0M1268.0,739.3h0M1280.2,725.6h0M1250.4,729.3h0M1290.9,757.0h0M1372.0,685.0h0M1383.0,715.7h0M1589.9,669.6h0M1592.5,718.2h0M1613.9,749.6h0M1535.3,769.1h0M1569.3,773.5h0M1637.8,780.9h0M1687.6,695.0h0M1644.0,664.8h0M616.7,713.8h0M1548.2,412.9h0M1569.3,411.0h0M1532.4,452.7h0M1579.6,441.7h0" stroke="#666" stroke-width="1.5" stroke-linecap="round" fill="none"/>
<text x="503.7" y="636.5" font-size="20.5">10<tspan font-size="14" dy="-8.5">5</tspan></text>
<text x="503.7" y="688.2" font-size="20.5">10<tspan font-size="14" dy="-8.5">4</tspan></text>
<text x="503.7" y="743.9" font-size="20.5">10<tspan font-size="14" dy="-8.5">3</tspan></text>
<text x="535.2" y="814.1" font-size="20.5" text-anchor="end">0</text>
<text x="633.0" y="868" font-size="20.5">10<tspan font-size="14" dy="-8.5">3</tspan></text>
<text x="688.3" y="868" font-size="20.5">10<tspan font-size="14" dy="-8.5">4</tspan></text>
<text x="741.0" y="868" font-size="20.5">10<tspan font-size="14" dy="-8.5">5</tspan></text>
<text x="584.3" y="868" font-size="20.5" text-anchor="middle">0</text>
<text x="-1" y="975.5" font-size="41" font-weight="bold">c</text>
<text x="263" y="990.3" font-size="25.5" text-anchor="middle">IgD</text>
<rect x="163.5" y="1383.7" width="55.8" height="7.6" fill="#9dcf98" stroke="#555" stroke-width="1.3"/>
<rect x="247.1" y="1329.2" width="55.8" height="62.1" fill="#9bcfcf" stroke="#555" stroke-width="1.3"/>
<rect x="330.8" y="1130.3" width="55.8" height="261" fill="#9abadf" stroke="#555" stroke-width="1.3"/>
<line x1="275" y1="1329.2" x2="275" y2="1309.3" stroke="#555" stroke-width="1.5"/>
<line x1="261" y1="1309.3" x2="289" y2="1309.3" stroke="#555" stroke-width="1.5"/>
<line x1="358.7" y1="1130.3" x2="358.7" y2="1098" stroke="#555" stroke-width="1.5"/>
<line x1="344.7" y1="1098" x2="372.6" y2="1098" stroke="#555" stroke-width="1.5"/>
<line x1="135.6" y1="1036.5" x2="135.6" y2="1391.3" stroke="#666" stroke-width="1.5"/>
<line x1="135.6" y1="1391.3" x2="414.4" y2="1391.3" stroke="#666" stroke-width="1.5"/>
<line x1="130.8" y1="1391.3" x2="135.6" y2="1391.3" stroke="#666" stroke-width="1.5"/>
<text x="123.1" y="1400.2" font-size="25.2" text-anchor="end">0</text>
<line x1="130.8" y1="1320.3" x2="135.6" y2="1320.3" stroke="#666" stroke-width="1.5"/>
<text x="123.1" y="1329.2" font-size="25.2" text-anchor="end">10</text>
<line x1="130.8" y1="1249.4" x2="135.6" y2="1249.4" stroke="#666" stroke-width="1.5"/>
<text x="123.1" y="1258.3" font-size="25.2" text-anchor="end">20</text>
<line x1="130.8" y1="1178.4" x2="135.6" y2="1178.4" stroke="#666" stroke-width="1.5"/>
<text x="123.1" y="1187.3" font-size="25.2" text-anchor="end">30</text>
<line x1="130.8" y1="1107.4" x2="135.6" y2="1107.4" stroke="#666" stroke-width="1.5"/>
<text x="123.1" y="1116.3" font-size="25.2" text-anchor="end">40</text>
<line x1="130.8" y1="1036.4" x2="135.6" y2="1036.4" stroke="#666" stroke-width="1.5"/>
<text x="123.1" y="1045.3" font-size="25.2" text-anchor="end">50</text>
<line x1="191.4" y1="1391.3" x2="191.4" y2="1396.3" stroke="#666" stroke-width="1.5"/>
<text x="204.9" y="1415.8" font-size="25.2" text-anchor="end" transform="rotate(-45 204.9 1415.8)">DN</text>
<line x1="275" y1="1391.3" x2="275" y2="1396.3" stroke="#666" stroke-width="1.5"/>
<text x="288.5" y="1415.8" font-size="25.2" text-anchor="end" transform="rotate(-45 288.5 1415.8)">SP</text>
<line x1="358.7" y1="1391.3" x2="358.7" y2="1396.3" stroke="#666" stroke-width="1.5"/>
<text x="372.2" y="1415.8" font-size="25.2" text-anchor="end" transform="rotate(-45 372.2 1415.8)">DP</text>
<text x="78.3" y="1217" font-size="25.2" text-anchor="middle" transform="rotate(-90 78.3 1217)">% Of cells</text>
<circle cx="170.3" cy="1382.5" r="6.8" fill="#000"/>
<circle cx="184.3" cy="1381.0" r="6.8" fill="#000"/>
<circle cx="198.2" cy="1382.0" r="6.8" fill="#000"/>
<circle cx="212.4" cy="1382.5" r="6.8" fill="#000"/>
<rect x="247.3" y="1317.2" width="14" height="14" fill="#000"/>
<rect x="268.0" y="1303.2" width="14" height="14" fill="#000"/>
<rect x="288.3" y="1314.6" width="14" height="14" fill="#000"/>
<rect x="268.0" y="1348.9" width="14" height="14" fill="#000"/>
<path d="M358.2,1089.5 L365.7,1102.5 L350.7,1102.5 Z" fill="#000" stroke="none" stroke-width="0" stroke-linejoin="miter"/>
<path d="M379.5,1112.8 L387.0,1125.8 L372.0,1125.8 Z" fill="#000" stroke="none" stroke-width="0" stroke-linejoin="miter"/>
<path d="M337.1,1125.0 L344.6,1138.0 L329.6,1138.0 Z" fill="#000" stroke="none" stroke-width="0" stroke-linejoin="miter"/>
<path d="M358.2,1163.0 L365.7,1176.0 L350.7,1176.0 Z" fill="#000" stroke="none" stroke-width="0" stroke-linejoin="miter"/>
<text x="458.5" y="974.4" font-size="41" font-weight="bold">d</text>
<text x="695.4" y="988.3" font-size="25.5" text-anchor="middle">BAFF-R</text>
<rect x="585.2" y="1312" width="56.3" height="78.8" fill="#9dcf98" stroke="#555" stroke-width="1.3"/>
<rect x="669.2" y="1257" width="56.2" height="133.8" fill="#9bcfcf" stroke="#555" stroke-width="1.3"/>
<rect x="753.3" y="1139.6" width="56" height="251.2" fill="#9abadf" stroke="#555" stroke-width="1.3"/>
<line x1="613.4" y1="1312" x2="613.4" y2="1282.3" stroke="#555" stroke-width="1.5"/>
<line x1="599.7" y1="1282.3" x2="627.6" y2="1282.3" stroke="#555" stroke-width="1.5"/>
<line x1="697.3" y1="1257" x2="697.3" y2="1219.7" stroke="#555" stroke-width="1.5"/>
<line x1="683.3" y1="1219.7" x2="711.2" y2="1219.7" stroke="#555" stroke-width="1.5"/>
<line x1="781.3" y1="1139.6" x2="781.3" y2="1084.1" stroke="#555" stroke-width="1.5"/>
<line x1="768.3" y1="1084.1" x2="794.9" y2="1084.1" stroke="#555" stroke-width="1.5"/>
<line x1="557.4" y1="1035.2" x2="557.4" y2="1390.8" stroke="#666" stroke-width="1.5"/>
<line x1="557.4" y1="1390.8" x2="837.2" y2="1390.8" stroke="#666" stroke-width="1.5"/>
<line x1="552.6" y1="1390.8" x2="557.4" y2="1390.8" stroke="#666" stroke-width="1.5"/>
<text x="544.9" y="1399.7" font-size="25.2" text-anchor="end">0</text>
<line x1="552.6" y1="1301.9" x2="557.4" y2="1301.9" stroke="#666" stroke-width="1.5"/>
<text x="544.9" y="1310.8" font-size="25.2" text-anchor="end">500</text>
<line x1="552.6" y1="1213" x2="557.4" y2="1213" stroke="#666" stroke-width="1.5"/>
<text x="544.9" y="1222" font-size="25.2" text-anchor="end">1000</text>
<line x1="552.6" y1="1124.2" x2="557.4" y2="1124.2" stroke="#666" stroke-width="1.5"/>
<text x="544.9" y="1133.1" font-size="25.2" text-anchor="end">1500</text>
<line x1="552.6" y1="1035.3" x2="557.4" y2="1035.3" stroke="#666" stroke-width="1.5"/>
<text x="544.9" y="1044.2" font-size="25.2" text-anchor="end">2000</text>
<line x1="613.4" y1="1390.8" x2="613.4" y2="1395.8" stroke="#666" stroke-width="1.5"/>
<text x="626.9" y="1415.3" font-size="25.2" text-anchor="end" transform="rotate(-45 626.9 1415.3)">DN</text>
<line x1="697.3" y1="1390.8" x2="697.3" y2="1395.8" stroke="#666" stroke-width="1.5"/>
<text x="710.8" y="1415.3" font-size="25.2" text-anchor="end" transform="rotate(-45 710.8 1415.3)">SP</text>
<line x1="781.3" y1="1390.8" x2="781.3" y2="1395.8" stroke="#666" stroke-width="1.5"/>
<text x="794.8" y="1415.3" font-size="25.2" text-anchor="end" transform="rotate(-45 794.8 1415.3)">DP</text>
<text x="479.3" y="1214" font-size="25.2" text-anchor="middle" transform="rotate(-90 479.3 1214)">MFI</text>
<circle cx="592.6" cy="1292.0" r="6.8" fill="#000"/>
<circle cx="634.7" cy="1282.3" r="6.8" fill="#000"/>
<circle cx="613.4" cy="1326.7" r="6.8" fill="#000"/>
<circle cx="613.4" cy="1343.2" r="6.8" fill="#000"/>
<rect x="669.5" y="1218.3" width="14" height="14" fill="#000"/>
<rect x="711.3" y="1217.8" width="14" height="14" fill="#000"/>
<rect x="690.3" y="1272.8" width="14" height="14" fill="#000"/>
<rect x="690.3" y="1288.0" width="14" height="14" fill="#000"/>
<path d="M760.7,1090.8 L768.2,1103.8 L753.2,1103.8 Z" fill="#000" stroke="none" stroke-width="0" stroke-linejoin="miter"/>
<path d="M802.5,1081.9 L810.0,1094.9 L795.0,1094.9 Z" fill="#000" stroke="none" stroke-width="0" stroke-linejoin="miter"/>
<path d="M781.4,1160.5 L788.9,1173.5 L773.9,1173.5 Z" fill="#000" stroke="none" stroke-width="0" stroke-linejoin="miter"/>
<path d="M781.4,1193.9 L788.9,1206.9 L773.9,1206.9 Z" fill="#000" stroke="none" stroke-width="0" stroke-linejoin="miter"/>
<text x="881" y="975.3" font-size="41" font-weight="bold">e</text>
<line x1="970.8" y1="992.4" x2="970.8" y2="1335.5" stroke="#333" stroke-width="1.7"/>
<line x1="955.2" y1="1320.7" x2="1378.3" y2="1320.7" stroke="#333" stroke-width="1.7"/>
<line x1="955.2" y1="1320.7" x2="970.8" y2="1320.7" stroke="#333" stroke-width="1.7"/>
<text x="947.5" y="1329.6" font-size="24.7" text-anchor="end">0</text>
<line x1="955.2" y1="1255" x2="970.8" y2="1255" stroke="#333" stroke-width="1.7"/>
<text x="947.5" y="1263.9" font-size="24.7" text-anchor="end">20</text>
<line x1="955.2" y1="1189.4" x2="970.8" y2="1189.4" stroke="#333" stroke-width="1.7"/>
<text x="947.5" y="1198.3" font-size="24.7" text-anchor="end">40</text>
<line x1="955.2" y1="1123.7" x2="970.8" y2="1123.7" stroke="#333" stroke-width="1.7"/>
<text x="947.5" y="1132.6" font-size="24.7" text-anchor="end">60</text>
<line x1="955.2" y1="1058" x2="970.8" y2="1058" stroke="#333" stroke-width="1.7"/>
<text x="947.5" y="1066.9" font-size="24.7" text-anchor="end">80</text>
<line x1="955.2" y1="992.4" x2="970.8" y2="992.4" stroke="#333" stroke-width="1.7"/>
<text x="947.5" y="1001.2" font-size="24.7" text-anchor="end">100</text>
<line x1="970.8" y1="1320.7" x2="970.8" y2="1335.5" stroke="#333" stroke-width="1.7"/>
<text x="970.8" y="1361.3" font-size="25" text-anchor="middle">0</text>
<line x1="1106.4" y1="1320.7" x2="1106.4" y2="1335.5" stroke="#333" stroke-width="1.7"/>
<text x="1106.4" y="1361.3" font-size="25" text-anchor="middle">1</text>
<line x1="1242" y1="1320.7" x2="1242" y2="1335.5" stroke="#333" stroke-width="1.7"/>
<text x="1242" y="1361.3" font-size="25" text-anchor="middle">2</text>
<line x1="1378.3" y1="1320.7" x2="1378.3" y2="1335.5" stroke="#333" stroke-width="1.7"/>
<text x="1378.3" y="1361.3" font-size="25" text-anchor="middle">3</text>
<text x="1174.5" y="1393.5" font-size="25.2" text-anchor="middle">Days</text>
<text x="902" y="1160.6" font-size="25.2" text-anchor="middle" transform="rotate(-90 902 1160.6)">% Live cells</text>
<polyline points="970.8,992.4 1106.4,1151.6 1242.0,1181.8 1378.3,1172.9" fill="none" stroke="#5cc8e2" stroke-width="1.6" stroke-dasharray="16 9"/>
<polyline points="970.8,992.4 1106.4,1135.8 1242.0,1177.9 1378.3,1189.4" fill="none" stroke="#33b9d6" stroke-width="1.6"/>
<polyline points="970.8,992.4 1106.4,1056.0 1242.0,1065.9 1378.3,1086.6" fill="none" stroke="#1f72bd" stroke-width="1.6" stroke-dasharray="16 9"/>
<polyline points="970.8,992.4 1106.4,1077.1 1242.0,1142.4 1378.3,1231.7" fill="none" stroke="#1f72bd" stroke-width="1.6"/>
<polyline points="970.8,992.4 1106.4,998.3 1242.0,998.3 1378.3,996.9" fill="none" stroke="#27a35f" stroke-width="1.6" stroke-dasharray="16 9"/>
<polyline points="970.8,992.4 1106.4,997.9 1242.0,996.0 1378.3,994.0" fill="none" stroke="#27a35f" stroke-width="1.6"/>
<circle cx="970.8" cy="992.4" r="6.8" fill="#0c8c45"/>
<circle cx="1106.4" cy="997.9" r="6.8" fill="#0c8c45"/>
<circle cx="1242.0" cy="996.0" r="6.8" fill="#0c8c45"/>
<circle cx="1378.3" cy="994.0" r="6.8" fill="#0c8c45"/>
<circle cx="970.8" cy="992.4" r="6.2" fill="#fff" stroke="#27a35f" stroke-width="1.5"/>
<circle cx="1106.4" cy="998.3" r="6.2" fill="#fff" stroke="#27a35f" stroke-width="1.5"/>
<circle cx="1242.0" cy="998.3" r="6.2" fill="#fff" stroke="#27a35f" stroke-width="1.5"/>
<circle cx="1378.3" cy="996.9" r="6.2" fill="#fff" stroke="#27a35f" stroke-width="1.5"/>
<line x1="1106.4" y1="1127.3" x2="1106.4" y2="1144.4" stroke="#222" stroke-width="1.6"/>
<line x1="1099.4" y1="1127.3" x2="1113.4" y2="1127.3" stroke="#222" stroke-width="1.6"/>
<line x1="1099.4" y1="1144.4" x2="1113.4" y2="1144.4" stroke="#222" stroke-width="1.6"/>
<line x1="1242" y1="1171.3" x2="1242" y2="1184.4" stroke="#222" stroke-width="1.6"/>
<line x1="1235" y1="1171.3" x2="1249" y2="1171.3" stroke="#222" stroke-width="1.6"/>
<line x1="1235" y1="1184.4" x2="1249" y2="1184.4" stroke="#222" stroke-width="1.6"/>
<line x1="1378.3" y1="1181.2" x2="1378.3" y2="1206.8" stroke="#222" stroke-width="1.6"/>
<line x1="1371.3" y1="1181.2" x2="1385.3" y2="1181.2" stroke="#222" stroke-width="1.6"/>
<line x1="1371.3" y1="1206.8" x2="1385.3" y2="1206.8" stroke="#222" stroke-width="1.6"/>
<rect x="963.9" y="985.5" width="13.8" height="13.8" fill="#33b9d6"/>
<rect x="1099.5" y="1128.9" width="13.8" height="13.8" fill="#33b9d6"/>
<rect x="1235.1" y="1171.0" width="13.8" height="13.8" fill="#33b9d6"/>
<rect x="1371.4" y="1182.5" width="13.8" height="13.8" fill="#33b9d6"/>
<line x1="1106.4" y1="1131.6" x2="1106.4" y2="1171.3" stroke="#222" stroke-width="1.6"/>
<line x1="1099.4" y1="1131.6" x2="1113.4" y2="1131.6" stroke="#222" stroke-width="1.6"/>
<line x1="1099.4" y1="1171.3" x2="1113.4" y2="1171.3" stroke="#222" stroke-width="1.6"/>
<line x1="1242" y1="1158.2" x2="1242" y2="1206.1" stroke="#222" stroke-width="1.6"/>
<line x1="1235" y1="1158.2" x2="1249" y2="1158.2" stroke="#222" stroke-width="1.6"/>
<line x1="1235" y1="1206.1" x2="1249" y2="1206.1" stroke="#222" stroke-width="1.6"/>
<line x1="1378.3" y1="1152.3" x2="1378.3" y2="1193.6" stroke="#222" stroke-width="1.6"/>
<line x1="1371.3" y1="1152.3" x2="1385.3" y2="1152.3" stroke="#222" stroke-width="1.6"/>
<line x1="1371.3" y1="1193.6" x2="1385.3" y2="1193.6" stroke="#222" stroke-width="1.6"/>
<rect x="964.6" y="986.1" width="12.4" height="12.4" fill="#fff" stroke="#5cc8e2" stroke-width="1.5"/>
<rect x="1100.2" y="1145.4" width="12.4" height="12.4" fill="#fff" stroke="#5cc8e2" stroke-width="1.5"/>
<rect x="1235.8" y="1175.6" width="12.4" height="12.4" fill="#fff" stroke="#5cc8e2" stroke-width="1.5"/>
<rect x="1372.1" y="1166.7" width="12.4" height="12.4" fill="#fff" stroke="#5cc8e2" stroke-width="1.5"/>
<line x1="1106.4" y1="1066.2" x2="1106.4" y2="1087.6" stroke="#222" stroke-width="1.6"/>
<line x1="1099.4" y1="1066.2" x2="1113.4" y2="1066.2" stroke="#222" stroke-width="1.6"/>
<line x1="1099.4" y1="1087.6" x2="1113.4" y2="1087.6" stroke="#222" stroke-width="1.6"/>
<line x1="1242" y1="1122.7" x2="1242" y2="1162.1" stroke="#222" stroke-width="1.6"/>
<line x1="1235" y1="1122.7" x2="1249" y2="1122.7" stroke="#222" stroke-width="1.6"/>
<line x1="1235" y1="1162.1" x2="1249" y2="1162.1" stroke="#222" stroke-width="1.6"/>
<line x1="1378.3" y1="1222.2" x2="1378.3" y2="1239.3" stroke="#222" stroke-width="1.6"/>
<line x1="1371.3" y1="1222.2" x2="1385.3" y2="1222.2" stroke="#222" stroke-width="1.6"/>
<line x1="1371.3" y1="1239.3" x2="1385.3" y2="1239.3" stroke="#222" stroke-width="1.6"/>
<path d="M970.8,984.8 L977.7,998.0 L963.9,998.0 Z" fill="#0b67b5"/>
<path d="M1106.4,1069.5 L1113.3,1082.7 L1099.5,1082.7 Z" fill="#0b67b5"/>
<path d="M1242.0,1134.8 L1248.9,1148.0 L1235.1,1148.0 Z" fill="#0b67b5"/>
<path d="M1378.3,1224.1 L1385.2,1237.3 L1371.4,1237.3 Z" fill="#0b67b5"/>
<line x1="1106.4" y1="1046.9" x2="1106.4" y2="1064.3" stroke="#222" stroke-width="1.6"/>
<line x1="1099.4" y1="1046.9" x2="1113.4" y2="1046.9" stroke="#222" stroke-width="1.6"/>
<line x1="1099.4" y1="1064.3" x2="1113.4" y2="1064.3" stroke="#222" stroke-width="1.6"/>
<line x1="1242" y1="1059" x2="1242" y2="1072.8" stroke="#222" stroke-width="1.6"/>
<line x1="1235" y1="1059" x2="1249" y2="1059" stroke="#222" stroke-width="1.6"/>
<line x1="1235" y1="1072.8" x2="1249" y2="1072.8" stroke="#222" stroke-width="1.6"/>
<line x1="1378.3" y1="1078.4" x2="1378.3" y2="1094.1" stroke="#222" stroke-width="1.6"/>
<line x1="1371.3" y1="1078.4" x2="1385.3" y2="1078.4" stroke="#222" stroke-width="1.6"/>
<line x1="1371.3" y1="1094.1" x2="1385.3" y2="1094.1" stroke="#222" stroke-width="1.6"/>
<path d="M970.8,985.4 L977.1,997.4 L964.5,997.4 Z" fill="#fff" stroke="#1f72bd" stroke-width="1.5"/>
<path d="M1106.4,1049.0 L1112.7,1061.0 L1100.1,1061.0 Z" fill="#fff" stroke="#1f72bd" stroke-width="1.5"/>
<path d="M1242.0,1058.9 L1248.3,1070.9 L1235.7,1070.9 Z" fill="#fff" stroke="#1f72bd" stroke-width="1.5"/>
<path d="M1378.3,1079.6 L1384.6,1091.6 L1372.0,1091.6 Z" fill="#fff" stroke="#1f72bd" stroke-width="1.5"/>
<text x="1242.3" y="1048.8" font-size="19" text-anchor="middle" stroke="#000" stroke-width="0.5">**</text>
<text x="1379" y="1070.4" font-size="19" text-anchor="middle" stroke="#000" stroke-width="0.5">****</text>
<line x1="1470.7" y1="1015.6" x2="1506.6" y2="1015.6" stroke="#27a35f" stroke-width="1.6"/>
<circle cx="1488.7" cy="1015.6" r="6.8" fill="#0c8c45"/>
<text x="1513" y="1022.9" font-size="21">DN</text>
<line x1="1470.7" y1="1062.2" x2="1484" y2="1062.2" stroke="#27a35f" stroke-width="1.6"/>
<line x1="1497.6" y1="1062.2" x2="1506.6" y2="1062.2" stroke="#27a35f" stroke-width="1.6"/>
<circle cx="1488.7" cy="1062.2" r="6.2" fill="#fff" stroke="#27a35f" stroke-width="1.5"/>
<text x="1513" y="1069.5" font-size="21">DN + BAFF</text>
<line x1="1470.7" y1="1108.7" x2="1506.6" y2="1108.7" stroke="#5cc8e2" stroke-width="1.6"/>
<rect x="1481.8" y="1101.8" width="13.8" height="13.8" fill="#33b9d6"/>
<text x="1513" y="1116" font-size="21">SP</text>
<line x1="1470.7" y1="1155.2" x2="1484" y2="1155.2" stroke="#33b9d6" stroke-width="1.6"/>
<line x1="1497.6" y1="1155.2" x2="1506.6" y2="1155.2" stroke="#33b9d6" stroke-width="1.6"/>
<rect x="1482.5" y="1149.0" width="12.4" height="12.4" fill="#fff" stroke="#5cc8e2" stroke-width="1.5"/>
<text x="1513" y="1162.5" font-size="21">SP + BAFF</text>
<line x1="1470.7" y1="1201.8" x2="1506.6" y2="1201.8" stroke="#1f72bd" stroke-width="1.6"/>
<path d="M1488.7,1194.2 L1495.6,1207.4 L1481.8,1207.4 Z" fill="#0b67b5"/>
<text x="1513" y="1209.1" font-size="21">DP</text>
<line x1="1470.7" y1="1248.3" x2="1484" y2="1248.3" stroke="#1f72bd" stroke-width="1.6"/>
<line x1="1497.6" y1="1248.3" x2="1506.6" y2="1248.3" stroke="#1f72bd" stroke-width="1.6"/>
<path d="M1488.7,1241.3 L1495.0,1253.3 L1482.4,1253.3 Z" fill="#fff" stroke="#1f72bd" stroke-width="1.5"/>
<text x="1513" y="1255.6" font-size="21">DP + BAFF</text>
<text x="-1.5" y="1506.3" font-size="41" font-weight="bold">f</text>
<text x="410.5" y="1511.3" font-size="25" text-anchor="middle">Proteotype PCA</text>
<line x1="162" y1="1542.7" x2="162" y2="2063.8" stroke="#000" stroke-width="2.1"/>
<line x1="161" y1="2062.8" x2="652" y2="2062.8" stroke="#000" stroke-width="2.1"/>
<line x1="155.1" y1="1556.9" x2="162" y2="1556.9" stroke="#333" stroke-width="1.8"/>
<text x="148.2" y="1565.8" font-size="25.2" text-anchor="end">50</text>
<line x1="155.1" y1="1673.8" x2="162" y2="1673.8" stroke="#333" stroke-width="1.8"/>
<text x="148.2" y="1682.7" font-size="25.2" text-anchor="end">25</text>
<line x1="155.1" y1="1790.7" x2="162" y2="1790.7" stroke="#333" stroke-width="1.8"/>
<text x="148.2" y="1799.6" font-size="25.2" text-anchor="end">0</text>
<line x1="155.1" y1="1907.6" x2="162" y2="1907.6" stroke="#333" stroke-width="1.8"/>
<text x="148.2" y="1916.5" font-size="25.2" text-anchor="end">−25</text>
<line x1="155.1" y1="2024.5" x2="162" y2="2024.5" stroke="#333" stroke-width="1.8"/>
<text x="148.2" y="2033.5" font-size="25.2" text-anchor="end">−50</text>
<line x1="264.6" y1="2062.8" x2="264.6" y2="2069.4" stroke="#333" stroke-width="1.8"/>
<text x="259.6" y="2101.2" font-size="25.2" text-anchor="middle">−25</text>
<line x1="381.9" y1="2062.8" x2="381.9" y2="2069.4" stroke="#333" stroke-width="1.8"/>
<text x="381.9" y="2101.2" font-size="25.2" text-anchor="middle">0</text>
<line x1="499.1" y1="2062.8" x2="499.1" y2="2069.4" stroke="#333" stroke-width="1.8"/>
<text x="499.1" y="2101.2" font-size="25.2" text-anchor="middle">25</text>
<line x1="616.4" y1="2062.8" x2="616.4" y2="2069.4" stroke="#333" stroke-width="1.8"/>
<text x="616.4" y="2101.2" font-size="25.2" text-anchor="middle">50</text>
<text x="441.8" y="2137.5" font-size="25" text-anchor="middle">PC1 (17.8% explained var.)</text>
<text x="88" y="1791" font-size="25" text-anchor="middle" transform="rotate(-90 88 1791)">PC2 (15.8% explained var.)</text>
<ellipse cx="236.4" cy="1788.5" rx="113" ry="20.1" transform="rotate(63.6 236.4 1788.5)" fill="none" stroke="#F8766D" stroke-width="2.6"/>
<ellipse cx="344.5" cy="1709.2" rx="88.2" ry="14.8" transform="rotate(67.3 344.5 1709.2)" fill="none" stroke="#00BF7D" stroke-width="2.6"/>
<ellipse cx="500.2" cy="1678.2" rx="121.7" ry="44.9" transform="rotate(-67.3 500.2 1678.2)" fill="none" stroke="#00B0F6" stroke-width="2.6"/>
<ellipse cx="350.7" cy="1924.5" rx="115" ry="19.6" transform="rotate(88.5 350.7 1924.5)" fill="none" stroke="#A3A500" stroke-width="2.6"/>
<ellipse cx="576.2" cy="1919" rx="118.5" ry="38" transform="rotate(44 576.2 1919)" fill="none" stroke="#E76BF3" stroke-width="2.6"/>
<text x="187.5" y="1742" font-size="26" fill="#F8766D">SB</text>
<text x="231.9" y="1796.8" font-size="26" fill="#F8766D">SB</text>
<text x="219" y="1813" font-size="26" fill="#F8766D">SB</text>
<text x="236" y="1840.3" font-size="26" fill="#F8766D">SB</text>
<text x="310.5" y="1671" font-size="26" fill="#00BF7D">SP</text>
<text x="320.6" y="1722" font-size="26" fill="#00BF7D">SP</text>
<text x="328.6" y="1730" font-size="26" fill="#00BF7D">SP</text>
<text x="344.8" y="1746.4" font-size="26" fill="#00BF7D">SP</text>
<text x="506.4" y="1630.8" font-size="26" fill="#00B0F6">DP</text>
<text x="486.5" y="1672.9" font-size="26" fill="#00B0F6">DP</text>
<text x="446.1" y="1715.6" font-size="26" fill="#00B0F6">DP</text>
<text x="487" y="1733.2" font-size="26" fill="#00B0F6">DP</text>
<text x="326.5" y="1869.8" font-size="26" fill="#A3A500">DN</text>
<text x="333" y="1932.1" font-size="26" fill="#A3A500">DN</text>
<text x="341.3" y="1954" font-size="26" fill="#A3A500">DN</text>
<text x="324.3" y="1979.6" font-size="26" fill="#A3A500">DN</text>
<text x="504.9" y="1870.8" font-size="26" fill="#E76BF3">T1</text>
<text x="613.2" y="1980.3" font-size="26" fill="#E76BF3">T1</text>
</svg></body></html>
